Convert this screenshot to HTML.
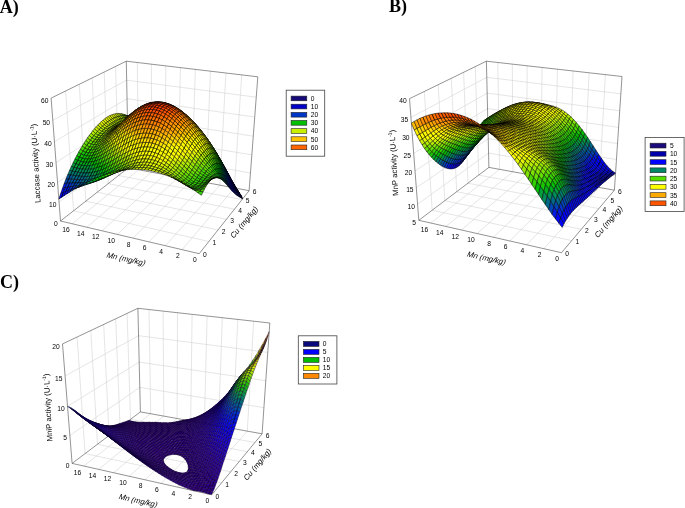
<!DOCTYPE html>
<html><head><meta charset="utf-8"><title>Figure</title>
<style>
html,body{margin:0;padding:0;background:#fff}
svg{display:block}
.g{stroke:#cfcfcf;stroke-width:.55;fill:none}
.e{stroke:#3a3a3a;stroke-width:.55;fill:none}
.s path{stroke:#000;stroke-width:.5;stroke-linejoin:round}
.sc path{stroke:#10002c;stroke-width:.4;stroke-linejoin:round}
text{font-family:"Liberation Sans",sans-serif;font-size:6.7px;fill:#000}
.t{font-size:7.8px}
.h{font-family:"Liberation Serif",serif;font-weight:bold;font-size:18px}
</style></head><body>
<svg width="685" height="508" viewBox="0 0 685 508">
<rect width="685" height="508" fill="#fff"/>
<g><path class="g" d="M182.1 249.7L234.4 187.9M165.4 245.7L220 185.1M149 241.9L205.9 182.5M133 238.1L191.9 179.8M117.3 234.4L178.3 177.2M101.9 230.8L164.8 174.7M86.9 227.2L151.6 172.2M72.1 223.8L138.6 169.7M208.9 241.5L73.5 210.8M218 230L85.8 201.2M226.5 219.3L97.3 192.2M234.5 209.2L108.3 183.6M242 199.6L118.6 175.5M73.5 210.8L65.7 90.9M85.8 201.2L79.3 84.2M97.3 192.2L92.2 77.9M108.3 183.6L104.2 72M118.6 175.5L115.6 66.4M59.1 202.1L128.1 151.2M57.6 182.6L127.7 134.1M56 162.5L127.4 116.6M54.4 141.7L127 98.7M52.8 120.3L126.6 80.2M234.4 187.9L241.7 74.9M220 185.1L225.9 73.1M205.9 182.5L210.5 71.2M191.9 179.8L195.3 69.4M178.3 177.2L180.4 67.6M164.8 174.7L165.8 65.9M151.6 172.2L151.4 64.2M138.6 169.7L137.3 62.5M250.5 173L128.1 151.2M251.8 154.9L127.7 134.1M253.3 136.2L127.4 116.6M254.7 117L127 98.7M256.3 97.2L126.6 80.2"/>
<path class="e" d="M60.5 221L199.2 253.7M199.2 253.7L249.1 190.7M60.5 221L128.4 167.8M128.4 167.8L249.1 190.7M60.5 221L51.1 98.1M128.4 167.8L126.3 61.2M249.1 190.7L257.8 76.8M51.1 98.1L126.3 61.2M126.3 61.2L257.8 76.8"/></g>
<g class="s"><path fill="#64df00" d="M128.4 116.1l-2.6-.9 1.6 .8 2.5 .4zM130.9 116.9l-2.5-.8 1.5 .3 2.5 .4zM133.5 117.5l-2.6-.6 1.5-.1 2.6 .4zM136.1 118l-2.6-.5 1.5-.3 2.5 .3zM138.6 118.4l-2.5-.4 1.4-.5 2.6 .4zM141.2 118.9l-2.6-.5 1.5-.5 2.6 .4zM143.8 119.3l-2.6-.4 1.5-.6 2.6 .6zM146.4 119.8l-2.6-.5 1.5-.4 2.6 .5zM149 120.3l-2.6-.5 1.5-.4 2.6 .7zM151.6 120.9l-2.6-.6 1.5-.2 2.6 .8zM154.3 121.6l-2.7-.7 1.5 0 2.6 .9z"/>
<path fill="#4bd800" d="M156.9 122.5l-2.6-.9 1.4 .2 2.6 1zM159.5 123.5l-2.6-1 1.4 .3 2.6 1.2zM162.2 124.6l-2.7-1.1 1.4 .5 2.7 1.2z"/>
<path fill="#32d000" d="M164.8 125.8l-2.6-1.2 1.4 .6 2.6 1.4zM167.5 127.2l-2.7-1.4 1.4 .8 2.6 1.6z"/>
<path fill="#19c700" d="M170.2 128.7l-2.7-1.5 1.3 1 2.7 1.6zM172.8 130.4l-2.6-1.7 1.3 1.1 2.6 1.8z"/>
<path fill="#00be00" d="M175.5 132.3l-2.7-1.9 1.3 1.2 2.7 1.9z"/>
<path fill="#00ae1d" d="M178.2 134.2l-2.7-1.9 1.3 1.2 2.6 2.1z"/>
<path fill="#009e3b" d="M180.8 136.3l-2.6-2.1 1.2 1.4 2.7 2.1z"/>
<path fill="#008e58" d="M183.5 138.5l-2.7-2.2 1.3 1.4 2.6 2.2zM186.2 140.8l-2.7-2.3 1.2 1.4 2.7 2.4z"/>
<path fill="#007c71" d="M188.8 143.3l-2.6-2.5 1.2 1.5 2.6 2.4z"/>
<path fill="#00579f" d="M191.5 145.8l-2.7-2.5 1.2 1.4 2.7 2.6z"/>
<path fill="#0045b6" d="M194.1 148.4l-2.6-2.6 1.2 1.5 2.6 2.6z"/>
<path fill="#0032cd" d="M196.8 151l-2.7-2.6 1.2 1.5 2.7 2.6z"/>
<path fill="#001ce3" d="M199.5 153.8l-2.7-2.8 1.2 1.5 2.6 2.8z"/>
<path fill="#0006f9" d="M202.1 156.5l-2.6-2.7 1.1 1.5 2.6 2.7z"/>
<path fill="#0000ff" d="M204.8 159.3l-2.7-2.8 1.1 1.5 2.7 2.9zM207.4 162.2l-2.6-2.9 1.1 1.6 2.6 2.8z"/>
<path fill="#0000e6" d="M210.1 165l-2.7-2.8 1.1 1.5 2.6 2.9z"/>
<path fill="#0000d9" d="M212.7 167.8l-2.6-2.8 1 1.6 2.7 2.9z"/>
<path fill="#0000cd" d="M215.4 170.7l-2.7-2.9 1.1 1.7 2.6 2.9z"/>
<path fill="#0000ae" d="M218 173.5l-2.6-2.8 1 1.7 2.6 2.9z"/>
<path fill="#07039c" d="M220.7 176.4l-2.7-2.9 1 1.8 2.6 2.9z"/>
<path fill="#0a0494" d="M223.3 179.2l-2.6-2.8 .9 1.8 2.7 2.9z"/>
<path fill="#0e068d" d="M226 182l-2.7-2.8 1 1.9 2.6 2.9z"/>
<path fill="#110785" d="M228.6 184.8l-2.6-2.8 .9 2 2.6 2.8z"/>
<path fill="#15097e" d="M231.3 187.5l-2.7-2.7 .9 2 .1 .2 2 1.3z"/>
<path fill="#180a76" d="M232.7 189l-1.4-1.5 .3 .8z"/>
<path fill="#7ee300" d="M126.8 115.9l-2.5-1.4 1.5 .7 2.6 .9zM129.4 117l-2.6-1.1 1.6 .2 2.5 .8zM132 117.8l-2.6-.8 1.5-.1 2.6 .6z"/>
<path fill="#64df00" d="M134.6 118.5l-2.6-.7 1.5-.3 2.6 .5zM137.2 119l-2.6-.5 1.5-.5 2.5 .4zM139.8 119.4l-2.6-.4 1.4-.6 2.6 .5zM142.4 119.8l-2.6-.4 1.4-.5 2.6 .4zM145 120.1l-2.6-.3 1.4-.5 2.6 .5zM147.6 120.5l-2.6-.4 1.4-.3 2.6 .5zM150.2 121l-2.6-.5 1.4-.2 2.6 .6zM152.9 121.5l-2.7-.5 1.4-.1 2.7 .7zM155.5 122.2l-2.6-.7 1.4 .1 2.6 .9zM158.2 123l-2.7-.8 1.4 .3 2.6 1zM160.8 123.9l-2.6-.9 1.3 .5 2.7 1.1z"/>
<path fill="#4bd800" d="M163.5 125l-2.7-1.1 1.4 .7 2.6 1.2zM166.2 126.2l-2.7-1.2 1.3 .8 2.7 1.4z"/>
<path fill="#32d000" d="M168.8 127.6l-2.6-1.4 1.3 1 2.7 1.5zM171.5 129.1l-2.7-1.5 1.4 1.1 2.6 1.7z"/>
<path fill="#19c700" d="M174.2 130.8l-2.7-1.7 1.3 1.3 2.7 1.9z"/>
<path fill="#00be00" d="M176.9 132.7l-2.7-1.9 1.3 1.5 2.7 1.9zM179.6 134.6l-2.7-1.9 1.3 1.5 2.6 2.1z"/>
<path fill="#00ae1d" d="M182.2 136.8l-2.6-2.2 1.2 1.7 2.7 2.2z"/>
<path fill="#009e3b" d="M184.9 139l-2.7-2.2 1.3 1.7 2.7 2.3z"/>
<path fill="#008e58" d="M187.6 141.3l-2.7-2.3 1.3 1.8 2.6 2.5z"/>
<path fill="#007c71" d="M190.3 143.8l-2.7-2.5 1.2 2 2.7 2.5z"/>
<path fill="#006a88" d="M193 146.3l-2.7-2.5 1.2 2 2.6 2.6z"/>
<path fill="#00579f" d="M195.6 149l-2.6-2.7 1.1 2.1 2.7 2.6z"/>
<path fill="#0045b6" d="M198.3 151.6l-2.7-2.6 1.2 2 2.7 2.8z"/>
<path fill="#001ce3" d="M201 154.4l-2.7-2.8 1.2 2.2 2.6 2.7z"/>
<path fill="#0006f9" d="M203.7 157.1l-2.7-2.7 1.1 2.1 2.7 2.8z"/>
<path fill="#0000ff" d="M206.3 159.9l-2.6-2.8 1.1 2.2 2.6 2.9zM209 162.7l-2.7-2.8 1.1 2.3 2.7 2.8z"/>
<path fill="#0000f2" d="M211.7 165.6l-2.7-2.9 1.1 2.3 2.6 2.8z"/>
<path fill="#0000d9" d="M214.4 168.4l-2.7-2.8 1 2.2 2.7 2.9z"/>
<path fill="#0000cd" d="M217 171.2l-2.6-2.8 1 2.3 2.6 2.8z"/>
<path fill="#0000ae" d="M219.7 174l-2.7-2.8 1 2.3 2.7 2.9z"/>
<path fill="#0301a3" d="M222.4 176.8l-2.7-2.8 1 2.4 2.6 2.8z"/>
<path fill="#07039c" d="M225 179.6l-2.6-2.8 .9 2.4 2.7 2.8z"/>
<path fill="#0e068d" d="M227.7 182.4l-2.7-2.8 1 2.4 2.6 2.8z"/>
<path fill="#110785" d="M230.4 185.2l-2.7-2.8 .9 2.4 2.7 2.7z"/>
<path fill="#15097e" d="M233 188l-2.6-2.8 .9 2.3 1.4 1.5 1 .6z"/>
<path fill="#180a76" d="M235.7 190.8l-2.7-2.8 .7 1.6 2.1 1.4zM236.1 191.2l-.4-.4 .1 .2z"/>
<path fill="#98e700" d="M125.3 115.8l-2.6-1.8 1.6 .5 2.5 1.4z"/>
<path fill="#7ee300" d="M127.9 117.2l-2.6-1.4 1.5 .1 2.6 1.1zM130.5 118.2l-2.6-1 1.5-.2 2.6 .8zM133.1 118.9l-2.6-.7 1.5-.4 2.6 .7zM135.7 119.5l-2.6-.6 1.5-.4 2.6 .5zM138.3 119.9l-2.6-.4 1.5-.5 2.6 .4zM140.9 120.2l-2.6-.3 1.5-.5 2.6 .4zM143.5 120.5l-2.6-.3 1.5-.4 2.6 .3zM146.1 120.8l-2.6-.3 1.5-.4 2.6 .4zM148.8 121.1l-2.7-.3 1.5-.3 2.6 .5zM151.4 121.5l-2.6-.4 1.4-.1 2.7 .5zM154.1 121.9l-2.7-.4 1.5 0 2.6 .7zM156.7 122.5l-2.6-.6 1.4 .3 2.7 .8z"/>
<path fill="#64df00" d="M159.4 123.3l-2.7-.8 1.5 .5 2.6 .9zM162.1 124.1l-2.7-.8 1.4 .6 2.7 1.1zM164.8 125.2l-2.7-1.1 1.4 .9 2.7 1.2z"/>
<path fill="#4bd800" d="M167.5 126.4l-2.7-1.2 1.4 1 2.6 1.4zM170.2 127.7l-2.7-1.3 1.3 1.2 2.7 1.5z"/>
<path fill="#32d000" d="M172.9 129.2l-2.7-1.5 1.3 1.4 2.7 1.7zM175.6 130.9l-2.7-1.7 1.3 1.6 2.7 1.9z"/>
<path fill="#19c700" d="M178.3 132.7l-2.7-1.8 1.3 1.8 2.7 1.9z"/>
<path fill="#00be00" d="M181 134.7l-2.7-2 1.3 1.9 2.6 2.2z"/>
<path fill="#00ae1d" d="M183.7 136.8l-2.7-2.1 1.2 2.1 2.7 2.2zM186.4 139l-2.7-2.2 1.2 2.2 2.7 2.3z"/>
<path fill="#009e3b" d="M189.1 141.4l-2.7-2.4 1.2 2.3 2.7 2.5z"/>
<path fill="#008e58" d="M191.8 143.8l-2.7-2.4 1.2 2.4 2.7 2.5z"/>
<path fill="#007c71" d="M194.5 146.4l-2.7-2.6 1.2 2.5 2.6 2.7z"/>
<path fill="#00579f" d="M197.2 149l-2.7-2.6 1.1 2.6 2.7 2.6z"/>
<path fill="#0045b6" d="M199.9 151.7l-2.7-2.7 1.1 2.6 2.7 2.8z"/>
<path fill="#0032cd" d="M202.6 154.4l-2.7-2.7 1.1 2.7 2.7 2.7z"/>
<path fill="#001ce3" d="M205.3 157.2l-2.7-2.8 1.1 2.7 2.6 2.8z"/>
<path fill="#0006f9" d="M208 159.9l-2.7-2.7 1 2.7 2.7 2.8z"/>
<path fill="#0000ff" d="M210.7 162.7l-2.7-2.8 1 2.8 2.7 2.9z"/>
<path fill="#0000f2" d="M213.4 165.6l-2.7-2.9 1 2.9 2.7 2.8z"/>
<path fill="#0000e6" d="M216 168.4l-2.6-2.8 1 2.8 2.6 2.8z"/>
<path fill="#0000d9" d="M218.7 171.2l-2.7-2.8 1 2.8 2.7 2.8z"/>
<path fill="#0000cd" d="M221.4 174.1l-2.7-2.9 1 2.8 2.7 2.8z"/>
<path fill="#0000ae" d="M224.1 176.9l-2.7-2.8 1 2.7 2.6 2.8z"/>
<path fill="#07039c" d="M226.8 179.8l-2.7-2.9 .9 2.7 2.7 2.8z"/>
<path fill="#0a0494" d="M229.5 182.7l-2.7-2.9 .9 2.6 2.7 2.8z"/>
<path fill="#0e068d" d="M232.2 185.6l-2.7-2.9 .9 2.5 2.6 2.8z"/>
<path fill="#110785" d="M234.8 188.6l-2.6-3 .8 2.4 2.7 2.8z"/>
<path fill="#15097e" d="M237.5 191.6l-2.7-3 .9 2.2 .4 .4 1.7 1.3z"/>
<path fill="#180a76" d="M238.9 193.3l-1.4-1.7 .3 .9z"/>
<path fill="#98e700" d="M123.7 115.8l-2.6-2.1 1.6 .3 2.6 1.8zM126.4 117.4l-2.7-1.6 1.6 0 2.6 1.4z"/>
<path fill="#7ee300" d="M129 118.6l-2.6-1.2 1.5-.2 2.6 1zM131.6 119.4l-2.6-.8 1.5-.4 2.6 .7zM134.2 120l-2.6-.6 1.5-.5 2.6 .6zM136.8 120.4l-2.6-.4 1.5-.5 2.6 .4zM139.4 120.7l-2.6-.3 1.5-.5 2.6 .3zM142 120.9l-2.6-.2 1.5-.5 2.6 .3zM144.7 121l-2.7-.1 1.5-.4 2.6 .3zM147.3 121.2l-2.6-.2 1.4-.2 2.7 .3zM150 121.4l-2.7-.2 1.5-.1 2.6 .4zM152.6 121.7l-2.6-.3 1.4 .1 2.7 .4zM155.3 122.1l-2.7-.4 1.5 .2 2.6 .6zM158 122.6l-2.7-.5 1.4 .4 2.7 .8zM160.7 123.2l-2.7-.6 1.4 .7 2.7 .8zM163.4 124l-2.7-.8 1.4 .9 2.7 1.1zM166.1 125l-2.7-1 1.4 1.2 2.7 1.2z"/>
<path fill="#64df00" d="M168.8 126.2l-2.7-1.2 1.4 1.4 2.7 1.3zM171.5 127.5l-2.7-1.3 1.4 1.5 2.7 1.5z"/>
<path fill="#4bd800" d="M174.3 128.9l-2.8-1.4 1.4 1.7 2.7 1.7zM177 130.6l-2.7-1.7 1.3 2 2.7 1.8z"/>
<path fill="#32d000" d="M179.7 132.4l-2.7-1.8 1.3 2.1 2.7 2z"/>
<path fill="#19c700" d="M182.4 134.3l-2.7-1.9 1.3 2.3 2.7 2.1z"/>
<path fill="#00be00" d="M185.2 136.4l-2.8-2.1 1.3 2.5 2.7 2.2z"/>
<path fill="#00ae1d" d="M187.9 138.7l-2.7-2.3 1.2 2.6 2.7 2.4z"/>
<path fill="#009e3b" d="M190.6 141l-2.7-2.3 1.2 2.7 2.7 2.4z"/>
<path fill="#008e58" d="M193.3 143.4l-2.7-2.4 1.2 2.8 2.7 2.6z"/>
<path fill="#007c71" d="M196.1 146l-2.8-2.6 1.2 3 2.7 2.6z"/>
<path fill="#006a88" d="M198.8 148.6l-2.7-2.6 1.1 3 2.7 2.7z"/>
<path fill="#00579f" d="M201.5 151.2l-2.7-2.6 1.1 3.1 2.7 2.7z"/>
<path fill="#0045b6" d="M204.2 154l-2.7-2.8 1.1 3.2 2.7 2.8z"/>
<path fill="#0032cd" d="M206.9 156.7l-2.7-2.7 1.1 3.2 2.7 2.7z"/>
<path fill="#001ce3" d="M209.6 159.5l-2.7-2.8 1.1 3.2 2.7 2.8z"/>
<path fill="#0006f9" d="M212.4 162.4l-2.8-2.9 1.1 3.2 2.7 2.9z"/>
<path fill="#0000ff" d="M215.1 165.3l-2.7-2.9 1 3.2 2.6 2.8z"/>
<path fill="#0000f2" d="M217.8 168.1l-2.7-2.8 .9 3.1 2.7 2.8z"/>
<path fill="#0000e6" d="M220.5 171.1l-2.7-3 .9 3.1 2.7 2.9z"/>
<path fill="#0000d9" d="M223.2 174l-2.7-2.9 .9 3 2.7 2.8z"/>
<path fill="#0000ae" d="M225.9 177l-2.7-3 .9 2.9 2.7 2.9z"/>
<path fill="#0301a3" d="M228.6 180.1l-2.7-3.1 .9 2.8 2.7 2.9z"/>
<path fill="#07039c" d="M231.3 183.2l-2.7-3.1 .9 2.6 2.7 2.9z"/>
<path fill="#0a0494" d="M234 186.4l-2.7-3.2 .9 2.4 2.6 3z"/>
<path fill="#110785" d="M236.6 189.7l-2.6-3.3 .8 2.2 2.7 3z"/>
<path fill="#15097e" d="M239.3 193.1l-2.7-3.4 .9 1.9 1.4 1.7 .9 .8z"/>
<path fill="#180a76" d="M240.8 195.2l-1.5-2.1 .5 1z"/>
<path fill="#b3ec00" d="M122.2 115.9l-2.7-2.4 1.6 .2 2.6 2.1z"/>
<path fill="#98e700" d="M124.8 117.7l-2.6-1.8 1.5-.1 2.7 1.6zM127.4 119l-2.6-1.3 1.6-.3 2.6 1.2z"/>
<path fill="#7ee300" d="M130 119.9l-2.6-.9 1.6-.4 2.6 .8zM132.6 120.5l-2.6-.6 1.6-.5 2.6 .6zM135.3 120.9l-2.7-.4 1.6-.5 2.6 .4zM137.9 121.1l-2.6-.2 1.5-.5 2.6 .3zM140.5 121.2l-2.6-.1 1.5-.4 2.6 .2zM143.2 121.2l-2.7 0 1.5-.3 2.7 .1z"/>
<path fill="#98e700" d="M145.8 121.2l-2.6 0 1.5-.2 2.6 .2zM148.5 121.2l-2.7 0 1.5 0 2.7 .2zM151.2 121.3l-2.7-.1 1.5 .2 2.6 .3zM153.9 121.5l-2.7-.2 1.4 .4 2.7 .4zM156.6 121.8l-2.7-.3 1.4 .6 2.7 .5zM159.3 122.2l-2.7-.4 1.4 .8 2.7 .6zM162 122.8l-2.7-.6 1.4 1 2.7 .8zM164.7 123.6l-2.7-.8 1.4 1.2 2.7 1z"/>
<path fill="#7ee300" d="M167.4 124.5l-2.7-.9 1.4 1.4 2.7 1.2zM170.2 125.6l-2.8-1.1 1.4 1.7 2.7 1.3zM172.9 126.8l-2.7-1.2 1.3 1.9 2.8 1.4z"/>
<path fill="#64df00" d="M175.7 128.3l-2.8-1.5 1.4 2.1 2.7 1.7zM178.4 129.9l-2.7-1.6 1.3 2.3 2.7 1.8z"/>
<path fill="#4bd800" d="M181.2 131.7l-2.8-1.8 1.3 2.5 2.7 1.9z"/>
<path fill="#32d000" d="M183.9 133.6l-2.7-1.9 1.2 2.6 2.8 2.1z"/>
<path fill="#19c700" d="M186.7 135.7l-2.8-2.1 1.3 2.8 2.7 2.3zM189.4 137.9l-2.7-2.2 1.2 3 2.7 2.3z"/>
<path fill="#00be00" d="M192.2 140.2l-2.8-2.3 1.2 3.1 2.7 2.4z"/>
<path fill="#00ae1d" d="M194.9 142.6l-2.7-2.4 1.1 3.2 2.8 2.6z"/>
<path fill="#009e3b" d="M197.7 145.2l-2.8-2.6 1.2 3.4 2.7 2.6z"/>
<path fill="#007c71" d="M200.4 147.8l-2.7-2.6 1.1 3.4 2.7 2.6z"/>
<path fill="#006a88" d="M203.1 150.5l-2.7-2.7 1.1 3.4 2.7 2.8z"/>
<path fill="#00579f" d="M205.9 153.2l-2.8-2.7 1.1 3.5 2.7 2.7z"/>
<path fill="#0045b6" d="M208.6 156.1l-2.7-2.9 1 3.5 2.7 2.8z"/>
<path fill="#0032cd" d="M211.3 158.9l-2.7-2.8 1 3.4 2.8 2.9z"/>
<path fill="#001ce3" d="M214.1 161.9l-2.8-3 1.1 3.5 2.7 2.9z"/>
<path fill="#0000ff" d="M216.8 164.9l-2.7-3 1 3.4 2.7 2.8zM219.5 167.9l-2.7-3 1 3.2 2.7 3z"/>
<path fill="#0000f2" d="M222.2 171l-2.7-3.1 1 3.2 2.7 2.9z"/>
<path fill="#0000e6" d="M225 174.1l-2.8-3.1 1 3 2.7 3z"/>
<path fill="#0000cd" d="M227.7 177.4l-2.7-3.3 .9 2.9 2.7 3.1z"/>
<path fill="#0000ae" d="M230.4 180.7l-2.7-3.3 .9 2.7 2.7 3.1z"/>
<path fill="#0301a3" d="M233 184.2l-2.6-3.5 .9 2.5 2.7 3.2z"/>
<path fill="#0a0494" d="M235.7 187.8l-2.7-3.6 1 2.2 2.6 3.3z"/>
<path fill="#110785" d="M238.4 191.5l-2.7-3.7 .9 1.9 2.7 3.4z"/>
<path fill="#15097e" d="M241 195.5l-2.6-4 .9 1.6 1.5 2.1 .7 .9z"/>
<path fill="#180a76" d="M241.9 197l-.9-1.5 .5 .6z"/>
<path fill="#cdf000" d="M120.6 116.1l-2.7-2.7 1.6 .1 2.7 2.4z"/>
<path fill="#b3ec00" d="M123.2 118l-2.6-1.9 1.6-.2 2.6 1.8z"/>
<path fill="#98e700" d="M125.9 119.5l-2.7-1.5 1.6-.3 2.6 1.3zM128.5 120.4l-2.6-.9 1.5-.5 2.6 .9z"/>
<path fill="#7ee300" d="M131.1 121l-2.6-.6 1.5-.5 2.6 .6zM133.7 121.4l-2.6-.4 1.5-.5 2.7 .4zM136.4 121.5l-2.7-.1 1.6-.5 2.6 .2z"/>
<path fill="#98e700" d="M139 121.5l-2.6 0 1.5-.4 2.6 .1zM141.7 121.3l-2.7 .2 1.5-.3 2.7 0zM144.3 121.2l-2.6 .1 1.5-.1 2.6 0zM147 121l-2.7 .2 1.5 0 2.7 0z"/>
<path fill="#b3ec00" d="M149.7 120.9l-2.7 .1 1.5 .2 2.7 .1zM152.4 120.9l-2.7 0 1.5 .4 2.7 .2zM155.1 120.9l-2.7 0 1.5 .6 2.7 .3zM157.8 121.1l-2.7-.2 1.5 .9 2.7 .4zM160.6 121.5l-2.8-.4 1.5 1.1 2.7 .6zM163.3 122l-2.7-.5 1.4 1.3 2.7 .8zM166.1 122.7l-2.8-.7 1.4 1.6 2.7 .9zM168.8 123.5l-2.7-.8 1.3 1.8 2.8 1.1z"/>
<path fill="#98e700" d="M171.6 124.6l-2.8-1.1 1.4 2.1 2.7 1.2zM174.3 125.8l-2.7-1.2 1.3 2.2 2.8 1.5z"/>
<path fill="#7ee300" d="M177.1 127.2l-2.8-1.4 1.4 2.5 2.7 1.6zM179.9 128.8l-2.8-1.6 1.3 2.7 2.8 1.8z"/>
<path fill="#64df00" d="M182.7 130.6l-2.8-1.8 1.3 2.9 2.7 1.9z"/>
<path fill="#4bd800" d="M185.4 132.5l-2.7-1.9 1.2 3 2.8 2.1zM188.2 134.6l-2.8-2.1 1.3 3.2 2.7 2.2z"/>
<path fill="#32d000" d="M191 136.8l-2.8-2.2 1.2 3.3 2.8 2.3z"/>
<path fill="#19c700" d="M193.7 139.1l-2.7-2.3 1.2 3.4 2.7 2.4z"/>
<path fill="#00be00" d="M196.5 141.6l-2.8-2.5 1.2 3.5 2.8 2.6z"/>
<path fill="#00ae1d" d="M199.3 144.1l-2.8-2.5 1.2 3.6 2.7 2.6z"/>
<path fill="#009e3b" d="M202 146.8l-2.7-2.7 1.1 3.7 2.7 2.7z"/>
<path fill="#008e58" d="M204.8 149.6l-2.8-2.8 1.1 3.7 2.8 2.7z"/>
<path fill="#006a88" d="M207.6 152.4l-2.8-2.8 1.1 3.6 2.7 2.9z"/>
<path fill="#00579f" d="M210.3 155.3l-2.7-2.9 1 3.7 2.7 2.8z"/>
<path fill="#0045b6" d="M213.1 158.4l-2.8-3.1 1 3.6 2.8 3z"/>
<path fill="#0032cd" d="M215.8 161.4l-2.7-3 1 3.5 2.7 3z"/>
<path fill="#001ce3" d="M218.6 164.6l-2.8-3.2 1 3.5 2.7 3z"/>
<path fill="#0000ff" d="M221.3 167.9l-2.7-3.3 .9 3.3 2.7 3.1zM224 171.2l-2.7-3.3 .9 3.1 2.8 3.1z"/>
<path fill="#0000e6" d="M226.7 174.7l-2.7-3.5 1 2.9 2.7 3.3z"/>
<path fill="#0000d9" d="M229.4 178.3l-2.7-3.6 1 2.7 2.7 3.3z"/>
<path fill="#0000ae" d="M232.1 182l-2.7-3.7 1 2.4 2.6 3.5z"/>
<path fill="#0301a3" d="M234.8 185.9l-2.7-3.9 .9 2.2 2.7 3.6z"/>
<path fill="#0a0494" d="M237.5 190l-2.7-4.1 .9 1.9 2.7 3.7z"/>
<path fill="#110785" d="M240.1 194.4l-2.6-4.4 .9 1.5 2.6 4z"/>
<path fill="#15097e" d="M242.5 198.7l-2.4-4.3 .9 1.1 .9 1.5z"/>
<path fill="#cdf000" d="M119 116.4l-2.7-2.8 1.6-.2 2.7 2.7z"/>
<path fill="#b3ec00" d="M121.6 118.5l-2.6-2.1 1.6-.3 2.6 1.9z"/>
<path fill="#98e700" d="M124.3 120l-2.7-1.5 1.6-.5 2.7 1.5zM126.9 121l-2.6-1 1.6-.5 2.6 .9zM129.6 121.5l-2.7-.5 1.6-.6 2.6 .6zM132.2 121.8l-2.6-.3 1.5-.5 2.6 .4zM134.8 121.8l-2.6 0 1.5-.4 2.7 .1zM137.5 121.7l-2.7 .1 1.6-.3 2.6 0zM140.2 121.4l-2.7 .3 1.5-.2 2.7-.2z"/>
<path fill="#b3ec00" d="M142.8 121.1l-2.6 .3 1.5-.1 2.6-.1zM145.5 120.7l-2.7 .4 1.5 .1 2.7-.2zM148.2 120.4l-2.7 .3 1.5 .3 2.7-.1z"/>
<path fill="#cdf000" d="M150.9 120.1l-2.7 .3 1.5 .5 2.7 0zM153.6 120l-2.7 .1 1.5 .8 2.7 0zM156.4 120l-2.8 0 1.5 .9 2.7 .2zM159.1 120.1l-2.7-.1 1.4 1.1 2.8 .4zM161.9 120.3l-2.8-.2 1.5 1.4 2.7 .5zM164.7 120.8l-2.8-.5 1.4 1.7 2.8 .7zM167.4 121.4l-2.7-.6 1.4 1.9 2.7 .8zM170.2 122.2l-2.8-.8 1.4 2.1 2.8 1.1zM173 123.2l-2.8-1 1.4 2.4 2.7 1.2z"/>
<path fill="#b3ec00" d="M175.8 124.5l-2.8-1.3 1.3 2.6 2.8 1.4zM178.6 125.9l-2.8-1.4 1.3 2.7 2.8 1.6z"/>
<path fill="#98e700" d="M181.4 127.4l-2.8-1.5 1.3 2.9 2.8 1.8zM184.2 129.2l-2.8-1.8 1.3 3.2 2.7 1.9z"/>
<path fill="#7ee300" d="M187 131.1l-2.8-1.9 1.2 3.3 2.8 2.1z"/>
<path fill="#64df00" d="M189.8 133.2l-2.8-2.1 1.2 3.5 2.8 2.2z"/>
<path fill="#4bd800" d="M192.6 135.5l-2.8-2.3 1.2 3.6 2.7 2.3z"/>
<path fill="#32d000" d="M195.4 137.9l-2.8-2.4 1.1 3.6 2.8 2.5z"/>
<path fill="#19c700" d="M198.2 140.4l-2.8-2.5 1.1 3.7 2.8 2.5z"/>
<path fill="#00be00" d="M200.9 143l-2.7-2.6 1.1 3.7 2.7 2.7z"/>
<path fill="#00ae1d" d="M203.7 145.8l-2.8-2.8 1.1 3.8 2.8 2.8z"/>
<path fill="#009e3b" d="M206.5 148.7l-2.8-2.9 1.1 3.8 2.8 2.8z"/>
<path fill="#008e58" d="M209.3 151.7l-2.8-3 1.1 3.7 2.7 2.9z"/>
<path fill="#006a88" d="M212.1 154.8l-2.8-3.1 1 3.6 2.8 3.1z"/>
<path fill="#00579f" d="M214.8 158l-2.7-3.2 1 3.6 2.7 3z"/>
<path fill="#0045b6" d="M217.6 161.3l-2.8-3.3 1 3.4 2.8 3.2z"/>
<path fill="#001ce3" d="M220.3 164.7l-2.7-3.4 1 3.3 2.7 3.3z"/>
<path fill="#0006f9" d="M223.1 168.3l-2.8-3.6 1 3.2 2.7 3.3z"/>
<path fill="#0000ff" d="M225.8 172l-2.7-3.7 .9 2.9 2.7 3.5z"/>
<path fill="#0000f2" d="M228.5 175.8l-2.7-3.8 .9 2.7 2.7 3.6z"/>
<path fill="#0000d9" d="M231.2 179.9l-2.7-4.1 .9 2.5 2.7 3.7z"/>
<path fill="#0000ae" d="M233.9 184.1l-2.7-4.2 .9 2.1 2.7 3.9z"/>
<path fill="#0301a3" d="M236.5 188.6l-2.6-4.5 .9 1.8 2.7 4.1z"/>
<path fill="#0a0494" d="M239.2 193.3l-2.7-4.7 1 1.4 2.6 4.4z"/>
<path fill="#15097e" d="M241.8 198.4l-2.6-5.1 .9 1.1 2.4 4.3 .1 .2z"/>
<path fill="#cdf000" d="M117.4 116.8l-2.7-2.9 1.6-.3 2.7 2.8z"/>
<path fill="#b3ec00" d="M120.1 119l-2.7-2.2 1.6-.4 2.6 2.1zM122.7 120.5l-2.6-1.5 1.5-.5 2.7 1.5z"/>
<path fill="#98e700" d="M125.4 121.5l-2.7-1 1.6-.5 2.6 1zM128 122.1l-2.6-.6 1.5-.5 2.7 .5zM130.6 122.2l-2.6-.1 1.6-.6 2.6 .3zM133.3 122.2l-2.7 0 1.6-.4 2.6 0zM135.9 121.9l-2.6 .3 1.5-.4 2.7-.1z"/>
<path fill="#b3ec00" d="M138.6 121.4l-2.7 .5 1.6-.2 2.7-.3zM141.3 120.9l-2.7 .5 1.6 0 2.6-.3z"/>
<path fill="#cdf000" d="M144 120.4l-2.7 .5 1.5 .2 2.7-.4zM146.7 119.8l-2.7 .6 1.5 .3 2.7-.3zM149.4 119.4l-2.7 .4 1.5 .6 2.7-.3z"/>
<path fill="#e3f700" d="M152.2 119l-2.8 .4 1.5 .7 2.7-.1zM154.9 118.7l-2.7 .3 1.4 1 2.8 0zM157.7 118.6l-2.8 .1 1.5 1.3 2.7 .1zM160.4 118.6l-2.7 0 1.4 1.5 2.8 .2z"/>
<path fill="#f9fd00" d="M163.2 118.8l-2.8-.2 1.5 1.7 2.8 .5zM166 119.2l-2.8-.4 1.5 2 2.7 .6z"/>
<path fill="#e3f700" d="M168.8 119.8l-2.8-.6 1.4 2.2 2.8 .8zM171.6 120.6l-2.8-.8 1.4 2.4 2.8 1zM174.4 121.6l-2.8-1 1.4 2.6 2.8 1.3zM177.3 122.8l-2.9-1.2 1.4 2.9 2.8 1.4z"/>
<path fill="#cdf000" d="M180.1 124.3l-2.8-1.5 1.3 3.1 2.8 1.5zM182.9 125.9l-2.8-1.6 1.3 3.1 2.8 1.8z"/>
<path fill="#b3ec00" d="M185.7 127.7l-2.8-1.8 1.3 3.3 2.8 1.9z"/>
<path fill="#98e700" d="M188.6 129.7l-2.9-2 1.3 3.4 2.8 2.1z"/>
<path fill="#7ee300" d="M191.4 131.8l-2.8-2.1 1.2 3.5 2.8 2.3zM194.2 134.2l-2.8-2.4 1.2 3.7 2.8 2.4z"/>
<path fill="#64df00" d="M197 136.7l-2.8-2.5 1.2 3.7 2.8 2.5z"/>
<path fill="#4bd800" d="M199.8 139.3l-2.8-2.6 1.2 3.7 2.7 2.6z"/>
<path fill="#19c700" d="M202.6 142.1l-2.8-2.8 1.1 3.7 2.8 2.8z"/>
<path fill="#00be00" d="M205.4 145l-2.8-2.9 1.1 3.7 2.8 2.9z"/>
<path fill="#00ae1d" d="M208.2 148.1l-2.8-3.1 1.1 3.7 2.8 3z"/>
<path fill="#009e3b" d="M211 151.3l-2.8-3.2 1.1 3.6 2.8 3.1z"/>
<path fill="#007c71" d="M213.8 154.6l-2.8-3.3 1.1 3.5 2.7 3.2z"/>
<path fill="#006a88" d="M216.6 158l-2.8-3.4 1 3.4 2.8 3.3z"/>
<path fill="#00579f" d="M219.3 161.7l-2.7-3.7 1 3.3 2.7 3.4z"/>
<path fill="#0032cd" d="M222.1 165.4l-2.8-3.7 1 3 2.8 3.6z"/>
<path fill="#0006f9" d="M224.8 169.4l-2.7-4 1 2.9 2.7 3.7z"/>
<path fill="#0000ff" d="M227.5 173.5l-2.7-4.1 1 2.6 2.7 3.8z"/>
<path fill="#0000f2" d="M230.2 177.8l-2.7-4.3 1 2.3 2.7 4.1z"/>
<path fill="#0000d9" d="M232.9 182.4l-2.7-4.6 1 2.1 2.7 4.2z"/>
<path fill="#0000ae" d="M235.6 187.2l-2.7-4.8 1 1.7 2.6 4.5z"/>
<path fill="#07039c" d="M238.2 192.3l-2.6-5.1 .9 1.4 2.7 4.7z"/>
<path fill="#0e068d" d="M240.8 197.8l-2.6-5.5 1 1 2.6 5.1z"/>
<path fill="#e3f700" d="M115.8 117.4l-2.7-3.1 1.6-.4 2.7 2.9z"/>
<path fill="#b3ec00" d="M118.4 119.6l-2.6-2.2 1.6-.6 2.7 2.2zM121.1 121.1l-2.7-1.5 1.7-.6 2.6 1.5z"/>
<path fill="#98e700" d="M123.8 122.1l-2.7-1 1.6-.6 2.7 1zM126.4 122.6l-2.6-.5 1.6-.6 2.6 .6zM129.1 122.7l-2.7-.1 1.6-.5 2.6 .1zM131.7 122.5l-2.6 .2 1.5-.5 2.7 0z"/>
<path fill="#b3ec00" d="M134.4 122l-2.7 .5 1.6-.3 2.6-.3zM137.1 121.4l-2.7 .6 1.5-.1 2.7-.5z"/>
<path fill="#cdf000" d="M139.8 120.7l-2.7 .7 1.5 0 2.7-.5zM142.5 119.9l-2.7 .8 1.5 .2 2.7-.5z"/>
<path fill="#e3f700" d="M145.2 119.2l-2.7 .7 1.5 .5 2.7-.6zM147.9 118.5l-2.7 .7 1.5 .6 2.7-.4z"/>
<path fill="#f9fd00" d="M150.7 117.9l-2.8 .6 1.5 .9 2.8-.4zM153.4 117.4l-2.7 .5 1.5 1.1 2.7-.3zM156.2 117l-2.8 .4 1.5 1.3 2.8-.1z"/>
<path fill="#ffff00" d="M159 116.8l-2.8 .2 1.5 1.6 2.7 0zM161.8 116.8l-2.8 0 1.4 1.8 2.8 .2zM164.6 117l-2.8-.2 1.4 2 2.8 .4zM167.4 117.4l-2.8-.4 1.4 2.2 2.8 .6zM170.3 118l-2.9-.6 1.4 2.4 2.8 .8zM173.1 118.8l-2.8-.8 1.3 2.6 2.8 1zM175.9 119.9l-2.8-1.1 1.3 2.8 2.9 1.2z"/>
<path fill="#f9fd00" d="M178.8 121.1l-2.9-1.2 1.4 2.9 2.8 1.5zM181.6 122.6l-2.8-1.5 1.3 3.2 2.8 1.6z"/>
<path fill="#e3f700" d="M184.5 124.3l-2.9-1.7 1.3 3.3 2.8 1.8z"/>
<path fill="#cdf000" d="M187.3 126.2l-2.8-1.9 1.2 3.4 2.9 2zM190.2 128.3l-2.9-2.1 1.3 3.5 2.8 2.1z"/>
<path fill="#b3ec00" d="M193 130.6l-2.8-2.3 1.2 3.5 2.8 2.4z"/>
<path fill="#98e700" d="M195.8 133l-2.8-2.4 1.2 3.6 2.8 2.5z"/>
<path fill="#7ee300" d="M198.7 135.6l-2.9-2.6 1.2 3.7 2.8 2.6z"/>
<path fill="#64df00" d="M201.5 138.4l-2.8-2.8 1.1 3.7 2.8 2.8z"/>
<path fill="#4bd800" d="M204.3 141.4l-2.8-3 1.1 3.7 2.8 2.9z"/>
<path fill="#19c700" d="M207.1 144.5l-2.8-3.1 1.1 3.6 2.8 3.1z"/>
<path fill="#00be00" d="M210 147.8l-2.9-3.3 1.1 3.6 2.8 3.2z"/>
<path fill="#00ae1d" d="M212.8 151.3l-2.8-3.5 1 3.5 2.8 3.3z"/>
<path fill="#008e58" d="M215.5 154.9l-2.7-3.6 1 3.3 2.8 3.4z"/>
<path fill="#007c71" d="M218.3 158.7l-2.8-3.8 1.1 3.1 2.7 3.7z"/>
<path fill="#00579f" d="M221.1 162.7l-2.8-4 1 3 2.8 3.7z"/>
<path fill="#0032cd" d="M223.8 166.8l-2.7-4.1 1 2.7 2.7 4z"/>
<path fill="#001ce3" d="M226.6 171.2l-2.8-4.4 1 2.6 2.7 4.1z"/>
<path fill="#0000ff" d="M229.3 175.8l-2.7-4.6 .9 2.3 2.7 4.3z"/>
<path fill="#0000f2" d="M231.9 180.7l-2.6-4.9 .9 2 2.7 4.6z"/>
<path fill="#0000d9" d="M234.6 185.9l-2.7-5.2 1 1.7 2.7 4.8z"/>
<path fill="#0301a3" d="M237.2 191.4l-2.6-5.5 1 1.3 2.6 5.1z"/>
<path fill="#0a0494" d="M239.8 197.2l-2.6-5.8 1 .9 2.6 5.5z"/>
<path fill="#e3f700" d="M114.1 118l-2.7-3.1 1.7-.6 2.7 3.1z"/>
<path fill="#cdf000" d="M116.8 120.3l-2.7-2.3 1.7-.6 2.6 2.2z"/>
<path fill="#b3ec00" d="M119.5 121.8l-2.7-1.5 1.6-.7 2.7 1.5zM122.2 122.7l-2.7-.9 1.6-.7 2.7 1z"/>
<path fill="#98e700" d="M124.8 123.1l-2.6-.4 1.6-.6 2.6 .5zM127.5 123.1l-2.7 0 1.6-.5 2.7 .1z"/>
<path fill="#b3ec00" d="M130.1 122.7l-2.6 .4 1.6-.4 2.6-.2zM132.8 122.1l-2.7 .6 1.6-.2 2.7-.5z"/>
<path fill="#cdf000" d="M135.5 121.3l-2.7 .8 1.6-.1 2.7-.6zM138.2 120.4l-2.7 .9 1.6 .1 2.7-.7z"/>
<path fill="#e3f700" d="M140.9 119.5l-2.7 .9 1.6 .3 2.7-.8z"/>
<path fill="#f9fd00" d="M143.6 118.5l-2.7 1 1.6 .4 2.7-.7zM146.4 117.6l-2.8 .9 1.6 .7 2.7-.7z"/>
<path fill="#ffff00" d="M149.1 116.7l-2.7 .9 1.5 .9 2.8-.6zM151.9 116l-2.8 .7 1.6 1.2 2.7-.5zM154.7 115.4l-2.8 .6 1.5 1.4 2.8-.4zM157.5 115l-2.8 .4 1.5 1.6 2.8-.2zM160.3 114.8l-2.8 .2 1.5 1.8 2.8 0z"/>
<path fill="#ffef00" d="M163.2 114.8l-2.9 0 1.5 2 2.8 .2zM166 115l-2.8-.2 1.4 2.2 2.8 .4zM168.8 115.4l-2.8-.4 1.4 2.4 2.9 .6zM171.7 116l-2.9-.6 1.5 2.6 2.8 .8z"/>
<path fill="#ffff00" d="M174.6 116.9l-2.9-.9 1.4 2.8 2.8 1.1zM177.4 118.1l-2.8-1.2 1.3 3 2.9 1.2zM180.3 119.4l-2.9-1.3 1.4 3 2.8 1.5zM183.2 121l-2.9-1.6 1.3 3.2 2.9 1.7zM186 122.8l-2.8-1.8 1.3 3.3 2.8 1.9z"/>
<path fill="#f9fd00" d="M188.9 124.8l-2.9-2 1.3 3.4 2.9 2.1z"/>
<path fill="#e3f700" d="M191.8 127.1l-2.9-2.3 1.3 3.5 2.8 2.3z"/>
<path fill="#cdf000" d="M194.6 129.5l-2.8-2.4 1.2 3.5 2.8 2.4z"/>
<path fill="#b3ec00" d="M197.5 132.2l-2.9-2.7 1.2 3.5 2.9 2.6z"/>
<path fill="#98e700" d="M200.3 135l-2.8-2.8 1.2 3.4 2.8 2.8z"/>
<path fill="#7ee300" d="M203.2 138l-2.9-3 1.2 3.4 2.8 3z"/>
<path fill="#64df00" d="M206 141.2l-2.8-3.2 1.1 3.4 2.8 3.1z"/>
<path fill="#32d000" d="M208.9 144.6l-2.9-3.4 1.1 3.3 2.9 3.3z"/>
<path fill="#19c700" d="M211.7 148.2l-2.8-3.6 1.1 3.2 2.8 3.5z"/>
<path fill="#00ae1d" d="M214.5 151.9l-2.8-3.7 1.1 3.1 2.7 3.6z"/>
<path fill="#009e3b" d="M217.3 155.9l-2.8-4 1 3 2.8 3.8z"/>
<path fill="#007c71" d="M220.1 160l-2.8-4.1 1 2.8 2.8 4z"/>
<path fill="#00579f" d="M222.8 164.4l-2.7-4.4 1 2.7 2.7 4.1z"/>
<path fill="#0032cd" d="M225.6 169l-2.8-4.6 1 2.4 2.8 4.4z"/>
<path fill="#0006f9" d="M228.3 173.9l-2.7-4.9 1 2.2 2.7 4.6z"/>
<path fill="#0000ff" d="M231 179.1l-2.7-5.2 1 1.9 2.6 4.9z"/>
<path fill="#0000e6" d="M233.6 184.6l-2.6-5.5 .9 1.6 2.7 5.2z"/>
<path fill="#0000ae" d="M236.2 190.4l-2.6-5.8 1 1.3 2.6 5.5z"/>
<path fill="#07039c" d="M238.8 196.6l-2.6-6.2 1 1 2.6 5.8z"/>
<path fill="#e3f700" d="M112.5 118.8l-2.7-3.2 1.6-.7 2.7 3.1z"/>
<path fill="#cdf000" d="M115.2 121.1l-2.7-2.3 1.6-.8 2.7 2.3z"/>
<path fill="#b3ec00" d="M117.9 122.6l-2.7-1.5 1.6-.8 2.7 1.5zM120.6 123.4l-2.7-.8 1.6-.8 2.7 .9zM123.2 123.7l-2.6-.3 1.6-.7 2.6 .4zM125.9 123.5l-2.7 .2 1.6-.6 2.7 0zM128.6 123l-2.7 .5 1.6-.4 2.6-.4z"/>
<path fill="#cdf000" d="M131.2 122.2l-2.6 .8 1.5-.3 2.7-.6zM133.9 121.3l-2.7 .9 1.6-.1 2.7-.8z"/>
<path fill="#e3f700" d="M136.6 120.2l-2.7 1.1 1.6 0 2.7-.9z"/>
<path fill="#f9fd00" d="M139.3 119l-2.7 1.2 1.6 .2 2.7-.9zM142.1 117.8l-2.8 1.2 1.6 .5 2.7-1z"/>
<path fill="#ffff00" d="M144.8 116.7l-2.7 1.1 1.5 .7 2.8-.9zM147.6 115.6l-2.8 1.1 1.6 .9 2.7-.9zM150.4 114.6l-2.8 1 1.5 1.1 2.8-.7z"/>
<path fill="#ffef00" d="M153.2 113.8l-2.8 .8 1.5 1.4 2.8-.6zM156 113.2l-2.8 .6 1.5 1.6 2.8-.4z"/>
<path fill="#ffde00" d="M158.9 112.8l-2.9 .4 1.5 1.8 2.8-.2zM161.7 112.6l-2.8 .2 1.4 2 2.9 0zM164.6 112.6l-2.9 0 1.5 2.2 2.8 .2zM167.4 112.9l-2.8-.3 1.4 2.4 2.8 .4zM170.3 113.4l-2.9-.5 1.4 2.5 2.9 .6zM173.2 114.1l-2.9-.7 1.4 2.6 2.9 .9zM176.1 115.1l-2.9-1 1.4 2.8 2.8 1.2zM179 116.4l-2.9-1.3 1.3 3 2.9 1.3z"/>
<path fill="#ffef00" d="M181.8 117.9l-2.8-1.5 1.3 3 2.9 1.6zM184.7 119.6l-2.9-1.7 1.4 3.1 2.8 1.8z"/>
<path fill="#ffff00" d="M187.6 121.6l-2.9-2 1.3 3.2 2.9 2zM190.5 123.8l-2.9-2.2 1.3 3.2 2.9 2.3z"/>
<path fill="#f9fd00" d="M193.4 126.3l-2.9-2.5 1.3 3.3 2.8 2.4z"/>
<path fill="#e3f700" d="M196.3 128.9l-2.9-2.6 1.2 3.2 2.9 2.7z"/>
<path fill="#cdf000" d="M199.2 131.8l-2.9-2.9 1.2 3.3 2.8 2.8z"/>
<path fill="#b3ec00" d="M202 134.9l-2.8-3.1 1.1 3.2 2.9 3z"/>
<path fill="#98e700" d="M204.9 138.1l-2.9-3.2 1.2 3.1 2.8 3.2z"/>
<path fill="#64df00" d="M207.7 141.6l-2.8-3.5 1.1 3.1 2.9 3.4z"/>
<path fill="#4bd800" d="M210.6 145.3l-2.9-3.7 1.2 3 2.8 3.6z"/>
<path fill="#19c700" d="M213.4 149.2l-2.8-3.9 1.1 2.9 2.8 3.7z"/>
<path fill="#00be00" d="M216.2 153.3l-2.8-4.1 1.1 2.7 2.8 4z"/>
<path fill="#009e3b" d="M219 157.6l-2.8-4.3 1.1 2.6 2.8 4.1z"/>
<path fill="#007c71" d="M221.8 162.2l-2.8-4.6 1.1 2.4 2.7 4.4z"/>
<path fill="#00579f" d="M224.5 167l-2.7-4.8 1 2.2 2.8 4.6z"/>
<path fill="#0032cd" d="M227.3 172.1l-2.8-5.1 1.1 2 2.7 4.9z"/>
<path fill="#0006f9" d="M229.9 177.5l-2.6-5.4 1 1.8 2.7 5.2z"/>
<path fill="#0000f2" d="M232.6 183.3l-2.7-5.8 1.1 1.6 2.6 5.5z"/>
<path fill="#0000d9" d="M235.2 189.4l-2.6-6.1 1 1.3 2.6 5.8z"/>
<path fill="#0301a3" d="M237.8 196l-2.6-6.6 1 1 2.6 6.2z"/>
<path fill="#e3f700" d="M110.8 119.7l-2.7-3.2 1.7-.9 2.7 3.2z"/>
<path fill="#cdf000" d="M113.6 122l-2.8-2.3 1.7-.9 2.7 2.3z"/>
<path fill="#b3ec00" d="M116.2 123.4l-2.6-1.4 1.6-.9 2.7 1.5zM118.9 124.2l-2.7-.8 1.7-.8 2.7 .8zM121.6 124.3l-2.7-.1 1.7-.8 2.6 .3zM124.3 124l-2.7 .3 1.6-.6 2.7-.2zM126.9 123.3l-2.6 .7 1.6-.5 2.7-.5z"/>
<path fill="#cdf000" d="M129.6 122.4l-2.7 .9 1.7-.3 2.6-.8z"/>
<path fill="#e3f700" d="M132.3 121.2l-2.7 1.2 1.6-.2 2.7-.9zM135 119.9l-2.7 1.3 1.6 .1 2.7-1.1z"/>
<path fill="#f9fd00" d="M137.8 118.5l-2.8 1.4 1.6 .3 2.7-1.2z"/>
<path fill="#ffff00" d="M140.5 117.1l-2.7 1.4 1.5 .5 2.8-1.2zM143.3 115.8l-2.8 1.3 1.6 .7 2.7-1.1z"/>
<path fill="#ffef00" d="M146.1 114.5l-2.8 1.3 1.5 .9 2.8-1.1zM148.9 113.3l-2.8 1.2 1.5 1.1 2.8-1z"/>
<path fill="#ffde00" d="M151.7 112.3l-2.8 1 1.5 1.3 2.8-.8z"/>
<path fill="#ffce00" d="M154.5 111.5l-2.8 .8 1.5 1.5 2.8-.6zM157.4 110.9l-2.9 .6 1.5 1.7 2.9-.4z"/>
<path fill="#ffbe00" d="M160.2 110.5l-2.8 .4 1.5 1.9 2.8-.2zM163.1 110.4l-2.9 .1 1.5 2.1 2.9 0zM166 110.5l-2.9-.1 1.5 2.2 2.8 .3zM168.9 110.9l-2.9-.4 1.4 2.4 2.9 .5zM171.8 111.5l-2.9-.6 1.4 2.5 2.9 .7zM174.7 112.4l-2.9-.9 1.4 2.6 2.9 1zM177.6 113.6l-2.9-1.2 1.4 2.7 2.9 1.3z"/>
<path fill="#ffce00" d="M180.5 115l-2.9-1.4 1.4 2.8 2.8 1.5zM183.4 116.7l-2.9-1.7 1.3 2.9 2.9 1.7z"/>
<path fill="#ffde00" d="M186.3 118.7l-2.9-2 1.3 2.9 2.9 2z"/>
<path fill="#ffef00" d="M189.2 120.9l-2.9-2.2 1.3 2.9 2.9 2.2z"/>
<path fill="#ffff00" d="M192.2 123.3l-3-2.4 1.3 2.9 2.9 2.5zM195.1 126l-2.9-2.7 1.2 3 2.9 2.6z"/>
<path fill="#f9fd00" d="M198 128.9l-2.9-2.9 1.2 2.9 2.9 2.9z"/>
<path fill="#e3f700" d="M200.8 132l-2.8-3.1 1.2 2.9 2.8 3.1z"/>
<path fill="#cdf000" d="M203.7 135.3l-2.9-3.3 1.2 2.9 2.9 3.2z"/>
<path fill="#98e700" d="M206.6 138.9l-2.9-3.6 1.2 2.8 2.8 3.5z"/>
<path fill="#7ee300" d="M209.4 142.7l-2.8-3.8 1.1 2.7 2.9 3.7z"/>
<path fill="#4bd800" d="M212.3 146.7l-2.9-4 1.2 2.6 2.8 3.9z"/>
<path fill="#32d000" d="M215.1 150.9l-2.8-4.2 1.1 2.5 2.8 4.1z"/>
<path fill="#00be00" d="M217.9 155.4l-2.8-4.5 1.1 2.4 2.8 4.3z"/>
<path fill="#009e3b" d="M220.7 160.1l-2.8-4.7 1.1 2.2 2.8 4.6z"/>
<path fill="#007c71" d="M223.5 165.1l-2.8-5 1.1 2.1 2.7 4.8z"/>
<path fill="#00579f" d="M226.2 170.4l-2.7-5.3 1 1.9 2.8 5.1z"/>
<path fill="#001ce3" d="M228.9 176.1l-2.7-5.7 1.1 1.7 2.6 5.4z"/>
<path fill="#0000ff" d="M231.6 182.1l-2.7-6 1 1.4 2.7 5.8z"/>
<path fill="#0000e6" d="M234.2 188.4l-2.6-6.3 1 1.2 2.6 6.1z"/>
<path fill="#0000ae" d="M236.8 195.3l-2.6-6.9 1 1 2.6 6.6z"/>
<path fill="#e3f700" d="M109.2 120.8l-2.8-3.2 1.7-1.1 2.7 3.2z"/>
<path fill="#cdf000" d="M111.9 123l-2.7-2.2 1.6-1.1 2.8 2.3z"/>
<path fill="#b3ec00" d="M114.6 124.4l-2.7-1.4 1.7-1 2.6 1.4zM117.3 125l-2.7-.6 1.6-1 2.7 .8zM120 125l-2.7 0 1.6-.8 2.7 .1zM122.6 124.6l-2.6 .4 1.6-.7 2.7-.3z"/>
<path fill="#cdf000" d="M125.3 123.7l-2.7 .9 1.7-.6 2.6-.7zM128 122.6l-2.7 1.1 1.6-.4 2.7-.9z"/>
<path fill="#e3f700" d="M130.7 121.2l-2.7 1.4 1.6-.2 2.7-1.2z"/>
<path fill="#f9fd00" d="M133.4 119.7l-2.7 1.5 1.6 0 2.7-1.3z"/>
<path fill="#ffff00" d="M136.2 118.1l-2.8 1.6 1.6 .2 2.8-1.4zM138.9 116.5l-2.7 1.6 1.6 .4 2.7-1.4z"/>
<path fill="#ffef00" d="M141.7 114.9l-2.8 1.6 1.6 .6 2.8-1.3z"/>
<path fill="#ffde00" d="M144.5 113.4l-2.8 1.5 1.6 .9 2.8-1.3zM147.3 112.1l-2.8 1.3 1.6 1.1 2.8-1.2z"/>
<path fill="#ffce00" d="M150.1 110.9l-2.8 1.2 1.6 1.2 2.8-1z"/>
<path fill="#ffbe00" d="M153 109.9l-2.9 1 1.6 1.4 2.8-.8zM155.8 109.1l-2.8 .8 1.5 1.6 2.9-.6z"/>
<path fill="#ffac00" d="M158.7 108.6l-2.9 .5 1.6 1.8 2.8-.4zM161.6 108.3l-2.9 .3 1.5 1.9 2.9-.1z"/>
<path fill="#ff9e00" d="M164.5 108.3l-2.9 0 1.5 2.1 2.9 .1zM167.4 108.6l-2.9-.3 1.5 2.2 2.9 .4zM170.3 109.1l-2.9-.5 1.5 2.3 2.9 .6z"/>
<path fill="#ffac00" d="M173.3 109.9l-3-.8 1.5 2.4 2.9 .9zM176.2 111.1l-2.9-1.2 1.4 2.5 2.9 1.2zM179.1 112.5l-2.9-1.4 1.4 2.5 2.9 1.4z"/>
<path fill="#ffbe00" d="M182.1 114.1l-3-1.6 1.4 2.5 2.9 1.7zM185 116.1l-2.9-2 1.3 2.6 2.9 2z"/>
<path fill="#ffce00" d="M187.9 118.2l-2.9-2.1 1.3 2.6 2.9 2.2z"/>
<path fill="#ffde00" d="M190.9 120.7l-3-2.5 1.3 2.7 3 2.4z"/>
<path fill="#ffef00" d="M193.8 123.4l-2.9-2.7 1.3 2.6 2.9 2.7z"/>
<path fill="#ffff00" d="M196.7 126.3l-2.9-2.9 1.3 2.6 2.9 2.9zM199.6 129.5l-2.9-3.2 1.3 2.6 2.8 3.1z"/>
<path fill="#f9fd00" d="M202.5 132.9l-2.9-3.4 1.2 2.5 2.9 3.3z"/>
<path fill="#cdf000" d="M205.4 136.5l-2.9-3.6 1.2 2.4 2.9 3.6z"/>
<path fill="#b3ec00" d="M208.3 140.4l-2.9-3.9 1.2 2.4 2.8 3.8z"/>
<path fill="#7ee300" d="M211.1 144.5l-2.8-4.1 1.1 2.3 2.9 4z"/>
<path fill="#4bd800" d="M214 148.8l-2.9-4.3 1.2 2.2 2.8 4.2z"/>
<path fill="#19c700" d="M216.8 153.4l-2.8-4.6 1.1 2.1 2.8 4.5z"/>
<path fill="#00ae1d" d="M219.6 158.3l-2.8-4.9 1.1 2 2.8 4.7z"/>
<path fill="#008e58" d="M222.4 163.4l-2.8-5.1 1.1 1.8 2.8 5z"/>
<path fill="#006a88" d="M225.1 168.9l-2.7-5.5 1.1 1.7 2.7 5.3z"/>
<path fill="#0045b6" d="M227.9 174.7l-2.8-5.8 1.1 1.5 2.7 5.7z"/>
<path fill="#0006f9" d="M230.6 180.9l-2.7-6.2 1 1.4 2.7 6z"/>
<path fill="#0000f2" d="M233.2 187.4l-2.6-6.5 1 1.2 2.6 6.3z"/>
<path fill="#0000cd" d="M235.8 194.5l-2.6-7.1 1 1 2.6 6.9z"/>
<path fill="#e3f700" d="M107.5 122l-2.8-3.2 1.7-1.2 2.8 3.2z"/>
<path fill="#cdf000" d="M110.2 124.1l-2.7-2.1 1.7-1.2 2.7 2.2z"/>
<path fill="#b3ec00" d="M112.9 125.4l-2.7-1.3 1.7-1.1 2.7 1.4zM115.6 125.9l-2.7-.5 1.7-1 2.7 .6zM118.3 125.8l-2.7 .1 1.7-.9 2.7 0zM121 125.2l-2.7 .6 1.7-.8 2.6-.4z"/>
<path fill="#cdf000" d="M123.7 124.2l-2.7 1 1.6-.6 2.7-.9z"/>
<path fill="#e3f700" d="M126.4 122.8l-2.7 1.4 1.6-.5 2.7-1.1z"/>
<path fill="#f9fd00" d="M129.1 121.2l-2.7 1.6 1.6-.2 2.7-1.4z"/>
<path fill="#ffff00" d="M131.8 119.5l-2.7 1.7 1.6 0 2.7-1.5zM134.5 117.7l-2.7 1.8 1.6 .2 2.8-1.6z"/>
<path fill="#ffef00" d="M137.3 115.9l-2.8 1.8 1.7 .4 2.7-1.6z"/>
<path fill="#ffde00" d="M140.1 114.2l-2.8 1.7 1.6 .6 2.8-1.6z"/>
<path fill="#ffce00" d="M142.9 112.5l-2.8 1.7 1.6 .7 2.8-1.5zM145.7 111l-2.8 1.5 1.6 .9 2.8-1.3z"/>
<path fill="#ffbe00" d="M148.6 109.6l-2.9 1.4 1.6 1.1 2.8-1.2z"/>
<path fill="#ffac00" d="M151.4 108.5l-2.8 1.1 1.5 1.3 2.9-1z"/>
<path fill="#ff9e00" d="M154.3 107.5l-2.9 1 1.6 1.4 2.8-.8zM157.2 106.9l-2.9 .6 1.5 1.6 2.9-.5z"/>
<path fill="#ff8f00" d="M160.1 106.5l-2.9 .4 1.5 1.7 2.9-.3zM163 106.4l-2.9 .1 1.5 1.8 2.9 0zM165.9 106.5l-2.9-.1 1.5 1.9 2.9 .3zM168.9 107l-3-.5 1.5 2.1 2.9 .5zM171.8 107.8l-2.9-.8 1.4 2.1 3 .8zM174.8 108.9l-3-1.1 1.5 2.1 2.9 1.2z"/>
<path fill="#ff9e00" d="M177.7 110.2l-2.9-1.3 1.4 2.2 2.9 1.4zM180.7 111.9l-3-1.7 1.4 2.3 3 1.6z"/>
<path fill="#ffac00" d="M183.6 113.8l-2.9-1.9 1.4 2.2 2.9 2zM186.6 116l-3-2.2 1.4 2.3 2.9 2.1z"/>
<path fill="#ffbe00" d="M189.5 118.5l-2.9-2.5 1.3 2.2 3 2.5z"/>
<path fill="#ffce00" d="M192.5 121.2l-3-2.7 1.4 2.2 2.9 2.7z"/>
<path fill="#ffde00" d="M195.4 124.2l-2.9-3 1.3 2.2 2.9 2.9z"/>
<path fill="#ffff00" d="M198.4 127.4l-3-3.2 1.3 2.1 2.9 3.2zM201.3 130.8l-2.9-3.4 1.2 2.1 2.9 3.4z"/>
<path fill="#f9fd00" d="M204.2 134.5l-2.9-3.7 1.2 2.1 2.9 3.6z"/>
<path fill="#cdf000" d="M207.1 138.5l-2.9-4 1.2 2 2.9 3.9z"/>
<path fill="#b3ec00" d="M210 142.6l-2.9-4.1 1.2 1.9 2.8 4.1z"/>
<path fill="#7ee300" d="M212.8 147l-2.8-4.4 1.1 1.9 2.9 4.3z"/>
<path fill="#4bd800" d="M215.7 151.7l-2.9-4.7 1.2 1.8 2.8 4.6z"/>
<path fill="#19c700" d="M218.5 156.7l-2.8-5 1.1 1.7 2.8 4.9z"/>
<path fill="#00ae1d" d="M221.3 161.9l-2.8-5.2 1.1 1.6 2.8 5.1z"/>
<path fill="#007c71" d="M224.1 167.5l-2.8-5.6 1.1 1.5 2.7 5.5z"/>
<path fill="#00579f" d="M226.8 173.4l-2.7-5.9 1 1.4 2.8 5.8z"/>
<path fill="#001ce3" d="M229.5 179.7l-2.7-6.3 1.1 1.3 2.7 6.2z"/>
<path fill="#0000ff" d="M232.2 186.4l-2.7-6.7 1.1 1.2 2.6 6.5z"/>
<path fill="#0000d9" d="M234.8 193.6l-2.6-7.2 1 1 2.6 7.1z"/>
<path fill="#e3f700" d="M105.8 123.3l-2.7-3.2 1.6-1.3 2.8 3.2z"/>
<path fill="#cdf000" d="M108.6 125.4l-2.8-2.1 1.7-1.3 2.7 2.1z"/>
<path fill="#b3ec00" d="M111.3 126.5l-2.7-1.1 1.6-1.3 2.7 1.3zM114 126.9l-2.7-.4 1.6-1.1 2.7 .5zM116.7 126.7l-2.7 .2 1.6-1 2.7-.1z"/>
<path fill="#cdf000" d="M119.3 125.9l-2.6 .8 1.6-.9 2.7-.6zM122 124.7l-2.7 1.2 1.7-.7 2.7-1z"/>
<path fill="#e3f700" d="M124.7 123.2l-2.7 1.5 1.7-.5 2.7-1.4z"/>
<path fill="#f9fd00" d="M127.4 121.4l-2.7 1.8 1.7-.4 2.7-1.6z"/>
<path fill="#ffff00" d="M130.2 119.5l-2.8 1.9 1.7-.2 2.7-1.7zM132.9 117.5l-2.7 2 1.6 0 2.7-1.8z"/>
<path fill="#ffef00" d="M135.7 115.5l-2.8 2 1.6 .2 2.8-1.8z"/>
<path fill="#ffde00" d="M138.5 113.6l-2.8 1.9 1.6 .4 2.8-1.7z"/>
<path fill="#ffce00" d="M141.3 111.7l-2.8 1.9 1.6 .6 2.8-1.7z"/>
<path fill="#ffbe00" d="M144.1 110l-2.8 1.7 1.6 .8 2.8-1.5z"/>
<path fill="#ffac00" d="M147 108.5l-2.9 1.5 1.6 1 2.9-1.4z"/>
<path fill="#ff9e00" d="M149.8 107.2l-2.8 1.3 1.6 1.1 2.8-1.1z"/>
<path fill="#ff8f00" d="M152.7 106.2l-2.9 1 1.6 1.3 2.9-1zM155.6 105.4l-2.9 .8 1.6 1.3 2.9-.6z"/>
<path fill="#ff8100" d="M158.6 104.9l-3 .5 1.6 1.5 2.9-.4zM161.5 104.7l-2.9 .2 1.5 1.6 2.9-.1zM164.4 104.8l-2.9-.1 1.5 1.7 2.9 .1zM167.4 105.2l-3-.4 1.5 1.7 3 .5zM170.4 106l-3-.8 1.5 1.8 2.9 .8zM173.3 107l-2.9-1 1.4 1.8 3 1.1zM176.3 108.4l-3-1.4 1.5 1.9 2.9 1.3z"/>
<path fill="#ff8f00" d="M179.3 110l-3-1.6 1.4 1.8 3 1.7zM182.3 111.9l-3-1.9 1.4 1.9 2.9 1.9z"/>
<path fill="#ff9e00" d="M185.2 114.2l-2.9-2.3 1.3 1.9 3 2.2z"/>
<path fill="#ffac00" d="M188.2 116.7l-3-2.5 1.4 1.8 2.9 2.5z"/>
<path fill="#ffbe00" d="M191.2 119.4l-3-2.7 1.3 1.8 3 2.7z"/>
<path fill="#ffce00" d="M194.1 122.4l-2.9-3 1.3 1.8 2.9 3z"/>
<path fill="#ffde00" d="M197.1 125.7l-3-3.3 1.3 1.8 3 3.2z"/>
<path fill="#ffef00" d="M200 129.2l-2.9-3.5 1.3 1.7 2.9 3.4z"/>
<path fill="#ffff00" d="M202.9 132.9l-2.9-3.7 1.3 1.6 2.9 3.7z"/>
<path fill="#f9fd00" d="M205.9 136.9l-3-4 1.3 1.6 2.9 4z"/>
<path fill="#cdf000" d="M208.8 141.1l-2.9-4.2 1.2 1.6 2.9 4.1z"/>
<path fill="#98e700" d="M211.6 145.6l-2.8-4.5 1.2 1.5 2.8 4.4z"/>
<path fill="#64df00" d="M214.5 150.4l-2.9-4.8 1.2 1.4 2.9 4.7z"/>
<path fill="#32d000" d="M217.3 155.4l-2.8-5 1.2 1.3 2.8 5z"/>
<path fill="#00be00" d="M220.2 160.7l-2.9-5.3 1.2 1.3 2.8 5.2z"/>
<path fill="#009e3b" d="M222.9 166.3l-2.7-5.6 1.1 1.2 2.8 5.6z"/>
<path fill="#006a88" d="M225.7 172.3l-2.8-6 1.2 1.2 2.7 5.9z"/>
<path fill="#0045b6" d="M228.4 178.6l-2.7-6.3 1.1 1.1 2.7 6.3z"/>
<path fill="#0006f9" d="M231.1 185.4l-2.7-6.8 1.1 1.1 2.7 6.7z"/>
<path fill="#0000f2" d="M233.7 192.6l-2.6-7.2 1.1 1 2.6 7.2z"/>
<path fill="#e3f700" d="M104.1 124.7l-2.7-3.2 1.7-1.4 2.7 3.2z"/>
<path fill="#cdf000" d="M106.9 126.7l-2.8-2 1.7-1.4 2.8 2.1z"/>
<path fill="#b3ec00" d="M109.6 127.8l-2.7-1.1 1.7-1.3 2.7 1.1zM112.3 128l-2.7-.2 1.7-1.3 2.7 .4zM115 127.6l-2.7 .4 1.7-1.1 2.7-.2z"/>
<path fill="#cdf000" d="M117.7 126.7l-2.7 .9 1.7-.9 2.6-.8zM120.4 125.3l-2.7 1.4 1.6-.8 2.7-1.2z"/>
<path fill="#e3f700" d="M123.1 123.6l-2.7 1.7 1.6-.6 2.7-1.5z"/>
<path fill="#f9fd00" d="M125.8 121.7l-2.7 1.9 1.6-.4 2.7-1.8z"/>
<path fill="#ffff00" d="M128.5 119.6l-2.7 2.1 1.6-.3 2.8-1.9z"/>
<path fill="#ffef00" d="M131.3 117.5l-2.8 2.1 1.7-.1 2.7-2z"/>
<path fill="#ffde00" d="M134 115.3l-2.7 2.2 1.6 0 2.8-2z"/>
<path fill="#ffce00" d="M136.8 113.2l-2.8 2.1 1.7 .2 2.8-1.9z"/>
<path fill="#ffbe00" d="M139.7 111.2l-2.9 2 1.7 .4 2.8-1.9z"/>
<path fill="#ffac00" d="M142.5 109.4l-2.8 1.8 1.6 .5 2.8-1.7z"/>
<path fill="#ff9e00" d="M145.4 107.7l-2.9 1.7 1.6 .6 2.9-1.5z"/>
<path fill="#ff8f00" d="M148.2 106.3l-2.8 1.4 1.6 .8 2.8-1.3z"/>
<path fill="#ff8100" d="M151.1 105.1l-2.9 1.2 1.6 .9 2.9-1zM154.1 104.2l-3 .9 1.6 1.1 2.9-.8z"/>
<path fill="#ff7200" d="M157 103.7l-2.9 .5 1.5 1.2 3-.5zM160 103.4l-3 .3 1.6 1.2 2.9-.2z"/>
<path fill="#ff6100" d="M162.9 103.5l-2.9-.1 1.5 1.3 2.9 .1zM165.9 103.8l-3-.3 1.5 1.3 3 .4zM168.9 104.5l-3-.7 1.5 1.4 3 .8z"/>
<path fill="#ff7200" d="M171.9 105.6l-3-1.1 1.5 1.5 2.9 1zM174.9 106.9l-3-1.3 1.4 1.4 3 1.4zM177.8 108.6l-2.9-1.7 1.4 1.5 3 1.6z"/>
<path fill="#ff8100" d="M180.8 110.5l-3-1.9 1.5 1.4 3 1.9z"/>
<path fill="#ff8f00" d="M183.8 112.8l-3-2.3 1.5 1.4 2.9 2.3z"/>
<path fill="#ff9e00" d="M186.8 115.3l-3-2.5 1.4 1.4 3 2.5z"/>
<path fill="#ffac00" d="M189.8 118.1l-3-2.8 1.4 1.4 3 2.7z"/>
<path fill="#ffbe00" d="M192.8 121.1l-3-3 1.4 1.3 2.9 3z"/>
<path fill="#ffce00" d="M195.7 124.4l-2.9-3.3 1.3 1.3 3 3.3z"/>
<path fill="#ffde00" d="M198.7 128l-3-3.6 1.4 1.3 2.9 3.5z"/>
<path fill="#ffff00" d="M201.7 131.8l-3-3.8 1.3 1.2 2.9 3.7zM204.6 135.8l-2.9-4 1.2 1.1 3 4z"/>
<path fill="#e3f700" d="M207.5 140l-2.9-4.2 1.3 1.1 2.9 4.2z"/>
<path fill="#b3ec00" d="M210.4 144.6l-2.9-4.6 1.3 1.1 2.8 4.5z"/>
<path fill="#7ee300" d="M213.3 149.3l-2.9-4.7 1.2 1 2.9 4.8z"/>
<path fill="#4bd800" d="M216.2 154.3l-2.9-5 1.2 1.1 2.8 5z"/>
<path fill="#19c700" d="M219 159.6l-2.8-5.3 1.1 1.1 2.9 5.3z"/>
<path fill="#00ae1d" d="M221.8 165.3l-2.8-5.7 1.2 1.1 2.7 5.6z"/>
<path fill="#007c71" d="M224.6 171.2l-2.8-5.9 1.1 1 2.8 6z"/>
<path fill="#00579f" d="M227.3 177.6l-2.7-6.4 1.1 1.1 2.7 6.3z"/>
<path fill="#001ce3" d="M230 184.3l-2.7-6.7 1.1 1 2.7 6.8z"/>
<path fill="#0000ff" d="M232.7 191.6l-2.7-7.3 1.1 1.1 2.6 7.2z"/>
<path fill="#e3f700" d="M102.4 126.2l-2.8-3.1 1.8-1.6 2.7 3.2z"/>
<path fill="#cdf000" d="M105.2 128.2l-2.8-2 1.7-1.5 2.8 2z"/>
<path fill="#b3ec00" d="M107.9 129.1l-2.7-.9 1.7-1.5 2.7 1.1zM110.6 129.3l-2.7-.2 1.7-1.3 2.7 .2zM113.3 128.7l-2.7 .6 1.7-1.3 2.7-.4z"/>
<path fill="#cdf000" d="M116 127.7l-2.7 1 1.7-1.1 2.7-.9z"/>
<path fill="#e3f700" d="M118.7 126.1l-2.7 1.6 1.7-1 2.7-1.4z"/>
<path fill="#f9fd00" d="M121.4 124.3l-2.7 1.8 1.7-.8 2.7-1.7z"/>
<path fill="#ffff00" d="M124.1 122.2l-2.7 2.1 1.7-.7 2.7-1.9zM126.8 120l-2.7 2.2 1.7-.5 2.7-2.1z"/>
<path fill="#ffef00" d="M129.6 117.6l-2.8 2.4 1.7-.4 2.8-2.1z"/>
<path fill="#ffde00" d="M132.4 115.3l-2.8 2.3 1.7-.1 2.7-2.2z"/>
<path fill="#ffbe00" d="M135.2 113.1l-2.8 2.2 1.6 0 2.8-2.1z"/>
<path fill="#ffac00" d="M138 110.9l-2.8 2.2 1.6 .1 2.9-2z"/>
<path fill="#ff9e00" d="M140.9 108.9l-2.9 2 1.7 .3 2.8-1.8z"/>
<path fill="#ff8f00" d="M143.7 107.2l-2.8 1.7 1.6 .5 2.9-1.7z"/>
<path fill="#ff8100" d="M146.6 105.7l-2.9 1.5 1.7 .5 2.8-1.4z"/>
<path fill="#ff7200" d="M149.5 104.4l-2.9 1.3 1.6 .6 2.9-1.2zM152.5 103.4l-3 1 1.6 .7 3-.9z"/>
<path fill="#ff6100" d="M155.4 102.8l-2.9 .6 1.6 .8 2.9-.5zM158.4 102.5l-3 .3 1.6 .9 3-.3z"/>
<path fill="#ff5100" d="M161.4 102.5l-3 0 1.6 .9 2.9 .1zM164.4 102.9l-3-.4 1.5 1 3 .3zM167.4 103.6l-3-.7 1.5 .9 3 .7z"/>
<path fill="#ff6100" d="M170.4 104.6l-3-1 1.5 .9 3 1.1zM173.4 105.9l-3-1.3 1.5 1 3 1.3zM176.4 107.6l-3-1.7 1.5 1 2.9 1.7z"/>
<path fill="#ff7200" d="M179.4 109.6l-3-2 1.4 1 3 1.9z"/>
<path fill="#ff8100" d="M182.4 111.9l-3-2.3 1.4 .9 3 2.3z"/>
<path fill="#ff8f00" d="M185.4 114.4l-3-2.5 1.4 .9 3 2.5z"/>
<path fill="#ff9e00" d="M188.4 117.2l-3-2.8 1.4 .9 3 2.8z"/>
<path fill="#ffac00" d="M191.4 120.3l-3-3.1 1.4 .9 3 3z"/>
<path fill="#ffbe00" d="M194.4 123.7l-3-3.4 1.4 .8 2.9 3.3z"/>
<path fill="#ffce00" d="M197.4 127.2l-3-3.5 1.3 .7 3 3.6z"/>
<path fill="#ffef00" d="M200.3 131l-2.9-3.8 1.3 .8 3 3.8z"/>
<path fill="#ffff00" d="M203.3 135.1l-3-4.1 1.4 .8 2.9 4z"/>
<path fill="#f9fd00" d="M206.2 139.3l-2.9-4.2 1.3 .7 2.9 4.2z"/>
<path fill="#cdf000" d="M209.2 143.9l-3-4.6 1.3 .7 2.9 4.6z"/>
<path fill="#98e700" d="M212.1 148.6l-2.9-4.7 1.2 .7 2.9 4.7z"/>
<path fill="#64df00" d="M214.9 153.6l-2.8-5 1.2 .7 2.9 5z"/>
<path fill="#32d000" d="M217.8 158.9l-2.9-5.3 1.3 .7 2.8 5.3z"/>
<path fill="#00be00" d="M220.6 164.5l-2.8-5.6 1.2 .7 2.8 5.7z"/>
<path fill="#008e58" d="M223.4 170.4l-2.8-5.9 1.2 .8 2.8 5.9z"/>
<path fill="#006a88" d="M226.2 176.6l-2.8-6.2 1.2 .8 2.7 6.4z"/>
<path fill="#0032cd" d="M228.9 183.3l-2.7-6.7 1.1 1 2.7 6.7z"/>
<path fill="#0000ff" d="M231.6 190.4l-2.7-7.1 1.1 1 2.7 7.3z"/>
<path fill="#cdf000" d="M100.7 127.9l-2.8-3 1.7-1.8 2.8 3.1z"/>
<path fill="#b3ec00" d="M103.5 129.7l-2.8-1.8 1.7-1.7 2.8 2zM106.2 130.6l-2.7-.9 1.7-1.5 2.7 .9zM108.9 130.6l-2.7 0 1.7-1.5 2.7 .2zM111.6 130l-2.7 .6 1.7-1.3 2.7-.6z"/>
<path fill="#cdf000" d="M114.3 128.8l-2.7 1.2 1.7-1.3 2.7-1z"/>
<path fill="#e3f700" d="M117 127.1l-2.7 1.7 1.7-1.1 2.7-1.6z"/>
<path fill="#f9fd00" d="M119.7 125.1l-2.7 2 1.7-1 2.7-1.8z"/>
<path fill="#ffff00" d="M122.4 122.9l-2.7 2.2 1.7-.8 2.7-2.1zM125.2 120.5l-2.8 2.4 1.7-.7 2.7-2.2z"/>
<path fill="#ffef00" d="M127.9 118.1l-2.7 2.4 1.6-.5 2.8-2.4z"/>
<path fill="#ffce00" d="M130.7 115.6l-2.8 2.5 1.7-.5 2.8-2.3z"/>
<path fill="#ffbe00" d="M133.5 113.2l-2.8 2.4 1.7-.3 2.8-2.2z"/>
<path fill="#ffac00" d="M136.4 111l-2.9 2.2 1.7-.1 2.8-2.2z"/>
<path fill="#ff9e00" d="M139.2 108.9l-2.8 2.1 1.6-.1 2.9-2z"/>
<path fill="#ff8100" d="M142.1 107l-2.9 1.9 1.7 0 2.8-1.7z"/>
<path fill="#ff7200" d="M145 105.4l-2.9 1.6 1.6 .2 2.9-1.5zM147.9 104.1l-2.9 1.3 1.6 .3 2.9-1.3z"/>
<path fill="#ff6100" d="M150.9 103l-3 1.1 1.6 .3 3-1z"/>
<path fill="#ff5100" d="M153.8 102.4l-2.9 .6 1.6 .4 2.9-.6zM156.8 102l-3 .4 1.6 .4 3-.3zM159.8 102l-3 0 1.6 .5 3 0zM162.8 102.3l-3-.3 1.6 .5 3 .4zM165.8 103l-3-.7 1.6 .6 3 .7zM168.8 104l-3-1 1.6 .6 3 1zM171.9 105.4l-3.1-1.4 1.6 .6 3 1.3z"/>
<path fill="#ff6100" d="M174.9 107.1l-3-1.7 1.5 .5 3 1.7zM177.9 109.1l-3-2 1.5 .5 3 2z"/>
<path fill="#ff7200" d="M180.9 111.4l-3-2.3 1.5 .5 3 2.3z"/>
<path fill="#ff8100" d="M184 114l-3.1-2.6 1.5 .5 3 2.5z"/>
<path fill="#ff8f00" d="M187 116.9l-3-2.9 1.4 .4 3 2.8z"/>
<path fill="#ff9e00" d="M190 120l-3-3.1 1.4 .3 3 3.1z"/>
<path fill="#ffac00" d="M193 123.3l-3-3.3 1.4 .3 3 3.4z"/>
<path fill="#ffce00" d="M196 126.9l-3-3.6 1.4 .4 3 3.5z"/>
<path fill="#ffde00" d="M199 130.7l-3-3.8 1.4 .3 2.9 3.8z"/>
<path fill="#ffff00" d="M202 134.8l-3-4.1 1.3 .3 3 4.1zM204.9 139.1l-2.9-4.3 1.3 .3 2.9 4.2z"/>
<path fill="#e3f700" d="M207.9 143.5l-3-4.4 1.3 .2 3 4.6z"/>
<path fill="#b3ec00" d="M210.8 148.2l-2.9-4.7 1.3 .4 2.9 4.7z"/>
<path fill="#7ee300" d="M213.7 153.2l-2.9-5 1.3 .4 2.8 5z"/>
<path fill="#4bd800" d="M216.6 158.4l-2.9-5.2 1.2 .4 2.9 5.3z"/>
<path fill="#19c700" d="M219.5 163.9l-2.9-5.5 1.2 .5 2.8 5.6z"/>
<path fill="#009e3b" d="M222.3 169.7l-2.8-5.8 1.1 .6 2.8 5.9z"/>
<path fill="#007c71" d="M225.1 175.8l-2.8-6.1 1.1 .7 2.8 6.2z"/>
<path fill="#0045b6" d="M227.8 182.3l-2.7-6.5 1.1 .8 2.7 6.7z"/>
<path fill="#0006f9" d="M230.6 189.2l-2.8-6.9 1.1 1 2.7 7.1z"/>
<path fill="#cdf000" d="M99 129.7l-2.8-3 1.7-1.8 2.8 3z"/>
<path fill="#b3ec00" d="M101.8 131.4l-2.8-1.7 1.7-1.8 2.8 1.8zM104.5 132.2l-2.7-.8 1.7-1.7 2.7 .9zM107.2 132.2l-2.7 0 1.7-1.6 2.7 0zM109.9 131.4l-2.7 .8 1.7-1.6 2.7-.6z"/>
<path fill="#cdf000" d="M112.6 130.1l-2.7 1.3 1.7-1.4 2.7-1.2z"/>
<path fill="#e3f700" d="M115.3 128.3l-2.7 1.8 1.7-1.3 2.7-1.7z"/>
<path fill="#f9fd00" d="M118 126.2l-2.7 2.1 1.7-1.2 2.7-2z"/>
<path fill="#ffff00" d="M120.7 123.8l-2.7 2.4 1.7-1.1 2.7-2.2zM123.5 121.3l-2.8 2.5 1.7-.9 2.8-2.4z"/>
<path fill="#ffde00" d="M126.2 118.8l-2.7 2.5 1.7-.8 2.7-2.4z"/>
<path fill="#ffce00" d="M129 116.2l-2.8 2.6 1.7-.7 2.8-2.5z"/>
<path fill="#ffbe00" d="M131.8 113.7l-2.8 2.5 1.7-.6 2.8-2.4z"/>
<path fill="#ff9e00" d="M134.7 111.4l-2.9 2.3 1.7-.5 2.9-2.2z"/>
<path fill="#ff8f00" d="M137.6 109.2l-2.9 2.2 1.7-.4 2.8-2.1z"/>
<path fill="#ff8100" d="M140.4 107.2l-2.8 2 1.6-.3 2.9-1.9z"/>
<path fill="#ff7200" d="M143.4 105.6l-3 1.6 1.7-.2 2.9-1.6z"/>
<path fill="#ff6100" d="M146.3 104.2l-2.9 1.4 1.6-.2 2.9-1.3z"/>
<path fill="#ff5100" d="M149.2 103.1l-2.9 1.1 1.6-.1 3-1.1zM152.2 102.4l-3 .7 1.7-.1 2.9-.6z"/>
<path fill="#ff4000" d="M155.2 102l-3 .4 1.6 0 3-.4zM158.2 101.9l-3 .1 1.6 0 3 0zM161.2 102.3l-3-.4 1.6 .1 3 .3zM164.3 103l-3.1-.7 1.6 0 3 .7zM167.3 104l-3-1 1.5 0 3 1z"/>
<path fill="#ff5100" d="M170.3 105.4l-3-1.4 1.5 0 3.1 1.4zM173.4 107.1l-3.1-1.7 1.6 0 3 1.7z"/>
<path fill="#ff6100" d="M176.4 109.1l-3-2 1.5 0 3 2zM179.5 111.4l-3.1-2.3 1.5 0 3 2.3z"/>
<path fill="#ff7200" d="M182.5 114.1l-3-2.7 1.4 0 3.1 2.6z"/>
<path fill="#ff8100" d="M185.5 116.9l-3-2.8 1.5-.1 3 2.9z"/>
<path fill="#ff8f00" d="M188.6 120.1l-3.1-3.2 1.5 0 3 3.1z"/>
<path fill="#ffac00" d="M191.6 123.5l-3-3.4 1.4-.1 3 3.3z"/>
<path fill="#ffbe00" d="M194.6 127.1l-3-3.6 1.4-.2 3 3.6z"/>
<path fill="#ffce00" d="M197.6 130.9l-3-3.8 1.4-.2 3 3.8z"/>
<path fill="#ffef00" d="M200.6 134.9l-3-4 1.4-.2 3 4.1z"/>
<path fill="#ffff00" d="M203.6 139.2l-3-4.3 1.4-.1 2.9 4.3z"/>
<path fill="#f9fd00" d="M206.5 143.6l-2.9-4.4 1.3-.1 3 4.4z"/>
<path fill="#cdf000" d="M209.5 148.2l-3-4.6 1.4-.1 2.9 4.7z"/>
<path fill="#98e700" d="M212.4 153.1l-2.9-4.9 1.3 0 2.9 5z"/>
<path fill="#64df00" d="M215.3 158.2l-2.9-5.1 1.3 .1 2.9 5.2z"/>
<path fill="#32d000" d="M218.2 163.5l-2.9-5.3 1.3 .2 2.9 5.5z"/>
<path fill="#00ae1d" d="M221.1 169.1l-2.9-5.6 1.3 .4 2.8 5.8z"/>
<path fill="#008e58" d="M223.9 175.1l-2.8-6 1.2 .6 2.8 6.1z"/>
<path fill="#00579f" d="M226.7 181.3l-2.8-6.2 1.2 .7 2.7 6.5z"/>
<path fill="#001ce3" d="M229.5 187.9l-2.8-6.6 1.1 1 2.8 6.9z"/>
<path fill="#cdf000" d="M97.3 131.6l-2.8-2.9 1.7-2 2.8 3z"/>
<path fill="#b3ec00" d="M100 133.3l-2.7-1.7 1.7-1.9 2.8 1.7z"/>
<path fill="#98e700" d="M102.8 134l-2.8-.7 1.8-1.9 2.7 .8zM105.5 133.8l-2.7 .2 1.7-1.8 2.7 0z"/>
<path fill="#b3ec00" d="M108.2 133l-2.7 .8 1.7-1.6 2.7-.8z"/>
<path fill="#cdf000" d="M110.9 131.5l-2.7 1.5 1.7-1.6 2.7-1.3z"/>
<path fill="#e3f700" d="M113.6 129.7l-2.7 1.8 1.7-1.4 2.7-1.8z"/>
<path fill="#f9fd00" d="M116.3 127.5l-2.7 2.2 1.7-1.4 2.7-2.1z"/>
<path fill="#ffff00" d="M119 125l-2.7 2.5 1.7-1.3 2.7-2.4zM121.8 122.5l-2.8 2.5 1.7-1.2 2.8-2.5z"/>
<path fill="#ffde00" d="M124.5 119.8l-2.7 2.7 1.7-1.2 2.7-2.5z"/>
<path fill="#ffce00" d="M127.3 117.2l-2.8 2.6 1.7-1 2.8-2.6z"/>
<path fill="#ffac00" d="M130.2 114.6l-2.9 2.6 1.7-1 2.8-2.5z"/>
<path fill="#ff9e00" d="M133 112.2l-2.8 2.4 1.6-.9 2.9-2.3z"/>
<path fill="#ff8f00" d="M135.9 109.9l-2.9 2.3 1.7-.8 2.9-2.2z"/>
<path fill="#ff8100" d="M138.8 107.9l-2.9 2 1.7-.7 2.8-2z"/>
<path fill="#ff7200" d="M141.7 106.2l-2.9 1.7 1.6-.7 3-1.6z"/>
<path fill="#ff6100" d="M144.6 104.7l-2.9 1.5 1.7-.6 2.9-1.4z"/>
<path fill="#ff5100" d="M147.6 103.6l-3 1.1 1.7-.5 2.9-1.1z"/>
<path fill="#ff4000" d="M150.6 102.9l-3 .7 1.6-.5 3-.7zM153.6 102.5l-3 .4 1.6-.5 3-.4zM156.6 102.4l-3 .1 1.6-.5 3-.1zM159.6 102.7l-3-.3 1.6-.5 3 .4zM162.7 103.4l-3.1-.7 1.6-.4 3.1 .7zM165.7 104.4l-3-1 1.6-.4 3 1zM168.8 105.8l-3.1-1.4 1.6-.4 3 1.4z"/>
<path fill="#ff5100" d="M171.8 107.6l-3-1.8 1.5-.4 3.1 1.7zM174.9 109.6l-3.1-2 1.6-.5 3 2z"/>
<path fill="#ff6100" d="M178 112l-3.1-2.4 1.5-.5 3.1 2.3z"/>
<path fill="#ff7200" d="M181 114.6l-3-2.6 1.5-.6 3 2.7z"/>
<path fill="#ff8100" d="M184.1 117.5l-3.1-2.9 1.5-.5 3 2.8z"/>
<path fill="#ff8f00" d="M187.1 120.7l-3-3.2 1.4-.6 3.1 3.2z"/>
<path fill="#ff9e00" d="M190.1 124l-3-3.3 1.5-.6 3 3.4z"/>
<path fill="#ffbe00" d="M193.2 127.6l-3.1-3.6 1.5-.5 3 3.6z"/>
<path fill="#ffce00" d="M196.2 131.5l-3-3.9 1.4-.5 3 3.8z"/>
<path fill="#ffef00" d="M199.2 135.5l-3-4 1.4-.6 3 4z"/>
<path fill="#ffff00" d="M202.2 139.7l-3-4.2 1.4-.6 3 4.3z"/>
<path fill="#f9fd00" d="M205.2 144l-3-4.3 1.4-.5 2.9 4.4z"/>
<path fill="#cdf000" d="M208.2 148.6l-3-4.6 1.3-.4 3 4.6z"/>
<path fill="#98e700" d="M211.1 153.3l-2.9-4.7 1.3-.4 2.9 4.9z"/>
<path fill="#64df00" d="M214.1 158.3l-3-5 1.3-.2 2.9 5.1z"/>
<path fill="#32d000" d="M217 163.4l-2.9-5.1 1.2-.1 2.9 5.3z"/>
<path fill="#00be00" d="M219.9 168.8l-2.9-5.4 1.2 .1 2.9 5.6z"/>
<path fill="#009e3b" d="M222.8 174.5l-2.9-5.7 1.2 .3 2.8 6z"/>
<path fill="#006a88" d="M225.6 180.4l-2.8-5.9 1.1 .6 2.8 6.2z"/>
<path fill="#0045b6" d="M228.4 186.6l-2.8-6.2 1.1 .9 2.8 6.6z"/>
<path fill="#b3ec00" d="M95.5 133.6l-2.8-2.8 1.8-2.1 2.8 2.9z"/>
<path fill="#98e700" d="M98.3 135.2l-2.8-1.6 1.8-2 2.7 1.7zM101 135.8l-2.7-.6 1.7-1.9 2.8 .7zM103.8 135.6l-2.8 .2 1.8-1.8 2.7-.2z"/>
<path fill="#b3ec00" d="M106.5 134.7l-2.7 .9 1.7-1.8 2.7-.8zM109.2 133.2l-2.7 1.5 1.7-1.7 2.7-1.5z"/>
<path fill="#cdf000" d="M111.9 131.3l-2.7 1.9 1.7-1.7 2.7-1.8z"/>
<path fill="#f9fd00" d="M114.6 129.1l-2.7 2.2 1.7-1.6 2.7-2.2z"/>
<path fill="#ffff00" d="M117.3 126.6l-2.7 2.5 1.7-1.6 2.7-2.5zM120.1 123.9l-2.8 2.7 1.7-1.6 2.8-2.5z"/>
<path fill="#ffde00" d="M122.8 121.2l-2.7 2.7 1.7-1.4 2.7-2.7z"/>
<path fill="#ffce00" d="M125.6 118.5l-2.8 2.7 1.7-1.4 2.8-2.6z"/>
<path fill="#ffac00" d="M128.5 115.9l-2.9 2.6 1.7-1.3 2.9-2.6z"/>
<path fill="#ff9e00" d="M131.3 113.4l-2.8 2.5 1.7-1.3 2.8-2.4z"/>
<path fill="#ff8f00" d="M134.2 111.1l-2.9 2.3 1.7-1.2 2.9-2.3z"/>
<path fill="#ff8100" d="M137.1 109.1l-2.9 2 1.7-1.2 2.9-2z"/>
<path fill="#ff7200" d="M140 107.3l-2.9 1.8 1.7-1.2 2.9-1.7z"/>
<path fill="#ff6100" d="M143 105.8l-3 1.5 1.7-1.1 2.9-1.5z"/>
<path fill="#ff5100" d="M146 104.7l-3 1.1 1.6-1.1 3-1.1z"/>
<path fill="#ff4000" d="M149 103.9l-3 .8 1.6-1.1 3-.7zM152 103.4l-3 .5 1.6-1 3-.4zM155 103.4l-3 0 1.6-.9 3-.1zM158 103.7l-3-.3 1.6-1 3 .3zM161.1 104.4l-3.1-.7 1.6-1 3.1 .7zM164.1 105.4l-3-1 1.6-1 3 1zM167.2 106.8l-3.1-1.4 1.6-1 3.1 1.4zM170.3 108.5l-3.1-1.7 1.6-1 3 1.8z"/>
<path fill="#ff5100" d="M173.4 110.6l-3.1-2.1 1.5-.9 3.1 2z"/>
<path fill="#ff6100" d="M176.4 112.9l-3-2.3 1.5-1 3.1 2.4z"/>
<path fill="#ff7200" d="M179.5 115.6l-3.1-2.7 1.6-.9 3 2.6z"/>
<path fill="#ff8100" d="M182.6 118.5l-3.1-2.9 1.5-1 3.1 2.9z"/>
<path fill="#ff8f00" d="M185.6 121.7l-3-3.2 1.5-1 3 3.2z"/>
<path fill="#ff9e00" d="M188.7 125l-3.1-3.3 1.5-1 3 3.3z"/>
<path fill="#ffac00" d="M191.7 128.6l-3-3.6 1.4-1 3.1 3.6z"/>
<path fill="#ffce00" d="M194.8 132.4l-3.1-3.8 1.5-1 3 3.9z"/>
<path fill="#ffde00" d="M197.8 136.4l-3-4 1.4-.9 3 4z"/>
<path fill="#ffff00" d="M200.8 140.5l-3-4.1 1.4-.9 3 4.2z"/>
<path fill="#f9fd00" d="M203.8 144.8l-3-4.3 1.4-.8 3 4.3z"/>
<path fill="#e3f700" d="M206.8 149.3l-3-4.5 1.4-.8 3 4.6z"/>
<path fill="#b3ec00" d="M209.8 153.9l-3-4.6 1.4-.7 2.9 4.7z"/>
<path fill="#7ee300" d="M212.8 158.7l-3-4.8 1.3-.6 3 5z"/>
<path fill="#4bd800" d="M215.7 163.6l-2.9-4.9 1.3-.4 2.9 5.1z"/>
<path fill="#19c700" d="M218.6 168.7l-2.9-5.1 1.3-.2 2.9 5.4z"/>
<path fill="#00ae1d" d="M221.6 174l-3-5.3 1.3 .1 2.9 5.7z"/>
<path fill="#007c71" d="M224.4 179.5l-2.8-5.5 1.2 .5 2.8 5.9z"/>
<path fill="#00579f" d="M227.3 185.3l-2.9-5.8 1.2 .9 2.8 6.2z"/>
<path fill="#b3ec00" d="M93.8 135.7l-2.8-2.6 1.7-2.3 2.8 2.8z"/>
<path fill="#98e700" d="M96.6 137.3l-2.8-1.6 1.7-2.1 2.8 1.6zM99.3 137.8l-2.7-.5 1.7-2.1 2.7 .6zM102 137.6l-2.7 .2 1.7-2 2.8-.2zM104.7 136.6l-2.7 1 1.8-2 2.7-.9z"/>
<path fill="#b3ec00" d="M107.4 135.1l-2.7 1.5 1.8-1.9 2.7-1.5z"/>
<path fill="#cdf000" d="M110.2 133.2l-2.8 1.9 1.8-1.9 2.7-1.9z"/>
<path fill="#e3f700" d="M112.9 130.9l-2.7 2.3 1.7-1.9 2.7-2.2z"/>
<path fill="#ffff00" d="M115.6 128.4l-2.7 2.5 1.7-1.8 2.7-2.5zM118.4 125.7l-2.8 2.7 1.7-1.8 2.8-2.7z"/>
<path fill="#ffef00" d="M121.1 123l-2.7 2.7 1.7-1.8 2.7-2.7z"/>
<path fill="#ffce00" d="M123.9 120.3l-2.8 2.7 1.7-1.8 2.8-2.7z"/>
<path fill="#ffbe00" d="M126.8 117.7l-2.9 2.6 1.7-1.8 2.9-2.6z"/>
<path fill="#ff9e00" d="M129.6 115.2l-2.8 2.5 1.7-1.8 2.8-2.5z"/>
<path fill="#ff8f00" d="M132.5 112.8l-2.9 2.4 1.7-1.8 2.9-2.3z"/>
<path fill="#ff8100" d="M135.4 110.7l-2.9 2.1 1.7-1.7 2.9-2z"/>
<path fill="#ff7200" d="M138.4 108.9l-3 1.8 1.7-1.6 2.9-1.8z"/>
<path fill="#ff6100" d="M141.3 107.4l-2.9 1.5 1.6-1.6 3-1.5z"/>
<path fill="#ff5100" d="M144.3 106.3l-3 1.1 1.7-1.6 3-1.1z"/>
<path fill="#ff4000" d="M147.3 105.4l-3 .9 1.7-1.6 3-.8zM150.3 105l-3 .4 1.7-1.5 3-.5zM153.4 104.9l-3.1 .1 1.7-1.6 3 0zM156.4 105.2l-3-.3 1.6-1.5 3 .3zM159.5 105.8l-3.1-.6 1.6-1.5 3.1 .7zM162.5 106.8l-3-1 1.6-1.4 3 1zM165.6 108.2l-3.1-1.4 1.6-1.4 3.1 1.4z"/>
<path fill="#ff5100" d="M168.7 109.9l-3.1-1.7 1.6-1.4 3.1 1.7zM171.8 112l-3.1-2.1 1.6-1.4 3.1 2.1z"/>
<path fill="#ff6100" d="M174.9 114.4l-3.1-2.4 1.6-1.4 3 2.3z"/>
<path fill="#ff7200" d="M178 117l-3.1-2.6 1.5-1.5 3.1 2.7z"/>
<path fill="#ff8100" d="M181 119.9l-3-2.9 1.5-1.4 3.1 2.9z"/>
<path fill="#ff8f00" d="M184.1 123.1l-3.1-3.2 1.6-1.4 3 3.2z"/>
<path fill="#ff9e00" d="M187.2 126.5l-3.1-3.4 1.5-1.4 3.1 3.3z"/>
<path fill="#ffac00" d="M190.2 130l-3-3.5 1.5-1.5 3 3.6z"/>
<path fill="#ffce00" d="M193.3 133.8l-3.1-3.8 1.5-1.4 3.1 3.8z"/>
<path fill="#ffde00" d="M196.3 137.7l-3-3.9 1.5-1.4 3 4z"/>
<path fill="#ffff00" d="M199.4 141.8l-3.1-4.1 1.5-1.3 3 4.1z"/>
<path fill="#f9fd00" d="M202.4 146l-3-4.2 1.4-1.3 3 4.3z"/>
<path fill="#e3f700" d="M205.4 150.3l-3-4.3 1.4-1.2 3 4.5z"/>
<path fill="#b3ec00" d="M208.4 154.8l-3-4.5 1.4-1 3 4.6z"/>
<path fill="#7ee300" d="M211.4 159.3l-3-4.5 1.4-.9 3 4.8z"/>
<path fill="#4bd800" d="M214.4 164l-3-4.7 1.4-.6 2.9 4.9z"/>
<path fill="#19c700" d="M217.4 168.8l-3-4.8 1.3-.4 2.9 5.1z"/>
<path fill="#00ae1d" d="M220.3 173.7l-2.9-4.9 1.2-.1 3 5.3z"/>
<path fill="#008e58" d="M223.3 178.8l-3-5.1 1.3 .3 2.8 5.5z"/>
<path fill="#006a88" d="M226.2 184l-2.9-5.2 1.1 .7 2.9 5.8z"/>
<path fill="#98e700" d="M92 138l-2.8-2.6 1.8-2.3 2.8 2.6z"/>
<path fill="#7ee300" d="M94.8 139.5l-2.8-1.5 1.8-2.3 2.8 1.6zM97.6 140l-2.8-.5 1.8-2.2 2.7 .5zM100.3 139.7l-2.7 .3 1.7-2.2 2.7-.2z"/>
<path fill="#98e700" d="M103 138.8l-2.7 .9 1.7-2.1 2.7-1z"/>
<path fill="#b3ec00" d="M105.7 137.3l-2.7 1.5 1.7-2.2 2.7-1.5z"/>
<path fill="#cdf000" d="M108.4 135.3l-2.7 2 1.7-2.2 2.8-1.9z"/>
<path fill="#e3f700" d="M111.1 133.1l-2.7 2.2 1.8-2.1 2.7-2.3z"/>
<path fill="#f9fd00" d="M113.9 130.6l-2.8 2.5 1.8-2.2 2.7-2.5z"/>
<path fill="#ffff00" d="M116.6 127.9l-2.7 2.7 1.7-2.2 2.8-2.7z"/>
<path fill="#ffef00" d="M119.4 125.2l-2.8 2.7 1.8-2.2 2.7-2.7z"/>
<path fill="#ffce00" d="M122.2 122.5l-2.8 2.7 1.7-2.2 2.8-2.7z"/>
<path fill="#ffbe00" d="M125.1 119.9l-2.9 2.6 1.7-2.2 2.9-2.6z"/>
<path fill="#ffac00" d="M127.9 117.4l-2.8 2.5 1.7-2.2 2.8-2.5z"/>
<path fill="#ff8f00" d="M130.8 115l-2.9 2.4 1.7-2.2 2.9-2.4z"/>
<path fill="#ff8100" d="M133.7 112.9l-2.9 2.1 1.7-2.2 2.9-2.1z"/>
<path fill="#ff7200" d="M136.7 111.1l-3 1.8 1.7-2.2 3-1.8z"/>
<path fill="#ff6100" d="M139.6 109.6l-2.9 1.5 1.7-2.2 2.9-1.5z"/>
<path fill="#ff5100" d="M142.6 108.4l-3 1.2 1.7-2.2 3-1.1zM145.6 107.5l-3 .9 1.7-2.1 3-.9z"/>
<path fill="#ff4000" d="M148.7 107l-3.1 .5 1.7-2.1 3-.4zM151.7 106.9l-3 .1 1.6-2 3.1-.1zM154.8 107.1l-3.1-.2 1.7-2 3 .3zM157.8 107.8l-3-.7 1.6-1.9 3.1 .6zM160.9 108.8l-3.1-1 1.7-2 3 1zM164 110.1l-3.1-1.3 1.6-2 3.1 1.4z"/>
<path fill="#ff5100" d="M167.1 111.8l-3.1-1.7 1.6-1.9 3.1 1.7zM170.2 113.9l-3.1-2.1 1.6-1.9 3.1 2.1z"/>
<path fill="#ff6100" d="M173.3 116.2l-3.1-2.3 1.6-1.9 3.1 2.4z"/>
<path fill="#ff7200" d="M176.4 118.8l-3.1-2.6 1.6-1.8 3.1 2.6z"/>
<path fill="#ff8100" d="M179.5 121.7l-3.1-2.9 1.6-1.8 3 2.9z"/>
<path fill="#ff8f00" d="M182.6 124.9l-3.1-3.2 1.5-1.8 3.1 3.2z"/>
<path fill="#ff9e00" d="M185.7 128.2l-3.1-3.3 1.5-1.8 3.1 3.4z"/>
<path fill="#ffbe00" d="M188.7 131.8l-3-3.6 1.5-1.7 3 3.5z"/>
<path fill="#ffce00" d="M191.8 135.5l-3.1-3.7 1.5-1.8 3.1 3.8z"/>
<path fill="#ffde00" d="M194.9 139.4l-3.1-3.9 1.5-1.7 3 3.9z"/>
<path fill="#ffff00" d="M197.9 143.4l-3-4 1.4-1.7 3.1 4.1z"/>
<path fill="#f9fd00" d="M201 147.5l-3.1-4.1 1.5-1.6 3 4.2z"/>
<path fill="#e3f700" d="M204 151.7l-3-4.2 1.4-1.5 3 4.3z"/>
<path fill="#b3ec00" d="M207 155.9l-3-4.2 1.4-1.4 3 4.5z"/>
<path fill="#7ee300" d="M210.1 160.3l-3.1-4.4 1.4-1.1 3 4.5z"/>
<path fill="#64df00" d="M213.1 164.7l-3-4.4 1.3-1 3 4.7z"/>
<path fill="#32d000" d="M216.1 169.1l-3-4.4 1.3-.7 3 4.8z"/>
<path fill="#00be00" d="M219.1 173.6l-3-4.5 1.3-.3 2.9 4.9z"/>
<path fill="#009e3b" d="M222.1 178.1l-3-4.5 1.2 .1 3 5.1z"/>
<path fill="#007c71" d="M225 182.7l-2.9-4.6 1.2 .7 2.9 5.2z"/>
<path fill="#98e700" d="M90.3 140.4l-2.9-2.5 1.8-2.5 2.8 2.6z"/>
<path fill="#7ee300" d="M93.1 141.8l-2.8-1.4 1.7-2.4 2.8 1.5zM95.8 142.3l-2.7-.5 1.7-2.3 2.8 .5zM98.5 142l-2.7 .3 1.8-2.3 2.7-.3zM101.3 141.1l-2.8 .9 1.8-2.3 2.7-.9z"/>
<path fill="#98e700" d="M104 139.6l-2.7 1.5 1.7-2.3 2.7-1.5z"/>
<path fill="#b3ec00" d="M106.7 137.7l-2.7 1.9 1.7-2.3 2.7-2z"/>
<path fill="#cdf000" d="M109.4 135.5l-2.7 2.2 1.7-2.4 2.7-2.2z"/>
<path fill="#f9fd00" d="M112.2 133.1l-2.8 2.4 1.7-2.4 2.8-2.5z"/>
<path fill="#ffff00" d="M114.9 130.5l-2.7 2.6 1.7-2.5 2.7-2.7zM117.7 127.8l-2.8 2.7 1.7-2.6 2.8-2.7z"/>
<path fill="#ffde00" d="M120.5 125.2l-2.8 2.6 1.7-2.6 2.8-2.7z"/>
<path fill="#ffce00" d="M123.4 122.6l-2.9 2.6 1.7-2.7 2.9-2.6z"/>
<path fill="#ffac00" d="M126.2 120.1l-2.8 2.5 1.7-2.7 2.8-2.5z"/>
<path fill="#ff9e00" d="M129.1 117.8l-2.9 2.3 1.7-2.7 2.9-2.4z"/>
<path fill="#ff8f00" d="M132 115.7l-2.9 2.1 1.7-2.8 2.9-2.1z"/>
<path fill="#ff8100" d="M135 113.8l-3 1.9 1.7-2.8 3-1.8z"/>
<path fill="#ff7200" d="M137.9 112.3l-2.9 1.5 1.7-2.7 2.9-1.5z"/>
<path fill="#ff6100" d="M140.9 111l-3 1.3 1.7-2.7 3-1.2z"/>
<path fill="#ff5100" d="M144 110.1l-3.1 .9 1.7-2.6 3-.9zM147 109.6l-3 .5 1.6-2.6 3.1-.5z"/>
<path fill="#ff4000" d="M150 109.4l-3 .2 1.7-2.6 3-.1zM153.1 109.6l-3.1-.2 1.7-2.5 3.1 .2zM156.2 110.2l-3.1-.6 1.7-2.5 3 .7zM159.3 111.2l-3.1-1 1.6-2.4 3.1 1z"/>
<path fill="#ff5100" d="M162.4 112.5l-3.1-1.3 1.6-2.4 3.1 1.3zM165.5 114.1l-3.1-1.6 1.6-2.4 3.1 1.7z"/>
<path fill="#ff6100" d="M168.6 116.1l-3.1-2 1.6-2.3 3.1 2.1z"/>
<path fill="#ff7200" d="M171.7 118.4l-3.1-2.3 1.6-2.2 3.1 2.3zM174.8 121l-3.1-2.6 1.6-2.2 3.1 2.6z"/>
<path fill="#ff8100" d="M177.9 123.9l-3.1-2.9 1.6-2.2 3.1 2.9z"/>
<path fill="#ff8f00" d="M181 127l-3.1-3.1 1.6-2.2 3.1 3.2z"/>
<path fill="#ffac00" d="M184.1 130.4l-3.1-3.4 1.6-2.1 3.1 3.3z"/>
<path fill="#ffbe00" d="M187.2 133.9l-3.1-3.5 1.6-2.2 3 3.6z"/>
<path fill="#ffce00" d="M190.3 137.5l-3.1-3.6 1.5-2.1 3.1 3.7z"/>
<path fill="#ffef00" d="M193.4 141.4l-3.1-3.9 1.5-2 3.1 3.9z"/>
<path fill="#ffff00" d="M196.5 145.3l-3.1-3.9 1.5-2 3 4z"/>
<path fill="#f9fd00" d="M199.5 149.3l-3-4 1.4-1.9 3.1 4.1z"/>
<path fill="#e3f700" d="M202.6 153.3l-3.1-4 1.5-1.8 3 4.2z"/>
<path fill="#b3ec00" d="M205.6 157.4l-3-4.1 1.4-1.6 3 4.2z"/>
<path fill="#7ee300" d="M208.7 161.5l-3.1-4.1 1.4-1.5 3.1 4.4z"/>
<path fill="#64df00" d="M211.7 165.6l-3-4.1 1.4-1.2 3 4.4z"/>
<path fill="#32d000" d="M214.8 169.6l-3.1-4 1.4-.9 3 4.4z"/>
<path fill="#00be00" d="M217.8 173.6l-3-4 1.3-.5 3 4.5z"/>
<path fill="#00ae1d" d="M220.8 177.6l-3-4 1.3 0 3 4.5z"/>
<path fill="#008e58" d="M223.9 181.5l-3.1-3.9 1.3 .5 2.9 4.6z"/>
<path fill="#7ee300" d="M88.5 142.9l-2.8-2.4 1.7-2.6 2.9 2.5z"/>
<path fill="#64df00" d="M91.3 144.2l-2.8-1.3 1.8-2.5 2.8 1.4zM94.1 144.7l-2.8-.5 1.8-2.4 2.7 .5zM96.8 144.5l-2.7 .2 1.7-2.4 2.7-.3z"/>
<path fill="#7ee300" d="M99.5 143.6l-2.7 .9 1.7-2.5 2.8-.9z"/>
<path fill="#98e700" d="M102.2 142.2l-2.7 1.4 1.8-2.5 2.7-1.5z"/>
<path fill="#b3ec00" d="M105 140.4l-2.8 1.8 1.8-2.6 2.7-1.9z"/>
<path fill="#cdf000" d="M107.7 138.3l-2.7 2.1 1.7-2.7 2.7-2.2z"/>
<path fill="#e3f700" d="M110.4 136l-2.7 2.3 1.7-2.8 2.8-2.4z"/>
<path fill="#f9fd00" d="M113.2 133.5l-2.8 2.5 1.8-2.9 2.7-2.6z"/>
<path fill="#ffff00" d="M116 130.9l-2.8 2.6 1.7-3 2.8-2.7z"/>
<path fill="#ffef00" d="M118.8 128.3l-2.8 2.6 1.7-3.1 2.8-2.6z"/>
<path fill="#ffce00" d="M121.6 125.7l-2.8 2.6 1.7-3.1 2.9-2.6z"/>
<path fill="#ffbe00" d="M124.5 123.3l-2.9 2.4 1.8-3.1 2.8-2.5z"/>
<path fill="#ffac00" d="M127.4 121l-2.9 2.3 1.7-3.2 2.9-2.3z"/>
<path fill="#ff9e00" d="M130.3 118.9l-2.9 2.1 1.7-3.2 2.9-2.1z"/>
<path fill="#ff8f00" d="M133.3 117.1l-3 1.8 1.7-3.2 3-1.9z"/>
<path fill="#ff8100" d="M136.2 115.5l-2.9 1.6 1.7-3.3 2.9-1.5z"/>
<path fill="#ff7200" d="M139.2 114.2l-3 1.3 1.7-3.2 3-1.3z"/>
<path fill="#ff6100" d="M142.3 113.3l-3.1 .9 1.7-3.2 3.1-.9zM145.3 112.7l-3 .6 1.7-3.2 3-.5z"/>
<path fill="#ff5100" d="M148.4 112.5l-3.1 .2 1.7-3.1 3-.2zM151.4 112.6l-3-.1 1.6-3.1 3.1 .2zM154.5 113.1l-3.1-.5 1.7-3 3.1 .6zM157.6 114l-3.1-.9 1.7-2.9 3.1 1zM160.7 115.3l-3.1-1.3 1.7-2.8 3.1 1.3z"/>
<path fill="#ff6100" d="M163.9 116.9l-3.2-1.6 1.7-2.8 3.1 1.6zM167 118.8l-3.1-1.9 1.6-2.8 3.1 2z"/>
<path fill="#ff7200" d="M170.1 121l-3.1-2.2 1.6-2.7 3.1 2.3z"/>
<path fill="#ff8100" d="M173.2 123.6l-3.1-2.6 1.6-2.6 3.1 2.6z"/>
<path fill="#ff8f00" d="M176.3 126.4l-3.1-2.8 1.6-2.6 3.1 2.9z"/>
<path fill="#ff9e00" d="M179.5 129.5l-3.2-3.1 1.6-2.5 3.1 3.1z"/>
<path fill="#ffac00" d="M182.6 132.8l-3.1-3.3 1.5-2.5 3.1 3.4z"/>
<path fill="#ffbe00" d="M185.7 136.2l-3.1-3.4 1.5-2.4 3.1 3.5z"/>
<path fill="#ffde00" d="M188.8 139.9l-3.1-3.7 1.5-2.3 3.1 3.6z"/>
<path fill="#ffef00" d="M191.9 143.6l-3.1-3.7 1.5-2.4 3.1 3.9z"/>
<path fill="#ffff00" d="M195 147.4l-3.1-3.8 1.5-2.2 3.1 3.9z"/>
<path fill="#f9fd00" d="M198 151.3l-3-3.9 1.5-2.1 3 4z"/>
<path fill="#cdf000" d="M201.1 155.2l-3.1-3.9 1.5-2 3.1 4z"/>
<path fill="#b3ec00" d="M204.2 159.1l-3.1-3.9 1.5-1.9 3 4.1z"/>
<path fill="#7ee300" d="M207.3 163l-3.1-3.9 1.4-1.7 3.1 4.1z"/>
<path fill="#64df00" d="M210.4 166.7l-3.1-3.7 1.4-1.5 3 4.1z"/>
<path fill="#32d000" d="M213.4 170.4l-3-3.7 1.3-1.1 3.1 4z"/>
<path fill="#19c700" d="M216.5 173.9l-3.1-3.5 1.4-.8 3 4z"/>
<path fill="#00be00" d="M219.6 177.2l-3.1-3.3 1.3-.3 3 4z"/>
<path fill="#009e3b" d="M222.7 180.4l-3.1-3.2 1.2 .4 3.1 3.9z"/>
<path fill="#64df00" d="M86.7 145.5l-2.8-2.2 1.8-2.8 2.8 2.4zM89.5 146.8l-2.8-1.3 1.8-2.6 2.8 1.3z"/>
<path fill="#4bd800" d="M92.3 147.3l-2.8-.5 1.8-2.6 2.8 .5z"/>
<path fill="#64df00" d="M95 147.1l-2.7 .2 1.8-2.6 2.7-.2zM97.8 146.3l-2.8 .8 1.8-2.6 2.7-.9z"/>
<path fill="#7ee300" d="M100.5 145l-2.7 1.3 1.7-2.7 2.7-1.4z"/>
<path fill="#98e700" d="M103.2 143.4l-2.7 1.6 1.7-2.8 2.8-1.8z"/>
<path fill="#b3ec00" d="M106 141.4l-2.8 2 1.8-3 2.7-2.1z"/>
<path fill="#cdf000" d="M108.7 139.2l-2.7 2.2 1.7-3.1 2.7-2.3z"/>
<path fill="#e3f700" d="M111.5 136.8l-2.8 2.4 1.7-3.2 2.8-2.5z"/>
<path fill="#ffff00" d="M114.3 134.3l-2.8 2.5 1.7-3.3 2.8-2.6zM117.1 131.8l-2.8 2.5 1.7-3.4 2.8-2.6z"/>
<path fill="#ffde00" d="M119.9 129.4l-2.8 2.4 1.7-3.5 2.8-2.6z"/>
<path fill="#ffce00" d="M122.8 127l-2.9 2.4 1.7-3.7 2.9-2.4z"/>
<path fill="#ffbe00" d="M125.7 124.7l-2.9 2.3 1.7-3.7 2.9-2.3z"/>
<path fill="#ffac00" d="M128.6 122.7l-2.9 2 1.7-3.7 2.9-2.1z"/>
<path fill="#ff9e00" d="M131.6 120.8l-3 1.9 1.7-3.8 3-1.8z"/>
<path fill="#ff8f00" d="M134.5 119.2l-2.9 1.6 1.7-3.7 2.9-1.6z"/>
<path fill="#ff8100" d="M137.5 117.9l-3 1.3 1.7-3.7 3-1.3z"/>
<path fill="#ff7200" d="M140.6 116.9l-3.1 1 1.7-3.7 3.1-.9zM143.6 116.3l-3 .6 1.7-3.6 3-.6z"/>
<path fill="#ff6100" d="M146.7 116l-3.1 .3 1.7-3.6 3.1-.2zM149.8 116l-3.1 0 1.7-3.5 3 .1zM152.9 116.5l-3.1-.5 1.6-3.4 3.1 .5zM156 117.3l-3.1-.8 1.6-3.4 3.1 .9zM159.1 118.4l-3.1-1.1 1.6-3.3 3.1 1.3z"/>
<path fill="#ff7200" d="M162.2 119.9l-3.1-1.5 1.6-3.1 3.2 1.6zM165.3 121.8l-3.1-1.9 1.7-3 3.1 1.9z"/>
<path fill="#ff8100" d="M168.5 124l-3.2-2.2 1.7-3 3.1 2.2z"/>
<path fill="#ff8f00" d="M171.6 126.4l-3.1-2.4 1.6-3 3.1 2.6z"/>
<path fill="#ff9e00" d="M174.7 129.2l-3.1-2.8 1.6-2.8 3.1 2.8z"/>
<path fill="#ffac00" d="M177.9 132.2l-3.2-3 1.6-2.8 3.2 3.1z"/>
<path fill="#ffbe00" d="M181 135.4l-3.1-3.2 1.6-2.7 3.1 3.3z"/>
<path fill="#ffce00" d="M184.1 138.8l-3.1-3.4 1.6-2.6 3.1 3.4z"/>
<path fill="#ffde00" d="M187.2 142.4l-3.1-3.6 1.6-2.6 3.1 3.7z"/>
<path fill="#ffff00" d="M190.3 146.1l-3.1-3.7 1.6-2.5 3.1 3.7zM193.4 149.8l-3.1-3.7 1.6-2.5 3.1 3.8z"/>
<path fill="#f9fd00" d="M196.5 153.6l-3.1-3.8 1.6-2.4 3 3.9z"/>
<path fill="#cdf000" d="M199.6 157.4l-3.1-3.8 1.5-2.3 3.1 3.9z"/>
<path fill="#b3ec00" d="M202.7 161.1l-3.1-3.7 1.5-2.2 3.1 3.9z"/>
<path fill="#7ee300" d="M205.8 164.7l-3.1-3.6 1.5-2 3.1 3.9z"/>
<path fill="#64df00" d="M208.9 168.1l-3.1-3.4 1.5-1.7 3.1 3.7z"/>
<path fill="#4bd800" d="M212.1 171.4l-3.2-3.3 1.5-1.4 3 3.7z"/>
<path fill="#19c700" d="M215.2 174.4l-3.1-3 1.3-1 3.1 3.5z"/>
<path fill="#00be00" d="M218.3 177.1l-3.1-2.7 1.3-.5 3.1 3.3z"/>
<path fill="#00ae1d" d="M221.5 179.4l-3.2-2.3 1.3 .1 3.1 3.2z"/>
<path fill="#64df00" d="M84.9 148.2l-2.8-2 1.8-2.9 2.8 2.2z"/>
<path fill="#4bd800" d="M87.7 149.5l-2.8-1.3 1.8-2.7 2.8 1.3zM90.5 150l-2.8-.5 1.8-2.7 2.8 .5zM93.3 149.8l-2.8 .2 1.8-2.7 2.7-.2zM96 149.2l-2.7 .6 1.7-2.7 2.8-.8z"/>
<path fill="#64df00" d="M98.7 148.1l-2.7 1.1 1.8-2.9 2.7-1.3z"/>
<path fill="#7ee300" d="M101.5 146.6l-2.8 1.5 1.8-3.1 2.7-1.6z"/>
<path fill="#98e700" d="M104.2 144.7l-2.7 1.9 1.7-3.2 2.8-2z"/>
<path fill="#b3ec00" d="M107 142.7l-2.8 2 1.8-3.3 2.7-2.2z"/>
<path fill="#cdf000" d="M109.8 140.5l-2.8 2.2 1.7-3.5 2.8-2.4z"/>
<path fill="#f9fd00" d="M112.6 138.2l-2.8 2.3 1.7-3.7 2.8-2.5z"/>
<path fill="#ffff00" d="M115.4 135.8l-2.8 2.4 1.7-3.9 2.8-2.5zM118.2 133.4l-2.8 2.4 1.7-4 2.8-2.4z"/>
<path fill="#ffde00" d="M121.1 131.1l-2.9 2.3 1.7-4 2.9-2.4z"/>
<path fill="#ffce00" d="M124 128.9l-2.9 2.2 1.7-4.1 2.9-2.3z"/>
<path fill="#ffbe00" d="M126.9 126.9l-2.9 2 1.7-4.2 2.9-2z"/>
<path fill="#ffac00" d="M129.9 125.1l-3 1.8 1.7-4.2 3-1.9z"/>
<path fill="#ff9e00" d="M132.8 123.4l-2.9 1.7 1.7-4.3 2.9-1.6z"/>
<path fill="#ff8f00" d="M135.9 122.1l-3.1 1.3 1.7-4.2 3-1.3z"/>
<path fill="#ff8100" d="M138.9 121l-3 1.1 1.6-4.2 3.1-1zM141.9 120.3l-3 .7 1.7-4.1 3-.6z"/>
<path fill="#ff7200" d="M145 119.9l-3.1 .4 1.7-4 3.1-.3zM148.1 119.9l-3.1 0 1.7-3.9 3.1 0zM151.2 120.2l-3.1-.3 1.7-3.9 3.1 .5zM154.3 120.9l-3.1-.7 1.7-3.7 3.1 .8zM157.4 121.9l-3.1-1 1.7-3.6 3.1 1.1zM160.5 123.3l-3.1-1.4 1.7-3.5 3.1 1.5z"/>
<path fill="#ff8100" d="M163.7 125.1l-3.2-1.8 1.7-3.4 3.1 1.9z"/>
<path fill="#ff8f00" d="M166.8 127.1l-3.1-2 1.6-3.3 3.2 2.2zM170 129.5l-3.2-2.4 1.7-3.1 3.1 2.4z"/>
<path fill="#ff9e00" d="M173.1 132.2l-3.1-2.7 1.6-3.1 3.1 2.8z"/>
<path fill="#ffac00" d="M176.3 135.1l-3.2-2.9 1.6-3 3.2 3z"/>
<path fill="#ffbe00" d="M179.4 138.3l-3.1-3.2 1.6-2.9 3.1 3.2z"/>
<path fill="#ffde00" d="M182.5 141.7l-3.1-3.4 1.6-2.9 3.1 3.4z"/>
<path fill="#ffef00" d="M185.7 145.1l-3.2-3.4 1.6-2.9 3.1 3.6z"/>
<path fill="#ffff00" d="M188.8 148.7l-3.1-3.6 1.5-2.7 3.1 3.7z"/>
<path fill="#f9fd00" d="M191.9 152.4l-3.1-3.7 1.5-2.6 3.1 3.7z"/>
<path fill="#e3f700" d="M195 156.1l-3.1-3.7 1.5-2.6 3.1 3.8z"/>
<path fill="#cdf000" d="M198.1 159.7l-3.1-3.6 1.5-2.5 3.1 3.8z"/>
<path fill="#98e700" d="M201.3 163.2l-3.2-3.5 1.5-2.3 3.1 3.7z"/>
<path fill="#7ee300" d="M204.4 166.6l-3.1-3.4 1.4-2.1 3.1 3.6z"/>
<path fill="#64df00" d="M207.5 169.7l-3.1-3.1 1.4-1.9 3.1 3.4z"/>
<path fill="#4bd800" d="M210.7 172.5l-3.2-2.8 1.4-1.6 3.2 3.3z"/>
<path fill="#32d000" d="M213.8 175l-3.1-2.5 1.4-1.1 3.1 3z"/>
<path fill="#19c700" d="M217 177.1l-3.2-2.1 1.4-.6 3.1 2.7z"/>
<path fill="#00be00" d="M220.3 178.6l-3.3-1.5 1.3 0 3.2 2.3z"/>
<path fill="#4bd800" d="M83.1 151.1l-2.8-1.9 1.8-3 2.8 2z"/>
<path fill="#32d000" d="M85.9 152.3l-2.8-1.2 1.8-2.9 2.8 1.3zM88.7 152.8l-2.8-.5 1.8-2.8 2.8 .5zM91.5 152.8l-2.8 0 1.8-2.8 2.8-.2z"/>
<path fill="#4bd800" d="M94.2 152.2l-2.7 .6 1.8-3 2.7-.6zM97 151.3l-2.8 .9 1.8-3 2.7-1.1z"/>
<path fill="#64df00" d="M99.7 150l-2.7 1.3 1.7-3.2 2.8-1.5z"/>
<path fill="#7ee300" d="M102.5 148.4l-2.8 1.6 1.8-3.4 2.7-1.9z"/>
<path fill="#98e700" d="M105.3 146.5l-2.8 1.9 1.7-3.7 2.8-2z"/>
<path fill="#b3ec00" d="M108.1 144.5l-2.8 2 1.7-3.8 2.8-2.2z"/>
<path fill="#cdf000" d="M110.9 142.3l-2.8 2.2 1.7-4 2.8-2.3z"/>
<path fill="#f9fd00" d="M113.7 140.1l-2.8 2.2 1.7-4.1 2.8-2.4z"/>
<path fill="#ffff00" d="M116.5 137.9l-2.8 2.2 1.7-4.3 2.8-2.4zM119.4 135.7l-2.9 2.2 1.7-4.5 2.9-2.3z"/>
<path fill="#ffef00" d="M122.3 133.5l-2.9 2.2 1.7-4.6 2.9-2.2z"/>
<path fill="#ffce00" d="M125.2 131.5l-2.9 2 1.7-4.6 2.9-2z"/>
<path fill="#ffbe00" d="M128.2 129.7l-3 1.8 1.7-4.6 3-1.8z"/>
<path fill="#ffac00" d="M131.1 128.1l-2.9 1.6 1.7-4.6 2.9-1.7z"/>
<path fill="#ff9e00" d="M134.1 126.7l-3 1.4 1.7-4.7 3.1-1.3zM137.2 125.6l-3.1 1.1 1.8-4.6 3-1.1z"/>
<path fill="#ff8f00" d="M140.2 124.7l-3 .9 1.7-4.6 3-.7zM143.3 124.2l-3.1 .5 1.7-4.4 3.1-.4z"/>
<path fill="#ff8100" d="M146.4 124.1l-3.1 .1 1.7-4.3 3.1 0zM149.5 124.3l-3.1-.2 1.7-4.2 3.1 .3zM152.6 124.8l-3.1-.5 1.7-4.1 3.1 .7zM155.7 125.7l-3.1-.9 1.7-3.9 3.1 1zM158.9 127l-3.2-1.3 1.7-3.8 3.1 1.4z"/>
<path fill="#ff8f00" d="M162 128.6l-3.1-1.6 1.6-3.7 3.2 1.8zM165.2 130.5l-3.2-1.9 1.7-3.5 3.1 2z"/>
<path fill="#ff9e00" d="M168.3 132.8l-3.1-2.3 1.6-3.4 3.2 2.4z"/>
<path fill="#ffac00" d="M171.5 135.4l-3.2-2.6 1.7-3.3 3.1 2.7z"/>
<path fill="#ffbe00" d="M174.6 138.2l-3.1-2.8 1.6-3.2 3.2 2.9z"/>
<path fill="#ffce00" d="M177.8 141.3l-3.2-3.1 1.7-3.1 3.1 3.2z"/>
<path fill="#ffde00" d="M180.9 144.6l-3.1-3.3 1.6-3 3.1 3.4z"/>
<path fill="#ffff00" d="M184.1 148l-3.2-3.4 1.6-2.9 3.2 3.4zM187.2 151.6l-3.1-3.6 1.6-2.9 3.1 3.6z"/>
<path fill="#f9fd00" d="M190.4 155.1l-3.2-3.5 1.6-2.9 3.1 3.7z"/>
<path fill="#e3f700" d="M193.5 158.7l-3.1-3.6 1.5-2.7 3.1 3.7z"/>
<path fill="#b3ec00" d="M196.6 162.2l-3.1-3.5 1.5-2.6 3.1 3.6z"/>
<path fill="#98e700" d="M199.8 165.5l-3.2-3.3 1.5-2.5 3.2 3.5z"/>
<path fill="#7ee300" d="M202.9 168.6l-3.1-3.1 1.5-2.3 3.1 3.4z"/>
<path fill="#64df00" d="M206.1 171.4l-3.2-2.8 1.5-2 3.1 3.1z"/>
<path fill="#4bd800" d="M209.3 173.9l-3.2-2.5 1.4-1.7 3.2 2.8z"/>
<path fill="#32d000" d="M212.5 175.9l-3.2-2 1.4-1.4 3.1 2.5z"/>
<path fill="#19c700" d="M215.7 177.3l-3.2-1.4 1.3-.9 3.2 2.1zM219 178l-3.3-.7 1.3-.2 3.3 1.5z"/>
<path fill="#32d000" d="M81.3 154.1l-2.8-1.8 1.8-3.1 2.8 1.9z"/>
<path fill="#19c700" d="M84.2 155.2l-2.9-1.1 1.8-3 2.8 1.2zM86.9 155.8l-2.7-.6 1.7-2.9 2.8 .5zM89.7 155.8l-2.8 0 1.8-3 2.8 0z"/>
<path fill="#32d000" d="M92.5 155.4l-2.8 .4 1.8-3 2.7-.6zM95.2 154.7l-2.7 .7 1.7-3.2 2.8-.9z"/>
<path fill="#4bd800" d="M98 153.6l-2.8 1.1 1.8-3.4 2.7-1.3z"/>
<path fill="#64df00" d="M100.8 152.2l-2.8 1.4 1.7-3.6 2.8-1.6z"/>
<path fill="#7ee300" d="M103.5 150.6l-2.7 1.6 1.7-3.8 2.8-1.9z"/>
<path fill="#98e700" d="M106.3 148.7l-2.8 1.9 1.8-4.1 2.8-2z"/>
<path fill="#b3ec00" d="M109.1 146.8l-2.8 1.9 1.8-4.2 2.8-2.2z"/>
<path fill="#cdf000" d="M112 144.7l-2.9 2.1 1.8-4.5 2.8-2.2z"/>
<path fill="#f9fd00" d="M114.8 142.6l-2.8 2.1 1.7-4.6 2.8-2.2z"/>
<path fill="#ffff00" d="M117.7 140.5l-2.9 2.1 1.7-4.7 2.9-2.2zM120.6 138.5l-2.9 2 1.7-4.8 2.9-2.2z"/>
<path fill="#ffef00" d="M123.5 136.5l-2.9 2 1.7-5 2.9-2z"/>
<path fill="#ffde00" d="M126.5 134.7l-3 1.8 1.7-5 3-1.8z"/>
<path fill="#ffce00" d="M129.4 133.1l-2.9 1.6 1.7-5 2.9-1.6z"/>
<path fill="#ffbe00" d="M132.4 131.6l-3 1.5 1.7-5 3-1.4z"/>
<path fill="#ffac00" d="M135.5 130.4l-3.1 1.2 1.7-4.9 3.1-1.1zM138.5 129.5l-3 .9 1.7-4.8 3-.9z"/>
<path fill="#ff9e00" d="M141.6 128.9l-3.1 .6 1.7-4.8 3.1-.5zM144.7 128.6l-3.1 .3 1.7-4.7 3.1-.1z"/>
<path fill="#ff8f00" d="M147.8 128.6l-3.1 0 1.7-4.5 3.1 .2zM150.9 129l-3.1-.4 1.7-4.3 3.1 .5zM154 129.7l-3.1-.7 1.7-4.2 3.1 .9z"/>
<path fill="#ff9e00" d="M157.2 130.8l-3.2-1.1 1.7-4 3.2 1.3zM160.4 132.3l-3.2-1.5 1.7-3.8 3.1 1.6zM163.5 134.1l-3.1-1.8 1.6-3.7 3.2 1.9z"/>
<path fill="#ffac00" d="M166.7 136.3l-3.2-2.2 1.7-3.6 3.1 2.3z"/>
<path fill="#ffbe00" d="M169.8 138.7l-3.1-2.4 1.6-3.5 3.2 2.6z"/>
<path fill="#ffce00" d="M173 141.5l-3.2-2.8 1.7-3.3 3.1 2.8z"/>
<path fill="#ffde00" d="M176.2 144.5l-3.2-3 1.6-3.3 3.2 3.1z"/>
<path fill="#ffef00" d="M179.3 147.6l-3.1-3.1 1.6-3.2 3.1 3.3z"/>
<path fill="#ffff00" d="M182.5 151l-3.2-3.4 1.6-3 3.2 3.4zM185.6 154.4l-3.1-3.4 1.6-3 3.1 3.6z"/>
<path fill="#e3f700" d="M188.8 157.9l-3.2-3.5 1.6-2.8 3.2 3.5z"/>
<path fill="#cdf000" d="M192 161.4l-3.2-3.5 1.6-2.8 3.1 3.6z"/>
<path fill="#b3ec00" d="M195.1 164.7l-3.1-3.3 1.5-2.7 3.1 3.5z"/>
<path fill="#7ee300" d="M198.3 167.9l-3.2-3.2 1.5-2.5 3.2 3.3z"/>
<path fill="#64df00" d="M201.4 170.8l-3.1-2.9 1.5-2.4 3.1 3.1z"/>
<path fill="#4bd800" d="M204.6 173.3l-3.2-2.5 1.5-2.2 3.2 2.8zM207.8 175.4l-3.2-2.1 1.5-1.9 3.2 2.5z"/>
<path fill="#32d000" d="M211.1 176.9l-3.3-1.5 1.5-1.5 3.2 2zM214.4 177.7l-3.3-.8 1.4-1 3.2 1.4zM217.7 177.6l-3.3 .1 1.3-.4 3.3 .7z"/>
<path fill="#19c700" d="M79.5 157.2l-2.8-1.5 1.8-3.4 2.8 1.8zM82.4 158.2l-2.9-1 1.8-3.1 2.9 1.1z"/>
<path fill="#00be00" d="M85.1 158.8l-2.7-.6 1.8-3 2.7 .6z"/>
<path fill="#19c700" d="M87.9 159l-2.8-.2 1.8-3 2.8 0zM90.7 158.8l-2.8 .2 1.8-3.2 2.8-.4zM93.5 158.2l-2.8 .6 1.8-3.4 2.7-.7z"/>
<path fill="#32d000" d="M96.3 157.3l-2.8 .9 1.7-3.5 2.8-1.1z"/>
<path fill="#4bd800" d="M99 156.2l-2.7 1.1 1.7-3.7 2.8-1.4z"/>
<path fill="#64df00" d="M101.8 154.8l-2.8 1.4 1.8-4 2.7-1.6z"/>
<path fill="#7ee300" d="M104.6 153.2l-2.8 1.6 1.7-4.2 2.8-1.9z"/>
<path fill="#98e700" d="M107.4 151.4l-2.8 1.8 1.7-4.5 2.8-1.9z"/>
<path fill="#b3ec00" d="M110.3 149.6l-2.9 1.8 1.7-4.6 2.9-2.1z"/>
<path fill="#cdf000" d="M113.1 147.6l-2.8 2 1.7-4.9 2.8-2.1z"/>
<path fill="#e3f700" d="M116 145.6l-2.9 2 1.7-5 2.9-2.1z"/>
<path fill="#f9fd00" d="M118.9 143.7l-2.9 1.9 1.7-5.1 2.9-2z"/>
<path fill="#ffff00" d="M121.8 141.8l-2.9 1.9 1.7-5.2 2.9-2zM124.8 140l-3 1.8 1.7-5.3 3-1.8z"/>
<path fill="#ffef00" d="M127.7 138.3l-2.9 1.7 1.7-5.3 2.9-1.6z"/>
<path fill="#ffde00" d="M130.7 136.8l-3 1.5 1.7-5.2 3-1.5z"/>
<path fill="#ffce00" d="M133.8 135.5l-3.1 1.3 1.7-5.2 3.1-1.2z"/>
<path fill="#ffbe00" d="M136.8 134.5l-3 1 1.7-5.1 3-.9zM139.9 133.7l-3.1 .8 1.7-5 3.1-.6z"/>
<path fill="#ffac00" d="M143 133.3l-3.1 .4 1.7-4.8 3.1-.3zM146.1 133.2l-3.1 .1 1.7-4.7 3.1 0zM149.2 133.4l-3.1-.2 1.7-4.6 3.1 .4zM152.3 133.9l-3.1-.5 1.7-4.4 3.1 .7zM155.5 134.9l-3.2-1 1.7-4.2 3.2 1.1zM158.7 136.2l-3.2-1.3 1.7-4.1 3.2 1.5z"/>
<path fill="#ffbe00" d="M161.8 137.8l-3.1-1.6 1.7-3.9 3.1 1.8zM165 139.8l-3.2-2 1.7-3.7 3.2 2.2z"/>
<path fill="#ffce00" d="M168.2 142.2l-3.2-2.4 1.7-3.5 3.1 2.4z"/>
<path fill="#ffde00" d="M171.4 144.8l-3.2-2.6 1.6-3.5 3.2 2.8z"/>
<path fill="#ffef00" d="M174.5 147.6l-3.1-2.8 1.6-3.3 3.2 3z"/>
<path fill="#ffff00" d="M177.7 150.7l-3.2-3.1 1.7-3.1 3.1 3.1zM180.9 154l-3.2-3.3 1.6-3.1 3.2 3.4z"/>
<path fill="#f9fd00" d="M184.1 157.4l-3.2-3.4 1.6-3 3.1 3.4z"/>
<path fill="#e3f700" d="M187.2 160.8l-3.1-3.4 1.5-3 3.2 3.5z"/>
<path fill="#b3ec00" d="M190.4 164.1l-3.2-3.3 1.6-2.9 3.2 3.5z"/>
<path fill="#98e700" d="M193.6 167.4l-3.2-3.3 1.6-2.7 3.1 3.3z"/>
<path fill="#7ee300" d="M196.7 170.4l-3.1-3 1.5-2.7 3.2 3.2z"/>
<path fill="#64df00" d="M199.9 173.1l-3.2-2.7 1.6-2.5 3.1 2.9z"/>
<path fill="#4bd800" d="M203.1 175.4l-3.2-2.3 1.5-2.3 3.2 2.5z"/>
<path fill="#32d000" d="M206.4 177.1l-3.3-1.7 1.5-2.1 3.2 2.1zM209.7 178.1l-3.3-1 1.4-1.7 3.3 1.5zM213 178.3l-3.3-.2 1.4-1.2 3.3 .8zM216.4 177.5l-3.4 .8 1.4-.6 3.3-.1z"/>
<path fill="#00be00" d="M77.7 160.4l-2.8-1.3 1.8-3.4 2.8 1.5zM80.5 161.4l-2.8-1 1.8-3.2 2.9 1zM83.3 162l-2.8-.6 1.9-3.2 2.7 .6zM86.1 162.3l-2.8-.3 1.8-3.2 2.8 .2zM88.9 162.2l-2.8 .1 1.8-3.3 2.8-.2zM91.7 161.9l-2.8 .3 1.8-3.4 2.8-.6z"/>
<path fill="#19c700" d="M94.5 161.2l-2.8 .7 1.8-3.7 2.8-.9zM97.3 160.3l-2.8 .9 1.8-3.9 2.7-1.1z"/>
<path fill="#32d000" d="M100.1 159.1l-2.8 1.2 1.7-4.1 2.8-1.4z"/>
<path fill="#4bd800" d="M102.9 157.8l-2.8 1.3 1.7-4.3 2.8-1.6z"/>
<path fill="#64df00" d="M105.7 156.2l-2.8 1.6 1.7-4.6 2.8-1.8z"/>
<path fill="#7ee300" d="M108.6 154.5l-2.9 1.7 1.7-4.8 2.9-1.8z"/>
<path fill="#98e700" d="M111.4 152.8l-2.8 1.7 1.7-4.9 2.8-2z"/>
<path fill="#b3ec00" d="M114.3 150.9l-2.9 1.9 1.7-5.2 2.9-2z"/>
<path fill="#cdf000" d="M117.2 149l-2.9 1.9 1.7-5.3 2.9-1.9z"/>
<path fill="#f9fd00" d="M120.1 147.2l-2.9 1.8 1.7-5.3 2.9-1.9z"/>
<path fill="#ffff00" d="M123.1 145.4l-3 1.8 1.7-5.4 3-1.8zM126 143.7l-2.9 1.7 1.7-5.4 2.9-1.7zM129 142.2l-3 1.5 1.7-5.4 3-1.5z"/>
<path fill="#ffef00" d="M132 140.8l-3 1.4 1.7-5.4 3.1-1.3z"/>
<path fill="#ffde00" d="M135.1 139.7l-3.1 1.1 1.8-5.3 3-1z"/>
<path fill="#ffce00" d="M138.2 138.8l-3.1 .9 1.7-5.2 3.1-.8zM141.3 138.2l-3.1 .6 1.7-5.1 3.1-.4z"/>
<path fill="#ffbe00" d="M144.4 137.9l-3.1 .3 1.7-4.9 3.1-.1zM147.5 137.9l-3.1 0 1.7-4.7 3.1 .2zM150.6 138.3l-3.1-.4 1.7-4.5 3.1 .5zM153.8 139l-3.2-.7 1.7-4.4 3.2 1zM157 140.1l-3.2-1.1 1.7-4.1 3.2 1.3z"/>
<path fill="#ffce00" d="M160.1 141.6l-3.1-1.5 1.7-3.9 3.1 1.6zM163.3 143.4l-3.2-1.8 1.7-3.8 3.2 2z"/>
<path fill="#ffde00" d="M166.5 145.6l-3.2-2.2 1.7-3.6 3.2 2.4z"/>
<path fill="#ffef00" d="M169.7 148.1l-3.2-2.5 1.7-3.4 3.2 2.6z"/>
<path fill="#ffff00" d="M172.9 150.8l-3.2-2.7 1.7-3.3 3.1 2.8zM176.1 153.8l-3.2-3 1.6-3.2 3.2 3.1z"/>
<path fill="#f9fd00" d="M179.3 157l-3.2-3.2 1.6-3.1 3.2 3.3z"/>
<path fill="#e3f700" d="M182.5 160.2l-3.2-3.2 1.6-3 3.2 3.4z"/>
<path fill="#cdf000" d="M185.6 163.6l-3.1-3.4 1.6-2.8 3.1 3.4z"/>
<path fill="#b3ec00" d="M188.8 166.8l-3.2-3.2 1.6-2.8 3.2 3.3z"/>
<path fill="#98e700" d="M192 170l-3.2-3.2 1.6-2.7 3.2 3.3z"/>
<path fill="#7ee300" d="M195.2 172.8l-3.2-2.8 1.6-2.6 3.1 3z"/>
<path fill="#64df00" d="M198.4 175.4l-3.2-2.6 1.5-2.4 3.2 2.7z"/>
<path fill="#4bd800" d="M201.6 177.4l-3.2-2 1.5-2.3 3.2 2.3z"/>
<path fill="#32d000" d="M204.9 178.8l-3.3-1.4 1.5-2 3.3 1.7zM208.2 179.5l-3.3-.7 1.5-1.7 3.3 1zM211.6 179.1l-3.4 .4 1.5-1.4 3.3 .2z"/>
<path fill="#4bd800" d="M215 177.6l-3.4 1.5 1.4-.8 3.4-.8z"/>
<path fill="#00ae1d" d="M75.9 163.8l-2.8-1 1.8-3.7 2.8 1.3zM78.7 164.7l-2.8-.9 1.8-3.4 2.8 1zM81.5 165.3l-2.8-.6 1.8-3.3 2.8 .6zM84.3 165.7l-2.8-.4 1.8-3.3 2.8 .3zM87.1 165.8l-2.8-.1 1.8-3.4 2.8-.1zM89.9 165.6l-2.8 .2 1.8-3.6 2.8-.3z"/>
<path fill="#00be00" d="M92.7 165.1l-2.8 .5 1.8-3.7 2.8-.7zM95.5 164.5l-2.8 .6 1.8-3.9 2.8-.9z"/>
<path fill="#19c700" d="M98.4 163.5l-2.9 1 1.8-4.2 2.8-1.2z"/>
<path fill="#32d000" d="M101.2 162.4l-2.8 1.1 1.7-4.4 2.8-1.3z"/>
<path fill="#4bd800" d="M104 161l-2.8 1.4 1.7-4.6 2.8-1.6z"/>
<path fill="#64df00" d="M106.8 159.5l-2.8 1.5 1.7-4.8 2.9-1.7z"/>
<path fill="#7ee300" d="M109.7 157.9l-2.9 1.6 1.8-5 2.8-1.7z"/>
<path fill="#98e700" d="M112.6 156.2l-2.9 1.7 1.7-5.1 2.9-1.9z"/>
<path fill="#b3ec00" d="M115.5 154.4l-2.9 1.8 1.7-5.3 2.9-1.9z"/>
<path fill="#cdf000" d="M118.4 152.6l-2.9 1.8 1.7-5.4 2.9-1.8z"/>
<path fill="#e3f700" d="M121.3 150.9l-2.9 1.7 1.7-5.4 3-1.8z"/>
<path fill="#f9fd00" d="M124.3 149.2l-3 1.7 1.8-5.5 2.9-1.7z"/>
<path fill="#ffff00" d="M127.3 147.6l-3 1.6 1.7-5.5 3-1.5zM130.3 146.1l-3 1.5 1.7-5.4 3-1.4zM133.4 144.9l-3.1 1.2 1.7-5.3 3.1-1.1z"/>
<path fill="#ffef00" d="M136.4 143.8l-3 1.1 1.7-5.2 3.1-.9z"/>
<path fill="#ffde00" d="M139.5 143.1l-3.1 .7 1.8-5 3.1-.6zM142.6 142.6l-3.1 .5 1.8-4.9 3.1-.3zM145.8 142.5l-3.2 .1 1.8-4.7 3.1 0z"/>
<path fill="#ffce00" d="M148.9 142.6l-3.1-.1 1.7-4.6 3.1 .4zM152.1 143.2l-3.2-.6 1.7-4.3 3.2 .7zM155.3 144.1l-3.2-.9 1.7-4.2 3.2 1.1z"/>
<path fill="#ffde00" d="M158.5 145.4l-3.2-1.3 1.7-4 3.1 1.5zM161.6 147l-3.1-1.6 1.6-3.8 3.2 1.8z"/>
<path fill="#ffef00" d="M164.8 149l-3.2-2 1.7-3.6 3.2 2.2zM168 151.4l-3.2-2.4 1.7-3.4 3.2 2.5z"/>
<path fill="#ffff00" d="M171.2 154l-3.2-2.6 1.7-3.3 3.2 2.7zM174.4 156.8l-3.2-2.8 1.7-3.2 3.2 3z"/>
<path fill="#f9fd00" d="M177.6 159.9l-3.2-3.1 1.7-3 3.2 3.2z"/>
<path fill="#e3f700" d="M180.8 163.1l-3.2-3.2 1.7-2.9 3.2 3.2z"/>
<path fill="#b3ec00" d="M184 166.3l-3.2-3.2 1.7-2.9 3.1 3.4z"/>
<path fill="#98e700" d="M187.2 169.4l-3.2-3.1 1.6-2.7 3.2 3.2z"/>
<path fill="#7ee300" d="M190.4 172.5l-3.2-3.1 1.6-2.6 3.2 3.2z"/>
<path fill="#64df00" d="M193.7 175.2l-3.3-2.7 1.6-2.5 3.2 2.8z"/>
<path fill="#4bd800" d="M196.9 177.6l-3.2-2.4 1.5-2.4 3.2 2.6z"/>
<path fill="#32d000" d="M200.1 179.5l-3.2-1.9 1.5-2.2 3.2 2zM203.4 180.6l-3.3-1.1 1.5-2.1 3.3 1.4zM206.8 180.9l-3.4-.3 1.5-1.8 3.3 .7zM210.2 180.2l-3.4 .7 1.4-1.4 3.4-.4z"/>
<path fill="#4bd800" d="M213.6 178.1l-3.4 2.1 1.4-1.1 3.4-1.5z"/>
<path fill="#009e3b" d="M74.1 167.4l-2.8-.8 1.8-3.8 2.8 1zM76.9 168.1l-2.8-.7 1.8-3.6 2.8 .9zM79.7 168.7l-2.8-.6 1.8-3.4 2.8 .6zM82.5 169.1l-2.8-.4 1.8-3.4 2.8 .4zM85.3 169.3l-2.8-.2 1.8-3.4 2.8 .1zM88.2 169.3l-2.9 0 1.8-3.5 2.8-.2zM91 169.1l-2.8 .2 1.7-3.7 2.8-.5z"/>
<path fill="#00ae1d" d="M93.8 168.6l-2.8 .5 1.7-4 2.8-.6z"/>
<path fill="#00be00" d="M96.6 167.8l-2.8 .8 1.7-4.1 2.9-1zM99.4 166.9l-2.8 .9 1.8-4.3 2.8-1.1z"/>
<path fill="#19c700" d="M102.3 165.8l-2.9 1.1 1.8-4.5 2.8-1.4z"/>
<path fill="#32d000" d="M105.1 164.4l-2.8 1.4 1.7-4.8 2.8-1.5z"/>
<path fill="#4bd800" d="M108 163l-2.9 1.4 1.7-4.9 2.9-1.6z"/>
<path fill="#64df00" d="M110.9 161.4l-2.9 1.6 1.7-5.1 2.9-1.7z"/>
<path fill="#7ee300" d="M113.8 159.7l-2.9 1.7 1.7-5.2 2.9-1.8z"/>
<path fill="#98e700" d="M116.7 158l-2.9 1.7 1.7-5.3 2.9-1.8z"/>
<path fill="#b3ec00" d="M119.6 156.2l-2.9 1.8 1.7-5.4 2.9-1.7z"/>
<path fill="#cdf000" d="M122.6 154.5l-3 1.7 1.7-5.3 3-1.7z"/>
<path fill="#e3f700" d="M125.6 152.9l-3 1.6 1.7-5.3 3-1.6z"/>
<path fill="#f9fd00" d="M128.6 151.4l-3 1.5 1.7-5.3 3-1.5z"/>
<path fill="#ffff00" d="M131.6 150l-3 1.4 1.7-5.3 3.1-1.2zM134.7 148.9l-3.1 1.1 1.8-5.1 3-1.1zM137.8 148l-3.1 .9 1.7-5.1 3.1-.7z"/>
<path fill="#ffef00" d="M140.9 147.3l-3.1 .7 1.7-4.9 3.1-.5zM144 147l-3.1 .3 1.7-4.7 3.2-.1zM147.2 147l-3.2 0 1.8-4.5 3.1 .1zM150.4 147.3l-3.2-.3 1.7-4.4 3.2 .6zM153.5 148l-3.1-.7 1.7-4.1 3.2 .9zM156.7 149.1l-3.2-1.1 1.8-3.9 3.2 1.3zM159.9 150.6l-3.2-1.5 1.8-3.7 3.1 1.6z"/>
<path fill="#ffff00" d="M163.2 152.4l-3.3-1.8 1.7-3.6 3.2 2zM166.4 154.6l-3.2-2.2 1.6-3.4 3.2 2.4zM169.6 157l-3.2-2.4 1.6-3.2 3.2 2.6z"/>
<path fill="#f9fd00" d="M172.8 159.8l-3.2-2.8 1.6-3 3.2 2.8z"/>
<path fill="#e3f700" d="M176 162.7l-3.2-2.9 1.6-3 3.2 3.1z"/>
<path fill="#cdf000" d="M179.2 165.7l-3.2-3 1.6-2.8 3.2 3.2z"/>
<path fill="#b3ec00" d="M182.4 168.8l-3.2-3.1 1.6-2.6 3.2 3.2z"/>
<path fill="#98e700" d="M185.7 171.9l-3.3-3.1 1.6-2.5 3.2 3.1z"/>
<path fill="#7ee300" d="M188.9 174.8l-3.2-2.9 1.5-2.5 3.2 3.1z"/>
<path fill="#64df00" d="M192.1 177.5l-3.2-2.7 1.5-2.3 3.3 2.7z"/>
<path fill="#4bd800" d="M195.4 179.8l-3.3-2.3 1.6-2.3 3.2 2.4z"/>
<path fill="#32d000" d="M198.6 181.5l-3.2-1.7 1.5-2.2 3.2 1.9zM201.9 182.4l-3.3-.9 1.5-2 3.3 1.1zM205.3 182.5l-3.4-.1 1.5-1.8 3.4 .3zM208.7 181.4l-3.4 1.1 1.5-1.6 3.4-.7z"/>
<path fill="#4bd800" d="M212.2 178.9l-3.5 2.5 1.5-1.2 3.4-2.1z"/>
<path fill="#008e58" d="M72.3 171.1l-2.8-.6 1.8-3.9 2.8 .8zM75.1 171.7l-2.8-.6 1.8-3.7 2.8 .7zM77.9 172.2l-2.8-.5 1.8-3.6 2.8 .6zM80.7 172.6l-2.8-.4 1.8-3.5 2.8 .4zM83.5 172.9l-2.8-.3 1.8-3.5 2.8 .2zM86.4 173l-2.9-.1 1.8-3.6 2.9 0zM89.2 172.9l-2.8 .1 1.8-3.7 2.8-.2z"/>
<path fill="#009e3b" d="M92 172.5l-2.8 .4 1.8-3.8 2.8-.5zM94.8 172l-2.8 .5 1.8-3.9 2.8-.8z"/>
<path fill="#00ae1d" d="M97.7 171.2l-2.9 .8 1.8-4.2 2.8-.9z"/>
<path fill="#00be00" d="M100.5 170.3l-2.8 .9 1.7-4.3 2.9-1.1zM103.4 169.1l-2.9 1.2 1.8-4.5 2.8-1.4z"/>
<path fill="#19c700" d="M106.2 167.8l-2.8 1.3 1.7-4.7 2.9-1.4z"/>
<path fill="#32d000" d="M109.1 166.3l-2.9 1.5 1.8-4.8 2.9-1.6z"/>
<path fill="#4bd800" d="M112 164.7l-2.9 1.6 1.8-4.9 2.9-1.7z"/>
<path fill="#64df00" d="M115 163l-3 1.7 1.8-5 2.9-1.7z"/>
<path fill="#7ee300" d="M117.9 161.3l-2.9 1.7 1.7-5 2.9-1.8z"/>
<path fill="#98e700" d="M120.9 159.6l-3 1.7 1.7-5.1 3-1.7z"/>
<path fill="#b3ec00" d="M123.9 158l-3 1.6 1.7-5.1 3-1.6z"/>
<path fill="#cdf000" d="M126.9 156.4l-3 1.6 1.7-5.1 3-1.5z"/>
<path fill="#e3f700" d="M129.9 155l-3 1.4 1.7-5 3-1.4z"/>
<path fill="#f9fd00" d="M133 153.7l-3.1 1.3 1.7-5 3.1-1.1z"/>
<path fill="#ffff00" d="M136.1 152.7l-3.1 1 1.7-4.8 3.1-.9zM139.2 151.9l-3.1 .8 1.7-4.7 3.1-.7zM142.3 151.4l-3.1 .5 1.7-4.6 3.1-.3zM145.5 151.2l-3.2 .2 1.7-4.4 3.2 0zM148.6 151.4l-3.1-.2 1.7-4.2 3.2 .3zM151.8 151.9l-3.2-.5 1.8-4.1 3.1 .7zM155 152.8l-3.2-.9 1.7-3.9 3.2 1.1zM158.2 154.1l-3.2-1.3 1.7-3.7 3.2 1.5zM161.5 155.7l-3.3-1.6 1.7-3.5 3.3 1.8zM164.7 157.7l-3.2-2 1.7-3.3 3.2 2.2z"/>
<path fill="#f9fd00" d="M167.9 159.9l-3.2-2.2 1.7-3.1 3.2 2.4z"/>
<path fill="#e3f700" d="M171.1 162.5l-3.2-2.6 1.7-2.9 3.2 2.8z"/>
<path fill="#cdf000" d="M174.4 165.3l-3.3-2.8 1.7-2.7 3.2 2.9z"/>
<path fill="#b3ec00" d="M177.6 168.2l-3.2-2.9 1.6-2.6 3.2 3z"/>
<path fill="#98e700" d="M180.8 171.2l-3.2-3 1.6-2.5 3.2 3.1z"/>
<path fill="#7ee300" d="M184.1 174.2l-3.3-3 1.6-2.4 3.3 3.1z"/>
<path fill="#64df00" d="M187.3 177l-3.2-2.8 1.6-2.3 3.2 2.9z"/>
<path fill="#4bd800" d="M190.5 179.6l-3.2-2.6 1.6-2.2 3.2 2.7zM193.8 181.7l-3.3-2.1 1.6-2.1 3.3 2.3z"/>
<path fill="#32d000" d="M197.1 183.3l-3.3-1.6 1.6-1.9 3.2 1.7zM200.4 184.2l-3.3-.9 1.5-1.8 3.3 .9zM203.8 184.1l-3.4 .1 1.5-1.8 3.4 .1zM207.2 182.8l-3.4 1.3 1.5-1.6 3.4-1.1z"/>
<path fill="#4bd800" d="M210.8 180.1l-3.6 2.7 1.5-1.4 3.5-2.5z"/>
<path fill="#007c71" d="M70.5 175l-2.8-.3 1.8-4.2 2.8 .6zM73.3 175.4l-2.8-.4 1.8-3.9 2.8 .6zM76.1 175.7l-2.8-.3 1.8-3.7 2.8 .5zM78.9 176.1l-2.8-.4 1.8-3.5 2.8 .4zM81.7 176.4l-2.8-.3 1.8-3.5 2.8 .3zM84.5 176.5l-2.8-.1 1.8-3.5 2.9 .1zM87.4 176.5l-2.9 0 1.9-3.5 2.8-.1z"/>
<path fill="#008e58" d="M90.2 176.2l-2.8 .3 1.8-3.6 2.8-.4zM93 175.8l-2.8 .4 1.8-3.7 2.8-.5z"/>
<path fill="#009e3b" d="M95.9 175.2l-2.9 .6 1.8-3.8 2.9-.8zM98.7 174.3l-2.8 .9 1.8-4 2.8-.9z"/>
<path fill="#00ae1d" d="M101.6 173.3l-2.9 1 1.8-4 2.9-1.2z"/>
<path fill="#00be00" d="M104.5 172.1l-2.9 1.2 1.8-4.2 2.8-1.3z"/>
<path fill="#19c700" d="M107.4 170.7l-2.9 1.4 1.7-4.3 2.9-1.5z"/>
<path fill="#32d000" d="M110.3 169.2l-2.9 1.5 1.7-4.4 2.9-1.6z"/>
<path fill="#4bd800" d="M113.2 167.6l-2.9 1.6 1.7-4.5 3-1.7z"/>
<path fill="#64df00" d="M116.1 166l-2.9 1.6 1.8-4.6 2.9-1.7z"/>
<path fill="#7ee300" d="M119.1 164.3l-3 1.7 1.8-4.7 3-1.7z"/>
<path fill="#98e700" d="M122.1 162.7l-3 1.6 1.8-4.7 3-1.6z"/>
<path fill="#b3ec00" d="M125.1 161.1l-3 1.6 1.8-4.7 3-1.6zM128.2 159.6l-3.1 1.5 1.8-4.7 3-1.4z"/>
<path fill="#cdf000" d="M131.2 158.3l-3 1.3 1.7-4.6 3.1-1.3z"/>
<path fill="#e3f700" d="M134.3 157.1l-3.1 1.2 1.8-4.6 3.1-1z"/>
<path fill="#f9fd00" d="M137.4 156.2l-3.1 .9 1.8-4.4 3.1-.8zM140.6 155.6l-3.2 .6 1.8-4.3 3.1-.5z"/>
<path fill="#ffff00" d="M143.7 155.2l-3.1 .4 1.7-4.2 3.2-.2zM146.9 155.2l-3.2 0 1.8-4 3.1 .2zM150.1 155.6l-3.2-.4 1.7-3.8 3.2 .5zM153.3 156.3l-3.2-.7 1.7-3.7 3.2 .9zM156.5 157.4l-3.2-1.1 1.7-3.5 3.2 1.3zM159.7 158.8l-3.2-1.4 1.7-3.3 3.3 1.6z"/>
<path fill="#f9fd00" d="M163 160.6l-3.3-1.8 1.8-3.1 3.2 2zM166.2 162.7l-3.2-2.1 1.7-2.9 3.2 2.2z"/>
<path fill="#e3f700" d="M169.5 165.1l-3.3-2.4 1.7-2.8 3.2 2.6z"/>
<path fill="#cdf000" d="M172.7 167.7l-3.2-2.6 1.6-2.6 3.3 2.8z"/>
<path fill="#b3ec00" d="M176 170.4l-3.3-2.7 1.7-2.4 3.2 2.9z"/>
<path fill="#98e700" d="M179.2 173.3l-3.2-2.9 1.6-2.2 3.2 3z"/>
<path fill="#7ee300" d="M182.5 176.1l-3.3-2.8 1.6-2.1 3.3 3z"/>
<path fill="#64df00" d="M185.7 178.8l-3.2-2.7 1.6-1.9 3.2 2.8z"/>
<path fill="#4bd800" d="M189 181.3l-3.3-2.5 1.6-1.8 3.2 2.6z"/>
<path fill="#32d000" d="M192.3 183.4l-3.3-2.1 1.5-1.7 3.3 2.1zM195.6 185l-3.3-1.6 1.5-1.7 3.3 1.6zM198.9 185.8l-3.3-.8 1.5-1.7 3.3 .9zM202.3 185.7l-3.4 .1 1.5-1.6 3.4-.1zM205.8 184.4l-3.5 1.3 1.5-1.6 3.4-1.3z"/>
<path fill="#4bd800" d="M209.3 181.7l-3.5 2.7 1.4-1.6 3.6-2.7z"/>
<path fill="#00579f" d="M68.7 179l-2.8 .1 1.8-4.4 2.8 .3zM71.4 179.2l-2.7-.2 1.8-4 2.8 .4z"/>
<path fill="#006a88" d="M74.2 179.3l-2.8-.1 1.9-3.8 2.8 .3zM77 179.6l-2.8-.3 1.9-3.6 2.8 .4zM79.9 179.7l-2.9-.1 1.9-3.5 2.8 .3zM82.7 179.8l-2.8-.1 1.8-3.3 2.8 .1zM85.5 179.8l-2.8 0 1.8-3.3 2.9 0z"/>
<path fill="#007c71" d="M88.4 179.6l-2.9 .2 1.9-3.3 2.8-.3zM91.2 179.2l-2.8 .4 1.8-3.4 2.8-.4z"/>
<path fill="#008e58" d="M94.1 178.6l-2.9 .6 1.8-3.4 2.9-.6zM96.9 177.9l-2.8 .7 1.8-3.4 2.8-.9z"/>
<path fill="#009e3b" d="M99.8 176.9l-2.9 1 1.8-3.6 2.9-1z"/>
<path fill="#00ae1d" d="M102.7 175.8l-2.9 1.1 1.8-3.6 2.9-1.2zM105.6 174.5l-2.9 1.3 1.8-3.7 2.9-1.4z"/>
<path fill="#00be00" d="M108.5 173.1l-2.9 1.4 1.8-3.8 2.9-1.5z"/>
<path fill="#19c700" d="M111.4 171.6l-2.9 1.5 1.8-3.9 2.9-1.6z"/>
<path fill="#32d000" d="M114.4 170l-3 1.6 1.8-4 2.9-1.6z"/>
<path fill="#4bd800" d="M117.3 168.4l-2.9 1.6 1.7-4 3-1.7z"/>
<path fill="#64df00" d="M120.3 166.7l-3 1.7 1.8-4.1 3-1.6z"/>
<path fill="#7ee300" d="M123.3 165.2l-3 1.5 1.8-4 3-1.6z"/>
<path fill="#98e700" d="M126.4 163.7l-3.1 1.5 1.8-4.1 3.1-1.5z"/>
<path fill="#b3ec00" d="M129.4 162.3l-3 1.4 1.8-4.1 3-1.3z"/>
<path fill="#cdf000" d="M132.5 161.1l-3.1 1.2 1.8-4 3.1-1.2z"/>
<path fill="#e3f700" d="M135.6 160.2l-3.1 .9 1.8-4 3.1-.9zM138.8 159.4l-3.2 .8 1.8-4 3.2-.6z"/>
<path fill="#f9fd00" d="M142 159l-3.2 .4 1.8-3.8 3.1-.4zM145.1 158.9l-3.1 .1 1.7-3.8 3.2 0zM148.3 159.1l-3.2-.2 1.8-3.7 3.2 .4zM151.5 159.6l-3.2-.5 1.8-3.5 3.2 .7zM154.8 160.5l-3.3-.9 1.8-3.3 3.2 1.1zM158 161.7l-3.2-1.2 1.7-3.1 3.2 1.4zM161.3 163.3l-3.3-1.6 1.7-2.9 3.3 1.8z"/>
<path fill="#e3f700" d="M164.5 165.2l-3.2-1.9 1.7-2.7 3.2 2.1z"/>
<path fill="#cdf000" d="M167.8 167.4l-3.3-2.2 1.7-2.5 3.3 2.4zM171 169.8l-3.2-2.4 1.7-2.3 3.2 2.6z"/>
<path fill="#b3ec00" d="M174.3 172.3l-3.3-2.5 1.7-2.1 3.3 2.7z"/>
<path fill="#98e700" d="M177.6 175l-3.3-2.7 1.7-1.9 3.2 2.9z"/>
<path fill="#7ee300" d="M180.8 177.7l-3.2-2.7 1.6-1.7 3.3 2.8z"/>
<path fill="#64df00" d="M184.1 180.3l-3.3-2.6 1.7-1.6 3.2 2.7z"/>
<path fill="#4bd800" d="M187.4 182.7l-3.3-2.4 1.6-1.5 3.3 2.5z"/>
<path fill="#32d000" d="M190.7 184.7l-3.3-2 1.6-1.4 3.3 2.1zM194 186.3l-3.3-1.6 1.6-1.3 3.3 1.6zM197.4 187.1l-3.4-.8 1.6-1.3 3.3 .8zM200.8 187.1l-3.4 0 1.5-1.3 3.4-.1zM204.2 186.1l-3.4 1 1.5-1.4 3.5-1.3z"/>
<path fill="#4bd800" d="M207.8 183.6l-3.6 2.5 1.6-1.7 3.5-2.7z"/>
<path fill="#0045b6" d="M66.9 183.3l-2.8 .4 1.8-4.6 2.8-.1zM69.6 183.1l-2.7 .2 1.8-4.3 2.7 .2z"/>
<path fill="#00579f" d="M72.4 183l-2.8 .1 1.8-3.9 2.8 .1zM75.2 183l-2.8 0 1.8-3.7 2.8 .3zM78 182.9l-2.8 .1 1.8-3.4 2.9 .1zM80.8 182.9l-2.8 0 1.9-3.2 2.8 .1z"/>
<path fill="#006a88" d="M83.7 182.7l-2.9 .2 1.9-3.1 2.8 0zM86.5 182.4l-2.8 .3 1.8-2.9 2.9-.2zM89.3 181.9l-2.8 .5 1.9-2.8 2.8-.4z"/>
<path fill="#007c71" d="M92.2 181.3l-2.9 .6 1.9-2.7 2.9-.6zM95.1 180.6l-2.9 .7 1.9-2.7 2.8-.7z"/>
<path fill="#008e58" d="M97.9 179.6l-2.8 1 1.8-2.7 2.9-1z"/>
<path fill="#009e3b" d="M100.8 178.6l-2.9 1 1.9-2.7 2.9-1.1z"/>
<path fill="#00ae1d" d="M103.7 177.3l-2.9 1.3 1.9-2.8 2.9-1.3zM106.6 176l-2.9 1.3 1.9-2.8 2.9-1.4z"/>
<path fill="#00be00" d="M109.6 174.6l-3 1.4 1.9-2.9 2.9-1.5z"/>
<path fill="#19c700" d="M112.5 173.1l-2.9 1.5 1.8-3 3-1.6z"/>
<path fill="#32d000" d="M115.5 171.5l-3 1.6 1.9-3.1 2.9-1.6z"/>
<path fill="#4bd800" d="M118.5 170l-3 1.5 1.8-3.1 3-1.7z"/>
<path fill="#64df00" d="M121.5 168.5l-3 1.5 1.8-3.3 3-1.5z"/>
<path fill="#7ee300" d="M124.6 167.1l-3.1 1.4 1.8-3.3 3.1-1.5z"/>
<path fill="#98e700" d="M127.6 165.8l-3 1.3 1.8-3.4 3-1.4z"/>
<path fill="#b3ec00" d="M130.7 164.6l-3.1 1.2 1.8-3.5 3.1-1.2z"/>
<path fill="#cdf000" d="M133.9 163.6l-3.2 1 1.8-3.5 3.1-.9zM137 162.9l-3.1 .7 1.7-3.4 3.2-.8z"/>
<path fill="#e3f700" d="M140.2 162.4l-3.2 .5 1.8-3.5 3.2-.4zM143.4 162.2l-3.2 .2 1.8-3.4 3.1-.1zM146.6 162.2l-3.2 0 1.7-3.3 3.2 .2zM149.8 162.6l-3.2-.4 1.7-3.1 3.2 .5zM153 163.4l-3.2-.8 1.7-3 3.3 .9zM156.3 164.4l-3.3-1 1.8-2.9 3.2 1.2zM159.5 165.8l-3.2-1.4 1.7-2.7 3.3 1.6zM162.8 167.4l-3.3-1.6 1.8-2.5 3.2 1.9z"/>
<path fill="#cdf000" d="M166.1 169.4l-3.3-2 1.7-2.2 3.3 2.2z"/>
<path fill="#b3ec00" d="M169.4 171.5l-3.3-2.1 1.7-2 3.2 2.4zM172.7 173.9l-3.3-2.4 1.6-1.7 3.3 2.5z"/>
<path fill="#98e700" d="M175.9 176.4l-3.2-2.5 1.6-1.6 3.3 2.7z"/>
<path fill="#7ee300" d="M179.2 178.9l-3.3-2.5 1.7-1.4 3.2 2.7z"/>
<path fill="#64df00" d="M182.5 181.3l-3.3-2.4 1.6-1.2 3.3 2.6z"/>
<path fill="#4bd800" d="M185.8 183.6l-3.3-2.3 1.6-1 3.3 2.4zM189.1 185.6l-3.3-2 1.6-.9 3.3 2z"/>
<path fill="#32d000" d="M192.5 187.2l-3.4-1.6 1.6-.9 3.3 1.6zM195.8 188.2l-3.3-1 1.5-.9 3.4 .8zM199.3 188.5l-3.5-.3 1.6-1.1 3.4 0zM202.7 187.8l-3.4 .7 1.5-1.4 3.4-1z"/>
<path fill="#4bd800" d="M206.2 186l-3.5 1.8 1.5-1.7 3.6-2.5z"/>
<path fill="#001ce3" d="M65 187.8l-2.6 .8 1.7-4.9 2.8-.4z"/>
<path fill="#0032cd" d="M67.8 187.1l-2.8 .7 1.9-4.5 2.7-.2zM70.5 186.7l-2.7 .4 1.8-4 2.8-.1z"/>
<path fill="#0045b6" d="M73.3 186.3l-2.8 .4 1.9-3.7 2.8 0zM76.1 185.9l-2.8 .4 1.9-3.3 2.8-.1z"/>
<path fill="#00579f" d="M78.9 185.5l-2.8 .4 1.9-3 2.8 0zM81.7 185l-2.8 .5 1.9-2.6 2.9-.2zM84.6 184.5l-2.9 .5 2-2.3 2.8-.3z"/>
<path fill="#006a88" d="M87.4 183.9l-2.8 .6 1.9-2.1 2.8-.5zM90.3 183.1l-2.9 .8 1.9-2 2.9-.6z"/>
<path fill="#007c71" d="M93.1 182.3l-2.8 .8 1.9-1.8 2.9-.7z"/>
<path fill="#008e58" d="M96 181.3l-2.9 1 2-1.7 2.8-1zM98.9 180.2l-2.9 1.1 1.9-1.7 2.9-1z"/>
<path fill="#009e3b" d="M101.8 179l-2.9 1.2 1.9-1.6 2.9-1.3z"/>
<path fill="#00ae1d" d="M104.7 177.7l-2.9 1.3 1.9-1.7 2.9-1.3z"/>
<path fill="#00be00" d="M107.7 176.4l-3 1.3 1.9-1.7 3-1.4z"/>
<path fill="#19c700" d="M110.7 175l-3 1.4 1.9-1.8 2.9-1.5z"/>
<path fill="#32d000" d="M113.6 173.6l-2.9 1.4 1.8-1.9 3-1.6z"/>
<path fill="#4bd800" d="M116.6 172.2l-3 1.4 1.9-2.1 3-1.5z"/>
<path fill="#64df00" d="M119.7 170.9l-3.1 1.3 1.9-2.2 3-1.5z"/>
<path fill="#7ee300" d="M122.7 169.6l-3 1.3 1.8-2.4 3.1-1.4zM125.8 168.4l-3.1 1.2 1.9-2.5 3-1.3z"/>
<path fill="#98e700" d="M128.9 167.3l-3.1 1.1 1.8-2.6 3.1-1.2z"/>
<path fill="#b3ec00" d="M132.1 166.5l-3.2 .8 1.8-2.7 3.2-1zM135.2 165.8l-3.1 .7 1.8-2.9 3.1-.7z"/>
<path fill="#cdf000" d="M138.4 165.3l-3.2 .5 1.8-2.9 3.2-.5zM141.6 165.1l-3.2 .2 1.8-2.9 3.2-.2z"/>
<path fill="#e3f700" d="M144.8 165.1l-3.2 0 1.8-2.9 3.2 0zM148 165.4l-3.2-.3 1.8-2.9 3.2 .4zM151.3 166l-3.3-.6 1.8-2.8 3.2 .8zM154.5 166.8l-3.2-.8 1.7-2.6 3.3 1zM157.8 168l-3.3-1.2 1.8-2.4 3.2 1.4z"/>
<path fill="#cdf000" d="M161.1 169.4l-3.3-1.4 1.7-2.2 3.3 1.6zM164.4 171.1l-3.3-1.7 1.7-2 3.3 2z"/>
<path fill="#b3ec00" d="M167.7 172.9l-3.3-1.8 1.7-1.7 3.3 2.1zM171 175l-3.3-2.1 1.7-1.4 3.3 2.4z"/>
<path fill="#98e700" d="M174.3 177.2l-3.3-2.2 1.7-1.1 3.2 2.5z"/>
<path fill="#7ee300" d="M177.6 179.5l-3.3-2.3 1.6-.8 3.3 2.5z"/>
<path fill="#64df00" d="M180.9 181.7l-3.3-2.2 1.6-.6 3.3 2.4zM184.2 183.9l-3.3-2.2 1.6-.4 3.3 2.3z"/>
<path fill="#4bd800" d="M187.6 185.9l-3.4-2 1.6-.3 3.3 2zM190.9 187.6l-3.3-1.7 1.5-.3 3.4 1.6z"/>
<path fill="#32d000" d="M194.3 188.8l-3.4-1.2 1.6-.4 3.3 1zM197.7 189.6l-3.4-.8 1.5-.6 3.5 .3zM201.2 189.6l-3.5 0 1.6-1.1 3.4-.7z"/>
<path fill="#4bd800" d="M204.7 188.7l-3.5 .9 1.5-1.8 3.5-1.8z"/>
<path fill="#0006f9" d="M63.2 192.5l-2.6 1.2 1.8-5.1 2.6-.8z"/>
<path fill="#001ce3" d="M65.9 191.3l-2.7 1.2 1.8-4.7 2.8-.7zM68.7 190.3l-2.8 1 1.9-4.2 2.7-.4z"/>
<path fill="#0032cd" d="M71.4 189.4l-2.7 .9 1.8-3.6 2.8-.4zM74.2 188.5l-2.8 .9 1.9-3.1 2.8-.4z"/>
<path fill="#0045b6" d="M77 187.6l-2.8 .9 1.9-2.6 2.8-.4z"/>
<path fill="#00579f" d="M79.8 186.7l-2.8 .9 1.9-2.1 2.8-.5zM82.6 185.7l-2.8 1 1.9-1.7 2.9-.5z"/>
<path fill="#006a88" d="M85.4 184.7l-2.8 1 2-1.2 2.8-.6z"/>
<path fill="#007c71" d="M88.3 183.7l-2.9 1 2-.8 2.9-.8zM91.1 182.7l-2.8 1 2-.6 2.8-.8z"/>
<path fill="#008e58" d="M94 181.5l-2.9 1.2 2-.4 2.9-1z"/>
<path fill="#009e3b" d="M96.9 180.4l-2.9 1.1 2-.2 2.9-1.1z"/>
<path fill="#00ae1d" d="M99.8 179.2l-2.9 1.2 2-.2 2.9-1.2zM102.8 178l-3 1.2 2-.2 2.9-1.3z"/>
<path fill="#00be00" d="M105.7 176.7l-2.9 1.3 1.9-.3 3-1.3z"/>
<path fill="#19c700" d="M108.7 175.5l-3 1.2 2-.3 3-1.4z"/>
<path fill="#32d000" d="M111.7 174.3l-3 1.2 2-.5 2.9-1.4z"/>
<path fill="#4bd800" d="M114.7 173.1l-3 1.2 1.9-.7 3-1.4z"/>
<path fill="#64df00" d="M117.8 172l-3.1 1.1 1.9-.9 3.1-1.3zM120.9 170.9l-3.1 1.1 1.9-1.1 3-1.3z"/>
<path fill="#7ee300" d="M124 170l-3.1 .9 1.8-1.3 3.1-1.2z"/>
<path fill="#98e700" d="M127.1 169.2l-3.1 .8 1.8-1.6 3.1-1.1zM130.2 168.5l-3.1 .7 1.8-1.9 3.2-.8z"/>
<path fill="#b3ec00" d="M133.4 168l-3.2 .5 1.9-2 3.1-.7zM136.6 167.6l-3.2 .4 1.8-2.2 3.2-.5z"/>
<path fill="#cdf000" d="M139.8 167.5l-3.2 .1 1.8-2.3 3.2-.2zM143 167.5l-3.2 0 1.8-2.4 3.2 0zM146.2 167.8l-3.2-.3 1.8-2.4 3.2 .3zM149.5 168.3l-3.3-.5 1.8-2.4 3.3 .6zM152.8 169l-3.3-.7 1.8-2.3 3.2 .8zM156.1 169.9l-3.3-.9 1.7-2.2 3.3 1.2zM159.4 171l-3.3-1.1 1.7-1.9 3.3 1.4zM162.7 172.4l-3.3-1.4 1.7-1.6 3.3 1.7z"/>
<path fill="#b3ec00" d="M166 173.9l-3.3-1.5 1.7-1.3 3.3 1.8zM169.3 175.6l-3.3-1.7 1.7-1 3.3 2.1z"/>
<path fill="#98e700" d="M172.6 177.5l-3.3-1.9 1.7-.6 3.3 2.2zM176 179.4l-3.4-1.9 1.7-.3 3.3 2.3z"/>
<path fill="#7ee300" d="M179.3 181.4l-3.3-2 1.6 .1 3.3 2.2z"/>
<path fill="#64df00" d="M182.7 183.4l-3.4-2 1.6 .3 3.3 2.2zM186 185.4l-3.3-2 1.5 .5 3.4 2z"/>
<path fill="#4bd800" d="M189.4 187.3l-3.4-1.9 1.6 .5 3.3 1.7zM192.8 188.9l-3.4-1.6 1.5 .3 3.4 1.2zM196.2 190.3l-3.4-1.4 1.5-.1 3.4 .8zM199.6 191.3l-3.4-1 1.5-.7 3.5 0zM203.1 191.8l-3.5-.5 1.6-1.7 3.5-.9z"/>
<path fill="#0000ff" d="M61.5 197.4l-2.7 1.7 1.8-5.4 2.6-1.2zM64.1 195.7l-2.6 1.7 1.7-4.9 2.7-1.2z"/>
<path fill="#0006f9" d="M66.8 194l-2.7 1.7 1.8-4.4 2.8-1z"/>
<path fill="#001ce3" d="M69.5 192.3l-2.7 1.7 1.9-3.7 2.7-.9z"/>
<path fill="#0032cd" d="M72.2 190.6l-2.7 1.7 1.9-2.9 2.8-.9z"/>
<path fill="#0045b6" d="M74.9 189l-2.7 1.6 2-2.1 2.8-.9z"/>
<path fill="#00579f" d="M77.7 187.4l-2.8 1.6 2.1-1.4 2.8-.9zM80.5 185.9l-2.8 1.5 2.1-.7 2.8-1z"/>
<path fill="#006a88" d="M83.3 184.3l-2.8 1.6 2.1-.2 2.8-1z"/>
<path fill="#007c71" d="M86.1 182.9l-2.8 1.4 2.1 .4 2.9-1z"/>
<path fill="#008e58" d="M89 181.4l-2.9 1.5 2.2 .8 2.8-1z"/>
<path fill="#009e3b" d="M91.9 180.1l-2.9 1.3 2.1 1.3 2.9-1.2z"/>
<path fill="#00ae1d" d="M94.8 178.7l-2.9 1.4 2.1 1.4 2.9-1.1z"/>
<path fill="#00be00" d="M97.7 177.5l-2.9 1.2 2.1 1.7 2.9-1.2zM100.7 176.3l-3 1.2 2.1 1.7 3-1.2z"/>
<path fill="#19c700" d="M103.7 175.2l-3 1.1 2.1 1.7 2.9-1.3z"/>
<path fill="#32d000" d="M106.7 174.2l-3 1 2 1.5 3-1.2z"/>
<path fill="#4bd800" d="M109.7 173.2l-3 1 2 1.3 3-1.2zM112.7 172.3l-3 .9 2 1.1 3-1.2z"/>
<path fill="#64df00" d="M115.8 171.6l-3.1 .7 2 .8 3.1-1.1z"/>
<path fill="#7ee300" d="M118.9 170.9l-3.1 .7 2 .4 3.1-1.1zM122 170.4l-3.1 .5 2 0 3.1-.9z"/>
<path fill="#98e700" d="M125.2 169.9l-3.2 .5 2-.4 3.1-.8zM128.3 169.6l-3.1 .3 1.9-.7 3.1-.7z"/>
<path fill="#b3ec00" d="M131.5 169.4l-3.2 .2 1.9-1.1 3.2-.5zM134.7 169.3l-3.2 .1 1.9-1.4 3.2-.4z"/>
<path fill="#cdf000" d="M137.9 169.3l-3.2 0 1.9-1.7 3.2-.1zM141.2 169.5l-3.3-.2 1.9-1.8 3.2 0zM144.4 169.8l-3.2-.3 1.8-2 3.2 .3zM147.7 170.2l-3.3-.4 1.8-2 3.3 .5zM151 170.8l-3.3-.6 1.8-1.9 3.3 .7zM154.3 171.5l-3.3-.7 1.8-1.8 3.3 .9zM157.6 172.3l-3.3-.8 1.8-1.6 3.3 1.1zM160.9 173.3l-3.3-1 1.8-1.3 3.3 1.4zM164.3 174.5l-3.4-1.2 1.8-.9 3.3 1.5z"/>
<path fill="#b3ec00" d="M167.6 175.7l-3.3-1.2 1.7-.6 3.3 1.7zM171 177.2l-3.4-1.5 1.7-.1 3.3 1.9z"/>
<path fill="#98e700" d="M174.3 178.7l-3.3-1.5 1.6 .3 3.4 1.9zM177.7 180.4l-3.4-1.7 1.7 .7 3.3 2z"/>
<path fill="#7ee300" d="M181.1 182.2l-3.4-1.8 1.6 1 3.4 2zM184.5 184.1l-3.4-1.9 1.6 1.2 3.3 2z"/>
<path fill="#64df00" d="M187.8 186.1l-3.3-2 1.5 1.3 3.4 1.9zM191.2 188.3l-3.4-2.2 1.6 1.2 3.4 1.6z"/>
<path fill="#4bd800" d="M194.6 190.5l-3.4-2.2 1.6 .6 3.4 1.4zM198 192.9l-3.4-2.4 1.6-.2 3.4 1z"/>
<path fill="#32d000" d="M201.4 195.3l-3.4-2.4 1.6-1.6 3.5 .5z"/></g>
<g><path class="g" d="M543.9 248.7L599.1 187.4M526.7 244.8L584.1 184.7M509.8 240.9L569.4 182M493.3 237.2L554.9 179.4M477.2 233.6L540.7 176.8M461.4 230L526.8 174.2M445.9 226.5L513 171.7M430.7 223L499.6 169.3M571.7 240.6L432.2 210.3M581.2 229.3L444.8 200.7M590.2 218.7L456.7 191.7M598.8 208.6L468 183.2M606.8 199.1L478.7 175.1M432.2 210.3L424.3 91.5M444.8 200.7L438.2 84.7M456.7 191.7L451.3 78.3M468 183.2L463.6 72.3M478.7 175.1L475.3 66.6M417.6 204.2L488.6 153.1M416.3 187.7L488.3 138.6M415 170.8L487.9 123.8M413.7 153.4L487.5 108.6M412.3 135.7L487.2 93.1M410.9 117.4L486.8 77.3M599.1 187.4L605.4 74.6M584.1 184.7L589.1 72.8M569.4 182L573.1 71M554.9 179.4L557.5 69.2M540.7 176.8L542.1 67.5M526.8 174.2L527.1 65.8M513 171.7L512.3 64.1M499.6 169.3L497.8 62.5M615.4 175L488.6 153.1M616.4 159.5L488.3 138.6M617.5 143.6L487.9 123.8M618.6 127.4L487.5 108.6M619.7 110.8L487.2 93.1M620.8 93.8L486.8 77.3"/>
<path class="e" d="M418.8 220.3L561.5 252.7M561.5 252.7L614.4 190.2M418.8 220.3L488.9 167.4M488.9 167.4L614.4 190.2M418.8 220.3L409.5 98.7M488.9 167.4L486.4 61.2M614.4 190.2L622 76.5M409.5 98.7L486.4 61.2M486.4 61.2L622 76.5"/></g>
<g class="s"><path fill="#00be00" d="M488.8 118.8l-2.6 1.4 1.6 1.3 2.6-1z"/>
<path fill="#19c700" d="M491.4 117.5l-2.6 1.3 1.6 1.7 2.6-.9zM494 116.3l-2.6 1.2 1.6 2.1 2.6-.9z"/>
<path fill="#32d000" d="M496.6 115.2l-2.6 1.1 1.6 2.4 2.6-.8z"/>
<path fill="#4bd800" d="M499.3 114.1l-2.7 1.1 1.6 2.7 2.7-.8zM501.9 113l-2.6 1.1 1.6 3 2.6-.8z"/>
<path fill="#64df00" d="M504.6 112l-2.7 1 1.6 3.3 2.7-.9zM507.3 111l-2.7 1 1.6 3.4 2.7-.9z"/>
<path fill="#7ee300" d="M510 110l-2.7 1 1.6 3.5 2.6-.9z"/>
<path fill="#98e700" d="M512.7 109l-2.7 1 1.5 3.6 2.7-.9zM515.5 108.1l-2.8 .9 1.5 3.7 2.8-1z"/>
<path fill="#b3ec00" d="M518.2 107.2l-2.7 .9 1.5 3.6 2.7-.9z"/>
<path fill="#cdf000" d="M521 106.3l-2.8 .9 1.5 3.6 2.7-1zM523.7 105.6l-2.7 .7 1.4 3.5 2.8-.9z"/>
<path fill="#e3f700" d="M526.5 104.9l-2.8 .7 1.5 3.3 2.8-.9zM529.3 104.3l-2.8 .6 1.5 3.1 2.8-.8z"/>
<path fill="#f9fd00" d="M532.1 103.9l-2.8 .4 1.5 2.9 2.8-.7zM535 103.6l-2.9 .3 1.5 2.6 2.8-.6zM537.8 103.5l-2.8 .1 1.4 2.3 2.8-.4z"/>
<path fill="#ffff00" d="M540.7 103.6l-2.9-.1 1.4 2 2.8-.3zM543.5 104l-2.8-.4 1.3 1.6 2.9-.1zM546.4 104.5l-2.9-.5 1.4 1.1 2.8 .2zM549.2 105.3l-2.8-.8 1.3 .8 2.9 .4zM552.1 106.4l-2.9-1.1 1.4 .4 2.9 .6z"/>
<path fill="#f9fd00" d="M555 107.8l-2.9-1.4 1.4-.1 2.8 .9zM557.9 109.5l-2.9-1.7 1.3-.6 2.9 1.3z"/>
<path fill="#e3f700" d="M560.7 111.4l-2.8-1.9 1.3-1 2.9 1.5zM563.6 113.7l-2.9-2.3 1.4-1.4 2.9 1.9z"/>
<path fill="#cdf000" d="M566.4 116.3l-2.8-2.6 1.4-1.8 2.8 2.2z"/>
<path fill="#b3ec00" d="M569.3 119.1l-2.9-2.8 1.4-2.2 2.9 2.5z"/>
<path fill="#98e700" d="M572.1 122.3l-2.8-3.2 1.4-2.5 2.8 2.8z"/>
<path fill="#7ee300" d="M575 125.6l-2.9-3.3 1.4-2.9 2.8 3.1z"/>
<path fill="#4bd800" d="M577.8 129.3l-2.8-3.7 1.3-3.1 2.9 3.4z"/>
<path fill="#32d000" d="M580.6 133.1l-2.8-3.8 1.4-3.4 2.8 3.6z"/>
<path fill="#00be00" d="M583.4 137.1l-2.8-4 1.4-3.6 2.8 3.9z"/>
<path fill="#00ae1d" d="M586.2 141.2l-2.8-4.1 1.4-3.7 2.8 4z"/>
<path fill="#008e58" d="M589 145.4l-2.8-4.2 1.4-3.8 2.7 4.2z"/>
<path fill="#006a88" d="M591.8 149.6l-2.8-4.2 1.3-3.8 2.8 4.2z"/>
<path fill="#00579f" d="M594.5 153.7l-2.7-4.1 1.3-3.8 2.8 4.3z"/>
<path fill="#0032cd" d="M597.3 157.7l-2.8-4 1.4-3.6 2.7 4.2z"/>
<path fill="#0006f9" d="M600.1 161.5l-2.8-3.8 1.3-3.4 2.8 4z"/>
<path fill="#0000ff" d="M602.9 165l-2.8-3.5 1.3-3.2 2.8 3.9z"/>
<path fill="#0000f2" d="M605.7 168.2l-2.8-3.2 1.3-2.8 2.8 3.5z"/>
<path fill="#0000e6" d="M608.6 170.8l-2.9-2.6 1.3-2.5 2.8 3z"/>
<path fill="#0000d9" d="M611.5 172.8l-2.9-2 1.2-2.1 2.8 2.5zM614.4 174l-2.9-1.2 1.1-1.6 2.9 1.9z"/>
<path fill="#19c700" d="M487.2 118.6l-2.6 1.6 1.6 0 2.6-1.4z"/>
<path fill="#32d000" d="M489.8 117l-2.6 1.6 1.6 .2 2.6-1.3zM492.4 115.5l-2.6 1.5 1.6 .5 2.6-1.2z"/>
<path fill="#4bd800" d="M495.1 114.1l-2.7 1.4 1.6 .8 2.6-1.1z"/>
<path fill="#64df00" d="M497.7 112.8l-2.6 1.3 1.5 1.1 2.7-1.1z"/>
<path fill="#7ee300" d="M500.4 111.5l-2.7 1.3 1.6 1.3 2.6-1.1zM503.1 110.3l-2.7 1.2 1.5 1.5 2.7-1z"/>
<path fill="#98e700" d="M505.8 109.1l-2.7 1.2 1.5 1.7 2.7-1z"/>
<path fill="#b3ec00" d="M508.5 108l-2.7 1.1 1.5 1.9 2.7-1z"/>
<path fill="#cdf000" d="M511.2 107l-2.7 1 1.5 2 2.7-1zM513.9 106l-2.7 1 1.5 2 2.8-.9z"/>
<path fill="#e3f700" d="M516.7 105.1l-2.8 .9 1.6 2.1 2.7-.9zM519.5 104.3l-2.8 .8 1.5 2.1 2.8-.9z"/>
<path fill="#f9fd00" d="M522.3 103.6l-2.8 .7 1.5 2 2.7-.7zM525.1 103.1l-2.8 .5 1.4 2 2.8-.7z"/>
<path fill="#ffff00" d="M527.9 102.7l-2.8 .4 1.4 1.8 2.8-.6zM530.7 102.5l-2.8 .2 1.4 1.6 2.8-.4zM533.5 102.4l-2.8 .1 1.4 1.4 2.9-.3zM536.4 102.6l-2.9-.2 1.5 1.2 2.8-.1zM539.2 102.9l-2.8-.3 1.4 .9 2.9 .1zM542.1 103.6l-2.9-.7 1.5 .7 2.8 .4zM545 104.4l-2.9-.8 1.4 .4 2.9 .5zM547.9 105.6l-2.9-1.2 1.4 .1 2.8 .8zM550.7 107l-2.8-1.4 1.3-.3 2.9 1.1zM553.6 108.7l-2.9-1.7 1.4-.6 2.9 1.4z"/>
<path fill="#f9fd00" d="M556.5 110.7l-2.9-2 1.4-.9 2.9 1.7z"/>
<path fill="#e3f700" d="M559.4 113l-2.9-2.3 1.4-1.2 2.8 1.9zM562.2 115.5l-2.8-2.5 1.3-1.6 2.9 2.3z"/>
<path fill="#cdf000" d="M565.1 118.4l-2.9-2.9 1.4-1.8 2.8 2.6z"/>
<path fill="#98e700" d="M567.9 121.5l-2.8-3.1 1.3-2.1 2.9 2.8z"/>
<path fill="#7ee300" d="M570.8 124.8l-2.9-3.3 1.4-2.4 2.8 3.2z"/>
<path fill="#64df00" d="M573.6 128.4l-2.8-3.6 1.3-2.5 2.9 3.3z"/>
<path fill="#4bd800" d="M576.4 132.2l-2.8-3.8 1.4-2.8 2.8 3.7z"/>
<path fill="#19c700" d="M579.3 136.1l-2.9-3.9 1.4-2.9 2.8 3.8z"/>
<path fill="#00ae1d" d="M582.1 140.2l-2.8-4.1 1.3-3 2.8 4z"/>
<path fill="#009e3b" d="M584.9 144.3l-2.8-4.1 1.3-3.1 2.8 4.1z"/>
<path fill="#007c71" d="M587.7 148.5l-2.8-4.2 1.3-3.1 2.8 4.2z"/>
<path fill="#00579f" d="M590.5 152.6l-2.8-4.1 1.3-3.1 2.8 4.2z"/>
<path fill="#0045b6" d="M593.2 156.6l-2.7-4 1.3-3 2.7 4.1z"/>
<path fill="#001ce3" d="M596 160.5l-2.8-3.9 1.3-2.9 2.8 4z"/>
<path fill="#0000ff" d="M598.9 164.1l-2.9-3.6 1.3-2.8 2.8 3.8zM601.7 167.3l-2.8-3.2 1.2-2.6 2.8 3.5z"/>
<path fill="#0000f2" d="M604.5 170.2l-2.8-2.9 1.2-2.3 2.8 3.2z"/>
<path fill="#0000e6" d="M607.4 172.4l-2.9-2.2 1.2-2 2.9 2.6z"/>
<path fill="#0000d9" d="M610.3 174.1l-2.9-1.7 1.2-1.6 2.9 2zM613.3 174.9l-3-.8 1.2-1.3 2.9 1.2z"/>
<path fill="#19c700" d="M485.6 119.5l-2.5 1.8 1.5-1.1 2.6-1.6z"/>
<path fill="#32d000" d="M488.2 117.7l-2.6 1.8 1.6-.9 2.6-1.6z"/>
<path fill="#4bd800" d="M490.9 116l-2.7 1.7 1.6-.7 2.6-1.5z"/>
<path fill="#64df00" d="M493.5 114.4l-2.6 1.6 1.5-.5 2.7-1.4z"/>
<path fill="#7ee300" d="M496.1 112.9l-2.6 1.5 1.6-.3 2.6-1.3z"/>
<path fill="#98e700" d="M498.8 111.4l-2.7 1.5 1.6-.1 2.7-1.3zM501.5 110l-2.7 1.4 1.6 .1 2.7-1.2z"/>
<path fill="#b3ec00" d="M504.2 108.7l-2.7 1.3 1.6 .3 2.7-1.2z"/>
<path fill="#cdf000" d="M506.9 107.4l-2.7 1.3 1.6 .4 2.7-1.1z"/>
<path fill="#e3f700" d="M509.7 106.3l-2.8 1.1 1.6 .6 2.7-1zM512.4 105.2l-2.7 1.1 1.5 .7 2.7-1z"/>
<path fill="#f9fd00" d="M515.2 104.3l-2.8 .9 1.5 .8 2.8-.9zM518 103.5l-2.8 .8 1.5 .8 2.8-.8z"/>
<path fill="#ffff00" d="M520.8 102.9l-2.8 .6 1.5 .8 2.8-.7zM523.6 102.4l-2.8 .5 1.5 .7 2.8-.5zM526.4 102.1l-2.8 .3 1.5 .7 2.8-.4zM529.2 102l-2.8 .1 1.5 .6 2.8-.2zM532.1 102.1l-2.9-.1 1.5 .5 2.8-.1zM535 102.4l-2.9-.3 1.4 .3 2.9 .2zM537.8 103l-2.8-.6 1.4 .2 2.8 .3zM540.7 103.8l-2.9-.8 1.4-.1 2.9 .7zM543.6 104.9l-2.9-1.1 1.4-.2 2.9 .8zM546.4 106.2l-2.8-1.3 1.4-.5 2.9 1.2zM549.3 107.9l-2.9-1.7 1.5-.6 2.8 1.4zM552.2 109.8l-2.9-1.9 1.4-.9 2.9 1.7z"/>
<path fill="#f9fd00" d="M555.1 112l-2.9-2.2 1.4-1.1 2.9 2z"/>
<path fill="#e3f700" d="M558 114.5l-2.9-2.5 1.4-1.3 2.9 2.3z"/>
<path fill="#cdf000" d="M560.8 117.3l-2.8-2.8 1.4-1.5 2.8 2.5z"/>
<path fill="#b3ec00" d="M563.7 120.3l-2.9-3 1.4-1.8 2.9 2.9z"/>
<path fill="#98e700" d="M566.6 123.6l-2.9-3.3 1.4-1.9 2.8 3.1z"/>
<path fill="#7ee300" d="M569.4 127.1l-2.8-3.5 1.3-2.1 2.9 3.3z"/>
<path fill="#4bd800" d="M572.3 130.8l-2.9-3.7 1.4-2.3 2.8 3.6z"/>
<path fill="#32d000" d="M575.1 134.7l-2.8-3.9 1.3-2.4 2.8 3.8z"/>
<path fill="#00be00" d="M577.9 138.7l-2.8-4 1.3-2.5 2.9 3.9z"/>
<path fill="#00ae1d" d="M580.7 142.8l-2.8-4.1 1.4-2.6 2.8 4.1z"/>
<path fill="#008e58" d="M583.5 146.9l-2.8-4.1 1.4-2.6 2.8 4.1z"/>
<path fill="#006a88" d="M586.4 151l-2.9-4.1 1.4-2.6 2.8 4.2z"/>
<path fill="#00579f" d="M589.2 155.1l-2.8-4.1 1.3-2.5 2.8 4.1z"/>
<path fill="#0032cd" d="M592 159l-2.8-3.9 1.3-2.5 2.7 4z"/>
<path fill="#0006f9" d="M594.8 162.7l-2.8-3.7 1.2-2.4 2.8 3.9z"/>
<path fill="#0000ff" d="M597.6 166.1l-2.8-3.4 1.2-2.2 2.9 3.6zM600.5 169.2l-2.9-3.1 1.3-2 2.8 3.2z"/>
<path fill="#0000e6" d="M603.3 171.8l-2.8-2.6 1.2-1.9 2.8 2.9zM606.2 173.8l-2.9-2 1.2-1.6 2.9 2.2z"/>
<path fill="#0000d9" d="M609.2 175.2l-3-1.4 1.2-1.4 2.9 1.7zM612.2 175.7l-3-.5 1.1-1.1 3 .8z"/>
<path fill="#19c700" d="M484.1 121.3l-2.6 2 1.6-2 2.5-1.8z"/>
<path fill="#32d000" d="M486.7 119.4l-2.6 1.9 1.5-1.8 2.6-1.8z"/>
<path fill="#4bd800" d="M489.3 117.5l-2.6 1.9 1.5-1.7 2.7-1.7z"/>
<path fill="#64df00" d="M491.9 115.7l-2.6 1.8 1.6-1.5 2.6-1.6z"/>
<path fill="#7ee300" d="M494.6 114l-2.7 1.7 1.6-1.3 2.6-1.5z"/>
<path fill="#98e700" d="M497.3 112.4l-2.7 1.6 1.5-1.1 2.7-1.5z"/>
<path fill="#b3ec00" d="M499.9 110.8l-2.6 1.6 1.5-1 2.7-1.4z"/>
<path fill="#cdf000" d="M502.7 109.3l-2.8 1.5 1.6-.8 2.7-1.3zM505.4 107.9l-2.7 1.4 1.5-.6 2.7-1.3z"/>
<path fill="#e3f700" d="M508.1 106.7l-2.7 1.2 1.5-.5 2.8-1.1z"/>
<path fill="#f9fd00" d="M510.9 105.5l-2.8 1.2 1.6-.4 2.7-1.1zM513.7 104.5l-2.8 1 1.5-.3 2.8-.9z"/>
<path fill="#ffff00" d="M516.5 103.7l-2.8 .8 1.5-.2 2.8-.8zM519.3 103l-2.8 .7 1.5-.2 2.8-.6zM522.1 102.6l-2.8 .4 1.5-.1 2.8-.5zM524.9 102.3l-2.8 .3 1.5-.2 2.8-.3z"/>
<path fill="#ffef00" d="M527.8 102.2l-2.9 .1 1.5-.2 2.8-.1zM530.6 102.4l-2.8-.2 1.4-.2 2.9 .1zM533.5 102.8l-2.9-.4 1.5-.3 2.9 .3zM536.4 103.5l-2.9-.7 1.5-.4 2.8 .6zM539.2 104.5l-2.8-1 1.4-.5 2.9 .8z"/>
<path fill="#ffff00" d="M542.1 105.7l-2.9-1.2 1.5-.7 2.9 1.1zM545 107.2l-2.9-1.5 1.5-.8 2.8 1.3zM547.9 109l-2.9-1.8 1.4-1 2.9 1.7zM550.8 111.1l-2.9-2.1 1.4-1.1 2.9 1.9z"/>
<path fill="#f9fd00" d="M553.7 113.5l-2.9-2.4 1.4-1.3 2.9 2.2z"/>
<path fill="#e3f700" d="M556.6 116.1l-2.9-2.6 1.4-1.5 2.9 2.5z"/>
<path fill="#cdf000" d="M559.5 119l-2.9-2.9 1.4-1.6 2.8 2.8z"/>
<path fill="#b3ec00" d="M562.3 122.2l-2.8-3.2 1.3-1.7 2.9 3z"/>
<path fill="#98e700" d="M565.2 125.5l-2.9-3.3 1.4-1.9 2.9 3.3z"/>
<path fill="#64df00" d="M568.1 129.1l-2.9-3.6 1.4-1.9 2.8 3.5z"/>
<path fill="#4bd800" d="M570.9 132.9l-2.8-3.8 1.3-2 2.9 3.7z"/>
<path fill="#19c700" d="M573.8 136.8l-2.9-3.9 1.4-2.1 2.8 3.9z"/>
<path fill="#00be00" d="M576.6 140.8l-2.8-4 1.3-2.1 2.8 4z"/>
<path fill="#009e3b" d="M579.4 144.9l-2.8-4.1 1.3-2.1 2.8 4.1z"/>
<path fill="#007c71" d="M582.2 149l-2.8-4.1 1.3-2.1 2.8 4.1z"/>
<path fill="#006a88" d="M585.1 153.1l-2.9-4.1 1.3-2.1 2.9 4.1z"/>
<path fill="#0045b6" d="M587.9 157l-2.8-3.9 1.3-2.1 2.8 4.1z"/>
<path fill="#001ce3" d="M590.7 160.9l-2.8-3.9 1.3-1.9 2.8 3.9z"/>
<path fill="#0006f9" d="M593.5 164.5l-2.8-3.6 1.3-1.9 2.8 3.7z"/>
<path fill="#0000ff" d="M596.4 167.8l-2.9-3.3 1.3-1.8 2.8 3.4z"/>
<path fill="#0000f2" d="M599.2 170.7l-2.8-2.9 1.2-1.7 2.9 3.1z"/>
<path fill="#0000e6" d="M602.1 173.1l-2.9-2.4 1.3-1.5 2.8 2.6z"/>
<path fill="#0000d9" d="M605.1 175l-3-1.9 1.2-1.3 2.9 2zM608 176.2l-2.9-1.2 1.1-1.2 3 1.4zM611.1 176.6l-3.1-.4 1.2-1 3 .5z"/>
<path fill="#00be00" d="M482.5 123.8l-2.5 2.1 1.5-2.6 2.6-2z"/>
<path fill="#19c700" d="M485.1 121.8l-2.6 2 1.6-2.5 2.6-1.9z"/>
<path fill="#32d000" d="M487.7 119.8l-2.6 2 1.6-2.4 2.6-1.9z"/>
<path fill="#64df00" d="M490.4 117.9l-2.7 1.9 1.6-2.3 2.6-1.8z"/>
<path fill="#7ee300" d="M493 116l-2.6 1.9 1.5-2.2 2.7-1.7z"/>
<path fill="#98e700" d="M495.7 114.2l-2.7 1.8 1.6-2 2.7-1.6z"/>
<path fill="#b3ec00" d="M498.4 112.4l-2.7 1.8 1.6-1.8 2.6-1.6zM501.1 110.8l-2.7 1.6 1.5-1.6 2.8-1.5z"/>
<path fill="#cdf000" d="M503.8 109.3l-2.7 1.5 1.6-1.5 2.7-1.4z"/>
<path fill="#e3f700" d="M506.6 107.9l-2.8 1.4 1.6-1.4 2.7-1.2z"/>
<path fill="#f9fd00" d="M509.3 106.7l-2.7 1.2 1.5-1.2 2.8-1.2z"/>
<path fill="#ffff00" d="M512.1 105.6l-2.8 1.1 1.6-1.2 2.8-1zM514.9 104.7l-2.8 .9 1.6-1.1 2.8-.8zM517.7 104l-2.8 .7 1.6-1 2.8-.7zM520.6 103.4l-2.9 .6 1.6-1 2.8-.4zM523.4 103.2l-2.8 .2 1.5-.8 2.8-.3z"/>
<path fill="#ffef00" d="M526.3 103.1l-2.9 .1 1.5-.9 2.9-.1zM529.1 103.3l-2.8-.2 1.5-.9 2.8 .2zM532 103.8l-2.9-.5 1.5-.9 2.9 .4zM534.9 104.5l-2.9-.7 1.5-1 2.9 .7zM537.8 105.5l-2.9-1 1.5-1 2.8 1z"/>
<path fill="#ffff00" d="M540.7 106.9l-2.9-1.4 1.4-1 2.9 1.2zM543.6 108.4l-2.9-1.5 1.4-1.2 2.9 1.5zM546.5 110.3l-2.9-1.9 1.4-1.2 2.9 1.8zM549.4 112.5l-2.9-2.2 1.4-1.3 2.9 2.1z"/>
<path fill="#f9fd00" d="M552.3 115l-2.9-2.5 1.4-1.4 2.9 2.4z"/>
<path fill="#e3f700" d="M555.2 117.7l-2.9-2.7 1.4-1.5 2.9 2.6z"/>
<path fill="#cdf000" d="M558.1 120.6l-2.9-2.9 1.4-1.6 2.9 2.9z"/>
<path fill="#b3ec00" d="M560.9 123.9l-2.8-3.3 1.4-1.6 2.8 3.2z"/>
<path fill="#7ee300" d="M563.8 127.3l-2.9-3.4 1.4-1.7 2.9 3.3z"/>
<path fill="#64df00" d="M566.7 130.9l-2.9-3.6 1.4-1.8 2.9 3.6z"/>
<path fill="#32d000" d="M569.6 134.7l-2.9-3.8 1.4-1.8 2.8 3.8z"/>
<path fill="#19c700" d="M572.4 138.6l-2.8-3.9 1.3-1.8 2.9 3.9z"/>
<path fill="#00ae1d" d="M575.3 142.6l-2.9-4 1.4-1.8 2.8 4z"/>
<path fill="#009e3b" d="M578.1 146.7l-2.8-4.1 1.3-1.8 2.8 4.1z"/>
<path fill="#007c71" d="M580.9 150.7l-2.8-4 1.3-1.8 2.8 4.1z"/>
<path fill="#00579f" d="M583.8 154.7l-2.9-4 1.3-1.7 2.9 4.1z"/>
<path fill="#0045b6" d="M586.6 158.6l-2.8-3.9 1.3-1.6 2.8 3.9z"/>
<path fill="#001ce3" d="M589.4 162.4l-2.8-3.8 1.3-1.6 2.8 3.9z"/>
<path fill="#0006f9" d="M592.3 165.9l-2.9-3.5 1.3-1.5 2.8 3.6z"/>
<path fill="#0000ff" d="M595.2 169.1l-2.9-3.2 1.2-1.4 2.9 3.3z"/>
<path fill="#0000f2" d="M598 171.9l-2.8-2.8 1.2-1.3 2.8 2.9z"/>
<path fill="#0000e6" d="M601 174.2l-3-2.3 1.2-1.2 2.9 2.4zM603.9 176l-2.9-1.8 1.1-1.1 3 1.9z"/>
<path fill="#0000d9" d="M606.9 177.1l-3-1.1 1.2-1 2.9 1.2zM609.9 177.5l-3-.4 1.1-.9 3.1 .4z"/>
<path fill="#00ae1d" d="M481 126.9l-2.6 2.1 1.6-3.1 2.5-2.1z"/>
<path fill="#19c700" d="M483.6 124.8l-2.6 2.1 1.5-3.1 2.6-2z"/>
<path fill="#32d000" d="M486.2 122.6l-2.6 2.2 1.5-3 2.6-2z"/>
<path fill="#4bd800" d="M488.8 120.6l-2.6 2 1.5-2.8 2.7-1.9z"/>
<path fill="#64df00" d="M491.5 118.5l-2.7 2.1 1.6-2.7 2.6-1.9z"/>
<path fill="#7ee300" d="M494.1 116.6l-2.6 1.9 1.5-2.5 2.7-1.8z"/>
<path fill="#98e700" d="M496.8 114.7l-2.7 1.9 1.6-2.4 2.7-1.8z"/>
<path fill="#b3ec00" d="M499.5 112.9l-2.7 1.8 1.6-2.3 2.7-1.6z"/>
<path fill="#cdf000" d="M502.3 111.3l-2.8 1.6 1.6-2.1 2.7-1.5z"/>
<path fill="#e3f700" d="M505 109.8l-2.7 1.5 1.5-2 2.8-1.4z"/>
<path fill="#f9fd00" d="M507.8 108.4l-2.8 1.4 1.6-1.9 2.7-1.2zM510.6 107.2l-2.8 1.2 1.5-1.7 2.8-1.1z"/>
<path fill="#ffff00" d="M513.4 106.2l-2.8 1 1.5-1.6 2.8-.9zM516.2 105.4l-2.8 .8 1.5-1.5 2.8-.7zM519 104.8l-2.8 .6 1.5-1.4 2.9-.6zM521.9 104.5l-2.9 .3 1.6-1.4 2.8-.2z"/>
<path fill="#ffef00" d="M524.8 104.4l-2.9 .1 1.5-1.3 2.9-.1zM527.6 104.6l-2.8-.2 1.5-1.3 2.8 .2zM530.5 105.1l-2.9-.5 1.5-1.3 2.9 .5zM533.4 105.8l-2.9-.7 1.5-1.3 2.9 .7zM536.3 106.9l-2.9-1.1 1.5-1.3 2.9 1z"/>
<path fill="#ffff00" d="M539.2 108.2l-2.9-1.3 1.5-1.4 2.9 1.4zM542.1 109.8l-2.9-1.6 1.5-1.3 2.9 1.5zM545 111.8l-2.9-2 1.5-1.4 2.9 1.9z"/>
<path fill="#f9fd00" d="M548 114l-3-2.2 1.5-1.5 2.9 2.2zM550.9 116.4l-2.9-2.4 1.4-1.5 2.9 2.5z"/>
<path fill="#e3f700" d="M553.8 119.2l-2.9-2.8 1.4-1.4 2.9 2.7z"/>
<path fill="#b3ec00" d="M556.7 122.2l-2.9-3 1.4-1.5 2.9 2.9z"/>
<path fill="#98e700" d="M559.6 125.4l-2.9-3.2 1.4-1.6 2.8 3.3z"/>
<path fill="#7ee300" d="M562.4 128.9l-2.8-3.5 1.3-1.5 2.9 3.4z"/>
<path fill="#64df00" d="M565.3 132.5l-2.9-3.6 1.4-1.6 2.9 3.6z"/>
<path fill="#32d000" d="M568.2 136.3l-2.9-3.8 1.4-1.6 2.9 3.8z"/>
<path fill="#19c700" d="M571.1 140.2l-2.9-3.9 1.4-1.6 2.8 3.9z"/>
<path fill="#00ae1d" d="M573.9 144.1l-2.8-3.9 1.3-1.6 2.9 4z"/>
<path fill="#008e58" d="M576.8 148.2l-2.9-4.1 1.4-1.5 2.8 4.1z"/>
<path fill="#007c71" d="M579.6 152.2l-2.8-4 1.3-1.5 2.8 4z"/>
<path fill="#00579f" d="M582.5 156.1l-2.9-3.9 1.3-1.5 2.9 4z"/>
<path fill="#0045b6" d="M585.3 159.9l-2.8-3.8 1.3-1.4 2.8 3.9z"/>
<path fill="#001ce3" d="M588.2 163.6l-2.9-3.7 1.3-1.3 2.8 3.8z"/>
<path fill="#0006f9" d="M591.1 167l-2.9-3.4 1.2-1.2 2.9 3.5z"/>
<path fill="#0000ff" d="M593.9 170.1l-2.8-3.1 1.2-1.1 2.9 3.2z"/>
<path fill="#0000f2" d="M596.8 172.9l-2.9-2.8 1.3-1 2.8 2.8z"/>
<path fill="#0000e6" d="M599.8 175.2l-3-2.3 1.2-1 3 2.3zM602.7 176.9l-2.9-1.7 1.2-1 2.9 1.8z"/>
<path fill="#0000d9" d="M605.7 178l-3-1.1 1.2-.9 3 1.1zM608.8 178.4l-3.1-.4 1.2-.9 3 .4z"/>
<path fill="#009e3b" d="M479.4 130.3l-2.5 2.2 1.5-3.5 2.6-2.1z"/>
<path fill="#00ae1d" d="M482 128.1l-2.6 2.2 1.6-3.4 2.6-2.1z"/>
<path fill="#19c700" d="M484.6 125.9l-2.6 2.2 1.6-3.3 2.6-2.2z"/>
<path fill="#32d000" d="M487.3 123.7l-2.7 2.2 1.6-3.3 2.6-2z"/>
<path fill="#4bd800" d="M489.9 121.5l-2.6 2.2 1.5-3.1 2.7-2.1z"/>
<path fill="#64df00" d="M492.6 119.4l-2.7 2.1 1.6-3 2.6-1.9z"/>
<path fill="#7ee300" d="M495.3 117.4l-2.7 2 1.5-2.8 2.7-1.9z"/>
<path fill="#98e700" d="M498 115.5l-2.7 1.9 1.5-2.7 2.7-1.8z"/>
<path fill="#b3ec00" d="M500.7 113.7l-2.7 1.8 1.5-2.6 2.8-1.6z"/>
<path fill="#cdf000" d="M503.5 112l-2.8 1.7 1.6-2.4 2.7-1.5z"/>
<path fill="#e3f700" d="M506.2 110.5l-2.7 1.5 1.5-2.2 2.8-1.4z"/>
<path fill="#f9fd00" d="M509 109.2l-2.8 1.3 1.6-2.1 2.8-1.2z"/>
<path fill="#ffff00" d="M511.8 108.1l-2.8 1.1 1.6-2 2.8-1zM514.7 107.2l-2.9 .9 1.6-1.9 2.8-.8zM517.5 106.6l-2.8 .6 1.5-1.8 2.8-.6zM520.4 106.2l-2.9 .4 1.5-1.8 2.9-.3zM523.2 106.1l-2.8 .1 1.5-1.7 2.9-.1z"/>
<path fill="#ffef00" d="M526.1 106.2l-2.9-.1 1.6-1.7 2.8 .2zM529 106.6l-2.9-.4 1.5-1.6 2.9 .5zM531.9 107.4l-2.9-.8 1.5-1.5 2.9 .7z"/>
<path fill="#ffff00" d="M534.8 108.4l-2.9-1 1.5-1.6 2.9 1.1zM537.8 109.7l-3-1.3 1.5-1.5 2.9 1.3zM540.7 111.3l-2.9-1.6 1.4-1.5 2.9 1.6zM543.6 113.2l-2.9-1.9 1.4-1.5 2.9 2z"/>
<path fill="#f9fd00" d="M546.5 115.4l-2.9-2.2 1.4-1.4 3 2.2z"/>
<path fill="#e3f700" d="M549.4 117.9l-2.9-2.5 1.5-1.4 2.9 2.4z"/>
<path fill="#cdf000" d="M552.3 120.6l-2.9-2.7 1.5-1.5 2.9 2.8z"/>
<path fill="#b3ec00" d="M555.3 123.6l-3-3 1.5-1.4 2.9 3z"/>
<path fill="#98e700" d="M558.2 126.9l-2.9-3.3 1.4-1.4 2.9 3.2z"/>
<path fill="#7ee300" d="M561.1 130.3l-2.9-3.4 1.4-1.5 2.8 3.5z"/>
<path fill="#4bd800" d="M564 133.9l-2.9-3.6 1.3-1.4 2.9 3.6z"/>
<path fill="#32d000" d="M566.8 137.6l-2.8-3.7 1.3-1.4 2.9 3.8z"/>
<path fill="#19c700" d="M569.7 141.5l-2.9-3.9 1.4-1.3 2.9 3.9z"/>
<path fill="#00ae1d" d="M572.6 145.4l-2.9-3.9 1.4-1.3 2.8 3.9z"/>
<path fill="#008e58" d="M575.5 149.4l-2.9-4 1.3-1.3 2.9 4.1z"/>
<path fill="#007c71" d="M578.3 153.3l-2.8-3.9 1.3-1.2 2.8 4z"/>
<path fill="#00579f" d="M581.2 157.2l-2.9-3.9 1.3-1.1 2.9 3.9z"/>
<path fill="#0045b6" d="M584.1 161l-2.9-3.8 1.3-1.1 2.8 3.8z"/>
<path fill="#001ce3" d="M586.9 164.6l-2.8-3.6 1.2-1.1 2.9 3.7z"/>
<path fill="#0006f9" d="M589.8 168l-2.9-3.4 1.3-1 2.9 3.4z"/>
<path fill="#0000ff" d="M592.7 171l-2.9-3 1.3-1 2.8 3.1z"/>
<path fill="#0000f2" d="M595.6 173.7l-2.9-2.7 1.2-.9 2.9 2.8zM598.6 176l-3-2.3 1.2-.8 3 2.3z"/>
<path fill="#0000e6" d="M601.6 177.7l-3-1.7 1.2-.8 2.9 1.7z"/>
<path fill="#0000d9" d="M604.6 178.8l-3-1.1 1.1-.8 3 1.1zM607.6 179.3l-3-.5 1.1-.8 3.1 .4z"/>
<path fill="#008e58" d="M477.9 133.9l-2.6 2.3 1.6-3.7 2.5-2.2z"/>
<path fill="#009e3b" d="M480.5 131.6l-2.6 2.3 1.5-3.6 2.6-2.2z"/>
<path fill="#00be00" d="M483.1 129.3l-2.6 2.3 1.5-3.5 2.6-2.2z"/>
<path fill="#19c700" d="M485.7 126.9l-2.6 2.4 1.5-3.4 2.7-2.2z"/>
<path fill="#32d000" d="M488.4 124.7l-2.7 2.2 1.6-3.2 2.6-2.2z"/>
<path fill="#4bd800" d="M491 122.4l-2.6 2.3 1.5-3.2 2.7-2.1z"/>
<path fill="#64df00" d="M493.7 120.3l-2.7 2.1 1.6-3 2.7-2z"/>
<path fill="#98e700" d="M496.4 118.2l-2.7 2.1 1.6-2.9 2.7-1.9z"/>
<path fill="#b3ec00" d="M499.2 116.3l-2.8 1.9 1.6-2.7 2.7-1.8z"/>
<path fill="#cdf000" d="M501.9 114.5l-2.7 1.8 1.5-2.6 2.8-1.7z"/>
<path fill="#e3f700" d="M504.7 112.9l-2.8 1.6 1.6-2.5 2.7-1.5zM507.5 111.5l-2.8 1.4 1.5-2.4 2.8-1.3z"/>
<path fill="#f9fd00" d="M510.3 110.3l-2.8 1.2 1.5-2.3 2.8-1.1z"/>
<path fill="#ffff00" d="M513.1 109.3l-2.8 1 1.5-2.2 2.9-.9zM516 108.6l-2.9 .7 1.6-2.1 2.8-.6zM518.8 108.1l-2.8 .5 1.5-2 2.9-.4zM521.7 107.9l-2.9 .2 1.6-1.9 2.8-.1zM524.6 108l-2.9-.1 1.5-1.8 2.9 .1zM527.5 108.4l-2.9-.4 1.5-1.8 2.9 .4zM530.4 109l-2.9-.6 1.5-1.8 2.9 .8zM533.3 110l-2.9-1 1.5-1.6 2.9 1zM536.3 111.3l-3-1.3 1.5-1.6 3 1.3zM539.2 112.8l-2.9-1.5 1.5-1.6 2.9 1.6zM542.1 114.7l-2.9-1.9 1.5-1.5 2.9 1.9z"/>
<path fill="#f9fd00" d="M545.1 116.9l-3-2.2 1.5-1.5 2.9 2.2z"/>
<path fill="#e3f700" d="M548 119.3l-2.9-2.4 1.4-1.5 2.9 2.5z"/>
<path fill="#cdf000" d="M550.9 122l-2.9-2.7 1.4-1.4 2.9 2.7z"/>
<path fill="#b3ec00" d="M553.8 125l-2.9-3 1.4-1.4 3 3z"/>
<path fill="#98e700" d="M556.8 128.1l-3-3.1 1.5-1.4 2.9 3.3z"/>
<path fill="#7ee300" d="M559.7 131.5l-2.9-3.4 1.4-1.2 2.9 3.4z"/>
<path fill="#4bd800" d="M562.6 135.1l-2.9-3.6 1.4-1.2 2.9 3.6z"/>
<path fill="#32d000" d="M565.5 138.8l-2.9-3.7 1.4-1.2 2.8 3.7z"/>
<path fill="#00be00" d="M568.4 142.6l-2.9-3.8 1.3-1.2 2.9 3.9z"/>
<path fill="#00ae1d" d="M571.3 146.5l-2.9-3.9 1.3-1.1 2.9 3.9z"/>
<path fill="#008e58" d="M574.2 150.4l-2.9-3.9 1.3-1.1 2.9 4z"/>
<path fill="#007c71" d="M577 154.3l-2.8-3.9 1.3-1 2.8 3.9z"/>
<path fill="#00579f" d="M579.9 158.1l-2.9-3.8 1.3-1 2.9 3.9z"/>
<path fill="#0045b6" d="M582.8 161.8l-2.9-3.7 1.3-.9 2.9 3.8z"/>
<path fill="#001ce3" d="M585.7 165.4l-2.9-3.6 1.3-.8 2.8 3.6z"/>
<path fill="#0006f9" d="M588.6 168.7l-2.9-3.3 1.2-.8 2.9 3.4z"/>
<path fill="#0000ff" d="M591.5 171.8l-2.9-3.1 1.2-.7 2.9 3zM594.4 174.5l-2.9-2.7 1.2-.8 2.9 2.7z"/>
<path fill="#0000f2" d="M597.4 176.7l-3-2.2 1.2-.8 3 2.3z"/>
<path fill="#0000e6" d="M600.4 178.5l-3-1.8 1.2-.7 3 1.7zM603.4 179.7l-3-1.2 1.2-.8 3 1.1zM606.5 180.2l-3.1-.5 1.2-.9 3 .5z"/>
<path fill="#007c71" d="M476.3 137.6l-2.5 2.3 1.5-3.7 2.6-2.3z"/>
<path fill="#008e58" d="M478.9 135.2l-2.6 2.4 1.6-3.7 2.6-2.3z"/>
<path fill="#009e3b" d="M481.5 132.7l-2.6 2.5 1.6-3.6 2.6-2.3z"/>
<path fill="#00be00" d="M484.1 130.3l-2.6 2.4 1.6-3.4 2.6-2.4z"/>
<path fill="#19c700" d="M486.8 127.9l-2.7 2.4 1.6-3.4 2.7-2.2z"/>
<path fill="#32d000" d="M489.5 125.6l-2.7 2.3 1.6-3.2 2.6-2.3z"/>
<path fill="#64df00" d="M492.1 123.3l-2.6 2.3 1.5-3.2 2.7-2.1z"/>
<path fill="#7ee300" d="M494.9 121.1l-2.8 2.2 1.6-3 2.7-2.1z"/>
<path fill="#98e700" d="M497.6 119.1l-2.7 2 1.5-2.9 2.8-1.9z"/>
<path fill="#b3ec00" d="M500.3 117.2l-2.7 1.9 1.6-2.8 2.7-1.8z"/>
<path fill="#cdf000" d="M503.1 115.5l-2.8 1.7 1.6-2.7 2.8-1.6z"/>
<path fill="#e3f700" d="M505.9 113.9l-2.8 1.6 1.6-2.6 2.8-1.4z"/>
<path fill="#f9fd00" d="M508.7 112.6l-2.8 1.3 1.6-2.4 2.8-1.2zM511.6 111.5l-2.9 1.1 1.6-2.3 2.8-1z"/>
<path fill="#ffff00" d="M514.4 110.7l-2.8 .8 1.5-2.2 2.9-.7zM517.3 110.1l-2.9 .6 1.6-2.1 2.8-.5zM520.2 109.8l-2.9 .3 1.5-2 2.9-.2zM523.1 109.8l-2.9 0 1.5-1.9 2.9 .1zM526 110.1l-2.9-.3 1.5-1.8 2.9 .4zM528.9 110.7l-2.9-.6 1.5-1.7 2.9 .6zM531.8 111.6l-2.9-.9 1.5-1.7 2.9 1zM534.8 112.8l-3-1.2 1.5-1.6 3 1.3zM537.7 114.3l-2.9-1.5 1.5-1.5 2.9 1.5zM540.6 116.2l-2.9-1.9 1.5-1.5 2.9 1.9z"/>
<path fill="#f9fd00" d="M543.6 118.3l-3-2.1 1.5-1.5 3 2.2z"/>
<path fill="#e3f700" d="M546.5 120.6l-2.9-2.3 1.5-1.4 2.9 2.4z"/>
<path fill="#cdf000" d="M549.5 123.3l-3-2.7 1.5-1.3 2.9 2.7z"/>
<path fill="#b3ec00" d="M552.4 126.2l-2.9-2.9 1.4-1.3 2.9 3z"/>
<path fill="#98e700" d="M555.3 129.3l-2.9-3.1 1.4-1.2 3 3.1z"/>
<path fill="#7ee300" d="M558.3 132.6l-3-3.3 1.5-1.2 2.9 3.4z"/>
<path fill="#4bd800" d="M561.2 136.1l-2.9-3.5 1.4-1.1 2.9 3.6z"/>
<path fill="#32d000" d="M564.1 139.8l-2.9-3.7 1.4-1 2.9 3.7z"/>
<path fill="#19c700" d="M567 143.5l-2.9-3.7 1.4-1 2.9 3.8z"/>
<path fill="#00ae1d" d="M569.9 147.3l-2.9-3.8 1.4-.9 2.9 3.9z"/>
<path fill="#009e3b" d="M572.8 151.2l-2.9-3.9 1.4-.8 2.9 3.9z"/>
<path fill="#007c71" d="M575.7 155.1l-2.9-3.9 1.4-.8 2.8 3.9z"/>
<path fill="#00579f" d="M578.6 158.9l-2.9-3.8 1.3-.8 2.9 3.8z"/>
<path fill="#0045b6" d="M581.5 162.5l-2.9-3.6 1.3-.8 2.9 3.7z"/>
<path fill="#0032cd" d="M584.4 166.1l-2.9-3.6 1.3-.7 2.9 3.6z"/>
<path fill="#0006f9" d="M587.3 169.4l-2.9-3.3 1.3-.7 2.9 3.3z"/>
<path fill="#0000ff" d="M590.3 172.4l-3-3 1.3-.7 2.9 3.1zM593.2 175.2l-2.9-2.8 1.2-.6 2.9 2.7z"/>
<path fill="#0000f2" d="M596.2 177.5l-3-2.3 1.2-.7 3 2.2z"/>
<path fill="#0000e6" d="M599.2 179.3l-3-1.8 1.2-.8 3 1.8zM602.2 180.5l-3-1.2 1.2-.8 3 1.2zM605.3 181.2l-3.1-.7 1.2-.8 3.1 .5z"/>
<path fill="#006a88" d="M474.8 141.2l-2.6 2.5 1.6-3.8 2.5-2.3z"/>
<path fill="#007c71" d="M477.3 138.7l-2.5 2.5 1.5-3.6 2.6-2.4z"/>
<path fill="#008e58" d="M479.9 136.1l-2.6 2.6 1.6-3.5 2.6-2.5z"/>
<path fill="#00ae1d" d="M482.6 133.6l-2.7 2.5 1.6-3.4 2.6-2.4z"/>
<path fill="#00be00" d="M485.2 131.1l-2.6 2.5 1.5-3.3 2.7-2.4z"/>
<path fill="#19c700" d="M487.9 128.6l-2.7 2.5 1.6-3.2 2.7-2.3z"/>
<path fill="#4bd800" d="M490.6 126.2l-2.7 2.4 1.6-3 2.6-2.3z"/>
<path fill="#64df00" d="M493.3 124l-2.7 2.2 1.5-2.9 2.8-2.2z"/>
<path fill="#7ee300" d="M496 121.8l-2.7 2.2 1.6-2.9 2.7-2z"/>
<path fill="#98e700" d="M498.8 119.8l-2.8 2 1.6-2.7 2.7-1.9z"/>
<path fill="#b3ec00" d="M501.5 118l-2.7 1.8 1.5-2.6 2.8-1.7z"/>
<path fill="#cdf000" d="M504.3 116.3l-2.8 1.7 1.6-2.5 2.8-1.6z"/>
<path fill="#e3f700" d="M507.2 114.9l-2.9 1.4 1.6-2.4 2.8-1.3z"/>
<path fill="#f9fd00" d="M510 113.8l-2.8 1.1 1.5-2.3 2.9-1.1zM512.9 112.8l-2.9 1 1.6-2.3 2.8-.8z"/>
<path fill="#ffff00" d="M515.7 112.2l-2.8 .6 1.5-2.1 2.9-.6zM518.6 111.8l-2.9 .4 1.6-2.1 2.9-.3zM521.5 111.7l-2.9 .1 1.6-2 2.9 0zM524.4 111.9l-2.9-.2 1.6-1.9 2.9 .3zM527.4 112.4l-3-.5 1.6-1.8 2.9 .6zM530.3 113.2l-2.9-.8 1.5-1.7 2.9 .9zM533.3 114.4l-3-1.2 1.5-1.6 3 1.2zM536.2 115.8l-2.9-1.4 1.5-1.6 2.9 1.5z"/>
<path fill="#f9fd00" d="M539.2 117.5l-3-1.7 1.5-1.5 2.9 1.9zM542.1 119.6l-2.9-2.1 1.4-1.3 3 2.1z"/>
<path fill="#e3f700" d="M545.1 121.9l-3-2.3 1.5-1.3 2.9 2.3z"/>
<path fill="#cdf000" d="M548 124.5l-2.9-2.6 1.4-1.3 3 2.7z"/>
<path fill="#b3ec00" d="M551 127.3l-3-2.8 1.5-1.2 2.9 2.9z"/>
<path fill="#98e700" d="M553.9 130.3l-2.9-3 1.4-1.1 2.9 3.1z"/>
<path fill="#7ee300" d="M556.9 133.6l-3-3.3 1.4-1 3 3.3z"/>
<path fill="#4bd800" d="M559.8 137l-2.9-3.4 1.4-1 2.9 3.5z"/>
<path fill="#32d000" d="M562.7 140.6l-2.9-3.6 1.4-.9 2.9 3.7z"/>
<path fill="#19c700" d="M565.7 144.3l-3-3.7 1.4-.8 2.9 3.7z"/>
<path fill="#00ae1d" d="M568.6 148.1l-2.9-3.8 1.3-.8 2.9 3.8z"/>
<path fill="#009e3b" d="M571.5 151.9l-2.9-3.8 1.3-.8 2.9 3.9z"/>
<path fill="#007c71" d="M574.4 155.7l-2.9-3.8 1.3-.7 2.9 3.9z"/>
<path fill="#006a88" d="M577.3 159.5l-2.9-3.8 1.3-.6 2.9 3.8z"/>
<path fill="#0045b6" d="M580.2 163.1l-2.9-3.6 1.3-.6 2.9 3.6z"/>
<path fill="#0032cd" d="M583.2 166.7l-3-3.6 1.3-.6 2.9 3.6z"/>
<path fill="#001ce3" d="M586.1 170l-2.9-3.3 1.2-.6 2.9 3.3z"/>
<path fill="#0000ff" d="M589 173l-2.9-3 1.2-.6 3 3zM592 175.8l-3-2.8 1.3-.6 2.9 2.8z"/>
<path fill="#0000f2" d="M595 178.1l-3-2.3 1.2-.6 3 2.3zM598 180l-3-1.9 1.2-.6 3 1.8z"/>
<path fill="#0000e6" d="M601 181.4l-3-1.4 1.2-.7 3 1.2zM604.1 182.2l-3.1-.8 1.2-.9 3.1 .7z"/>
<path fill="#0045b6" d="M473.2 144.7l-2.6 2.6 1.6-3.6 2.6-2.5z"/>
<path fill="#006a88" d="M475.8 142.1l-2.6 2.6 1.6-3.5 2.5-2.5z"/>
<path fill="#007c71" d="M478.4 139.4l-2.6 2.7 1.5-3.4 2.6-2.6z"/>
<path fill="#009e3b" d="M481 136.7l-2.6 2.7 1.5-3.3 2.7-2.5z"/>
<path fill="#00ae1d" d="M483.6 134.1l-2.6 2.6 1.6-3.1 2.6-2.5z"/>
<path fill="#00be00" d="M486.3 131.5l-2.7 2.6 1.6-3 2.7-2.5z"/>
<path fill="#32d000" d="M489 129.1l-2.7 2.4 1.6-2.9 2.7-2.4z"/>
<path fill="#4bd800" d="M491.7 126.7l-2.7 2.4 1.6-2.9 2.7-2.2z"/>
<path fill="#64df00" d="M494.4 124.4l-2.7 2.3 1.6-2.7 2.7-2.2z"/>
<path fill="#7ee300" d="M497.2 122.3l-2.8 2.1 1.6-2.6 2.8-2z"/>
<path fill="#b3ec00" d="M499.9 120.4l-2.7 1.9 1.6-2.5 2.7-1.8z"/>
<path fill="#cdf000" d="M502.8 118.7l-2.9 1.7 1.6-2.4 2.8-1.7zM505.6 117.2l-2.8 1.5 1.5-2.4 2.9-1.4z"/>
<path fill="#e3f700" d="M508.4 115.9l-2.8 1.3 1.6-2.3 2.8-1.1z"/>
<path fill="#f9fd00" d="M511.3 114.9l-2.9 1 1.6-2.1 2.9-1zM514.2 114.1l-2.9 .8 1.6-2.1 2.8-.6z"/>
<path fill="#ffff00" d="M517.1 113.7l-2.9 .4 1.5-1.9 2.9-.4zM520 113.5l-2.9 .2 1.5-1.9 2.9-.1zM522.9 113.6l-2.9-.1 1.5-1.8 2.9 .2zM525.8 114.1l-2.9-.5 1.5-1.7 3 .5zM528.8 114.8l-3-.7 1.6-1.7 2.9 .8zM531.7 115.8l-2.9-1 1.5-1.6 3 1.2zM534.7 117.2l-3-1.4 1.6-1.4 2.9 1.4z"/>
<path fill="#f9fd00" d="M537.7 118.8l-3-1.6 1.5-1.4 3 1.7zM540.6 120.8l-2.9-2 1.5-1.3 2.9 2.1z"/>
<path fill="#e3f700" d="M543.6 123l-3-2.2 1.5-1.2 3 2.3z"/>
<path fill="#cdf000" d="M546.6 125.5l-3-2.5 1.5-1.1 2.9 2.6z"/>
<path fill="#b3ec00" d="M549.5 128.3l-2.9-2.8 1.4-1 3 2.8z"/>
<path fill="#98e700" d="M552.5 131.2l-3-2.9 1.5-1 2.9 3z"/>
<path fill="#7ee300" d="M555.4 134.4l-2.9-3.2 1.4-.9 3 3.3z"/>
<path fill="#64df00" d="M558.4 137.8l-3-3.4 1.5-.8 2.9 3.4z"/>
<path fill="#32d000" d="M561.3 141.3l-2.9-3.5 1.4-.8 2.9 3.6z"/>
<path fill="#19c700" d="M564.3 145l-3-3.7 1.4-.7 3 3.7z"/>
<path fill="#00ae1d" d="M567.2 148.7l-2.9-3.7 1.4-.7 2.9 3.8z"/>
<path fill="#009e3b" d="M570.2 152.5l-3-3.8 1.4-.6 2.9 3.8z"/>
<path fill="#007c71" d="M573.1 156.2l-2.9-3.7 1.3-.6 2.9 3.8z"/>
<path fill="#006a88" d="M576 160l-2.9-3.8 1.3-.5 2.9 3.8z"/>
<path fill="#00579f" d="M579 163.6l-3-3.6 1.3-.5 2.9 3.6z"/>
<path fill="#0032cd" d="M581.9 167.2l-2.9-3.6 1.2-.5 3 3.6z"/>
<path fill="#001ce3" d="M584.8 170.5l-2.9-3.3 1.3-.5 2.9 3.3z"/>
<path fill="#0006f9" d="M587.8 173.6l-3-3.1 1.3-.5 2.9 3z"/>
<path fill="#0000ff" d="M590.8 176.4l-3-2.8 1.2-.6 3 2.8zM593.7 178.8l-2.9-2.4 1.2-.6 3 2.3z"/>
<path fill="#0000f2" d="M596.8 180.8l-3.1-2 1.3-.7 3 1.9z"/>
<path fill="#0000e6" d="M599.8 182.3l-3-1.5 1.2-.8 3 1.4zM602.9 183.2l-3.1-.9 1.2-.9 3.1 .8z"/>
<path fill="#0032cd" d="M471.6 148l-2.6 2.8 1.6-3.5 2.6-2.6z"/>
<path fill="#00579f" d="M474.2 145.2l-2.6 2.8 1.6-3.3 2.6-2.6z"/>
<path fill="#006a88" d="M476.8 142.4l-2.6 2.8 1.6-3.1 2.6-2.7z"/>
<path fill="#008e58" d="M479.4 139.7l-2.6 2.7 1.6-3 2.6-2.7z"/>
<path fill="#009e3b" d="M482 136.9l-2.6 2.8 1.6-3 2.6-2.6z"/>
<path fill="#00be00" d="M484.7 134.2l-2.7 2.7 1.6-2.8 2.7-2.6z"/>
<path fill="#19c700" d="M487.4 131.7l-2.7 2.5 1.6-2.7 2.7-2.4z"/>
<path fill="#32d000" d="M490.1 129.2l-2.7 2.5 1.6-2.6 2.7-2.4z"/>
<path fill="#64df00" d="M492.8 126.8l-2.7 2.4 1.6-2.5 2.7-2.3z"/>
<path fill="#7ee300" d="M495.6 124.7l-2.8 2.1 1.6-2.4 2.8-2.1z"/>
<path fill="#98e700" d="M498.3 122.7l-2.7 2 1.6-2.4 2.7-1.9z"/>
<path fill="#b3ec00" d="M501.2 120.9l-2.9 1.8 1.6-2.3 2.9-1.7z"/>
<path fill="#cdf000" d="M504 119.3l-2.8 1.6 1.6-2.2 2.8-1.5z"/>
<path fill="#e3f700" d="M506.8 117.9l-2.8 1.4 1.6-2.1 2.8-1.3zM509.7 116.8l-2.9 1.1 1.6-2 2.9-1z"/>
<path fill="#f9fd00" d="M512.6 116l-2.9 .8 1.6-1.9 2.9-.8z"/>
<path fill="#ffff00" d="M515.5 115.5l-2.9 .5 1.6-1.9 2.9-.4zM518.4 115.2l-2.9 .3 1.6-1.8 2.9-.2zM521.3 115.3l-2.9-.1 1.6-1.7 2.9 .1zM524.3 115.6l-3-.3 1.6-1.7 2.9 .5zM527.2 116.3l-2.9-.7 1.5-1.5 3 .7zM530.2 117.2l-3-.9 1.6-1.5 2.9 1zM533.2 118.5l-3-1.3 1.5-1.4 3 1.4z"/>
<path fill="#f9fd00" d="M536.1 120l-2.9-1.5 1.5-1.3 3 1.6zM539.1 121.9l-3-1.9 1.6-1.2 2.9 2z"/>
<path fill="#e3f700" d="M542.1 124.1l-3-2.2 1.5-1.1 3 2.2z"/>
<path fill="#cdf000" d="M545.1 126.5l-3-2.4 1.5-1.1 3 2.5z"/>
<path fill="#b3ec00" d="M548.1 129.1l-3-2.6 1.5-1 2.9 2.8z"/>
<path fill="#98e700" d="M551 132l-2.9-2.9 1.4-.8 3 2.9z"/>
<path fill="#7ee300" d="M554 135.2l-3-3.2 1.5-.8 2.9 3.2z"/>
<path fill="#64df00" d="M557 138.5l-3-3.3 1.4-.8 3 3.4z"/>
<path fill="#32d000" d="M560 141.9l-3-3.4 1.4-.7 2.9 3.5z"/>
<path fill="#19c700" d="M562.9 145.5l-2.9-3.6 1.3-.6 3 3.7z"/>
<path fill="#00be00" d="M565.9 149.2l-3-3.7 1.4-.5 2.9 3.7z"/>
<path fill="#009e3b" d="M568.8 152.9l-2.9-3.7 1.3-.5 3 3.8z"/>
<path fill="#008e58" d="M571.8 156.7l-3-3.8 1.4-.4 2.9 3.7z"/>
<path fill="#006a88" d="M574.7 160.4l-2.9-3.7 1.3-.5 2.9 3.8z"/>
<path fill="#00579f" d="M577.7 164.1l-3-3.7 1.3-.4 3 3.6z"/>
<path fill="#0045b6" d="M580.6 167.6l-2.9-3.5 1.3-.5 2.9 3.6z"/>
<path fill="#001ce3" d="M583.6 171l-3-3.4 1.3-.4 2.9 3.3z"/>
<path fill="#0006f9" d="M586.5 174.1l-2.9-3.1 1.2-.5 3 3.1z"/>
<path fill="#0000ff" d="M589.5 177l-3-2.9 1.3-.5 3 2.8zM592.5 179.5l-3-2.5 1.3-.6 2.9 2.4z"/>
<path fill="#0000f2" d="M595.5 181.6l-3-2.1 1.2-.7 3.1 2zM598.6 183.2l-3.1-1.6 1.3-.8 3 1.5z"/>
<path fill="#0000e6" d="M601.7 184.3l-3.1-1.1 1.2-.9 3.1 .9z"/>
<path fill="#001ce3" d="M470 151.1l-2.6 2.9 1.6-3.2 2.6-2.8z"/>
<path fill="#0045b6" d="M472.6 148.1l-2.6 3 1.6-3.1 2.6-2.8z"/>
<path fill="#00579f" d="M475.1 145.2l-2.5 2.9 1.6-2.9 2.6-2.8z"/>
<path fill="#007c71" d="M477.8 142.3l-2.7 2.9 1.7-2.8 2.6-2.7z"/>
<path fill="#008e58" d="M480.4 139.4l-2.6 2.9 1.6-2.6 2.6-2.8z"/>
<path fill="#00ae1d" d="M483.1 136.7l-2.7 2.7 1.6-2.5 2.7-2.7z"/>
<path fill="#00be00" d="M485.7 134l-2.6 2.7 1.6-2.5 2.7-2.5z"/>
<path fill="#32d000" d="M488.4 131.4l-2.7 2.6 1.7-2.3 2.7-2.5z"/>
<path fill="#4bd800" d="M491.2 129l-2.8 2.4 1.7-2.2 2.7-2.4z"/>
<path fill="#64df00" d="M493.9 126.8l-2.7 2.2 1.6-2.2 2.8-2.1z"/>
<path fill="#7ee300" d="M496.7 124.7l-2.8 2.1 1.7-2.1 2.7-2z"/>
<path fill="#b3ec00" d="M499.5 122.8l-2.8 1.9 1.6-2 2.9-1.8zM502.4 121.2l-2.9 1.6 1.7-1.9 2.8-1.6z"/>
<path fill="#cdf000" d="M505.2 119.8l-2.8 1.4 1.6-1.9 2.8-1.4z"/>
<path fill="#e3f700" d="M508.1 118.6l-2.9 1.2 1.6-1.9 2.9-1.1z"/>
<path fill="#f9fd00" d="M511 117.7l-2.9 .9 1.6-1.8 2.9-.8zM513.9 117.1l-2.9 .6 1.6-1.7 2.9-.5z"/>
<path fill="#ffff00" d="M516.8 116.8l-2.9 .3 1.6-1.6 2.9-.3zM519.8 116.8l-3 0 1.6-1.6 2.9 .1zM522.7 117l-2.9-.2 1.5-1.5 3 .3zM525.7 117.6l-3-.6 1.6-1.4 2.9 .7zM528.7 118.5l-3-.9 1.5-1.3 3 .9zM531.6 119.7l-2.9-1.2 1.5-1.3 3 1.3z"/>
<path fill="#f9fd00" d="M534.6 121.1l-3-1.4 1.6-1.2 2.9 1.5zM537.6 122.9l-3-1.8 1.5-1.1 3 1.9z"/>
<path fill="#e3f700" d="M540.6 125l-3-2.1 1.5-1 3 2.2z"/>
<path fill="#cdf000" d="M543.6 127.3l-3-2.3 1.5-.9 3 2.4z"/>
<path fill="#b3ec00" d="M546.6 129.9l-3-2.6 1.5-.8 3 2.6z"/>
<path fill="#98e700" d="M549.6 132.7l-3-2.8 1.5-.8 2.9 2.9z"/>
<path fill="#7ee300" d="M552.6 135.8l-3-3.1 1.4-.7 3 3.2z"/>
<path fill="#64df00" d="M555.6 139l-3-3.2 1.4-.6 3 3.3z"/>
<path fill="#4bd800" d="M558.5 142.4l-2.9-3.4 1.4-.5 3 3.4z"/>
<path fill="#19c700" d="M561.5 146l-3-3.6 1.5-.5 2.9 3.6z"/>
<path fill="#00be00" d="M564.5 149.6l-3-3.6 1.4-.5 3 3.7z"/>
<path fill="#00ae1d" d="M567.5 153.3l-3-3.7 1.4-.4 2.9 3.7z"/>
<path fill="#008e58" d="M570.4 157.1l-2.9-3.8 1.3-.4 3 3.8z"/>
<path fill="#007c71" d="M573.4 160.8l-3-3.7 1.4-.4 2.9 3.7z"/>
<path fill="#00579f" d="M576.4 164.5l-3-3.7 1.3-.4 3 3.7z"/>
<path fill="#0045b6" d="M579.3 168l-2.9-3.5 1.3-.4 2.9 3.5z"/>
<path fill="#0032cd" d="M582.3 171.4l-3-3.4 1.3-.4 3 3.4z"/>
<path fill="#0006f9" d="M585.3 174.6l-3-3.2 1.3-.4 2.9 3.1z"/>
<path fill="#0000ff" d="M588.3 177.6l-3-3 1.2-.5 3 2.9zM591.3 180.2l-3-2.6 1.2-.6 3 2.5z"/>
<path fill="#0000f2" d="M594.3 182.4l-3-2.2 1.2-.7 3 2.1zM597.4 184.2l-3.1-1.8 1.2-.8 3.1 1.6z"/>
<path fill="#0000e6" d="M600.4 185.4l-3-1.2 1.2-1 3.1 1.1z"/>
<path fill="#0006f9" d="M468.4 153.8l-2.6 3.2 1.6-3 2.6-2.9z"/>
<path fill="#0032cd" d="M470.9 150.7l-2.5 3.1 1.6-2.7 2.6-3z"/>
<path fill="#00579f" d="M473.5 147.6l-2.6 3.1 1.7-2.6 2.5-2.9z"/>
<path fill="#006a88" d="M476.1 144.6l-2.6 3 1.6-2.4 2.7-2.9z"/>
<path fill="#008e58" d="M478.7 141.6l-2.6 3 1.7-2.3 2.6-2.9z"/>
<path fill="#009e3b" d="M481.4 138.8l-2.7 2.8 1.7-2.2 2.7-2.7z"/>
<path fill="#00be00" d="M484.1 136l-2.7 2.8 1.7-2.1 2.6-2.7z"/>
<path fill="#19c700" d="M486.8 133.4l-2.7 2.6 1.6-2 2.7-2.6z"/>
<path fill="#4bd800" d="M489.5 130.9l-2.7 2.5 1.6-2 2.8-2.4z"/>
<path fill="#64df00" d="M492.3 128.6l-2.8 2.3 1.7-1.9 2.7-2.2z"/>
<path fill="#7ee300" d="M495.1 126.5l-2.8 2.1 1.6-1.8 2.8-2.1z"/>
<path fill="#98e700" d="M497.9 124.6l-2.8 1.9 1.6-1.8 2.8-1.9z"/>
<path fill="#b3ec00" d="M500.7 122.9l-2.8 1.7 1.6-1.8 2.9-1.6z"/>
<path fill="#cdf000" d="M503.6 121.4l-2.9 1.5 1.7-1.7 2.8-1.4z"/>
<path fill="#e3f700" d="M506.5 120.2l-2.9 1.2 1.6-1.6 2.9-1.2zM509.4 119.3l-2.9 .9 1.6-1.6 2.9-.9z"/>
<path fill="#f9fd00" d="M512.3 118.6l-2.9 .7 1.6-1.6 2.9-.6zM515.2 118.2l-2.9 .4 1.6-1.5 2.9-.3z"/>
<path fill="#ffff00" d="M518.2 118.1l-3 .1 1.6-1.4 3 0zM521.1 118.3l-2.9-.2 1.6-1.3 2.9 .2zM524.1 118.8l-3-.5 1.6-1.3 3 .6zM527.1 119.6l-3-.8 1.6-1.2 3 .9z"/>
<path fill="#f9fd00" d="M530.1 120.7l-3-1.1 1.6-1.1 2.9 1.2zM533.1 122.1l-3-1.4 1.5-1 3 1.4zM536.1 123.8l-3-1.7 1.5-1 3 1.8z"/>
<path fill="#e3f700" d="M539.1 125.8l-3-2 1.5-.9 3 2.1z"/>
<path fill="#cdf000" d="M542.1 128.1l-3-2.3 1.5-.8 3 2.3z"/>
<path fill="#b3ec00" d="M545.1 130.6l-3-2.5 1.5-.8 3 2.6z"/>
<path fill="#98e700" d="M548.1 133.3l-3-2.7 1.5-.7 3 2.8z"/>
<path fill="#7ee300" d="M551.1 136.3l-3-3 1.5-.6 3 3.1z"/>
<path fill="#64df00" d="M554.1 139.5l-3-3.2 1.5-.5 3 3.2z"/>
<path fill="#4bd800" d="M557.1 142.9l-3-3.4 1.5-.5 2.9 3.4z"/>
<path fill="#32d000" d="M560.1 146.3l-3-3.4 1.4-.5 3 3.6z"/>
<path fill="#00be00" d="M563.1 150l-3-3.7 1.4-.3 3 3.6z"/>
<path fill="#00ae1d" d="M566.1 153.6l-3-3.6 1.4-.4 3 3.7z"/>
<path fill="#009e3b" d="M569.1 157.4l-3-3.8 1.4-.3 2.9 3.8z"/>
<path fill="#007c71" d="M572.1 161.1l-3-3.7 1.3-.3 3 3.7z"/>
<path fill="#006a88" d="M575 164.8l-2.9-3.7 1.3-.3 3 3.7z"/>
<path fill="#0045b6" d="M578 168.4l-3-3.6 1.4-.3 2.9 3.5z"/>
<path fill="#0032cd" d="M581 171.9l-3-3.5 1.3-.4 3 3.4z"/>
<path fill="#001ce3" d="M584 175.1l-3-3.2 1.3-.5 3 3.2z"/>
<path fill="#0006f9" d="M587 178.2l-3-3.1 1.3-.5 3 3z"/>
<path fill="#0000ff" d="M590 180.9l-3-2.7 1.3-.6 3 2.6zM593 183.2l-3-2.3 1.3-.7 3 2.2z"/>
<path fill="#0000f2" d="M596.1 185.1l-3.1-1.9 1.3-.8 3.1 1.8zM599.2 186.5l-3.1-1.4 1.3-.9 3 1.2z"/>
<path fill="#0006f9" d="M466.7 156.3l-2.5 3.3 1.6-2.6 2.6-3.2z"/>
<path fill="#001ce3" d="M469.3 153l-2.6 3.3 1.7-2.5 2.5-3.1z"/>
<path fill="#0045b6" d="M471.8 149.7l-2.5 3.3 1.6-2.3 2.6-3.1z"/>
<path fill="#006a88" d="M474.4 146.6l-2.6 3.1 1.7-2.1 2.6-3z"/>
<path fill="#007c71" d="M477.1 143.5l-2.7 3.1 1.7-2 2.6-3z"/>
<path fill="#009e3b" d="M479.7 140.5l-2.6 3 1.6-1.9 2.7-2.8z"/>
<path fill="#00be00" d="M482.4 137.7l-2.7 2.8 1.7-1.7 2.7-2.8z"/>
<path fill="#19c700" d="M485.1 135l-2.7 2.7 1.7-1.7 2.7-2.6z"/>
<path fill="#32d000" d="M487.9 132.5l-2.8 2.5 1.7-1.6 2.7-2.5z"/>
<path fill="#64df00" d="M490.7 130.2l-2.8 2.3 1.6-1.6 2.8-2.3z"/>
<path fill="#7ee300" d="M493.4 128l-2.7 2.2 1.6-1.6 2.8-2.1z"/>
<path fill="#98e700" d="M496.3 126.1l-2.9 1.9 1.7-1.5 2.8-1.9z"/>
<path fill="#b3ec00" d="M499.1 124.3l-2.8 1.8 1.6-1.5 2.8-1.7z"/>
<path fill="#cdf000" d="M502 122.8l-2.9 1.5 1.6-1.4 2.9-1.5z"/>
<path fill="#e3f700" d="M504.9 121.6l-2.9 1.2 1.6-1.4 2.9-1.2zM507.8 120.6l-2.9 1 1.6-1.4 2.9-.9z"/>
<path fill="#f9fd00" d="M510.7 119.9l-2.9 .7 1.6-1.3 2.9-.7zM513.6 119.5l-2.9 .4 1.6-1.3 2.9-.4z"/>
<path fill="#ffff00" d="M516.6 119.3l-3 .2 1.6-1.3 3-.1zM519.6 119.5l-3-.2 1.6-1.2 2.9 .2zM522.5 119.9l-2.9-.4 1.5-1.2 3 .5zM525.5 120.6l-3-.7 1.6-1.1 3 .8z"/>
<path fill="#f9fd00" d="M528.5 121.7l-3-1.1 1.6-1 3 1.1zM531.5 123l-3-1.3 1.6-1 3 1.4zM534.6 124.6l-3.1-1.6 1.6-.9 3 1.7z"/>
<path fill="#e3f700" d="M537.6 126.6l-3-2 1.5-.8 3 2z"/>
<path fill="#cdf000" d="M540.6 128.7l-3-2.1 1.5-.8 3 2.3zM543.6 131.2l-3-2.5 1.5-.6 3 2.5z"/>
<path fill="#b3ec00" d="M546.7 133.9l-3.1-2.7 1.5-.6 3 2.7z"/>
<path fill="#98e700" d="M549.7 136.8l-3-2.9 1.4-.6 3 3z"/>
<path fill="#7ee300" d="M552.7 139.9l-3-3.1 1.4-.5 3 3.2z"/>
<path fill="#4bd800" d="M555.7 143.2l-3-3.3 1.4-.4 3 3.4z"/>
<path fill="#32d000" d="M558.7 146.7l-3-3.5 1.4-.3 3 3.4z"/>
<path fill="#19c700" d="M561.7 150.2l-3-3.5 1.4-.4 3 3.7z"/>
<path fill="#00ae1d" d="M564.7 153.9l-3-3.7 1.4-.2 3 3.6z"/>
<path fill="#009e3b" d="M567.7 157.6l-3-3.7 1.4-.3 3 3.8z"/>
<path fill="#008e58" d="M570.7 161.4l-3-3.8 1.4-.2 3 3.7z"/>
<path fill="#006a88" d="M573.7 165.1l-3-3.7 1.4-.3 2.9 3.7z"/>
<path fill="#00579f" d="M576.7 168.7l-3-3.6 1.3-.3 3 3.6z"/>
<path fill="#0032cd" d="M579.7 172.2l-3-3.5 1.3-.3 3 3.5z"/>
<path fill="#001ce3" d="M582.7 175.6l-3-3.4 1.3-.3 3 3.2z"/>
<path fill="#0006f9" d="M585.7 178.7l-3-3.1 1.3-.5 3 3.1z"/>
<path fill="#0000ff" d="M588.7 181.5l-3-2.8 1.3-.5 3 2.7zM591.8 184l-3.1-2.5 1.3-.6 3 2.3z"/>
<path fill="#0000f2" d="M594.8 186.1l-3-2.1 1.2-.8 3.1 1.9zM598 187.7l-3.2-1.6 1.3-1 3.1 1.4z"/>
<path fill="#0000ff" d="M465 158.4l-2.5 3.6 1.7-2.4 2.5-3.3z"/>
<path fill="#001ce3" d="M467.6 154.9l-2.6 3.5 1.7-2.1 2.6-3.3z"/>
<path fill="#0045b6" d="M470.2 151.5l-2.6 3.4 1.7-1.9 2.5-3.3z"/>
<path fill="#00579f" d="M472.8 148.2l-2.6 3.3 1.6-1.8 2.6-3.1z"/>
<path fill="#007c71" d="M475.4 145l-2.6 3.2 1.6-1.6 2.7-3.1z"/>
<path fill="#009e3b" d="M478.1 142l-2.7 3 1.7-1.5 2.6-3z"/>
<path fill="#00ae1d" d="M480.7 139.1l-2.6 2.9 1.6-1.5 2.7-2.8z"/>
<path fill="#19c700" d="M483.5 136.3l-2.8 2.8 1.7-1.4 2.7-2.7z"/>
<path fill="#32d000" d="M486.2 133.8l-2.7 2.5 1.6-1.3 2.8-2.5z"/>
<path fill="#4bd800" d="M489 131.4l-2.8 2.4 1.7-1.3 2.8-2.3z"/>
<path fill="#7ee300" d="M491.8 129.2l-2.8 2.2 1.7-1.2 2.7-2.2z"/>
<path fill="#98e700" d="M494.6 127.3l-2.8 1.9 1.6-1.2 2.9-1.9z"/>
<path fill="#b3ec00" d="M497.4 125.5l-2.8 1.8 1.7-1.2 2.8-1.8z"/>
<path fill="#cdf000" d="M500.3 124l-2.9 1.5 1.7-1.2 2.9-1.5z"/>
<path fill="#e3f700" d="M503.2 122.8l-2.9 1.2 1.7-1.2 2.9-1.2zM506.1 121.8l-2.9 1 1.7-1.2 2.9-1z"/>
<path fill="#f9fd00" d="M509 121l-2.9 .8 1.7-1.2 2.9-.7zM512 120.5l-3 .5 1.7-1.1 2.9-.4z"/>
<path fill="#ffff00" d="M515 120.4l-3 .1 1.6-1 3-.2zM517.9 120.5l-2.9-.1 1.6-1.1 3 .2zM520.9 120.9l-3-.4 1.7-1 2.9 .4zM523.9 121.5l-3-.6 1.6-1 3 .7zM527 122.5l-3.1-1 1.6-.9 3 1.1z"/>
<path fill="#f9fd00" d="M530 123.8l-3-1.3 1.5-.8 3 1.3zM533 125.4l-3-1.6 1.5-.8 3.1 1.6z"/>
<path fill="#e3f700" d="M536 127.2l-3-1.8 1.6-.8 3 2zM539.1 129.3l-3.1-2.1 1.6-.6 3 2.1z"/>
<path fill="#cdf000" d="M542.1 131.7l-3-2.4 1.5-.6 3 2.5z"/>
<path fill="#b3ec00" d="M545.2 134.3l-3.1-2.6 1.5-.5 3.1 2.7z"/>
<path fill="#98e700" d="M548.2 137.2l-3-2.9 1.5-.4 3 2.9z"/>
<path fill="#7ee300" d="M551.2 140.2l-3-3 1.5-.4 3 3.1z"/>
<path fill="#64df00" d="M554.3 143.5l-3.1-3.3 1.5-.3 3 3.3z"/>
<path fill="#32d000" d="M557.3 146.9l-3-3.4 1.4-.3 3 3.5z"/>
<path fill="#19c700" d="M560.3 150.5l-3-3.6 1.4-.2 3 3.5z"/>
<path fill="#00be00" d="M563.3 154.1l-3-3.6 1.4-.3 3 3.7z"/>
<path fill="#009e3b" d="M566.3 157.8l-3-3.7 1.4-.2 3 3.7z"/>
<path fill="#008e58" d="M569.3 161.6l-3-3.8 1.4-.2 3 3.8z"/>
<path fill="#007c71" d="M572.4 165.3l-3.1-3.7 1.4-.2 3 3.7z"/>
<path fill="#00579f" d="M575.4 169l-3-3.7 1.3-.2 3 3.6z"/>
<path fill="#0045b6" d="M578.4 172.6l-3-3.6 1.3-.3 3 3.5z"/>
<path fill="#0032cd" d="M581.4 176l-3-3.4 1.3-.4 3 3.4z"/>
<path fill="#0006f9" d="M584.4 179.2l-3-3.2 1.3-.4 3 3.1z"/>
<path fill="#0000ff" d="M587.5 182.2l-3.1-3 1.3-.5 3 2.8zM590.5 184.9l-3-2.7 1.2-.7 3.1 2.5zM593.6 187.1l-3.1-2.2 1.3-.9 3 2.1z"/>
<path fill="#0000f2" d="M596.7 188.9l-3.1-1.8 1.2-1 3.2 1.6z"/>
<path fill="#0000ff" d="M463.3 160.1l-2.5 3.9 1.7-2 2.5-3.6z"/>
<path fill="#001ce3" d="M465.9 156.4l-2.6 3.7 1.7-1.7 2.6-3.5z"/>
<path fill="#0045b6" d="M468.4 152.9l-2.5 3.5 1.7-1.5 2.6-3.4z"/>
<path fill="#00579f" d="M471 149.4l-2.6 3.5 1.8-1.4 2.6-3.3z"/>
<path fill="#007c71" d="M473.7 146.2l-2.7 3.2 1.8-1.2 2.6-3.2z"/>
<path fill="#009e3b" d="M476.3 143l-2.6 3.2 1.7-1.2 2.7-3z"/>
<path fill="#00ae1d" d="M479 140.1l-2.7 2.9 1.8-1 2.6-2.9z"/>
<path fill="#19c700" d="M481.8 137.3l-2.8 2.8 1.7-1 2.8-2.8z"/>
<path fill="#32d000" d="M484.5 134.7l-2.7 2.6 1.7-1 2.7-2.5z"/>
<path fill="#4bd800" d="M487.3 132.4l-2.8 2.3 1.7-.9 2.8-2.4z"/>
<path fill="#7ee300" d="M490.1 130.2l-2.8 2.2 1.7-1 2.8-2.2z"/>
<path fill="#98e700" d="M492.9 128.2l-2.8 2 1.7-1 2.8-1.9z"/>
<path fill="#b3ec00" d="M495.8 126.5l-2.9 1.7 1.7-.9 2.8-1.8z"/>
<path fill="#cdf000" d="M498.6 125l-2.8 1.5 1.6-1 2.9-1.5z"/>
<path fill="#e3f700" d="M501.5 123.7l-2.9 1.3 1.7-1 2.9-1.2zM504.5 122.7l-3 1 1.7-.9 2.9-1z"/>
<path fill="#f9fd00" d="M507.4 121.9l-2.9 .8 1.6-.9 2.9-.8zM510.4 121.4l-3 .5 1.6-.9 3-.5z"/>
<path fill="#ffff00" d="M513.3 121.2l-2.9 .2 1.6-.9 3-.1zM516.3 121.3l-3-.1 1.7-.8 2.9 .1zM519.3 121.7l-3-.4 1.6-.8 3 .4zM522.3 122.3l-3-.6 1.6-.8 3 .6zM525.4 123.3l-3.1-1 1.6-.8 3.1 1z"/>
<path fill="#f9fd00" d="M528.4 124.5l-3-1.2 1.6-.8 3 1.3zM531.5 126l-3.1-1.5 1.6-.7 3 1.6zM534.5 127.8l-3-1.8 1.5-.6 3 1.8z"/>
<path fill="#e3f700" d="M537.6 129.8l-3.1-2 1.5-.6 3.1 2.1z"/>
<path fill="#cdf000" d="M540.6 132.2l-3-2.4 1.5-.5 3 2.4z"/>
<path fill="#b3ec00" d="M543.7 134.7l-3.1-2.5 1.5-.5 3.1 2.6z"/>
<path fill="#98e700" d="M546.7 137.5l-3-2.8 1.5-.4 3 2.9z"/>
<path fill="#7ee300" d="M549.8 140.5l-3.1-3 1.5-.3 3 3z"/>
<path fill="#64df00" d="M552.8 143.7l-3-3.2 1.4-.3 3.1 3.3z"/>
<path fill="#4bd800" d="M555.8 147.1l-3-3.4 1.5-.2 3 3.4z"/>
<path fill="#32d000" d="M558.9 150.6l-3.1-3.5 1.5-.2 3 3.6z"/>
<path fill="#00be00" d="M561.9 154.3l-3-3.7 1.4-.1 3 3.6z"/>
<path fill="#00ae1d" d="M565 158l-3.1-3.7 1.4-.2 3 3.7z"/>
<path fill="#009e3b" d="M568 161.7l-3-3.7 1.3-.2 3 3.8z"/>
<path fill="#007c71" d="M571 165.5l-3-3.8 1.3-.1 3.1 3.7z"/>
<path fill="#006a88" d="M574 169.2l-3-3.7 1.4-.2 3 3.7z"/>
<path fill="#0045b6" d="M577.1 172.9l-3.1-3.7 1.4-.2 3 3.6z"/>
<path fill="#0032cd" d="M580.1 176.4l-3-3.5 1.3-.3 3 3.4z"/>
<path fill="#001ce3" d="M583.1 179.7l-3-3.3 1.3-.4 3 3.2z"/>
<path fill="#0006f9" d="M586.2 182.8l-3.1-3.1 1.3-.5 3.1 3z"/>
<path fill="#0000ff" d="M589.2 185.6l-3-2.8 1.3-.6 3 2.7zM592.3 188.1l-3.1-2.5 1.3-.7 3.1 2.2z"/>
<path fill="#0000f2" d="M595.4 190.1l-3.1-2 1.3-1 3.1 1.8z"/>
<path fill="#0000ff" d="M461.6 161.6l-2.5 4.1 1.7-1.7 2.5-3.9z"/>
<path fill="#0006f9" d="M464.1 157.6l-2.5 4 1.7-1.5 2.6-3.7z"/>
<path fill="#0032cd" d="M466.7 153.9l-2.6 3.7 1.8-1.2 2.5-3.5z"/>
<path fill="#00579f" d="M469.3 150.3l-2.6 3.6 1.7-1 2.6-3.5z"/>
<path fill="#007c71" d="M471.9 147l-2.6 3.3 1.7-.9 2.7-3.2z"/>
<path fill="#009e3b" d="M474.6 143.8l-2.7 3.2 1.8-.8 2.6-3.2z"/>
<path fill="#00ae1d" d="M477.3 140.8l-2.7 3 1.7-.8 2.7-2.9z"/>
<path fill="#19c700" d="M480 138l-2.7 2.8 1.7-.7 2.8-2.8z"/>
<path fill="#32d000" d="M482.8 135.4l-2.8 2.6 1.8-.7 2.7-2.6z"/>
<path fill="#64df00" d="M485.6 133l-2.8 2.4 1.7-.7 2.8-2.3z"/>
<path fill="#7ee300" d="M488.4 130.8l-2.8 2.2 1.7-.6 2.8-2.2z"/>
<path fill="#98e700" d="M491.2 128.9l-2.8 1.9 1.7-.6 2.8-2z"/>
<path fill="#b3ec00" d="M494.1 127.1l-2.9 1.8 1.7-.7 2.9-1.7z"/>
<path fill="#cdf000" d="M497 125.7l-2.9 1.4 1.7-.6 2.8-1.5z"/>
<path fill="#e3f700" d="M499.9 124.4l-2.9 1.3 1.6-.7 2.9-1.3zM502.8 123.4l-2.9 1 1.6-.7 3-1z"/>
<path fill="#f9fd00" d="M505.7 122.7l-2.9 .7 1.7-.7 2.9-.8zM508.7 122.2l-3 .5 1.7-.8 3-.5z"/>
<path fill="#ffff00" d="M511.7 122l-3 .2 1.7-.8 2.9-.2zM514.7 122l-3 0 1.6-.8 3 .1zM517.7 122.4l-3-.4 1.6-.7 3 .4zM520.7 123l-3-.6 1.6-.7 3 .6zM523.8 123.9l-3.1-.9 1.6-.7 3.1 1zM526.8 125.1l-3-1.2 1.6-.6 3 1.2z"/>
<path fill="#f9fd00" d="M529.9 126.6l-3.1-1.5 1.6-.6 3.1 1.5zM532.9 128.3l-3-1.7 1.6-.6 3 1.8z"/>
<path fill="#e3f700" d="M536 130.3l-3.1-2 1.6-.5 3.1 2z"/>
<path fill="#cdf000" d="M539.1 132.6l-3.1-2.3 1.6-.5 3 2.4zM542.1 135.1l-3-2.5 1.5-.4 3.1 2.5z"/>
<path fill="#b3ec00" d="M545.2 137.8l-3.1-2.7 1.6-.4 3 2.8z"/>
<path fill="#98e700" d="M548.3 140.8l-3.1-3 1.5-.3 3.1 3z"/>
<path fill="#7ee300" d="M551.3 143.9l-3-3.1 1.5-.3 3 3.2z"/>
<path fill="#4bd800" d="M554.4 147.3l-3.1-3.4 1.5-.2 3 3.4z"/>
<path fill="#32d000" d="M557.5 150.8l-3.1-3.5 1.4-.2 3.1 3.5z"/>
<path fill="#19c700" d="M560.5 154.4l-3-3.6 1.4-.2 3 3.7z"/>
<path fill="#00ae1d" d="M563.6 158.1l-3.1-3.7 1.4-.1 3.1 3.7z"/>
<path fill="#009e3b" d="M566.6 161.8l-3-3.7 1.4-.1 3 3.7z"/>
<path fill="#008e58" d="M569.6 165.6l-3-3.8 1.4-.1 3 3.8z"/>
<path fill="#006a88" d="M572.7 169.4l-3.1-3.8 1.4-.1 3 3.7z"/>
<path fill="#00579f" d="M575.7 173.1l-3-3.7 1.3-.2 3.1 3.7z"/>
<path fill="#0045b6" d="M578.8 176.7l-3.1-3.6 1.4-.2 3 3.5z"/>
<path fill="#001ce3" d="M581.8 180.2l-3-3.5 1.3-.3 3 3.3z"/>
<path fill="#0006f9" d="M584.9 183.4l-3.1-3.2 1.3-.5 3.1 3.1z"/>
<path fill="#0000ff" d="M587.9 186.4l-3-3 1.3-.6 3 2.8zM591 189.1l-3.1-2.7 1.3-.8 3.1 2.5z"/>
<path fill="#0000f2" d="M594.1 191.3l-3.1-2.2 1.3-1 3.1 2z"/>
<path fill="#0000ff" d="M459.8 162.6l-2.5 4.4 1.8-1.3 2.5-4.1z"/>
<path fill="#001ce3" d="M462.4 158.5l-2.6 4.1 1.8-1 2.5-4z"/>
<path fill="#0045b6" d="M464.9 154.6l-2.5 3.9 1.7-.9 2.6-3.7z"/>
<path fill="#006a88" d="M467.5 150.9l-2.6 3.7 1.8-.7 2.6-3.6z"/>
<path fill="#007c71" d="M470.2 147.5l-2.7 3.4 1.8-.6 2.6-3.3z"/>
<path fill="#009e3b" d="M472.8 144.2l-2.6 3.3 1.7-.5 2.7-3.2z"/>
<path fill="#00be00" d="M475.5 141.2l-2.7 3 1.8-.4 2.7-3z"/>
<path fill="#19c700" d="M478.3 138.4l-2.8 2.8 1.8-.4 2.7-2.8z"/>
<path fill="#4bd800" d="M481 135.8l-2.7 2.6 1.7-.4 2.8-2.6z"/>
<path fill="#64df00" d="M483.8 133.4l-2.8 2.4 1.8-.4 2.8-2.4z"/>
<path fill="#7ee300" d="M486.6 131.2l-2.8 2.2 1.8-.4 2.8-2.2z"/>
<path fill="#98e700" d="M489.5 129.3l-2.9 1.9 1.8-.4 2.8-1.9z"/>
<path fill="#b3ec00" d="M492.3 127.6l-2.8 1.7 1.7-.4 2.9-1.8z"/>
<path fill="#cdf000" d="M495.2 126.1l-2.9 1.5 1.8-.5 2.9-1.4z"/>
<path fill="#e3f700" d="M498.2 124.9l-3 1.2 1.8-.4 2.9-1.3z"/>
<path fill="#f9fd00" d="M501.1 124l-2.9 .9 1.7-.5 2.9-1zM504.1 123.2l-3 .8 1.7-.6 2.9-.7z"/>
<path fill="#ffff00" d="M507 122.8l-2.9 .4 1.6-.5 3-.5zM510 122.6l-3 .2 1.7-.6 3-.2zM513 122.7l-3-.1 1.7-.6 3 0zM516.1 123l-3.1-.3 1.7-.7 3 .4zM519.1 123.6l-3-.6 1.6-.6 3 .6zM522.2 124.5l-3.1-.9 1.6-.6 3.1 .9zM525.2 125.7l-3-1.2 1.6-.6 3 1.2z"/>
<path fill="#f9fd00" d="M528.3 127.1l-3.1-1.4 1.6-.6 3.1 1.5zM531.4 128.8l-3.1-1.7 1.6-.5 3 1.7z"/>
<path fill="#e3f700" d="M534.4 130.7l-3-1.9 1.5-.5 3.1 2zM537.5 133l-3.1-2.3 1.6-.4 3.1 2.3z"/>
<path fill="#cdf000" d="M540.6 135.4l-3.1-2.4 1.6-.4 3 2.5z"/>
<path fill="#b3ec00" d="M543.7 138.1l-3.1-2.7 1.5-.3 3.1 2.7z"/>
<path fill="#98e700" d="M546.8 141l-3.1-2.9 1.5-.3 3.1 3z"/>
<path fill="#7ee300" d="M549.9 144.1l-3.1-3.1 1.5-.2 3 3.1z"/>
<path fill="#64df00" d="M552.9 147.4l-3-3.3 1.4-.2 3.1 3.4z"/>
<path fill="#4bd800" d="M556 150.8l-3.1-3.4 1.5-.1 3.1 3.5z"/>
<path fill="#19c700" d="M559.1 154.4l-3.1-3.6 1.5 0 3 3.6z"/>
<path fill="#00be00" d="M562.1 158.1l-3-3.7 1.4 0 3.1 3.7z"/>
<path fill="#00ae1d" d="M565.2 161.9l-3.1-3.8 1.5 0 3 3.7z"/>
<path fill="#008e58" d="M568.3 165.7l-3.1-3.8 1.4-.1 3 3.8z"/>
<path fill="#007c71" d="M571.3 169.5l-3-3.8 1.3-.1 3.1 3.8z"/>
<path fill="#00579f" d="M574.4 173.3l-3.1-3.8 1.4-.1 3 3.7z"/>
<path fill="#0045b6" d="M577.4 177l-3-3.7 1.3-.2 3.1 3.6z"/>
<path fill="#0032cd" d="M580.5 180.5l-3.1-3.5 1.4-.3 3 3.5z"/>
<path fill="#0006f9" d="M583.5 184l-3-3.5 1.3-.3 3.1 3.2z"/>
<path fill="#0000ff" d="M586.6 187.1l-3.1-3.1 1.4-.6 3 3zM589.7 190l-3.1-2.9 1.3-.7 3.1 2.7z"/>
<path fill="#0000f2" d="M592.8 192.6l-3.1-2.6 1.3-.9 3.1 2.2z"/>
<path fill="#0000ff" d="M458 163.4l-2.4 4.5 1.7-.9 2.5-4.4z"/>
<path fill="#001ce3" d="M460.6 159.1l-2.6 4.3 1.8-.8 2.6-4.1z"/>
<path fill="#0045b6" d="M463.1 155l-2.5 4.1 1.8-.6 2.5-3.9z"/>
<path fill="#006a88" d="M465.7 151.2l-2.6 3.8 1.8-.4 2.6-3.7z"/>
<path fill="#008e58" d="M468.4 147.7l-2.7 3.5 1.8-.3 2.7-3.4z"/>
<path fill="#009e3b" d="M471 144.4l-2.6 3.3 1.8-.2 2.6-3.3z"/>
<path fill="#00be00" d="M473.7 141.3l-2.7 3.1 1.8-.2 2.7-3z"/>
<path fill="#32d000" d="M476.5 138.5l-2.8 2.8 1.8-.1 2.8-2.8z"/>
<path fill="#4bd800" d="M479.3 135.9l-2.8 2.6 1.8-.1 2.7-2.6z"/>
<path fill="#64df00" d="M482 133.5l-2.7 2.4 1.7-.1 2.8-2.4z"/>
<path fill="#98e700" d="M484.9 131.4l-2.9 2.1 1.8-.1 2.8-2.2z"/>
<path fill="#b3ec00" d="M487.7 129.5l-2.8 1.9 1.7-.2 2.9-1.9z"/>
<path fill="#cdf000" d="M490.6 127.9l-2.9 1.6 1.8-.2 2.8-1.7zM493.5 126.4l-2.9 1.5 1.7-.3 2.9-1.5z"/>
<path fill="#e3f700" d="M496.4 125.3l-2.9 1.1 1.7-.3 3-1.2z"/>
<path fill="#f9fd00" d="M499.4 124.3l-3 1 1.8-.4 2.9-.9zM502.4 123.7l-3 .6 1.7-.3 3-.8z"/>
<path fill="#ffff00" d="M505.3 123.2l-2.9 .5 1.7-.5 2.9-.4zM508.4 123.1l-3.1 .1 1.7-.4 3-.2zM511.4 123.2l-3-.1 1.6-.5 3 .1zM514.4 123.5l-3-.3 1.6-.5 3.1 .3zM517.5 124.1l-3.1-.6 1.7-.5 3 .6zM520.5 125l-3-.9 1.6-.5 3.1 .9zM523.6 126.2l-3.1-1.2 1.7-.5 3 1.2zM526.7 127.6l-3.1-1.4 1.6-.5 3.1 1.4z"/>
<path fill="#f9fd00" d="M529.8 129.2l-3.1-1.6 1.6-.5 3.1 1.7zM532.9 131.1l-3.1-1.9 1.6-.4 3 1.9z"/>
<path fill="#e3f700" d="M536 133.3l-3.1-2.2 1.5-.4 3.1 2.3z"/>
<path fill="#cdf000" d="M539.1 135.7l-3.1-2.4 1.5-.3 3.1 2.4z"/>
<path fill="#b3ec00" d="M542.2 138.3l-3.1-2.6 1.5-.3 3.1 2.7z"/>
<path fill="#98e700" d="M545.3 141.2l-3.1-2.9 1.5-.2 3.1 2.9z"/>
<path fill="#7ee300" d="M548.4 144.2l-3.1-3 1.5-.2 3.1 3.1z"/>
<path fill="#64df00" d="M551.4 147.5l-3-3.3 1.5-.1 3 3.3z"/>
<path fill="#4bd800" d="M554.5 150.9l-3.1-3.4 1.5-.1 3.1 3.4z"/>
<path fill="#32d000" d="M557.6 154.4l-3.1-3.5 1.5-.1 3.1 3.6z"/>
<path fill="#19c700" d="M560.7 158.1l-3.1-3.7 1.5 0 3 3.7z"/>
<path fill="#00ae1d" d="M563.8 161.8l-3.1-3.7 1.4 0 3.1 3.8z"/>
<path fill="#009e3b" d="M566.9 165.7l-3.1-3.9 1.4 .1 3.1 3.8z"/>
<path fill="#007c71" d="M569.9 169.5l-3-3.8 1.4 0 3 3.8z"/>
<path fill="#006a88" d="M573 173.3l-3.1-3.8 1.4 0 3.1 3.8z"/>
<path fill="#00579f" d="M576.1 177.1l-3.1-3.8 1.4 0 3 3.7z"/>
<path fill="#0032cd" d="M579.1 180.8l-3-3.7 1.3-.1 3.1 3.5z"/>
<path fill="#001ce3" d="M582.2 184.4l-3.1-3.6 1.4-.3 3 3.5z"/>
<path fill="#0006f9" d="M585.3 187.8l-3.1-3.4 1.3-.4 3.1 3.1z"/>
<path fill="#0000ff" d="M588.4 190.9l-3.1-3.1 1.3-.7 3.1 2.9zM591.5 193.8l-3.1-2.9 1.3-.9 3.1 2.6zM456.2 163.8l-2.4 4.8 1.8-.7 2.4-4.5z"/>
<path fill="#001ce3" d="M458.7 159.3l-2.5 4.5 1.8-.4 2.6-4.3z"/>
<path fill="#0045b6" d="M461.3 155.2l-2.6 4.1 1.9-.2 2.5-4.1z"/>
<path fill="#006a88" d="M463.9 151.3l-2.6 3.9 1.8-.2 2.6-3.8z"/>
<path fill="#008e58" d="M466.5 147.7l-2.6 3.6 1.8-.1 2.7-3.5z"/>
<path fill="#00ae1d" d="M469.2 144.3l-2.7 3.4 1.9 0 2.6-3.3z"/>
<path fill="#19c700" d="M471.9 141.2l-2.7 3.1 1.8 .1 2.7-3.1z"/>
<path fill="#32d000" d="M474.7 138.4l-2.8 2.8 1.8 .1 2.8-2.8z"/>
<path fill="#64df00" d="M477.5 135.8l-2.8 2.6 1.8 .1 2.8-2.6z"/>
<path fill="#7ee300" d="M480.3 133.5l-2.8 2.3 1.8 .1 2.7-2.4z"/>
<path fill="#98e700" d="M483.1 131.4l-2.8 2.1 1.7 0 2.9-2.1z"/>
<path fill="#b3ec00" d="M486 129.5l-2.9 1.9 1.8 0 2.8-1.9z"/>
<path fill="#cdf000" d="M488.8 127.9l-2.8 1.6 1.7 0 2.9-1.6z"/>
<path fill="#e3f700" d="M491.8 126.6l-3 1.3 1.8 0 2.9-1.5z"/>
<path fill="#f9fd00" d="M494.7 125.5l-2.9 1.1 1.7-.2 2.9-1.1zM497.7 124.6l-3 .9 1.7-.2 3-1z"/>
<path fill="#ffff00" d="M500.6 124l-2.9 .6 1.7-.3 3-.6zM503.6 123.6l-3 .4 1.8-.3 2.9-.5zM506.7 123.5l-3.1 .1 1.7-.4 3.1-.1zM509.7 123.6l-3-.1 1.7-.4 3 .1zM512.7 124l-3-.4 1.7-.4 3 .3zM515.8 124.6l-3.1-.6 1.7-.5 3.1 .6zM518.9 125.5l-3.1-.9 1.7-.5 3 .9zM522 126.6l-3.1-1.1 1.6-.5 3.1 1.2zM525.1 128l-3.1-1.4 1.6-.4 3.1 1.4zM528.2 129.7l-3.1-1.7 1.6-.4 3.1 1.6z"/>
<path fill="#f9fd00" d="M531.3 131.5l-3.1-1.8 1.6-.5 3.1 1.9z"/>
<path fill="#e3f700" d="M534.4 133.7l-3.1-2.2 1.6-.4 3.1 2.2zM537.5 136l-3.1-2.3 1.6-.4 3.1 2.4z"/>
<path fill="#cdf000" d="M540.6 138.6l-3.1-2.6 1.6-.3 3.1 2.6z"/>
<path fill="#b3ec00" d="M543.7 141.4l-3.1-2.8 1.6-.3 3.1 2.9z"/>
<path fill="#98e700" d="M546.8 144.4l-3.1-3 1.6-.2 3.1 3z"/>
<path fill="#7ee300" d="M550 147.5l-3.2-3.1 1.6-.2 3 3.3z"/>
<path fill="#64df00" d="M553.1 150.9l-3.1-3.4 1.4 0 3.1 3.4z"/>
<path fill="#32d000" d="M556.2 154.4l-3.1-3.5 1.4 0 3.1 3.5z"/>
<path fill="#19c700" d="M559.3 158l-3.1-3.6 1.4 0 3.1 3.7z"/>
<path fill="#00be00" d="M562.4 161.8l-3.1-3.8 1.4 .1 3.1 3.7z"/>
<path fill="#009e3b" d="M565.5 165.6l-3.1-3.8 1.4 0 3.1 3.9z"/>
<path fill="#008e58" d="M568.5 169.4l-3-3.8 1.4 .1 3 3.8z"/>
<path fill="#007c71" d="M571.6 173.3l-3.1-3.9 1.4 .1 3.1 3.8z"/>
<path fill="#00579f" d="M574.7 177.2l-3.1-3.9 1.4 0 3.1 3.8z"/>
<path fill="#0045b6" d="M577.8 181l-3.1-3.8 1.4-.1 3 3.7z"/>
<path fill="#001ce3" d="M580.9 184.8l-3.1-3.8 1.3-.2 3.1 3.6z"/>
<path fill="#0006f9" d="M584 188.4l-3.1-3.6 1.3-.4 3.1 3.4z"/>
<path fill="#0000ff" d="M587.1 191.8l-3.1-3.4 1.3-.6 3.1 3.1zM590.2 195l-3.1-3.2 1.3-.9 3.1 2.9zM454.4 163.9l-2.5 5 1.9-.3 2.4-4.8z"/>
<path fill="#0032cd" d="M456.9 159.3l-2.5 4.6 1.8-.1 2.5-4.5z"/>
<path fill="#00579f" d="M459.4 155l-2.5 4.3 1.8 0 2.6-4.1z"/>
<path fill="#007c71" d="M462.1 151.1l-2.7 3.9 1.9 .2 2.6-3.9z"/>
<path fill="#009e3b" d="M464.7 147.4l-2.6 3.7 1.8 .2 2.6-3.6z"/>
<path fill="#00be00" d="M467.4 144l-2.7 3.4 1.8 .3 2.7-3.4z"/>
<path fill="#19c700" d="M470.1 140.9l-2.7 3.1 1.8 .3 2.7-3.1z"/>
<path fill="#4bd800" d="M472.8 138.1l-2.7 2.8 1.8 .3 2.8-2.8z"/>
<path fill="#64df00" d="M475.6 135.5l-2.8 2.6 1.9 .3 2.8-2.6z"/>
<path fill="#7ee300" d="M478.4 133.2l-2.8 2.3 1.9 .3 2.8-2.3z"/>
<path fill="#b3ec00" d="M481.3 131.2l-2.9 2 1.9 .3 2.8-2.1z"/>
<path fill="#cdf000" d="M484.2 129.4l-2.9 1.8 1.8 .2 2.9-1.9z"/>
<path fill="#e3f700" d="M487.1 127.9l-2.9 1.5 1.8 .1 2.8-1.6zM490 126.6l-2.9 1.3 1.7 0 3-1.3z"/>
<path fill="#f9fd00" d="M492.9 125.5l-2.9 1.1 1.8 0 2.9-1.1z"/>
<path fill="#ffff00" d="M495.9 124.7l-3 .8 1.8 0 3-.9zM498.9 124.2l-3 .5 1.8-.1 2.9-.6zM501.9 123.9l-3 .3 1.7-.2 3-.4zM504.9 123.8l-3 .1 1.7-.3 3.1-.1zM508 124l-3.1-.2 1.8-.3 3 .1zM511.1 124.4l-3.1-.4 1.7-.4 3 .4zM514.1 125l-3-.6 1.6-.4 3.1 .6zM517.2 125.9l-3.1-.9 1.7-.4 3.1 .9zM520.3 127.1l-3.1-1.2 1.7-.4 3.1 1.1zM523.4 128.5l-3.1-1.4 1.7-.5 3.1 1.4zM526.5 130.1l-3.1-1.6 1.7-.5 3.1 1.7z"/>
<path fill="#f9fd00" d="M529.7 131.9l-3.2-1.8 1.7-.4 3.1 1.8zM532.8 134l-3.1-2.1 1.6-.4 3.1 2.2z"/>
<path fill="#e3f700" d="M535.9 136.3l-3.1-2.3 1.6-.3 3.1 2.3z"/>
<path fill="#cdf000" d="M539 138.8l-3.1-2.5 1.6-.3 3.1 2.6z"/>
<path fill="#b3ec00" d="M542.2 141.6l-3.2-2.8 1.6-.2 3.1 2.8z"/>
<path fill="#98e700" d="M545.3 144.5l-3.1-2.9 1.5-.2 3.1 3z"/>
<path fill="#7ee300" d="M548.4 147.6l-3.1-3.1 1.5-.1 3.2 3.1z"/>
<path fill="#64df00" d="M551.6 150.9l-3.2-3.3 1.6-.1 3.1 3.4z"/>
<path fill="#4bd800" d="M554.7 154.3l-3.1-3.4 1.5 0 3.1 3.5z"/>
<path fill="#32d000" d="M557.8 157.9l-3.1-3.6 1.5 .1 3.1 3.6z"/>
<path fill="#00be00" d="M560.9 161.6l-3.1-3.7 1.5 .1 3.1 3.8z"/>
<path fill="#00ae1d" d="M564 165.4l-3.1-3.8 1.5 .2 3.1 3.8z"/>
<path fill="#009e3b" d="M567.1 169.3l-3.1-3.9 1.5 .2 3 3.8z"/>
<path fill="#007c71" d="M570.3 173.2l-3.2-3.9 1.4 .1 3.1 3.9z"/>
<path fill="#006a88" d="M573.4 177.2l-3.1-4 1.3 .1 3.1 3.9z"/>
<path fill="#0045b6" d="M576.4 181.1l-3-3.9 1.3 0 3.1 3.8z"/>
<path fill="#0032cd" d="M579.5 185.1l-3.1-4 1.4-.1 3.1 3.8z"/>
<path fill="#0006f9" d="M582.6 188.9l-3.1-3.8 1.4-.3 3.1 3.6z"/>
<path fill="#0000ff" d="M585.7 192.7l-3.1-3.8 1.4-.5 3.1 3.4zM588.8 196.3l-3.1-3.6 1.4-.9 3.1 3.2z"/>
<path fill="#0006f9" d="M452.5 163.8l-2.5 5.1 1.9 0 2.5-5z"/>
<path fill="#0032cd" d="M455 159.1l-2.5 4.7 1.9 .1 2.5-4.6z"/>
<path fill="#00579f" d="M457.6 154.7l-2.6 4.4 1.9 .2 2.5-4.3z"/>
<path fill="#008e58" d="M460.2 150.7l-2.6 4 1.8 .3 2.7-3.9z"/>
<path fill="#009e3b" d="M462.8 147l-2.6 3.7 1.9 .4 2.6-3.7z"/>
<path fill="#00be00" d="M465.5 143.6l-2.7 3.4 1.9 .4 2.7-3.4z"/>
<path fill="#32d000" d="M468.2 140.5l-2.7 3.1 1.9 .4 2.7-3.1z"/>
<path fill="#4bd800" d="M471 137.7l-2.8 2.8 1.9 .4 2.7-2.8z"/>
<path fill="#7ee300" d="M473.8 135.1l-2.8 2.6 1.8 .4 2.8-2.6z"/>
<path fill="#98e700" d="M476.6 132.9l-2.8 2.2 1.8 .4 2.8-2.3z"/>
<path fill="#b3ec00" d="M479.5 130.9l-2.9 2 1.8 .3 2.9-2z"/>
<path fill="#cdf000" d="M482.3 129.2l-2.8 1.7 1.8 .3 2.9-1.8z"/>
<path fill="#e3f700" d="M485.3 127.7l-3 1.5 1.9 .2 2.9-1.5z"/>
<path fill="#f9fd00" d="M488.2 126.5l-2.9 1.2 1.8 .2 2.9-1.3z"/>
<path fill="#ffff00" d="M491.2 125.5l-3 1 1.8 .1 2.9-1.1zM494.1 124.8l-2.9 .7 1.7 0 3-.8zM497.1 124.3l-3 .5 1.8-.1 3-.5zM500.2 124.1l-3.1 .2 1.8-.1 3-.3zM503.2 124.1l-3 0 1.7-.2 3-.1zM506.3 124.3l-3.1-.2 1.7-.3 3.1 .2zM509.3 124.8l-3-.5 1.7-.3 3.1 .4zM512.4 125.5l-3.1-.7 1.8-.4 3 .6zM515.5 126.4l-3.1-.9 1.7-.5 3.1 .9zM518.6 127.5l-3.1-1.1 1.7-.5 3.1 1.2zM521.8 128.9l-3.2-1.4 1.7-.4 3.1 1.4zM524.9 130.5l-3.1-1.6 1.6-.4 3.1 1.6zM528 132.3l-3.1-1.8 1.6-.4 3.2 1.8z"/>
<path fill="#f9fd00" d="M531.2 134.4l-3.2-2.1 1.7-.4 3.1 2.1z"/>
<path fill="#e3f700" d="M534.3 136.6l-3.1-2.2 1.6-.4 3.1 2.3zM537.5 139.1l-3.2-2.5 1.6-.3 3.1 2.5z"/>
<path fill="#cdf000" d="M540.6 141.7l-3.1-2.6 1.5-.3 3.2 2.8z"/>
<path fill="#b3ec00" d="M543.8 144.6l-3.2-2.9 1.6-.1 3.1 2.9z"/>
<path fill="#98e700" d="M546.9 147.6l-3.1-3 1.5-.1 3.1 3.1z"/>
<path fill="#7ee300" d="M550.1 150.8l-3.2-3.2 1.5 0 3.2 3.3z"/>
<path fill="#64df00" d="M553.2 154.2l-3.1-3.4 1.5 .1 3.1 3.4z"/>
<path fill="#32d000" d="M556.3 157.7l-3.1-3.5 1.5 .1 3.1 3.6z"/>
<path fill="#19c700" d="M559.5 161.4l-3.2-3.7 1.5 .2 3.1 3.7z"/>
<path fill="#00be00" d="M562.6 165.1l-3.1-3.7 1.4 .2 3.1 3.8z"/>
<path fill="#009e3b" d="M565.7 169l-3.1-3.9 1.4 .3 3.1 3.9z"/>
<path fill="#008e58" d="M568.9 173l-3.2-4 1.4 .3 3.2 3.9z"/>
<path fill="#006a88" d="M572 177l-3.1-4 1.4 .2 3.1 4z"/>
<path fill="#00579f" d="M575.1 181.1l-3.1-4.1 1.4 .2 3 3.9z"/>
<path fill="#0032cd" d="M578.2 185.3l-3.1-4.2 1.3 0 3.1 4z"/>
<path fill="#001ce3" d="M581.3 189.4l-3.1-4.1 1.3-.2 3.1 3.8z"/>
<path fill="#0000ff" d="M584.4 193.5l-3.1-4.1 1.3-.5 3.1 3.8zM587.5 197.5l-3.1-4 1.3-.8 3.1 3.6z"/>
<path fill="#0006f9" d="M450.6 163.5l-2.5 5.1 1.9 .3 2.5-5.1z"/>
<path fill="#0045b6" d="M453.1 158.7l-2.5 4.8 1.9 .3 2.5-4.7z"/>
<path fill="#006a88" d="M455.6 154.2l-2.5 4.5 1.9 .4 2.6-4.4z"/>
<path fill="#008e58" d="M458.3 150.2l-2.7 4 2 .5 2.6-4z"/>
<path fill="#00ae1d" d="M460.9 146.4l-2.6 3.8 1.9 .5 2.6-3.7z"/>
<path fill="#19c700" d="M463.6 143l-2.7 3.4 1.9 .6 2.7-3.4z"/>
<path fill="#4bd800" d="M466.3 139.9l-2.7 3.1 1.9 .6 2.7-3.1z"/>
<path fill="#64df00" d="M469.1 137.1l-2.8 2.8 1.9 .6 2.8-2.8z"/>
<path fill="#7ee300" d="M471.9 134.6l-2.8 2.5 1.9 .6 2.8-2.6z"/>
<path fill="#b3ec00" d="M474.7 132.4l-2.8 2.2 1.9 .5 2.8-2.2z"/>
<path fill="#cdf000" d="M477.6 130.5l-2.9 1.9 1.9 .5 2.9-2z"/>
<path fill="#e3f700" d="M480.5 128.8l-2.9 1.7 1.9 .4 2.8-1.7z"/>
<path fill="#f9fd00" d="M483.4 127.5l-2.9 1.3 1.8 .4 3-1.5zM486.4 126.3l-3 1.2 1.9 .2 2.9-1.2z"/>
<path fill="#ffff00" d="M489.4 125.4l-3 .9 1.8 .2 3-1zM492.4 124.8l-3 .6 1.8 .1 2.9-.7zM495.4 124.4l-3 .4 1.7 0 3-.5zM498.4 124.2l-3 .2 1.7-.1 3.1-.2z"/>
<path fill="#ffef00" d="M501.5 124.3l-3.1-.1 1.8-.1 3 0zM504.5 124.6l-3-.3 1.7-.2 3.1 .2zM507.6 125.1l-3.1-.5 1.8-.3 3 .5zM510.7 125.9l-3.1-.8 1.7-.3 3.1 .7zM513.8 126.8l-3.1-.9 1.7-.4 3.1 .9z"/>
<path fill="#ffff00" d="M517 128l-3.2-1.2 1.7-.4 3.1 1.1zM520.1 129.4l-3.1-1.4 1.6-.5 3.2 1.4zM523.2 131l-3.1-1.6 1.7-.5 3.1 1.6zM526.4 132.8l-3.2-1.8 1.7-.5 3.1 1.8z"/>
<path fill="#f9fd00" d="M529.5 134.8l-3.1-2 1.6-.5 3.2 2.1zM532.7 137l-3.2-2.2 1.7-.4 3.1 2.2z"/>
<path fill="#e3f700" d="M535.9 139.4l-3.2-2.4 1.6-.4 3.2 2.5z"/>
<path fill="#cdf000" d="M539 141.9l-3.1-2.5 1.6-.3 3.1 2.6z"/>
<path fill="#b3ec00" d="M542.2 144.7l-3.2-2.8 1.6-.2 3.2 2.9z"/>
<path fill="#98e700" d="M545.4 147.6l-3.2-2.9 1.6-.1 3.1 3z"/>
<path fill="#7ee300" d="M548.5 150.7l-3.1-3.1 1.5 0 3.2 3.2z"/>
<path fill="#64df00" d="M551.7 154l-3.2-3.3 1.6 .1 3.1 3.4z"/>
<path fill="#4bd800" d="M554.9 157.5l-3.2-3.5 1.5 .2 3.1 3.5z"/>
<path fill="#32d000" d="M558 161.1l-3.1-3.6 1.4 .2 3.2 3.7z"/>
<path fill="#00be00" d="M561.2 164.8l-3.2-3.7 1.5 .3 3.1 3.7z"/>
<path fill="#00ae1d" d="M564.3 168.7l-3.1-3.9 1.4 .3 3.1 3.9z"/>
<path fill="#009e3b" d="M567.4 172.7l-3.1-4 1.4 .3 3.2 4z"/>
<path fill="#007c71" d="M570.6 176.8l-3.2-4.1 1.5 .3 3.1 4z"/>
<path fill="#006a88" d="M573.7 181l-3.1-4.2 1.4 .2 3.1 4.1z"/>
<path fill="#0045b6" d="M576.8 185.3l-3.1-4.3 1.4 .1 3.1 4.2z"/>
<path fill="#001ce3" d="M579.9 189.7l-3.1-4.4 1.4 0 3.1 4.1z"/>
<path fill="#0006f9" d="M583 194.2l-3.1-4.5 1.4-.3 3.1 4.1z"/>
<path fill="#0000ff" d="M586.1 198.7l-3.1-4.5 1.4-.7 3.1 4z"/>
<path fill="#001ce3" d="M448.6 162.9l-2.4 5.2 1.9 .5 2.5-5.1z"/>
<path fill="#00579f" d="M451.1 158.1l-2.5 4.8 2 .6 2.5-4.8z"/>
<path fill="#007c71" d="M453.7 153.6l-2.6 4.5 2 .6 2.5-4.5z"/>
<path fill="#009e3b" d="M456.3 149.5l-2.6 4.1 1.9 .6 2.7-4z"/>
<path fill="#00be00" d="M459 145.8l-2.7 3.7 2 .7 2.6-3.8z"/>
<path fill="#32d000" d="M461.7 142.3l-2.7 3.5 1.9 .6 2.7-3.4z"/>
<path fill="#4bd800" d="M464.4 139.3l-2.7 3 1.9 .7 2.7-3.1z"/>
<path fill="#7ee300" d="M467.2 136.5l-2.8 2.8 1.9 .6 2.8-2.8z"/>
<path fill="#98e700" d="M470 134.1l-2.8 2.4 1.9 .6 2.8-2.5z"/>
<path fill="#b3ec00" d="M472.9 131.9l-2.9 2.2 1.9 .5 2.8-2.2z"/>
<path fill="#e3f700" d="M475.7 130l-2.8 1.9 1.8 .5 2.9-1.9zM478.7 128.5l-3 1.5 1.9 .5 2.9-1.7z"/>
<path fill="#f9fd00" d="M481.6 127.2l-2.9 1.3 1.8 .3 2.9-1.3z"/>
<path fill="#ffff00" d="M484.5 126.1l-2.9 1.1 1.8 .3 3-1.2zM487.5 125.3l-3 .8 1.9 .2 3-.9zM490.5 124.8l-3 .5 1.9 .1 3-.6zM493.6 124.5l-3.1 .3 1.9 0 3-.4z"/>
<path fill="#ffef00" d="M496.6 124.4l-3 .1 1.8-.1 3-.2zM499.7 124.6l-3.1-.2 1.8-.2 3.1 .1zM502.8 124.9l-3.1-.3 1.8-.3 3 .3zM505.9 125.5l-3.1-.6 1.7-.3 3.1 .5zM509 126.3l-3.1-.8 1.7-.4 3.1 .8zM512.1 127.3l-3.1-1 1.7-.4 3.1 .9zM515.3 128.5l-3.2-1.2 1.7-.5 3.2 1.2z"/>
<path fill="#ffff00" d="M518.4 129.9l-3.1-1.4 1.7-.5 3.1 1.4zM521.6 131.5l-3.2-1.6 1.7-.5 3.1 1.6zM524.7 133.3l-3.1-1.8 1.6-.5 3.2 1.8zM527.9 135.2l-3.2-1.9 1.7-.5 3.1 2z"/>
<path fill="#f9fd00" d="M531.1 137.4l-3.2-2.2 1.6-.4 3.2 2.2z"/>
<path fill="#e3f700" d="M534.2 139.7l-3.1-2.3 1.6-.4 3.2 2.4zM537.4 142.2l-3.2-2.5 1.7-.3 3.1 2.5z"/>
<path fill="#cdf000" d="M540.6 144.8l-3.2-2.6 1.6-.3 3.2 2.8z"/>
<path fill="#b3ec00" d="M543.8 147.7l-3.2-2.9 1.6-.1 3.2 2.9z"/>
<path fill="#98e700" d="M547 150.7l-3.2-3 1.6-.1 3.1 3.1z"/>
<path fill="#7ee300" d="M550.2 153.8l-3.2-3.1 1.5 0 3.2 3.3z"/>
<path fill="#64df00" d="M553.4 157.2l-3.2-3.4 1.5 .2 3.2 3.5z"/>
<path fill="#32d000" d="M556.5 160.7l-3.1-3.5 1.5 .3 3.1 3.6z"/>
<path fill="#19c700" d="M559.7 164.4l-3.2-3.7 1.5 .4 3.2 3.7z"/>
<path fill="#00be00" d="M562.9 168.2l-3.2-3.8 1.5 .4 3.1 3.9z"/>
<path fill="#009e3b" d="M566 172.3l-3.1-4.1 1.4 .5 3.1 4z"/>
<path fill="#008e58" d="M569.2 176.5l-3.2-4.2 1.4 .4 3.2 4.1z"/>
<path fill="#006a88" d="M572.3 180.8l-3.1-4.3 1.4 .3 3.1 4.2z"/>
<path fill="#00579f" d="M575.4 185.4l-3.1-4.6 1.4 .2 3.1 4.3z"/>
<path fill="#0032cd" d="M578.6 190.1l-3.2-4.7 1.4-.1 3.1 4.4z"/>
<path fill="#0006f9" d="M581.7 194.9l-3.1-4.8 1.3-.4 3.1 4.5z"/>
<path fill="#0000ff" d="M584.8 200l-3.1-5.1 1.3-.7 3.1 4.5z"/>
<path fill="#0032cd" d="M446.6 162.1l-2.4 5.2 2 .8 2.4-5.2z"/>
<path fill="#00579f" d="M449.2 157.3l-2.6 4.8 2 .8 2.5-4.8z"/>
<path fill="#008e58" d="M451.7 152.8l-2.5 4.5 1.9 .8 2.6-4.5z"/>
<path fill="#00ae1d" d="M454.4 148.8l-2.7 4 2 .8 2.6-4.1z"/>
<path fill="#19c700" d="M457 145l-2.6 3.8 1.9 .7 2.7-3.7z"/>
<path fill="#4bd800" d="M459.7 141.6l-2.7 3.4 2 .8 2.7-3.5z"/>
<path fill="#64df00" d="M462.5 138.6l-2.8 3 2 .7 2.7-3z"/>
<path fill="#98e700" d="M465.3 135.9l-2.8 2.7 1.9 .7 2.8-2.8z"/>
<path fill="#b3ec00" d="M468.1 133.5l-2.8 2.4 1.9 .6 2.8-2.4z"/>
<path fill="#cdf000" d="M471 131.4l-2.9 2.1 1.9 .6 2.9-2.2z"/>
<path fill="#e3f700" d="M473.8 129.6l-2.8 1.8 1.9 .5 2.8-1.9z"/>
<path fill="#f9fd00" d="M476.8 128.1l-3 1.5 1.9 .4 3-1.5z"/>
<path fill="#ffff00" d="M479.7 126.9l-2.9 1.2 1.9 .4 2.9-1.3zM482.7 125.9l-3 1 1.9 .3 2.9-1.1zM485.7 125.2l-3 .7 1.8 .2 3-.8z"/>
<path fill="#ffef00" d="M488.7 124.8l-3 .4 1.8 .1 3-.5zM491.8 124.6l-3.1 .2 1.8 0 3.1-.3zM494.8 124.6l-3 0 1.8-.1 3-.1zM497.9 124.8l-3.1-.2 1.8-.2 3.1 .2zM501 125.3l-3.1-.5 1.8-.2 3.1 .3zM504.1 125.9l-3.1-.6 1.8-.4 3.1 .6zM507.2 126.8l-3.1-.9 1.8-.4 3.1 .8zM510.4 127.9l-3.2-1.1 1.8-.5 3.1 1zM513.5 129.1l-3.1-1.2 1.7-.6 3.2 1.2zM516.7 130.5l-3.2-1.4 1.8-.6 3.1 1.4z"/>
<path fill="#ffff00" d="M519.9 132.1l-3.2-1.6 1.7-.6 3.2 1.6zM523 133.8l-3.1-1.7 1.7-.6 3.1 1.8zM526.2 135.7l-3.2-1.9 1.7-.5 3.2 1.9z"/>
<path fill="#f9fd00" d="M529.4 137.8l-3.2-2.1 1.7-.5 3.2 2.2zM532.6 140l-3.2-2.2 1.7-.4 3.1 2.3z"/>
<path fill="#e3f700" d="M535.8 142.4l-3.2-2.4 1.6-.3 3.2 2.5z"/>
<path fill="#cdf000" d="M539 145l-3.2-2.6 1.6-.2 3.2 2.6z"/>
<path fill="#b3ec00" d="M542.2 147.7l-3.2-2.7 1.6-.2 3.2 2.9z"/>
<path fill="#98e700" d="M545.4 150.6l-3.2-2.9 1.6 0 3.2 3z"/>
<path fill="#7ee300" d="M548.6 153.7l-3.2-3.1 1.6 .1 3.2 3.1z"/>
<path fill="#64df00" d="M551.8 156.9l-3.2-3.2 1.6 .1 3.2 3.4z"/>
<path fill="#4bd800" d="M555 160.3l-3.2-3.4 1.6 .3 3.1 3.5z"/>
<path fill="#32d000" d="M558.2 163.9l-3.2-3.6 1.5 .4 3.2 3.7z"/>
<path fill="#00be00" d="M561.4 167.8l-3.2-3.9 1.5 .5 3.2 3.8z"/>
<path fill="#00ae1d" d="M564.6 171.8l-3.2-4 1.5 .4 3.1 4.1z"/>
<path fill="#009e3b" d="M567.8 176l-3.2-4.2 1.4 .5 3.2 4.2z"/>
<path fill="#007c71" d="M570.9 180.5l-3.1-4.5 1.4 .5 3.1 4.3z"/>
<path fill="#00579f" d="M574.1 185.3l-3.2-4.8 1.4 .3 3.1 4.6z"/>
<path fill="#0045b6" d="M577.2 190.3l-3.1-5 1.3 .1 3.2 4.7z"/>
<path fill="#001ce3" d="M580.3 195.6l-3.1-5.3 1.4-.2 3.1 4.8z"/>
<path fill="#0000ff" d="M583.4 201.2l-3.1-5.6 1.4-.7 3.1 5.1z"/>
<path fill="#0045b6" d="M444.6 161.1l-2.5 5.1 2.1 1.1 2.4-5.2z"/>
<path fill="#006a88" d="M447.2 156.4l-2.6 4.7 2 1 2.6-4.8z"/>
<path fill="#009e3b" d="M449.7 152l-2.5 4.4 2 .9 2.5-4.5z"/>
<path fill="#00be00" d="M452.4 148l-2.7 4 2 .8 2.7-4z"/>
<path fill="#32d000" d="M455 144.3l-2.6 3.7 2 .8 2.6-3.8z"/>
<path fill="#4bd800" d="M457.8 140.9l-2.8 3.4 2 .7 2.7-3.4z"/>
<path fill="#7ee300" d="M460.5 137.9l-2.7 3 1.9 .7 2.8-3z"/>
<path fill="#98e700" d="M463.3 135.2l-2.8 2.7 2 .7 2.8-2.7z"/>
<path fill="#cdf000" d="M466.2 132.9l-2.9 2.3 2 .7 2.8-2.4z"/>
<path fill="#e3f700" d="M469 130.9l-2.8 2 1.9 .6 2.9-2.1z"/>
<path fill="#f9fd00" d="M471.9 129.1l-2.9 1.8 2 .5 2.8-1.8z"/>
<path fill="#ffff00" d="M474.9 127.7l-3 1.4 1.9 .5 3-1.5zM477.8 126.6l-2.9 1.1 1.9 .4 2.9-1.2zM480.8 125.7l-3 .9 1.9 .3 3-1z"/>
<path fill="#ffef00" d="M483.8 125.1l-3 .6 1.9 .2 3-.7zM486.9 124.8l-3.1 .3 1.9 .1 3-.4zM489.9 124.6l-3 .2 1.8 0 3.1-.2z"/>
<path fill="#ffde00" d="M493 124.8l-3.1-.2 1.9 0 3 0zM496.1 125.1l-3.1-.3 1.8-.2 3.1 .2zM499.2 125.7l-3.1-.6 1.8-.3 3.1 .5zM502.3 126.4l-3.1-.7 1.8-.4 3.1 .6zM505.5 127.3l-3.2-.9 1.8-.5 3.1 .9z"/>
<path fill="#ffef00" d="M508.6 128.4l-3.1-1.1 1.7-.5 3.2 1.1zM511.8 129.7l-3.2-1.3 1.8-.5 3.1 1.2zM515 131.1l-3.2-1.4 1.7-.6 3.2 1.4z"/>
<path fill="#ffff00" d="M518.2 132.7l-3.2-1.6 1.7-.6 3.2 1.6zM521.4 134.4l-3.2-1.7 1.7-.6 3.1 1.7zM524.6 136.3l-3.2-1.9 1.6-.6 3.2 1.9zM527.8 138.3l-3.2-2 1.6-.6 3.2 2.1z"/>
<path fill="#f9fd00" d="M531 140.4l-3.2-2.1 1.6-.5 3.2 2.2z"/>
<path fill="#e3f700" d="M534.2 142.7l-3.2-2.3 1.6-.4 3.2 2.4zM537.4 145.2l-3.2-2.5 1.6-.3 3.2 2.6z"/>
<path fill="#cdf000" d="M540.6 147.8l-3.2-2.6 1.6-.2 3.2 2.7z"/>
<path fill="#b3ec00" d="M543.9 150.5l-3.3-2.7 1.6-.1 3.2 2.9z"/>
<path fill="#98e700" d="M547.1 153.5l-3.2-3 1.5 .1 3.2 3.1z"/>
<path fill="#7ee300" d="M550.3 156.6l-3.2-3.1 1.5 .2 3.2 3.2z"/>
<path fill="#64df00" d="M553.5 159.9l-3.2-3.3 1.5 .3 3.2 3.4z"/>
<path fill="#4bd800" d="M556.7 163.4l-3.2-3.5 1.5 .4 3.2 3.6z"/>
<path fill="#19c700" d="M559.9 167.2l-3.2-3.8 1.5 .5 3.2 3.9z"/>
<path fill="#00be00" d="M563.1 171.3l-3.2-4.1 1.5 .6 3.2 4z"/>
<path fill="#009e3b" d="M566.3 175.6l-3.2-4.3 1.5 .5 3.2 4.2z"/>
<path fill="#008e58" d="M569.5 180.2l-3.2-4.6 1.5 .4 3.1 4.5z"/>
<path fill="#006a88" d="M572.7 185.2l-3.2-5 1.4 .3 3.2 4.8z"/>
<path fill="#0045b6" d="M575.8 190.5l-3.1-5.3 1.4 .1 3.1 5z"/>
<path fill="#001ce3" d="M578.9 196.2l-3.1-5.7 1.4-.2 3.1 5.3z"/>
<path fill="#0000ff" d="M582 202.4l-3.1-6.2 1.4-.6 3.1 5.6z"/>
<path fill="#00579f" d="M442.6 160l-2.5 4.9 2 1.3 2.5-5.1z"/>
<path fill="#007c71" d="M445.1 155.4l-2.5 4.6 2 1.1 2.6-4.7z"/>
<path fill="#00ae1d" d="M447.7 151.1l-2.6 4.3 2.1 1 2.5-4.4z"/>
<path fill="#19c700" d="M450.4 147.1l-2.7 4 2 .9 2.7-4z"/>
<path fill="#4bd800" d="M453 143.5l-2.6 3.6 2 .9 2.6-3.7z"/>
<path fill="#64df00" d="M455.8 140.2l-2.8 3.3 2 .8 2.8-3.4z"/>
<path fill="#98e700" d="M458.5 137.2l-2.7 3 2 .7 2.7-3z"/>
<path fill="#b3ec00" d="M461.4 134.6l-2.9 2.6 2 .7 2.8-2.7z"/>
<path fill="#e3f700" d="M464.2 132.3l-2.8 2.3 1.9 .6 2.9-2.3z"/>
<path fill="#f9fd00" d="M467.1 130.4l-2.9 1.9 2 .6 2.8-2z"/>
<path fill="#ffff00" d="M470 128.7l-2.9 1.7 1.9 .5 2.9-1.8zM472.9 127.4l-2.9 1.3 1.9 .4 3-1.4zM475.9 126.3l-3 1.1 2 .3 2.9-1.1z"/>
<path fill="#ffef00" d="M478.9 125.5l-3 .8 1.9 .3 3-.9zM482 125l-3.1 .5 1.9 .2 3-.6z"/>
<path fill="#ffde00" d="M485 124.8l-3 .2 1.8 .1 3.1-.3zM488.1 124.8l-3.1 0 1.9 0 3-.2zM491.2 125l-3.1-.2 1.8-.2 3.1 .2zM494.3 125.4l-3.1-.4 1.8-.2 3.1 .3zM497.4 126.1l-3.1-.7 1.8-.3 3.1 .6zM500.5 126.9l-3.1-.8 1.8-.4 3.1 .7zM503.7 127.9l-3.2-1 1.8-.5 3.2 .9zM506.9 129l-3.2-1.1 1.8-.6 3.1 1.1z"/>
<path fill="#ffef00" d="M510 130.3l-3.1-1.3 1.7-.6 3.2 1.3zM513.2 131.7l-3.2-1.4 1.8-.6 3.2 1.4zM516.4 133.3l-3.2-1.6 1.8-.6 3.2 1.6z"/>
<path fill="#ffff00" d="M519.6 135l-3.2-1.7 1.8-.6 3.2 1.7zM522.9 136.8l-3.3-1.8 1.8-.6 3.2 1.9zM526.1 138.8l-3.2-2 1.7-.5 3.2 2z"/>
<path fill="#f9fd00" d="M529.3 140.9l-3.2-2.1 1.7-.5 3.2 2.1zM532.5 143.1l-3.2-2.2 1.7-.5 3.2 2.3z"/>
<path fill="#e3f700" d="M535.8 145.4l-3.3-2.3 1.7-.4 3.2 2.5z"/>
<path fill="#cdf000" d="M539 147.9l-3.2-2.5 1.6-.2 3.2 2.6z"/>
<path fill="#b3ec00" d="M542.3 150.5l-3.3-2.6 1.6-.1 3.3 2.7z"/>
<path fill="#98e700" d="M545.5 153.3l-3.2-2.8 1.6 0 3.2 3zM548.7 156.3l-3.2-3 1.6 .2 3.2 3.1z"/>
<path fill="#64df00" d="M552 159.5l-3.3-3.2 1.6 .3 3.2 3.3z"/>
<path fill="#4bd800" d="M555.2 163l-3.2-3.5 1.5 .4 3.2 3.5z"/>
<path fill="#32d000" d="M558.4 166.7l-3.2-3.7 1.5 .4 3.2 3.8z"/>
<path fill="#19c700" d="M561.7 170.7l-3.3-4 1.5 .5 3.2 4.1z"/>
<path fill="#00ae1d" d="M564.9 175.1l-3.2-4.4 1.4 .6 3.2 4.3z"/>
<path fill="#009e3b" d="M568.1 179.9l-3.2-4.8 1.4 .5 3.2 4.6z"/>
<path fill="#007c71" d="M571.2 185l-3.1-5.1 1.4 .3 3.2 5z"/>
<path fill="#00579f" d="M574.4 190.7l-3.2-5.7 1.5 .2 3.1 5.3z"/>
<path fill="#0032cd" d="M577.5 196.9l-3.1-6.2 1.4-.2 3.1 5.7z"/>
<path fill="#0000ff" d="M580.6 203.7l-3.1-6.8 1.4-.7 3.1 6.2z"/>
<path fill="#006a88" d="M440.5 158.6l-2.5 4.7 2.1 1.6 2.5-4.9z"/>
<path fill="#009e3b" d="M443.1 154.2l-2.6 4.4 2.1 1.4 2.5-4.6z"/>
<path fill="#00be00" d="M445.7 150.1l-2.6 4.1 2 1.2 2.6-4.3z"/>
<path fill="#32d000" d="M448.3 146.2l-2.6 3.9 2 1 2.7-4z"/>
<path fill="#4bd800" d="M451 142.7l-2.7 3.5 2.1 .9 2.6-3.6z"/>
<path fill="#7ee300" d="M453.8 139.5l-2.8 3.2 2 .8 2.8-3.3z"/>
<path fill="#b3ec00" d="M456.5 136.6l-2.7 2.9 2 .7 2.7-3z"/>
<path fill="#cdf000" d="M459.4 134l-2.9 2.6 2 .6 2.9-2.6z"/>
<path fill="#e3f700" d="M462.2 131.8l-2.8 2.2 2 .6 2.8-2.3z"/>
<path fill="#f9fd00" d="M465.1 129.9l-2.9 1.9 2 .5 2.9-1.9z"/>
<path fill="#ffff00" d="M468 128.3l-2.9 1.6 2 .5 2.9-1.7zM471 127l-3 1.3 2 .4 2.9-1.3z"/>
<path fill="#ffef00" d="M474 126.1l-3 .9 1.9 .4 3-1.1zM477 125.4l-3 .7 1.9 .2 3-.8z"/>
<path fill="#ffde00" d="M480.1 125l-3.1 .4 1.9 .1 3.1-.5zM483.1 124.8l-3 .2 1.9 0 3-.2zM486.2 124.9l-3.1-.1 1.9 0 3.1 0zM489.3 125.2l-3.1-.3 1.9-.1 3.1 .2z"/>
<path fill="#ffce00" d="M492.4 125.8l-3.1-.6 1.9-.2 3.1 .4z"/>
<path fill="#ffde00" d="M495.6 126.5l-3.2-.7 1.9-.4 3.1 .7zM498.7 127.4l-3.1-.9 1.8-.4 3.1 .8zM501.9 128.4l-3.2-1 1.8-.5 3.2 1zM505.1 129.6l-3.2-1.2 1.8-.5 3.2 1.1zM508.3 131l-3.2-1.4 1.8-.6 3.1 1.3z"/>
<path fill="#ffef00" d="M511.5 132.4l-3.2-1.4 1.7-.7 3.2 1.4zM514.7 134l-3.2-1.6 1.7-.7 3.2 1.6z"/>
<path fill="#ffff00" d="M517.9 135.7l-3.2-1.7 1.7-.7 3.2 1.7zM521.1 137.5l-3.2-1.8 1.7-.7 3.3 1.8zM524.4 139.4l-3.3-1.9 1.8-.7 3.2 2zM527.6 141.4l-3.2-2 1.7-.6 3.2 2.1z"/>
<path fill="#f9fd00" d="M530.9 143.5l-3.3-2.1 1.7-.5 3.2 2.2z"/>
<path fill="#e3f700" d="M534.1 145.7l-3.2-2.2 1.6-.4 3.3 2.3zM537.4 148.1l-3.3-2.4 1.7-.3 3.2 2.5z"/>
<path fill="#cdf000" d="M540.6 150.6l-3.2-2.5 1.6-.2 3.3 2.6z"/>
<path fill="#b3ec00" d="M543.9 153.2l-3.3-2.6 1.7-.1 3.2 2.8z"/>
<path fill="#98e700" d="M547.2 156.1l-3.3-2.9 1.6 .1 3.2 3z"/>
<path fill="#7ee300" d="M550.4 159.2l-3.2-3.1 1.5 .2 3.3 3.2z"/>
<path fill="#64df00" d="M553.7 162.6l-3.3-3.4 1.6 .3 3.2 3.5z"/>
<path fill="#4bd800" d="M556.9 166.2l-3.2-3.6 1.5 .4 3.2 3.7z"/>
<path fill="#19c700" d="M560.2 170.2l-3.3-4 1.5 .5 3.3 4z"/>
<path fill="#00be00" d="M563.4 174.7l-3.2-4.5 1.5 .5 3.2 4.4z"/>
<path fill="#009e3b" d="M566.6 179.5l-3.2-4.8 1.5 .4 3.2 4.8z"/>
<path fill="#007c71" d="M569.8 184.9l-3.2-5.4 1.5 .4 3.1 5.1z"/>
<path fill="#00579f" d="M572.9 190.9l-3.1-6 1.4 .1 3.2 5.7z"/>
<path fill="#0032cd" d="M576.1 197.6l-3.2-6.7 1.5-.2 3.1 6.2z"/>
<path fill="#0006f9" d="M579.1 204.9l-3-7.3 1.4-.7 3.1 6.8z"/>
<path fill="#007c71" d="M438.4 157.2l-2.5 4.4 2.1 1.7 2.5-4.7z"/>
<path fill="#00ae1d" d="M441 152.9l-2.6 4.3 2.1 1.4 2.6-4.4z"/>
<path fill="#19c700" d="M443.6 149l-2.6 3.9 2.1 1.3 2.6-4.1z"/>
<path fill="#4bd800" d="M446.3 145.3l-2.7 3.7 2.1 1.1 2.6-3.9z"/>
<path fill="#64df00" d="M449 141.9l-2.7 3.4 2 .9 2.7-3.5z"/>
<path fill="#98e700" d="M451.7 138.7l-2.7 3.2 2 .8 2.8-3.2z"/>
<path fill="#b3ec00" d="M454.5 135.9l-2.8 2.8 2.1 .8 2.7-2.9z"/>
<path fill="#e3f700" d="M457.4 133.5l-2.9 2.4 2 .7 2.9-2.6z"/>
<path fill="#f9fd00" d="M460.2 131.3l-2.8 2.2 2 .5 2.8-2.2z"/>
<path fill="#ffff00" d="M463.1 129.5l-2.9 1.8 2 .5 2.9-1.9zM466.1 128l-3 1.5 2 .4 2.9-1.6z"/>
<path fill="#ffef00" d="M469 126.8l-2.9 1.2 1.9 .3 3-1.3zM472.1 125.9l-3.1 .9 2 .2 3-.9z"/>
<path fill="#ffde00" d="M475.1 125.3l-3 .6 1.9 .2 3-.7zM478.1 125l-3 .3 1.9 .1 3.1-.4z"/>
<path fill="#ffce00" d="M481.2 124.9l-3.1 .1 2 0 3-.2zM484.3 125.1l-3.1-.2 1.9-.1 3.1 .1zM487.4 125.5l-3.1-.4 1.9-.2 3.1 .3zM490.6 126.1l-3.2-.6 1.9-.3 3.1 .6zM493.7 126.9l-3.1-.8 1.8-.3 3.2 .7zM496.9 127.9l-3.2-1 1.9-.4 3.1 .9z"/>
<path fill="#ffde00" d="M500.1 129l-3.2-1.1 1.8-.5 3.2 1zM503.3 130.3l-3.2-1.3 1.8-.6 3.2 1.2zM506.5 131.7l-3.2-1.4 1.8-.7 3.2 1.4z"/>
<path fill="#ffef00" d="M509.7 133.2l-3.2-1.5 1.8-.7 3.2 1.4zM512.9 134.8l-3.2-1.6 1.8-.8 3.2 1.6zM516.2 136.4l-3.3-1.6 1.8-.8 3.2 1.7z"/>
<path fill="#ffff00" d="M519.4 138.2l-3.2-1.8 1.7-.7 3.2 1.8zM522.7 140l-3.3-1.8 1.7-.7 3.3 1.9zM525.9 142l-3.2-2 1.7-.6 3.2 2z"/>
<path fill="#f9fd00" d="M529.2 144l-3.3-2 1.7-.6 3.3 2.1zM532.4 146.1l-3.2-2.1 1.7-.5 3.2 2.2z"/>
<path fill="#e3f700" d="M535.7 148.3l-3.3-2.2 1.7-.4 3.3 2.4z"/>
<path fill="#cdf000" d="M539 150.7l-3.3-2.4 1.7-.2 3.2 2.5zM542.3 153.2l-3.3-2.5 1.6-.1 3.3 2.6z"/>
<path fill="#b3ec00" d="M545.6 156l-3.3-2.8 1.6 0 3.3 2.9z"/>
<path fill="#98e700" d="M548.9 159l-3.3-3 1.6 .1 3.2 3.1z"/>
<path fill="#7ee300" d="M552.1 162.2l-3.2-3.2 1.5 .2 3.3 3.4z"/>
<path fill="#64df00" d="M555.4 165.8l-3.3-3.6 1.6 .4 3.2 3.6z"/>
<path fill="#32d000" d="M558.7 169.9l-3.3-4.1 1.5 .4 3.3 4z"/>
<path fill="#19c700" d="M561.9 174.3l-3.2-4.4 1.5 .3 3.2 4.5z"/>
<path fill="#00ae1d" d="M565.1 179.3l-3.2-5 1.5 .4 3.2 4.8z"/>
<path fill="#008e58" d="M568.3 184.9l-3.2-5.6 1.5 .2 3.2 5.4z"/>
<path fill="#006a88" d="M571.5 191.2l-3.2-6.3 1.5 0 3.1 6z"/>
<path fill="#0045b6" d="M574.6 198.3l-3.1-7.1 1.4-.3 3.2 6.7z"/>
<path fill="#0006f9" d="M577.7 206.3l-3.1-8 1.5-.7 3 7.3z"/>
<path fill="#009e3b" d="M436.2 155.5l-2.5 4.1 2.2 2 2.5-4.4z"/>
<path fill="#00be00" d="M438.8 151.5l-2.6 4 2.2 1.7 2.6-4.3z"/>
<path fill="#32d000" d="M441.5 147.8l-2.7 3.7 2.2 1.4 2.6-3.9z"/>
<path fill="#64df00" d="M444.2 144.3l-2.7 3.5 2.1 1.2 2.7-3.7z"/>
<path fill="#7ee300" d="M446.9 141l-2.7 3.3 2.1 1 2.7-3.4z"/>
<path fill="#b3ec00" d="M449.7 138l-2.8 3 2.1 .9 2.7-3.2z"/>
<path fill="#cdf000" d="M452.5 135.3l-2.8 2.7 2 .7 2.8-2.8z"/>
<path fill="#f9fd00" d="M455.3 132.9l-2.8 2.4 2 .6 2.9-2.4z"/>
<path fill="#ffff00" d="M458.2 130.8l-2.9 2.1 2.1 .6 2.8-2.2zM461.1 129.1l-2.9 1.7 2 .5 2.9-1.8z"/>
<path fill="#ffef00" d="M464.1 127.6l-3 1.5 2 .4 3-1.5zM467.1 126.5l-3 1.1 2 .4 2.9-1.2z"/>
<path fill="#ffde00" d="M470.1 125.7l-3 .8 1.9 .3 3.1-.9zM473.1 125.2l-3 .5 2 .2 3-.6z"/>
<path fill="#ffce00" d="M476.2 125l-3.1 .2 2 .1 3-.3zM479.3 125l-3.1 0 1.9 0 3.1-.1zM482.4 125.3l-3.1-.3 1.9-.1 3.1 .2zM485.5 125.8l-3.1-.5 1.9-.2 3.1 .4zM488.7 126.5l-3.2-.7 1.9-.3 3.2 .6zM491.9 127.4l-3.2-.9 1.9-.4 3.1 .8zM495.1 128.4l-3.2-1 1.8-.5 3.2 1zM498.3 129.6l-3.2-1.2 1.8-.5 3.2 1.1z"/>
<path fill="#ffde00" d="M501.5 131l-3.2-1.4 1.8-.6 3.2 1.3zM504.7 132.4l-3.2-1.4 1.8-.7 3.2 1.4zM507.9 133.9l-3.2-1.5 1.8-.7 3.2 1.5z"/>
<path fill="#ffef00" d="M511.2 135.5l-3.3-1.6 1.8-.7 3.2 1.6zM514.4 137.2l-3.2-1.7 1.7-.7 3.3 1.6z"/>
<path fill="#ffff00" d="M517.7 138.9l-3.3-1.7 1.8-.8 3.2 1.8zM520.9 140.7l-3.2-1.8 1.7-.7 3.3 1.8zM524.2 142.6l-3.3-1.9 1.8-.7 3.2 2zM527.5 144.5l-3.3-1.9 1.7-.6 3.3 2z"/>
<path fill="#f9fd00" d="M530.8 146.6l-3.3-2.1 1.7-.5 3.2 2.1zM534.1 148.7l-3.3-2.1 1.6-.5 3.3 2.2z"/>
<path fill="#e3f700" d="M537.3 151l-3.2-2.3 1.6-.4 3.3 2.4z"/>
<path fill="#cdf000" d="M540.7 153.4l-3.4-2.4 1.7-.3 3.3 2.5z"/>
<path fill="#b3ec00" d="M544 156l-3.3-2.6 1.6-.2 3.3 2.8z"/>
<path fill="#98e700" d="M547.3 158.9l-3.3-2.9 1.6 0 3.3 3z"/>
<path fill="#7ee300" d="M550.6 162.1l-3.3-3.2 1.6 .1 3.2 3.2z"/>
<path fill="#64df00" d="M553.9 165.7l-3.3-3.6 1.5 .1 3.3 3.6z"/>
<path fill="#4bd800" d="M557.1 169.7l-3.2-4 1.5 .1 3.3 4.1z"/>
<path fill="#19c700" d="M560.4 174.2l-3.3-4.5 1.6 .2 3.2 4.4z"/>
<path fill="#00be00" d="M563.6 179.3l-3.2-5.1 1.5 .1 3.2 5z"/>
<path fill="#009e3b" d="M566.9 185.1l-3.3-5.8 1.5 0 3.2 5.6z"/>
<path fill="#007c71" d="M570 191.7l-3.1-6.6 1.4-.2 3.2 6.3z"/>
<path fill="#0045b6" d="M573.2 199.1l-3.2-7.4 1.5-.5 3.1 7.1z"/>
<path fill="#0006f9" d="M576.2 207.6l-3-8.5 1.4-.8 3.1 8z"/>
<path fill="#00ae1d" d="M434 153.6l-2.6 3.7 2.3 2.3 2.5-4.1z"/>
<path fill="#19c700" d="M436.7 150l-2.7 3.6 2.2 1.9 2.6-4z"/>
<path fill="#4bd800" d="M439.3 146.5l-2.6 3.5 2.1 1.5 2.7-3.7z"/>
<path fill="#7ee300" d="M442 143.1l-2.7 3.4 2.2 1.3 2.7-3.5z"/>
<path fill="#98e700" d="M444.8 140l-2.8 3.1 2.2 1.2 2.7-3.3z"/>
<path fill="#cdf000" d="M447.6 137.2l-2.8 2.8 2.1 1 2.8-3z"/>
<path fill="#e3f700" d="M450.4 134.6l-2.8 2.6 2.1 .8 2.8-2.7z"/>
<path fill="#f9fd00" d="M453.3 132.3l-2.9 2.3 2.1 .7 2.8-2.4z"/>
<path fill="#ffff00" d="M456.2 130.3l-2.9 2 2 .6 2.9-2.1zM459.1 128.7l-2.9 1.6 2 .5 2.9-1.7z"/>
<path fill="#ffef00" d="M462.1 127.3l-3 1.4 2 .4 3-1.5z"/>
<path fill="#ffde00" d="M465.1 126.3l-3 1 2 .3 3-1.1z"/>
<path fill="#ffce00" d="M468.1 125.5l-3 .8 2 .2 3-.8zM471.2 125.1l-3.1 .4 2 .2 3-.5zM474.2 124.9l-3 .2 1.9 .1 3.1-.2z"/>
<path fill="#ffbe00" d="M477.3 125.1l-3.1-.2 2 .1 3.1 0zM480.5 125.4l-3.2-.3 2-.1 3.1 .3zM483.6 126l-3.1-.6 1.9-.1 3.1 .5zM486.8 126.8l-3.2-.8 1.9-.2 3.2 .7z"/>
<path fill="#ffce00" d="M490 127.8l-3.2-1 1.9-.3 3.2 .9zM493.2 128.9l-3.2-1.1 1.9-.4 3.2 1zM496.4 130.2l-3.2-1.3 1.9-.5 3.2 1.2zM499.6 131.6l-3.2-1.4 1.9-.6 3.2 1.4z"/>
<path fill="#ffde00" d="M502.9 133.1l-3.3-1.5 1.9-.6 3.2 1.4zM506.1 134.6l-3.2-1.5 1.8-.7 3.2 1.5z"/>
<path fill="#ffef00" d="M509.4 136.3l-3.3-1.7 1.8-.7 3.3 1.6zM512.6 138l-3.2-1.7 1.8-.8 3.2 1.7zM515.9 139.7l-3.3-1.7 1.8-.8 3.3 1.7z"/>
<path fill="#ffff00" d="M519.2 141.5l-3.3-1.8 1.8-.8 3.2 1.8zM522.5 143.3l-3.3-1.8 1.7-.8 3.3 1.9zM525.7 145.2l-3.2-1.9 1.7-.7 3.3 1.9z"/>
<path fill="#f9fd00" d="M529.1 147.2l-3.4-2 1.8-.7 3.3 2.1zM532.4 149.2l-3.3-2 1.7-.6 3.3 2.1z"/>
<path fill="#e3f700" d="M535.7 151.4l-3.3-2.2 1.7-.5 3.2 2.3zM539 153.8l-3.3-2.4 1.6-.4 3.4 2.4z"/>
<path fill="#cdf000" d="M542.3 156.3l-3.3-2.5 1.7-.4 3.3 2.6z"/>
<path fill="#b3ec00" d="M545.6 159.1l-3.3-2.8 1.7-.3 3.3 2.9z"/>
<path fill="#98e700" d="M549 162.3l-3.4-3.2 1.7-.2 3.3 3.2z"/>
<path fill="#7ee300" d="M552.3 165.8l-3.3-3.5 1.6-.2 3.3 3.6z"/>
<path fill="#64df00" d="M555.6 169.8l-3.3-4 1.6-.1 3.2 4z"/>
<path fill="#32d000" d="M558.9 174.3l-3.3-4.5 1.5-.1 3.3 4.5z"/>
<path fill="#00be00" d="M562.1 179.5l-3.2-5.2 1.5-.1 3.2 5.1z"/>
<path fill="#009e3b" d="M565.4 185.5l-3.3-6 1.5-.2 3.3 5.8z"/>
<path fill="#007c71" d="M568.5 192.3l-3.1-6.8 1.5-.4 3.1 6.6z"/>
<path fill="#0045b6" d="M571.7 200.1l-3.2-7.8 1.5-.6 3.2 7.4z"/>
<path fill="#0006f9" d="M574.8 209.1l-3.1-9 1.5-1 3 8.5z"/>
<path fill="#19c700" d="M431.8 151.4l-2.6 3.3 2.2 2.6 2.6-3.7z"/>
<path fill="#32d000" d="M434.5 148.1l-2.7 3.3 2.2 2.2 2.7-3.6z"/>
<path fill="#64df00" d="M437.2 144.9l-2.7 3.2 2.2 1.9 2.6-3.5z"/>
<path fill="#98e700" d="M439.9 141.9l-2.7 3 2.1 1.6 2.7-3.4z"/>
<path fill="#b3ec00" d="M442.7 138.9l-2.8 3 2.1 1.2 2.8-3.1z"/>
<path fill="#e3f700" d="M445.5 136.3l-2.8 2.6 2.1 1.1 2.8-2.8z"/>
<path fill="#f9fd00" d="M448.3 133.8l-2.8 2.5 2.1 .9 2.8-2.6z"/>
<path fill="#ffff00" d="M451.2 131.6l-2.9 2.2 2.1 .8 2.9-2.3zM454.1 129.7l-2.9 1.9 2.1 .7 2.9-2z"/>
<path fill="#ffef00" d="M457 128.2l-2.9 1.5 2.1 .6 2.9-1.6z"/>
<path fill="#ffde00" d="M460 126.9l-3 1.3 2.1 .5 3-1.4z"/>
<path fill="#ffce00" d="M463 125.9l-3 1 2.1 .4 3-1zM466.1 125.3l-3.1 .6 2.1 .4 3-.8z"/>
<path fill="#ffbe00" d="M469.2 124.9l-3.1 .4 2 .2 3.1-.4zM472.3 124.9l-3.1 0 2 .2 3-.2zM475.4 125.1l-3.1-.2 1.9 0 3.1 .2zM478.5 125.5l-3.1-.4 1.9 0 3.2 .3zM481.7 126.2l-3.2-.7 2-.1 3.1 .6zM484.9 127.1l-3.2-.9 1.9-.2 3.2 .8zM488.1 128.1l-3.2-1 1.9-.3 3.2 1zM491.3 129.3l-3.2-1.2 1.9-.3 3.2 1.1z"/>
<path fill="#ffce00" d="M494.5 130.7l-3.2-1.4 1.9-.4 3.2 1.3zM497.8 132.1l-3.3-1.4 1.9-.5 3.2 1.4zM501 133.7l-3.2-1.6 1.8-.5 3.3 1.5z"/>
<path fill="#ffde00" d="M504.3 135.3l-3.3-1.6 1.9-.6 3.2 1.5zM507.5 137l-3.2-1.7 1.8-.7 3.3 1.7z"/>
<path fill="#ffef00" d="M510.8 138.7l-3.3-1.7 1.9-.7 3.2 1.7zM514.1 140.5l-3.3-1.8 1.8-.7 3.3 1.7z"/>
<path fill="#ffff00" d="M517.4 142.3l-3.3-1.8 1.8-.8 3.3 1.8zM520.7 144.1l-3.3-1.8 1.8-.8 3.3 1.8zM524 146l-3.3-1.9 1.8-.8 3.2 1.9zM527.3 147.9l-3.3-1.9 1.7-.8 3.4 2z"/>
<path fill="#f9fd00" d="M530.6 150l-3.3-2.1 1.8-.7 3.3 2zM534 152.1l-3.4-2.1 1.8-.8 3.3 2.2z"/>
<path fill="#e3f700" d="M537.3 154.4l-3.3-2.3 1.7-.7 3.3 2.4z"/>
<path fill="#cdf000" d="M540.7 156.9l-3.4-2.5 1.7-.6 3.3 2.5z"/>
<path fill="#b3ec00" d="M544 159.7l-3.3-2.8 1.6-.6 3.3 2.8z"/>
<path fill="#98e700" d="M547.3 162.8l-3.3-3.1 1.6-.6 3.4 3.2z"/>
<path fill="#7ee300" d="M550.7 166.3l-3.4-3.5 1.7-.5 3.3 3.5z"/>
<path fill="#64df00" d="M554 170.3l-3.3-4 1.6-.5 3.3 4z"/>
<path fill="#32d000" d="M557.3 174.9l-3.3-4.6 1.6-.5 3.3 4.5z"/>
<path fill="#19c700" d="M560.6 180.1l-3.3-5.2 1.6-.6 3.2 5.2z"/>
<path fill="#00ae1d" d="M563.8 186.2l-3.2-6.1 1.5-.6 3.3 6z"/>
<path fill="#007c71" d="M567 193.3l-3.2-7.1 1.6-.7 3.1 6.8z"/>
<path fill="#00579f" d="M570.2 201.3l-3.2-8 1.5-1 3.2 7.8z"/>
<path fill="#0006f9" d="M573.3 210.6l-3.1-9.3 1.5-1.2 3.1 9z"/>
<path fill="#32d000" d="M429.5 149l-2.7 2.8 2.4 2.9 2.6-3.3z"/>
<path fill="#64df00" d="M432.2 146l-2.7 3 2.3 2.4 2.7-3.3z"/>
<path fill="#7ee300" d="M434.9 143.1l-2.7 2.9 2.3 2.1 2.7-3.2z"/>
<path fill="#b3ec00" d="M437.7 140.3l-2.8 2.8 2.3 1.8 2.7-3z"/>
<path fill="#cdf000" d="M440.5 137.6l-2.8 2.7 2.2 1.6 2.8-3z"/>
<path fill="#f9fd00" d="M443.3 135.1l-2.8 2.5 2.2 1.3 2.8-2.6z"/>
<path fill="#ffff00" d="M446.2 132.8l-2.9 2.3 2.2 1.2 2.8-2.5zM449 130.8l-2.8 2 2.1 1 2.9-2.2z"/>
<path fill="#ffef00" d="M452 129l-3 1.8 2.2 .8 2.9-1.9z"/>
<path fill="#ffde00" d="M454.9 127.5l-2.9 1.5 2.1 .7 2.9-1.5z"/>
<path fill="#ffce00" d="M457.9 126.4l-3 1.1 2.1 .7 3-1.3zM461 125.5l-3.1 .9 2.1 .5 3-1z"/>
<path fill="#ffbe00" d="M464 124.9l-3 .6 2 .4 3.1-.6zM467.1 124.6l-3.1 .3 2.1 .4 3.1-.4zM470.2 124.6l-3.1 0 2.1 .3 3.1 0z"/>
<path fill="#ffac00" d="M473.4 124.9l-3.2-.3 2.1 .3 3.1 .2zM476.5 125.4l-3.1-.5 2 .2 3.1 .4zM479.7 126.2l-3.2-.8 2 .1 3.2 .7z"/>
<path fill="#ffbe00" d="M482.9 127.2l-3.2-1 2 0 3.2 .9zM486.1 128.3l-3.2-1.1 2-.1 3.2 1zM489.4 129.6l-3.3-1.3 2-.2 3.2 1.2zM492.6 131l-3.2-1.4 1.9-.3 3.2 1.4z"/>
<path fill="#ffce00" d="M495.9 132.6l-3.3-1.6 1.9-.3 3.3 1.4zM499.1 134.2l-3.2-1.6 1.9-.5 3.2 1.6z"/>
<path fill="#ffde00" d="M502.4 135.9l-3.3-1.7 1.9-.5 3.3 1.6zM505.7 137.6l-3.3-1.7 1.9-.6 3.2 1.7z"/>
<path fill="#ffef00" d="M509 139.4l-3.3-1.8 1.8-.6 3.3 1.7zM512.3 141.2l-3.3-1.8 1.8-.7 3.3 1.8z"/>
<path fill="#ffff00" d="M515.6 143.1l-3.3-1.9 1.8-.7 3.3 1.8zM518.9 145l-3.3-1.9 1.8-.8 3.3 1.8zM522.2 146.9l-3.3-1.9 1.8-.9 3.3 1.9zM525.6 148.8l-3.4-1.9 1.8-.9 3.3 1.9z"/>
<path fill="#f9fd00" d="M528.9 150.9l-3.3-2.1 1.7-.9 3.3 2.1zM532.3 153.1l-3.4-2.2 1.7-.9 3.4 2.1z"/>
<path fill="#e3f700" d="M535.6 155.4l-3.3-2.3 1.7-1 3.3 2.3z"/>
<path fill="#cdf000" d="M539 157.9l-3.4-2.5 1.7-1 3.4 2.5zM542.3 160.7l-3.3-2.8 1.7-1 3.3 2.8z"/>
<path fill="#b3ec00" d="M545.7 163.8l-3.4-3.1 1.7-1 3.3 3.1z"/>
<path fill="#98e700" d="M549 167.3l-3.3-3.5 1.6-1 3.4 3.5z"/>
<path fill="#64df00" d="M552.4 171.3l-3.4-4 1.7-1 3.3 4z"/>
<path fill="#4bd800" d="M555.7 176l-3.3-4.7 1.6-1 3.3 4.6z"/>
<path fill="#19c700" d="M559 181.3l-3.3-5.3 1.6-1.1 3.3 5.2z"/>
<path fill="#00ae1d" d="M562.3 187.5l-3.3-6.2 1.6-1.2 3.2 6.1z"/>
<path fill="#008e58" d="M565.5 194.6l-3.2-7.1 1.5-1.3 3.2 7.1z"/>
<path fill="#00579f" d="M568.6 202.8l-3.1-8.2 1.5-1.3 3.2 8z"/>
<path fill="#0006f9" d="M571.7 212.3l-3.1-9.5 1.6-1.5 3.1 9.3z"/>
<path fill="#64df00" d="M427.2 146.1l-2.7 2.4 2.3 3.3 2.7-2.8z"/>
<path fill="#7ee300" d="M429.9 143.5l-2.7 2.6 2.3 2.9 2.7-3z"/>
<path fill="#b3ec00" d="M432.7 140.9l-2.8 2.6 2.3 2.5 2.7-2.9z"/>
<path fill="#cdf000" d="M435.4 138.4l-2.7 2.5 2.2 2.2 2.8-2.8z"/>
<path fill="#e3f700" d="M438.3 135.9l-2.9 2.5 2.3 1.9 2.8-2.7z"/>
<path fill="#ffff00" d="M441.1 133.6l-2.8 2.3 2.2 1.7 2.8-2.5zM444 131.5l-2.9 2.1 2.2 1.5 2.9-2.3z"/>
<path fill="#ffef00" d="M446.9 129.6l-2.9 1.9 2.2 1.3 2.8-2z"/>
<path fill="#ffde00" d="M449.8 128l-2.9 1.6 2.1 1.2 3-1.8z"/>
<path fill="#ffce00" d="M452.8 126.7l-3 1.3 2.2 1 2.9-1.5zM455.8 125.6l-3 1.1 2.1 .8 3-1.1z"/>
<path fill="#ffbe00" d="M458.9 124.8l-3.1 .8 2.1 .8 3.1-.9zM462 124.3l-3.1 .5 2.1 .7 3-.6z"/>
<path fill="#ffac00" d="M465.1 124.1l-3.1 .2 2 .6 3.1-.3zM468.2 124.2l-3.1-.1 2 .5 3.1 0zM471.4 124.6l-3.2-.4 2 .4 3.2 .3zM474.5 125.2l-3.1-.6 2 .3 3.1 .5zM477.7 126l-3.2-.8 2 .2 3.2 .8zM481 127l-3.3-1 2 .2 3.2 1zM484.2 128.3l-3.2-1.3 1.9 .2 3.2 1.1z"/>
<path fill="#ffbe00" d="M487.4 129.6l-3.2-1.3 1.9 0 3.3 1.3zM490.7 131.2l-3.3-1.6 2 0 3.2 1.4zM494 132.8l-3.3-1.6 1.9-.2 3.3 1.6z"/>
<path fill="#ffce00" d="M497.3 134.5l-3.3-1.7 1.9-.2 3.2 1.6zM500.5 136.3l-3.2-1.8 1.8-.3 3.3 1.7z"/>
<path fill="#ffde00" d="M503.8 138.1l-3.3-1.8 1.9-.4 3.3 1.7zM507.2 140l-3.4-1.9 1.9-.5 3.3 1.8z"/>
<path fill="#ffef00" d="M510.5 141.9l-3.3-1.9 1.8-.6 3.3 1.8zM513.8 143.9l-3.3-2 1.8-.7 3.3 1.9z"/>
<path fill="#ffff00" d="M517.1 145.9l-3.3-2 1.8-.8 3.3 1.9zM520.5 147.9l-3.4-2 1.8-.9 3.3 1.9zM523.8 150l-3.3-2.1 1.7-1 3.4 1.9z"/>
<path fill="#f9fd00" d="M527.2 152.1l-3.4-2.1 1.8-1.2 3.3 2.1zM530.5 154.4l-3.3-2.3 1.7-1.2 3.4 2.2z"/>
<path fill="#e3f700" d="M533.9 156.8l-3.4-2.4 1.8-1.3 3.3 2.3z"/>
<path fill="#cdf000" d="M537.3 159.4l-3.4-2.6 1.7-1.4 3.4 2.5zM540.6 162.3l-3.3-2.9 1.7-1.5 3.3 2.8z"/>
<path fill="#b3ec00" d="M544 165.5l-3.4-3.2 1.7-1.6 3.4 3.1z"/>
<path fill="#98e700" d="M547.4 169l-3.4-3.5 1.7-1.7 3.3 3.5z"/>
<path fill="#64df00" d="M550.7 173.1l-3.3-4.1 1.6-1.7 3.4 4z"/>
<path fill="#4bd800" d="M554.1 177.8l-3.4-4.7 1.7-1.8 3.3 4.7z"/>
<path fill="#19c700" d="M557.4 183.2l-3.3-5.4 1.6-1.8 3.3 5.3z"/>
<path fill="#00ae1d" d="M560.7 189.3l-3.3-6.1 1.6-1.9 3.3 6.2z"/>
<path fill="#008e58" d="M563.9 196.5l-3.2-7.2 1.6-1.8 3.2 7.1z"/>
<path fill="#00579f" d="M567.1 204.7l-3.2-8.2 1.6-1.9 3.1 8.2z"/>
<path fill="#0006f9" d="M570.2 214.2l-3.1-9.5 1.5-1.9 3.1 9.5z"/>
<path fill="#98e700" d="M424.8 142.7l-2.8 2.1 2.5 3.7 2.7-2.4z"/>
<path fill="#b3ec00" d="M427.5 140.5l-2.7 2.2 2.4 3.4 2.7-2.6z"/>
<path fill="#cdf000" d="M430.3 138.2l-2.8 2.3 2.4 3 2.8-2.6z"/>
<path fill="#f9fd00" d="M433.1 136l-2.8 2.2 2.4 2.7 2.7-2.5z"/>
<path fill="#ffff00" d="M436 133.8l-2.9 2.2 2.3 2.4 2.9-2.5zM438.8 131.7l-2.8 2.1 2.3 2.1 2.8-2.3z"/>
<path fill="#ffef00" d="M441.7 129.8l-2.9 1.9 2.3 1.9 2.9-2.1z"/>
<path fill="#ffde00" d="M444.7 128.1l-3 1.7 2.3 1.7 2.9-1.9z"/>
<path fill="#ffce00" d="M447.6 126.6l-2.9 1.5 2.2 1.5 2.9-1.6z"/>
<path fill="#ffbe00" d="M450.6 125.4l-3 1.2 2.2 1.4 3-1.3zM453.7 124.5l-3.1 .9 2.2 1.3 3-1.1z"/>
<path fill="#ffac00" d="M456.7 123.8l-3 .7 2.1 1.1 3.1-.8zM459.8 123.4l-3.1 .4 2.2 1 3.1-.5z"/>
<path fill="#ff9e00" d="M463 123.3l-3.2 .1 2.2 .9 3.1-.2zM466.1 123.5l-3.1-.2 2.1 .8 3.1 .1zM469.3 123.9l-3.2-.4 2.1 .7 3.2 .4zM472.5 124.6l-3.2-.7 2.1 .7 3.1 .6zM475.7 125.5l-3.2-.9 2 .6 3.2 .8zM479 126.6l-3.3-1.1 2 .5 3.3 1z"/>
<path fill="#ffac00" d="M482.2 127.9l-3.2-1.3 2 .4 3.2 1.3zM485.5 129.4l-3.3-1.5 2 .4 3.2 1.3zM488.7 131l-3.2-1.6 1.9 .2 3.3 1.6z"/>
<path fill="#ffbe00" d="M492 132.7l-3.3-1.7 2 .2 3.3 1.6zM495.3 134.6l-3.3-1.9 2 .1 3.3 1.7z"/>
<path fill="#ffce00" d="M498.6 136.5l-3.3-1.9 2-.1 3.2 1.8zM502 138.5l-3.4-2 1.9-.2 3.3 1.8z"/>
<path fill="#ffde00" d="M505.3 140.5l-3.3-2 1.8-.4 3.4 1.9zM508.6 142.6l-3.3-2.1 1.9-.5 3.3 1.9z"/>
<path fill="#ffef00" d="M512 144.7l-3.4-2.1 1.9-.7 3.3 2z"/>
<path fill="#ffff00" d="M515.3 146.9l-3.3-2.2 1.8-.8 3.3 2zM518.7 149.1l-3.4-2.2 1.8-1 3.4 2zM522 151.4l-3.3-2.3 1.8-1.2 3.3 2.1z"/>
<path fill="#f9fd00" d="M525.4 153.7l-3.4-2.3 1.8-1.4 3.4 2.1zM528.8 156.2l-3.4-2.5 1.8-1.6 3.3 2.3z"/>
<path fill="#e3f700" d="M532.2 158.8l-3.4-2.6 1.7-1.8 3.4 2.4z"/>
<path fill="#cdf000" d="M535.5 161.5l-3.3-2.7 1.7-2 3.4 2.6z"/>
<path fill="#b3ec00" d="M538.9 164.6l-3.4-3.1 1.8-2.1 3.3 2.9z"/>
<path fill="#98e700" d="M542.3 167.9l-3.4-3.3 1.7-2.3 3.4 3.2z"/>
<path fill="#7ee300" d="M545.7 171.6l-3.4-3.7 1.7-2.4 3.4 3.5z"/>
<path fill="#64df00" d="M549 175.8l-3.3-4.2 1.7-2.6 3.3 4.1z"/>
<path fill="#32d000" d="M552.4 180.5l-3.4-4.7 1.7-2.7 3.4 4.7z"/>
<path fill="#19c700" d="M555.7 185.9l-3.3-5.4 1.7-2.7 3.3 5.4z"/>
<path fill="#00ae1d" d="M559 192l-3.3-6.1 1.7-2.7 3.3 6.1z"/>
<path fill="#007c71" d="M562.3 199l-3.3-7 1.7-2.7 3.2 7.2z"/>
<path fill="#0045b6" d="M565.5 207l-3.2-8 1.6-2.5 3.2 8.2z"/>
<path fill="#0006f9" d="M568.7 216.2l-3.2-9.2 1.6-2.3 3.1 9.5z"/>
<path fill="#cdf000" d="M422.3 138.8l-2.8 1.7 2.5 4.3 2.8-2.1z"/>
<path fill="#e3f700" d="M425.1 136.8l-2.8 2 2.5 3.9 2.7-2.2z"/>
<path fill="#f9fd00" d="M427.9 134.9l-2.8 1.9 2.4 3.7 2.8-2.3z"/>
<path fill="#ffff00" d="M430.8 132.9l-2.9 2 2.4 3.3 2.8-2.2zM433.6 130.9l-2.8 2 2.3 3.1 2.9-2.2z"/>
<path fill="#ffef00" d="M436.5 129.1l-2.9 1.8 2.4 2.9 2.8-2.1z"/>
<path fill="#ffde00" d="M439.4 127.4l-2.9 1.7 2.3 2.6 2.9-1.9z"/>
<path fill="#ffce00" d="M442.4 126l-3 1.4 2.3 2.4 3-1.7z"/>
<path fill="#ffbe00" d="M445.4 124.7l-3 1.3 2.3 2.1 2.9-1.5z"/>
<path fill="#ffac00" d="M448.4 123.6l-3 1.1 2.2 1.9 3-1.2zM451.5 122.8l-3.1 .8 2.2 1.8 3.1-.9z"/>
<path fill="#ff9e00" d="M454.6 122.3l-3.1 .5 2.2 1.7 3-.7zM457.7 122l-3.1 .3 2.1 1.5 3.1-.4zM460.8 122l-3.1 0 2.1 1.4 3.2-.1z"/>
<path fill="#ff8f00" d="M464 122.3l-3.2-.3 2.2 1.3 3.1 .2zM467.2 122.8l-3.2-.5 2.1 1.2 3.2 .4zM470.4 123.6l-3.2-.8 2.1 1.1 3.2 .7zM473.6 124.6l-3.2-1 2.1 1 3.2 .9z"/>
<path fill="#ff9e00" d="M476.9 125.8l-3.3-1.2 2.1 .9 3.3 1.1zM480.2 127.2l-3.3-1.4 2.1 .8 3.2 1.3zM483.5 128.7l-3.3-1.5 2 .7 3.3 1.5z"/>
<path fill="#ffac00" d="M486.8 130.4l-3.3-1.7 2 .7 3.2 1.6zM490.1 132.3l-3.3-1.9 1.9 .6 3.3 1.7z"/>
<path fill="#ffbe00" d="M493.4 134.3l-3.3-2 1.9 .4 3.3 1.9zM496.7 136.4l-3.3-2.1 1.9 .3 3.3 1.9z"/>
<path fill="#ffce00" d="M500.1 138.5l-3.4-2.1 1.9 .1 3.4 2z"/>
<path fill="#ffde00" d="M503.4 140.8l-3.3-2.3 1.9 0 3.3 2zM506.8 143.1l-3.4-2.3 1.9-.3 3.3 2.1z"/>
<path fill="#ffef00" d="M510.1 145.5l-3.3-2.4 1.8-.5 3.4 2.1zM513.5 147.9l-3.4-2.4 1.9-.8 3.3 2.2z"/>
<path fill="#ffff00" d="M516.9 150.4l-3.4-2.5 1.8-1 3.4 2.2zM520.2 153l-3.3-2.6 1.8-1.3 3.3 2.3z"/>
<path fill="#f9fd00" d="M523.6 155.7l-3.4-2.7 1.8-1.6 3.4 2.3zM527 158.4l-3.4-2.7 1.8-2 3.4 2.5z"/>
<path fill="#e3f700" d="M530.4 161.4l-3.4-3 1.8-2.2 3.4 2.6z"/>
<path fill="#cdf000" d="M533.8 164.5l-3.4-3.1 1.8-2.6 3.3 2.7z"/>
<path fill="#b3ec00" d="M537.2 167.8l-3.4-3.3 1.7-3 3.4 3.1z"/>
<path fill="#98e700" d="M540.6 171.3l-3.4-3.5 1.7-3.2 3.4 3.3z"/>
<path fill="#7ee300" d="M544 175.2l-3.4-3.9 1.7-3.4 3.4 3.7z"/>
<path fill="#4bd800" d="M547.3 179.5l-3.3-4.3 1.7-3.6 3.3 4.2z"/>
<path fill="#32d000" d="M550.7 184.3l-3.4-4.8 1.7-3.7 3.4 4.7z"/>
<path fill="#00be00" d="M554 189.6l-3.3-5.3 1.7-3.8 3.3 5.4z"/>
<path fill="#009e3b" d="M557.4 195.6l-3.4-6 1.7-3.7 3.3 6.1z"/>
<path fill="#007c71" d="M560.7 202.4l-3.3-6.8 1.6-3.6 3.3 7z"/>
<path fill="#0045b6" d="M563.9 209.9l-3.2-7.5 1.6-3.4 3.2 8z"/>
<path fill="#0006f9" d="M567.1 218.5l-3.2-8.6 1.6-2.9 3.2 9.2z"/>
<path fill="#ffff00" d="M419.7 134l-2.8 1.6 2.6 4.9 2.8-1.7zM422.5 132.3l-2.8 1.7 2.6 4.8 2.8-2zM425.4 130.6l-2.9 1.7 2.6 4.5 2.8-1.9z"/>
<path fill="#ffef00" d="M428.3 128.9l-2.9 1.7 2.5 4.3 2.9-2z"/>
<path fill="#ffde00" d="M431.2 127.2l-2.9 1.7 2.5 4 2.8-2z"/>
<path fill="#ffce00" d="M434.1 125.7l-2.9 1.5 2.4 3.7 2.9-1.8z"/>
<path fill="#ffbe00" d="M437.1 124.2l-3 1.5 2.4 3.4 2.9-1.7z"/>
<path fill="#ffac00" d="M440.1 123l-3 1.2 2.3 3.2 3-1.4z"/>
<path fill="#ff9e00" d="M443.1 121.9l-3 1.1 2.3 3 3-1.3zM446.1 121.1l-3 .8 2.3 2.8 3-1.1z"/>
<path fill="#ff8f00" d="M449.2 120.5l-3.1 .6 2.3 2.5 3.1-.8zM452.3 120.1l-3.1 .4 2.3 2.3 3.1-.5zM455.5 120l-3.2 .1 2.3 2.2 3.1-.3z"/>
<path fill="#ff8100" d="M458.6 120.1l-3.1-.1 2.2 2 3.1 0zM461.8 120.5l-3.2-.4 2.2 1.9 3.2 .3zM465 121.1l-3.2-.6 2.2 1.8 3.2 .5zM468.3 122l-3.3-.9 2.2 1.7 3.2 .8z"/>
<path fill="#ff8f00" d="M471.5 123l-3.2-1 2.1 1.6 3.2 1zM474.8 124.3l-3.3-1.3 2.1 1.6 3.3 1.2zM478.1 125.8l-3.3-1.5 2.1 1.5 3.3 1.4zM481.4 127.5l-3.3-1.7 2.1 1.4 3.3 1.5z"/>
<path fill="#ff9e00" d="M484.7 129.4l-3.3-1.9 2.1 1.2 3.3 1.7zM488.1 131.4l-3.4-2 2.1 1 3.3 1.9z"/>
<path fill="#ffac00" d="M491.4 133.6l-3.3-2.2 2 .9 3.3 2z"/>
<path fill="#ffbe00" d="M494.8 135.9l-3.4-2.3 2 .7 3.3 2.1zM498.1 138.3l-3.3-2.4 1.9 .5 3.4 2.1z"/>
<path fill="#ffce00" d="M501.5 140.8l-3.4-2.5 2 .2 3.3 2.3z"/>
<path fill="#ffde00" d="M504.9 143.5l-3.4-2.7 1.9 0 3.4 2.3zM508.3 146.2l-3.4-2.7 1.9-.4 3.3 2.4z"/>
<path fill="#ffef00" d="M511.6 149l-3.3-2.8 1.8-.7 3.4 2.4z"/>
<path fill="#ffff00" d="M515 152l-3.4-3 1.9-1.1 3.4 2.5zM518.4 155l-3.4-3 1.9-1.6 3.3 2.6z"/>
<path fill="#f9fd00" d="M521.8 158.1l-3.4-3.1 1.8-2 3.4 2.7z"/>
<path fill="#e3f700" d="M525.2 161.4l-3.4-3.3 1.8-2.4 3.4 2.7z"/>
<path fill="#cdf000" d="M528.6 164.7l-3.4-3.3 1.8-3 3.4 3z"/>
<path fill="#b3ec00" d="M532 168.3l-3.4-3.6 1.8-3.3 3.4 3.1z"/>
<path fill="#98e700" d="M535.4 172l-3.4-3.7 1.8-3.8 3.4 3.3z"/>
<path fill="#7ee300" d="M538.8 175.9l-3.4-3.9 1.8-4.2 3.4 3.5z"/>
<path fill="#64df00" d="M542.2 180.1l-3.4-4.2 1.8-4.6 3.4 3.9z"/>
<path fill="#32d000" d="M545.6 184.6l-3.4-4.5 1.8-4.9 3.3 4.3z"/>
<path fill="#19c700" d="M549 189.5l-3.4-4.9 1.7-5.1 3.4 4.8z"/>
<path fill="#00ae1d" d="M552.3 194.7l-3.3-5.2 1.7-5.2 3.3 5.3z"/>
<path fill="#008e58" d="M555.7 200.4l-3.4-5.7 1.7-5.1 3.4 6z"/>
<path fill="#006a88" d="M559 206.7l-3.3-6.3 1.7-4.8 3.3 6.8z"/>
<path fill="#0032cd" d="M562.3 213.5l-3.3-6.8 1.7-4.3 3.2 7.5z"/>
<path fill="#0000ff" d="M565.5 221.1l-3.2-7.6 1.6-3.6 3.2 8.6z"/>
<path fill="#ffef00" d="M417 128.3l-2.8 1.6 2.7 5.7 2.8-1.6z"/>
<path fill="#ffde00" d="M419.9 126.7l-2.9 1.6 2.7 5.7 2.8-1.7z"/>
<path fill="#ffce00" d="M422.8 125.2l-2.9 1.5 2.6 5.6 2.9-1.7z"/>
<path fill="#ffbe00" d="M425.7 123.7l-2.9 1.5 2.6 5.4 2.9-1.7z"/>
<path fill="#ffac00" d="M428.6 122.3l-2.9 1.4 2.6 5.2 2.9-1.7zM431.6 121.1l-3 1.2 2.6 4.9 2.9-1.5z"/>
<path fill="#ff9e00" d="M434.6 119.9l-3 1.2 2.5 4.6 3-1.5z"/>
<path fill="#ff8f00" d="M437.6 119l-3 .9 2.5 4.3 3-1.2zM440.7 118.2l-3.1 .8 2.5 4 3-1.1z"/>
<path fill="#ff8100" d="M443.8 117.6l-3.1 .6 2.4 3.7 3-.8zM446.9 117.2l-3.1 .4 2.3 3.5 3.1-.6z"/>
<path fill="#ff7200" d="M450 117.1l-3.1 .1 2.3 3.3 3.1-.4zM453.2 117.1l-3.2 0 2.3 3 3.2-.1zM456.4 117.4l-3.2-.3 2.3 2.9 3.1 .1zM459.6 117.9l-3.2-.5 2.2 2.7 3.2 .4zM462.8 118.6l-3.2-.7 2.2 2.6 3.2 .6zM466.1 119.6l-3.3-1 2.2 2.5 3.3 .9zM469.4 120.7l-3.3-1.1 2.2 2.4 3.2 1z"/>
<path fill="#ff8100" d="M472.7 122.1l-3.3-1.4 2.1 2.3 3.3 1.3zM476 123.8l-3.3-1.7 2.1 2.2 3.3 1.5zM479.3 125.6l-3.3-1.8 2.1 2 3.3 1.7z"/>
<path fill="#ff8f00" d="M482.7 127.6l-3.4-2 2.1 1.9 3.3 1.9zM486 129.8l-3.3-2.2 2 1.8 3.4 2z"/>
<path fill="#ff9e00" d="M489.4 132.2l-3.4-2.4 2.1 1.6 3.3 2.2z"/>
<path fill="#ffac00" d="M492.8 134.8l-3.4-2.6 2 1.4 3.4 2.3z"/>
<path fill="#ffbe00" d="M496.2 137.6l-3.4-2.8 2 1.1 3.3 2.4zM499.6 140.5l-3.4-2.9 1.9 .7 3.4 2.5z"/>
<path fill="#ffce00" d="M503 143.6l-3.4-3.1 1.9 .3 3.4 2.7z"/>
<path fill="#ffde00" d="M506.4 146.8l-3.4-3.2 1.9-.1 3.4 2.7z"/>
<path fill="#ffef00" d="M509.8 150.2l-3.4-3.4 1.9-.6 3.3 2.8z"/>
<path fill="#ffff00" d="M513.2 153.7l-3.4-3.5 1.8-1.2 3.4 3zM516.6 157.3l-3.4-3.6 1.8-1.7 3.4 3z"/>
<path fill="#f9fd00" d="M520 161.1l-3.4-3.8 1.8-2.3 3.4 3.1z"/>
<path fill="#e3f700" d="M523.4 165l-3.4-3.9 1.8-3 3.4 3.3z"/>
<path fill="#b3ec00" d="M526.8 169l-3.4-4 1.8-3.6 3.4 3.3z"/>
<path fill="#98e700" d="M530.2 173.2l-3.4-4.2 1.8-4.3 3.4 3.6z"/>
<path fill="#7ee300" d="M533.6 177.5l-3.4-4.3 1.8-4.9 3.4 3.7z"/>
<path fill="#64df00" d="M537 181.9l-3.4-4.4 1.8-5.5 3.4 3.9z"/>
<path fill="#32d000" d="M540.4 186.5l-3.4-4.6 1.8-6 3.4 4.2z"/>
<path fill="#19c700" d="M543.8 191.3l-3.4-4.8 1.8-6.4 3.4 4.5z"/>
<path fill="#00ae1d" d="M547.2 196.2l-3.4-4.9 1.8-6.7 3.4 4.9z"/>
<path fill="#008e58" d="M550.6 201.3l-3.4-5.1 1.8-6.7 3.3 5.2z"/>
<path fill="#006a88" d="M553.9 206.6l-3.3-5.3 1.7-6.6 3.4 5.7z"/>
<path fill="#0045b6" d="M557.2 212.2l-3.3-5.6 1.8-6.2 3.3 6.3z"/>
<path fill="#001ce3" d="M560.6 218l-3.4-5.8 1.8-5.5 3.3 6.8z"/>
<path fill="#0000ff" d="M563.9 224l-3.3-6 1.7-4.5 3.2 7.6z"/>
<path fill="#ffbe00" d="M414.2 121.4l-2.9 1.8 2.9 6.7 2.8-1.6z"/>
<path fill="#ffac00" d="M417.1 119.8l-2.9 1.6 2.8 6.9 2.9-1.6z"/>
<path fill="#ff9e00" d="M420 118.3l-2.9 1.5 2.8 6.9 2.9-1.5z"/>
<path fill="#ff8f00" d="M422.9 117.1l-2.9 1.2 2.8 6.9 2.9-1.5zM425.9 115.9l-3 1.2 2.8 6.6 2.9-1.4z"/>
<path fill="#ff8100" d="M428.9 115l-3 .9 2.7 6.4 3-1.2z"/>
<path fill="#ff7200" d="M432 114.2l-3.1 .8 2.7 6.1 3-1.2zM435.1 113.6l-3.1 .6 2.6 5.7 3-.9z"/>
<path fill="#ff6100" d="M438.1 113.1l-3 .5 2.5 5.4 3.1-.8zM441.3 112.9l-3.2 .2 2.6 5.1 3.1-.6zM444.4 112.8l-3.1 .1 2.5 4.7 3.1-.4zM447.6 112.8l-3.2 0 2.5 4.4 3.1-.1z"/>
<path fill="#ff5100" d="M450.8 113.1l-3.2-.3 2.4 4.3 3.2 0zM454 113.6l-3.2-.5 2.4 4 3.2 .3zM457.3 114.2l-3.3-.6 2.4 3.8 3.2 .5zM460.5 115.1l-3.2-.9 2.3 3.7 3.2 .7zM463.8 116.2l-3.3-1.1 2.3 3.5 3.3 1z"/>
<path fill="#ff6100" d="M467.1 117.5l-3.3-1.3 2.3 3.4 3.3 1.1zM470.5 119l-3.4-1.5 2.3 3.2 3.3 1.4zM473.8 120.8l-3.3-1.8 2.2 3.1 3.3 1.7z"/>
<path fill="#ff7200" d="M477.2 122.8l-3.4-2 2.2 3 3.3 1.8z"/>
<path fill="#ff8100" d="M480.6 125l-3.4-2.2 2.1 2.8 3.4 2zM483.9 127.5l-3.3-2.5 2.1 2.6 3.3 2.2z"/>
<path fill="#ff8f00" d="M487.3 130.2l-3.4-2.7 2.1 2.3 3.4 2.4z"/>
<path fill="#ff9e00" d="M490.8 133.2l-3.5-3 2.1 2 3.4 2.6z"/>
<path fill="#ffac00" d="M494.2 136.4l-3.4-3.2 2 1.6 3.4 2.8z"/>
<path fill="#ffbe00" d="M497.6 139.8l-3.4-3.4 2 1.2 3.4 2.9z"/>
<path fill="#ffce00" d="M501 143.4l-3.4-3.6 2 .7 3.4 3.1z"/>
<path fill="#ffde00" d="M504.5 147.3l-3.5-3.9 2 .2 3.4 3.2z"/>
<path fill="#ffef00" d="M507.9 151.4l-3.4-4.1 1.9-.5 3.4 3.4z"/>
<path fill="#ffff00" d="M511.3 155.6l-3.4-4.2 1.9-1.2 3.4 3.5zM514.8 160.1l-3.5-4.5 1.9-1.9 3.4 3.6z"/>
<path fill="#e3f700" d="M518.2 164.7l-3.4-4.6 1.8-2.8 3.4 3.8z"/>
<path fill="#cdf000" d="M521.6 169.5l-3.4-4.8 1.8-3.6 3.4 3.9z"/>
<path fill="#98e700" d="M525 174.4l-3.4-4.9 1.8-4.5 3.4 4z"/>
<path fill="#7ee300" d="M528.4 179.3l-3.4-4.9 1.8-5.4 3.4 4.2z"/>
<path fill="#4bd800" d="M531.8 184.4l-3.4-5.1 1.8-6.1 3.4 4.3z"/>
<path fill="#32d000" d="M535.2 189.5l-3.4-5.1 1.8-6.9 3.4 4.4z"/>
<path fill="#00be00" d="M538.6 194.6l-3.4-5.1 1.8-7.6 3.4 4.6z"/>
<path fill="#009e3b" d="M542 199.7l-3.4-5.1 1.8-8.1 3.4 4.8z"/>
<path fill="#008e58" d="M545.4 204.7l-3.4-5 1.8-8.4 3.4 4.9z"/>
<path fill="#006a88" d="M548.8 209.6l-3.4-4.9 1.8-8.5 3.4 5.1z"/>
<path fill="#0045b6" d="M552.1 214.4l-3.3-4.8 1.8-8.3 3.3 5.3z"/>
<path fill="#001ce3" d="M555.5 219l-3.4-4.6 1.8-7.8 3.3 5.6z"/>
<path fill="#0006f9" d="M558.9 223.3l-3.4-4.3 1.7-6.8 3.4 5.8z"/>
<path fill="#0000ff" d="M562.2 227.4l-3.3-4.1 1.7-5.3 3.3 6z"/></g>
<g><path class="g" d="M194.5 490.9L247.3 431.1M177.6 487.1L232.8 428.5M161.1 483.4L218.5 425.9M145 479.8L204.4 423.4M129.2 476.3L190.7 420.9M113.7 472.8L177.1 418.5M98.6 469.4L163.8 416.1M83.7 466.1L150.7 413.7M221.5 482.9L85.1 453.6M230.6 471.9L97.5 444.3M239.2 461.5L109.1 435.5M247.3 451.7L120.1 427.2M254.9 442.5L130.5 419.3M85.1 453.6L77.1 337M97.5 444.3L90.8 330.6M109.1 435.5L103.7 324.5M120.1 427.2L115.7 318.8M130.5 419.3L127.1 313.4M69.8 435.5L139.8 387.4M67.5 406.4L139.2 362.1M65.1 375.9L138.6 335.7M247.3 431.1L253.7 321.2M232.8 428.5L237.8 319.4M218.5 425.9L222.3 317.7M204.4 423.4L207.1 316M190.7 420.9L192.1 314.4M177.1 418.5L177.5 312.7M163.8 416.1L163.1 311.1M150.7 413.7L149 309.6M263.9 407.7L139.8 387.4M265.8 380.7L139.2 362.1M267.8 352.4L138.6 335.7"/>
<path class="e" d="M72.1 463.4L211.7 494.8M211.7 494.8L262.1 433.8M72.1 463.4L140.4 411.9M140.4 411.9L262.1 433.8M72.1 463.4L62.5 343.9M140.4 411.9L137.9 308.3M262.1 433.8L269.8 323M62.5 343.9L137.9 308.3M137.9 308.3L269.8 323"/></g>
<g class="sc"><path fill="#320080" d="M183.4 420.4l-1.4 .1 2.1-.4zM185.8 420.1l-2.4 .3 .7-.3 .9-.2 1.8-.2z"/>
<path fill="#310085" d="M188.2 419.7l-2.4 .4 1-.4 2.5-.5zM190.6 419.1l-2.4 .6 1.1-.5 2.4-.6z"/>
<path fill="#31008a" d="M193.1 418.4l-2.5 .7 1.1-.5 2.4-.7zM195.5 417.6l-2.4 .8 1-.5 2.5-.9z"/>
<path fill="#300090" d="M198 416.6l-2.5 1 1.1-.6 2.4-1z"/>
<path fill="#2f0095" d="M200.5 415.4l-2.5 1.2 1-.6 2.5-1.2z"/>
<path fill="#2e009a" d="M203 414.1l-2.5 1.3 1-.6 2.5-1.4z"/>
<path fill="#2e009f" d="M205.5 412.6l-2.5 1.5 1-.7 2.5-1.6z"/>
<path fill="#2d00a5" d="M208.1 411l-2.6 1.6 1-.8 2.6-1.7z"/>
<path fill="#2b00ad" d="M210.6 409.2l-2.5 1.8 1-.9 2.5-1.9z"/>
<path fill="#2800b6" d="M213.2 407.2l-2.6 2 1-1 2.6-2.1z"/>
<path fill="#2600c0" d="M215.8 405.1l-2.6 2.1 1-1.1 2.6-2.2z"/>
<path fill="#2100d2" d="M218.5 402.8l-2.7 2.3 1-1.2 2.6-2.4z"/>
<path fill="#1e00db" d="M221.1 400.4l-2.6 2.4 .9-1.3 2.7-2.6z"/>
<path fill="#1500e7" d="M223.8 397.9l-2.7 2.5 1-1.5 2.7-2.7z"/>
<path fill="#1000ed" d="M226.5 395.2l-2.7 2.7 1-1.7 2.7-2.9z"/>
<path fill="#0600f8" d="M229.2 392.3l-2.7 2.9 1-1.9 2.7-3.1z"/>
<path fill="#000bf4" d="M232 389.4l-2.8 2.9 1-2.1 2.8-3.2z"/>
<path fill="#0019e8" d="M234.8 386.2l-2.8 3.2 1-2.4 2.8-3.4z"/>
<path fill="#0034cf" d="M237.6 383l-2.8 3.2 1-2.6 2.8-3.6z"/>
<path fill="#0052a9" d="M240.4 379.5l-2.8 3.5 1-3 2.9-3.7z"/>
<path fill="#00717c" d="M243.3 375.9l-2.9 3.6 1.1-3.2 2.9-3.9z"/>
<path fill="#07904c" d="M246.2 372.1l-2.9 3.8 1.1-3.5 2.9-4.1z"/>
<path fill="#16af19" d="M249.2 368.1l-3 4 1.1-3.8 3-4.3z"/>
<path fill="#41c900" d="M252.2 363.7l-3 4.4 1.1-4.1 3-4.5z"/>
<path fill="#a7e800" d="M255.3 359l-3.1 4.7 1.1-4.2 3.1-4.8z"/>
<path fill="#e5f800" d="M258.4 354l-3.1 5 1.1-4.3 3.1-5.2z"/>
<path fill="#ffdf00" d="M261.5 348.4l-3.1 5.6 1.1-4.5 3.2-5.5z"/>
<path fill="#ffc200" d="M264.8 342.3l-3.3 6.1 1.2-4.4 3.2-5.9z"/>
<path fill="#ff9600" d="M268.1 335.4l-3.3 6.9 1.1-4.2 3.3-6.4z"/>
<path fill="#320080" d="M179.9 421.1l-.8 0 1.3-.2zM182.3 420.9l-2.4 .2 .5-.2 1.6-.4 1.4-.1zM184.8 420.7l-2.5 .2 1.1-.5 2.4-.3z"/>
<path fill="#310085" d="M187.2 420.3l-2.4 .4 1-.6 2.4-.4zM189.6 419.8l-2.4 .5 1-.6 2.4-.6z"/>
<path fill="#31008a" d="M192.1 419.1l-2.5 .7 1-.7 2.5-.7z"/>
<path fill="#300090" d="M194.5 418.3l-2.4 .8 1-.7 2.4-.8zM197 417.4l-2.5 .9 1-.7 2.5-1z"/>
<path fill="#2f0095" d="M199.5 416.3l-2.5 1.1 1-.8 2.5-1.2z"/>
<path fill="#2e009a" d="M202 415l-2.5 1.3 1-.9 2.5-1.3z"/>
<path fill="#2e009f" d="M204.5 413.5l-2.5 1.5 1-.9 2.5-1.5z"/>
<path fill="#2d00a5" d="M207.1 412l-2.6 1.5 1-.9 2.6-1.6z"/>
<path fill="#2b00ad" d="M209.6 410.2l-2.5 1.8 1-1 2.5-1.8z"/>
<path fill="#2800b6" d="M212.2 408.3l-2.6 1.9 1-1 2.6-2z"/>
<path fill="#2600c0" d="M214.8 406.3l-2.6 2 1-1.1 2.6-2.1z"/>
<path fill="#2100d2" d="M217.5 404.1l-2.7 2.2 1-1.2 2.7-2.3z"/>
<path fill="#1e00db" d="M220.1 401.8l-2.6 2.3 1-1.3 2.6-2.4z"/>
<path fill="#1a00e1" d="M222.8 399.3l-2.7 2.5 1-1.4 2.7-2.5z"/>
<path fill="#1000ed" d="M225.5 396.8l-2.7 2.5 1-1.4 2.7-2.7z"/>
<path fill="#0b00f3" d="M228.2 394.1l-2.7 2.7 1-1.6 2.7-2.9z"/>
<path fill="#0100fe" d="M231 391.2l-2.8 2.9 1-1.8 2.8-2.9z"/>
<path fill="#0019e8" d="M233.8 388.3l-2.8 2.9 1-1.8 2.8-3.2z"/>
<path fill="#0026dc" d="M236.6 385.2l-2.8 3.1 1-2.1 2.8-3.2z"/>
<path fill="#0042bf" d="M239.4 381.9l-2.8 3.3 1-2.2 2.8-3.5z"/>
<path fill="#006292" d="M242.3 378.5l-2.9 3.4 1-2.4 2.9-3.6z"/>
<path fill="#008165" d="M245.2 374.9l-2.9 3.6 1-2.6 2.9-3.8z"/>
<path fill="#0fa033" d="M248.2 371l-3 3.9 1-2.8 3-4z"/>
<path fill="#1ebe00" d="M251.2 366.8l-3 4.2 1-2.9 3-4.4z"/>
<path fill="#64d400" d="M254.2 362.3l-3 4.5 1-3.1 3.1-4.7z"/>
<path fill="#c6f000" d="M257.3 357.3l-3.1 5 1.1-3.3 3.1-5z"/>
<path fill="#fffc00" d="M260.5 351.8l-3.2 5.5 1.1-3.3 3.1-5.6z"/>
<path fill="#ffd100" d="M263.7 345.7l-3.2 6.1 1-3.4 3.3-6.1z"/>
<path fill="#ffa400" d="M267 338.8l-3.3 6.9 1.1-3.4 3.3-6.9z"/>
<path fill="#320080" d="M176.5 421.7l-.2 0 .3 0zM178.9 421.7l-2.4 0 .1 0 2.5-.6 .8 0zM181.3 421.6l-2.4 .1 1-.6 2.4-.2z"/>
<path fill="#310085" d="M183.7 421.4l-2.4 .2 1-.7 2.5-.2zM186.1 421l-2.4 .4 1.1-.7 2.4-.4zM188.6 420.6l-2.5 .4 1.1-.7 2.4-.5z"/>
<path fill="#31008a" d="M191 420l-2.4 .6 1-.8 2.5-.7z"/>
<path fill="#300090" d="M193.5 419.2l-2.5 .8 1.1-.9 2.4-.8zM196 418.3l-2.5 .9 1-.9 2.5-.9z"/>
<path fill="#2f0095" d="M198.5 417.2l-2.5 1.1 1-.9 2.5-1.1z"/>
<path fill="#2e009a" d="M201 416l-2.5 1.2 1-.9 2.5-1.3z"/>
<path fill="#2e009f" d="M203.5 414.6l-2.5 1.4 1-1 2.5-1.5z"/>
<path fill="#2d00a5" d="M206 413l-2.5 1.6 1-1.1 2.6-1.5z"/>
<path fill="#2b00ad" d="M208.6 411.3l-2.6 1.7 1.1-1 2.5-1.8z"/>
<path fill="#2800b6" d="M211.2 409.5l-2.6 1.8 1-1.1 2.6-1.9z"/>
<path fill="#2600c0" d="M213.8 407.5l-2.6 2 1-1.2 2.6-2z"/>
<path fill="#2300c9" d="M216.5 405.3l-2.7 2.2 1-1.2 2.7-2.2z"/>
<path fill="#1e00db" d="M219.1 403l-2.6 2.3 1-1.2 2.6-2.3z"/>
<path fill="#1a00e1" d="M221.8 400.6l-2.7 2.4 1-1.2 2.7-2.5z"/>
<path fill="#1000ed" d="M224.5 398.1l-2.7 2.5 1-1.3 2.7-2.5z"/>
<path fill="#0b00f3" d="M227.2 395.5l-2.7 2.6 1-1.3 2.7-2.7z"/>
<path fill="#0100fe" d="M230 392.7l-2.8 2.8 1-1.4 2.8-2.9z"/>
<path fill="#000bf4" d="M232.8 389.8l-2.8 2.9 1-1.5 2.8-2.9z"/>
<path fill="#0026dc" d="M235.6 386.8l-2.8 3 1-1.5 2.8-3.1z"/>
<path fill="#0042bf" d="M238.4 383.7l-2.8 3.1 1-1.6 2.8-3.3z"/>
<path fill="#0052a9" d="M241.3 380.3l-2.9 3.4 1-1.8 2.9-3.4z"/>
<path fill="#00717c" d="M244.2 376.8l-2.9 3.5 1-1.8 2.9-3.6z"/>
<path fill="#07904c" d="M247.2 373.1l-3 3.7 1-1.9 3-3.9z"/>
<path fill="#16af19" d="M250.2 369l-3 4.1 1-2.1 3-4.2z"/>
<path fill="#41c900" d="M253.2 364.6l-3 4.4 1-2.2 3-4.5z"/>
<path fill="#a7e800" d="M256.3 359.8l-3.1 4.8 1-2.3 3.1-5z"/>
<path fill="#e5f800" d="M259.4 354.5l-3.1 5.3 1-2.5 3.2-5.5z"/>
<path fill="#ffdf00" d="M262.7 348.5l-3.3 6 1.1-2.7 3.2-6.1z"/>
<path fill="#ffb300" d="M266 341.7l-3.3 6.8 1-2.8 3.3-6.9z"/>
<path fill="#320080" d="M175.4 422.4l-2.2-.1 3.1-.6 .2 0zM177.8 422.4l-2.4 0 1.1-.7 2.4 0zM180.2 422.4l-2.4 0 1.1-.7 2.4-.1z"/>
<path fill="#310085" d="M182.6 422.2l-2.4 .2 1.1-.8 2.4-.2zM185.1 421.9l-2.5 .3 1.1-.8 2.4-.4z"/>
<path fill="#31008a" d="M187.5 421.5l-2.4 .4 1-.9 2.5-.4zM190 420.9l-2.5 .6 1.1-.9 2.4-.6z"/>
<path fill="#300090" d="M192.4 420.2l-2.4 .7 1-.9 2.5-.8zM194.9 419.3l-2.5 .9 1.1-1 2.5-.9z"/>
<path fill="#2f0095" d="M197.4 418.3l-2.5 1 1.1-1 2.5-1.1z"/>
<path fill="#2e009a" d="M199.9 417.1l-2.5 1.2 1.1-1.1 2.5-1.2z"/>
<path fill="#2e009f" d="M202.5 415.7l-2.6 1.4 1.1-1.1 2.5-1.4z"/>
<path fill="#2d00a5" d="M205 414.2l-2.5 1.5 1-1.1 2.5-1.6z"/>
<path fill="#2b00ad" d="M207.6 412.5l-2.6 1.7 1-1.2 2.6-1.7z"/>
<path fill="#2800b6" d="M210.2 410.7l-2.6 1.8 1-1.2 2.6-1.8z"/>
<path fill="#2600c0" d="M212.8 408.7l-2.6 2 1-1.2 2.6-2z"/>
<path fill="#2300c9" d="M215.5 406.5l-2.7 2.2 1-1.2 2.7-2.2z"/>
<path fill="#1e00db" d="M218.1 404.3l-2.6 2.2 1-1.2 2.6-2.3z"/>
<path fill="#1a00e1" d="M220.8 401.9l-2.7 2.4 1-1.3 2.7-2.4z"/>
<path fill="#1500e7" d="M223.5 399.3l-2.7 2.6 1-1.3 2.7-2.5z"/>
<path fill="#0b00f3" d="M226.3 396.7l-2.8 2.6 1-1.2 2.7-2.6z"/>
<path fill="#0600f8" d="M229 393.9l-2.7 2.8 .9-1.2 2.8-2.8z"/>
<path fill="#000bf4" d="M231.8 391l-2.8 2.9 1-1.2 2.8-2.9z"/>
<path fill="#0026dc" d="M234.6 388l-2.8 3 1-1.2 2.8-3z"/>
<path fill="#0034cf" d="M237.5 384.9l-2.9 3.1 1-1.2 2.8-3.1z"/>
<path fill="#0052a9" d="M240.3 381.6l-2.8 3.3 .9-1.2 2.9-3.4z"/>
<path fill="#00717c" d="M243.3 378.1l-3 3.5 1-1.3 2.9-3.5z"/>
<path fill="#07904c" d="M246.2 374.5l-2.9 3.6 .9-1.3 3-3.7z"/>
<path fill="#16af19" d="M249.2 370.5l-3 4 1-1.4 3-4.1z"/>
<path fill="#41c900" d="M252.2 366.3l-3 4.2 1-1.5 3-4.4z"/>
<path fill="#87df00" d="M255.3 361.6l-3.1 4.7 1-1.7 3.1-4.8z"/>
<path fill="#e5f800" d="M258.5 356.5l-3.2 5.1 1-1.8 3.1-5.3z"/>
<path fill="#ffee00" d="M261.7 350.8l-3.2 5.7 .9-2 3.3-6z"/>
<path fill="#ffc200" d="M265 344.4l-3.3 6.4 1-2.3 3.3-6.8z"/>
<path fill="#320080" d="M169.5 422.7l-.2 0 .3 0zM171.9 422.9l-2.4-.2 .1 0 3.3-.4zM174.3 423.1l-2.4-.2 1-.6 .3 0 2.2 .1zM176.7 423.2l-2.4-.1 1.1-.7 2.4 0z"/>
<path fill="#310085" d="M179.1 423.2l-2.4 0 1.1-.8 2.4 0zM181.6 423.1l-2.5 .1 1.1-.8 2.4-.2zM184 422.8l-2.4 .3 1-.9 2.5-.3z"/>
<path fill="#31008a" d="M186.4 422.5l-2.4 .3 1.1-.9 2.4-.4zM188.9 421.9l-2.5 .6 1.1-1 2.5-.6z"/>
<path fill="#300090" d="M191.4 421.3l-2.5 .6 1.1-1 2.4-.7zM193.9 420.4l-2.5 .9 1-1.1 2.5-.9z"/>
<path fill="#2f0095" d="M196.4 419.4l-2.5 1 1-1.1 2.5-1z"/>
<path fill="#2e009a" d="M198.9 418.3l-2.5 1.1 1-1.1 2.5-1.2z"/>
<path fill="#2e009f" d="M201.4 416.9l-2.5 1.4 1-1.2 2.6-1.4z"/>
<path fill="#2d00a5" d="M204 415.4l-2.6 1.5 1.1-1.2 2.5-1.5z"/>
<path fill="#2b00ad" d="M206.6 413.8l-2.6 1.6 1-1.2 2.6-1.7z"/>
<path fill="#2800b6" d="M209.2 411.9l-2.6 1.9 1-1.3 2.6-1.8z"/>
<path fill="#2600c0" d="M211.8 409.9l-2.6 2 1-1.2 2.6-2z"/>
<path fill="#2300c9" d="M214.4 407.8l-2.6 2.1 1-1.2 2.7-2.2z"/>
<path fill="#1e00db" d="M217.1 405.5l-2.7 2.3 1.1-1.3 2.6-2.2z"/>
<path fill="#1a00e1" d="M219.8 403l-2.7 2.5 1-1.2 2.7-2.4z"/>
<path fill="#1500e7" d="M222.5 400.5l-2.7 2.5 1-1.1 2.7-2.6z"/>
<path fill="#0b00f3" d="M225.3 397.8l-2.8 2.7 1-1.2 2.8-2.6z"/>
<path fill="#0600f8" d="M228 395l-2.7 2.8 1-1.1 2.7-2.8z"/>
<path fill="#000bf4" d="M230.8 392l-2.8 3 1-1.1 2.8-2.9z"/>
<path fill="#0026dc" d="M233.7 389l-2.9 3 1-1 2.8-3z"/>
<path fill="#0034cf" d="M236.5 385.8l-2.8 3.2 .9-1 2.9-3.1z"/>
<path fill="#0052a9" d="M239.4 382.5l-2.9 3.3 1-.9 2.8-3.3z"/>
<path fill="#00717c" d="M242.3 379l-2.9 3.5 .9-.9 3-3.5z"/>
<path fill="#07904c" d="M245.3 375.4l-3 3.6 1-.9 2.9-3.6z"/>
<path fill="#16af19" d="M248.3 371.5l-3 3.9 .9-.9 3-4z"/>
<path fill="#41c900" d="M251.3 367.4l-3 4.1 .9-1 3-4.2z"/>
<path fill="#87df00" d="M254.4 362.9l-3.1 4.5 .9-1.1 3.1-4.7z"/>
<path fill="#c6f000" d="M257.5 358.1l-3.1 4.8 .9-1.3 3.2-5.1z"/>
<path fill="#ffee00" d="M260.7 352.8l-3.2 5.3 1-1.6 3.2-5.7z"/>
<path fill="#ffc200" d="M264 346.9l-3.3 5.9 1-2 3.3-6.4z"/>
<path fill="#320080" d="M163.6 422.8l-.4-.1 .5 0zM166 423.1l-2.4-.3 .1-.1 2.8 .1zM168.4 423.4l-2.4-.3 .5-.3 2.8-.1 .2 0zM170.8 423.7l-2.4-.3 1.1-.7 2.4 .2zM173.2 423.9l-2.4-.2 1.1-.8 2.4 .2zM175.6 424l-2.4-.1 1.1-.8 2.4 .1z"/>
<path fill="#310085" d="M178 424l-2.4 0 1.1-.8 2.4 0zM180.5 424l-2.5 0 1.1-.8 2.5-.1zM182.9 423.8l-2.4 .2 1.1-.9 2.4-.3z"/>
<path fill="#31008a" d="M185.4 423.5l-2.5 .3 1.1-1 2.4-.3zM187.8 423l-2.4 .5 1-1 2.5-.6z"/>
<path fill="#300090" d="M190.3 422.4l-2.5 .6 1.1-1.1 2.5-.6zM192.8 421.6l-2.5 .8 1.1-1.1 2.5-.9z"/>
<path fill="#2f0095" d="M195.3 420.7l-2.5 .9 1.1-1.2 2.5-1z"/>
<path fill="#2e009a" d="M197.8 419.5l-2.5 1.2 1.1-1.3 2.5-1.1zM200.4 418.2l-2.6 1.3 1.1-1.2 2.5-1.4z"/>
<path fill="#2e009f" d="M203 416.8l-2.6 1.4 1-1.3 2.6-1.5z"/>
<path fill="#2d00a5" d="M205.5 415.1l-2.5 1.7 1-1.4 2.6-1.6z"/>
<path fill="#2800b6" d="M208.1 413.2l-2.6 1.9 1.1-1.3 2.6-1.9z"/>
<path fill="#2600c0" d="M210.8 411.2l-2.7 2 1.1-1.3 2.6-2z"/>
<path fill="#2300c9" d="M213.4 409.1l-2.6 2.1 1-1.3 2.6-2.1z"/>
<path fill="#2100d2" d="M216.1 406.7l-2.7 2.4 1-1.3 2.7-2.3z"/>
<path fill="#1a00e1" d="M218.8 404.2l-2.7 2.5 1-1.2 2.7-2.5z"/>
<path fill="#1500e7" d="M221.5 401.6l-2.7 2.6 1-1.2 2.7-2.5z"/>
<path fill="#0b00f3" d="M224.3 398.8l-2.8 2.8 1-1.1 2.8-2.7z"/>
<path fill="#0600f8" d="M227 395.9l-2.7 2.9 1-1 2.7-2.8z"/>
<path fill="#000bf4" d="M229.9 392.9l-2.9 3 1-.9 2.8-3z"/>
<path fill="#0026dc" d="M232.7 389.7l-2.8 3.2 .9-.9 2.9-3z"/>
<path fill="#0034cf" d="M235.6 386.5l-2.9 3.2 1-.7 2.8-3.2z"/>
<path fill="#0052a9" d="M238.4 383.1l-2.8 3.4 .9-.7 2.9-3.3z"/>
<path fill="#00717c" d="M241.4 379.6l-3 3.5 1-.6 2.9-3.5z"/>
<path fill="#07904c" d="M244.3 375.9l-2.9 3.7 .9-.6 3-3.6z"/>
<path fill="#16af19" d="M247.3 372.1l-3 3.8 1-.5 3-3.9z"/>
<path fill="#41c900" d="M250.4 368.1l-3.1 4 1-.6 3-4.1z"/>
<path fill="#87df00" d="M253.4 363.9l-3 4.2 .9-.7 3.1-4.5z"/>
<path fill="#c6f000" d="M256.5 359.4l-3.1 4.5 1-1 3.1-4.8z"/>
<path fill="#fffc00" d="M259.7 354.6l-3.2 4.8 1-1.3 3.2-5.3z"/>
<path fill="#ffd100" d="M262.9 349.3l-3.2 5.3 1-1.8 3.3-5.9z"/>
<path fill="#320080" d="M155.4 422.4l-.4-.1 .5 0zM157.8 422.7l-2.4-.3 .1-.1 2.7 .2zM160.1 423.1l-2.3-.4 .4-.2 2.8 .1zM162.5 423.4l-2.4-.3 .9-.5 2.2 .1 .4 .1zM164.9 423.8l-2.4-.4 1.1-.6 2.4 .3zM167.3 424.1l-2.4-.3 1.1-.7 2.4 .3zM169.7 424.4l-2.4-.3 1.1-.7 2.4 .3zM172.1 424.6l-2.4-.2 1.1-.7 2.4 .2zM174.5 424.8l-2.4-.2 1.1-.7 2.4 .1z"/>
<path fill="#310085" d="M177 424.9l-2.5-.1 1.1-.8 2.4 0zM179.4 424.9l-2.4 0 1-.9 2.5 0zM181.8 424.8l-2.4 .1 1.1-.9 2.4-.2z"/>
<path fill="#31008a" d="M184.3 424.5l-2.5 .3 1.1-1 2.5-.3zM186.8 424.1l-2.5 .4 1.1-1 2.4-.5zM189.3 423.6l-2.5 .5 1-1.1 2.5-.6z"/>
<path fill="#300090" d="M191.7 422.8l-2.4 .8 1-1.2 2.5-.8z"/>
<path fill="#2f0095" d="M194.3 421.9l-2.6 .9 1.1-1.2 2.5-.9zM196.8 420.9l-2.5 1 1-1.2 2.5-1.2z"/>
<path fill="#2e009a" d="M199.3 419.6l-2.5 1.3 1-1.4 2.6-1.3z"/>
<path fill="#2e009f" d="M201.9 418.1l-2.6 1.5 1.1-1.4 2.6-1.4z"/>
<path fill="#2d00a5" d="M204.5 416.5l-2.6 1.6 1.1-1.3 2.5-1.7z"/>
<path fill="#2b00ad" d="M207.1 414.6l-2.6 1.9 1-1.4 2.6-1.9z"/>
<path fill="#2600c0" d="M209.7 412.6l-2.6 2 1-1.4 2.7-2z"/>
<path fill="#2300c9" d="M212.4 410.4l-2.7 2.2 1.1-1.4 2.6-2.1z"/>
<path fill="#2100d2" d="M215.1 408l-2.7 2.4 1-1.3 2.7-2.4z"/>
<path fill="#1a00e1" d="M217.8 405.5l-2.7 2.5 1-1.3 2.7-2.5z"/>
<path fill="#1500e7" d="M220.5 402.7l-2.7 2.8 1-1.3 2.7-2.6z"/>
<path fill="#0b00f3" d="M223.3 399.9l-2.8 2.8 1-1.1 2.8-2.8z"/>
<path fill="#0600f8" d="M226.1 396.9l-2.8 3 1-1.1 2.7-2.9z"/>
<path fill="#000bf4" d="M228.9 393.7l-2.8 3.2 .9-1 2.9-3z"/>
<path fill="#0026dc" d="M231.7 390.4l-2.8 3.3 1-.8 2.8-3.2z"/>
<path fill="#0034cf" d="M234.6 387l-2.9 3.4 1-.7 2.9-3.2z"/>
<path fill="#0052a9" d="M237.5 383.6l-2.9 3.4 1-.5 2.8-3.4z"/>
<path fill="#00717c" d="M240.4 380l-2.9 3.6 .9-.5 3-3.5z"/>
<path fill="#07904c" d="M243.4 376.3l-3 3.7 1-.4 2.9-3.7z"/>
<path fill="#16af19" d="M246.4 372.5l-3 3.8 .9-.4 3-3.8z"/>
<path fill="#41c900" d="M249.4 368.6l-3 3.9 .9-.4 3.1-4z"/>
<path fill="#87df00" d="M252.5 364.6l-3.1 4 1-.5 3-4.2z"/>
<path fill="#c6f000" d="M255.6 360.4l-3.1 4.2 .9-.7 3.1-4.5z"/>
<path fill="#fffc00" d="M258.7 356.1l-3.1 4.3 .9-1 3.2-4.8z"/>
<path fill="#ffdf00" d="M261.9 351.7l-3.2 4.4 1-1.5 3.2-5.3z"/>
<path fill="#320080" d="M149.5 422.4l-1.1-.1 1.4 0zM151.9 422.7l-2.4-.3 .3-.1 2.9 0zM154.2 423l-2.3-.3 .8-.4 2.3 0 .4 .1zM156.6 423.4l-2.4-.4 1.2-.6 2.4 .3zM159 423.7l-2.4-.3 1.2-.7 2.3 .4zM161.4 424.1l-2.4-.4 1.1-.6 2.4 .3zM163.8 424.5l-2.4-.4 1.1-.7 2.4 .4zM166.2 424.8l-2.4-.3 1.1-.7 2.4 .3zM168.6 425.2l-2.4-.4 1.1-.7 2.4 .3zM171 425.4l-2.4-.2 1.1-.8 2.4 .2z"/>
<path fill="#310085" d="M173.4 425.7l-2.4-.3 1.1-.8 2.4 .2zM175.9 425.8l-2.5-.1 1.1-.9 2.5 .1zM178.3 425.8l-2.4 0 1.1-.9 2.4 0zM180.7 425.8l-2.4 0 1.1-.9 2.4-.1zM183.2 425.6l-2.5 .2 1.1-1 2.5-.3z"/>
<path fill="#31008a" d="M185.7 425.2l-2.5 .4 1.1-1.1 2.5-.4zM188.2 424.7l-2.5 .5 1.1-1.1 2.5-.5z"/>
<path fill="#300090" d="M190.7 424.1l-2.5 .6 1.1-1.1 2.4-.8z"/>
<path fill="#2f0095" d="M193.2 423.2l-2.5 .9 1-1.3 2.6-.9zM195.7 422.2l-2.5 1 1.1-1.3 2.5-1z"/>
<path fill="#2e009a" d="M198.3 421l-2.6 1.2 1.1-1.3 2.5-1.3z"/>
<path fill="#2e009f" d="M200.9 419.6l-2.6 1.4 1-1.4 2.6-1.5z"/>
<path fill="#2d00a5" d="M203.4 418l-2.5 1.6 1-1.5 2.6-1.6z"/>
<path fill="#2b00ad" d="M206.1 416.1l-2.7 1.9 1.1-1.5 2.6-1.9z"/>
<path fill="#2800b6" d="M208.7 414.1l-2.6 2 1-1.5 2.6-2z"/>
<path fill="#2300c9" d="M211.4 411.9l-2.7 2.2 1-1.5 2.7-2.2z"/>
<path fill="#2100d2" d="M214 409.4l-2.6 2.5 1-1.5 2.7-2.4z"/>
<path fill="#1e00db" d="M216.8 406.8l-2.8 2.6 1.1-1.4 2.7-2.5z"/>
<path fill="#1500e7" d="M219.5 404l-2.7 2.8 1-1.3 2.7-2.8z"/>
<path fill="#0b00f3" d="M222.3 401l-2.8 3 1-1.3 2.8-2.8z"/>
<path fill="#0600f8" d="M225.1 397.9l-2.8 3.1 1-1.1 2.8-3z"/>
<path fill="#000bf4" d="M227.9 394.6l-2.8 3.3 1-1 2.8-3.2z"/>
<path fill="#0026dc" d="M230.7 391.1l-2.8 3.5 1-.9 2.8-3.3z"/>
<path fill="#0042bf" d="M233.6 387.6l-2.9 3.5 1-.7 2.9-3.4z"/>
<path fill="#0052a9" d="M236.5 384l-2.9 3.6 1-.6 2.9-3.4z"/>
<path fill="#00717c" d="M239.5 380.3l-3 3.7 1-.4 2.9-3.6z"/>
<path fill="#07904c" d="M242.5 376.5l-3 3.8 .9-.3 3-3.7z"/>
<path fill="#16af19" d="M245.5 372.8l-3 3.7 .9-.2 3-3.8z"/>
<path fill="#41c900" d="M248.5 369l-3 3.8 .9-.3 3-3.9z"/>
<path fill="#87df00" d="M251.6 365.2l-3.1 3.8 .9-.4 3.1-4z"/>
<path fill="#c6f000" d="M254.7 361.4l-3.1 3.8 .9-.6 3.1-4.2z"/>
<path fill="#fffc00" d="M257.8 357.7l-3.1 3.7 .9-1 3.1-4.3z"/>
<path fill="#ffdf00" d="M260.9 354l-3.1 3.7 .9-1.6 3.2-4.4z"/>
<path fill="#320080" d="M143.6 422.5l-1.2-.2 1.5 0zM146 422.7l-2.4-.2 .3-.2 3 0zM148.3 423l-2.3-.3 .9-.4 1.5 0 1.1 .1zM150.7 423.4l-2.4-.4 1.2-.6 2.4 .3zM153.1 423.7l-2.4-.3 1.2-.7 2.3 .3zM155.4 424.1l-2.3-.4 1.1-.7 2.4 .4zM157.8 424.4l-2.4-.3 1.2-.7 2.4 .3zM160.2 424.8l-2.4-.4 1.2-.7 2.4 .4zM162.6 425.2l-2.4-.4 1.2-.7 2.4 .4zM165 425.6l-2.4-.4 1.2-.7 2.4 .3zM167.4 425.9l-2.4-.3 1.2-.8 2.4 .4z"/>
<path fill="#310085" d="M169.9 426.2l-2.5-.3 1.2-.7 2.4 .2zM172.3 426.5l-2.4-.3 1.1-.8 2.4 .3zM174.7 426.7l-2.4-.2 1.1-.8 2.5 .1zM177.2 426.8l-2.5-.1 1.2-.9 2.4 0zM179.7 426.8l-2.5 0 1.1-1 2.4 0zM182.1 426.6l-2.4 .2 1-1 2.5-.2z"/>
<path fill="#31008a" d="M184.6 426.4l-2.5 .2 1.1-1 2.5-.4zM187.1 425.9l-2.5 .5 1.1-1.2 2.5-.5z"/>
<path fill="#300090" d="M189.6 425.3l-2.5 .6 1.1-1.2 2.5-.6zM192.1 424.6l-2.5 .7 1.1-1.2 2.5-.9z"/>
<path fill="#2f0095" d="M194.7 423.6l-2.6 1 1.1-1.4 2.5-1z"/>
<path fill="#2e009a" d="M197.2 422.5l-2.5 1.1 1-1.4 2.6-1.2z"/>
<path fill="#2e009f" d="M199.8 421.1l-2.6 1.4 1.1-1.5 2.6-1.4z"/>
<path fill="#2d00a5" d="M202.4 419.5l-2.6 1.6 1.1-1.5 2.5-1.6z"/>
<path fill="#2b00ad" d="M205 417.7l-2.6 1.8 1-1.5 2.7-1.9z"/>
<path fill="#2800b6" d="M207.6 415.6l-2.6 2.1 1.1-1.6 2.6-2z"/>
<path fill="#2600c0" d="M210.3 413.4l-2.7 2.2 1.1-1.5 2.7-2.2z"/>
<path fill="#2100d2" d="M213 410.9l-2.7 2.5 1.1-1.5 2.6-2.5z"/>
<path fill="#1e00db" d="M215.7 408.2l-2.7 2.7 1-1.5 2.8-2.6z"/>
<path fill="#1500e7" d="M218.5 405.3l-2.8 2.9 1.1-1.4 2.7-2.8z"/>
<path fill="#1000ed" d="M221.2 402.2l-2.7 3.1 1-1.3 2.8-3z"/>
<path fill="#0600f8" d="M224.1 398.9l-2.9 3.3 1.1-1.2 2.8-3.1z"/>
<path fill="#000bf4" d="M226.9 395.5l-2.8 3.4 1-1 2.8-3.3z"/>
<path fill="#0026dc" d="M229.8 391.9l-2.9 3.6 1-.9 2.8-3.5z"/>
<path fill="#0042bf" d="M232.7 388.2l-2.9 3.7 .9-.8 2.9-3.5z"/>
<path fill="#006292" d="M235.6 384.5l-2.9 3.7 .9-.6 2.9-3.6z"/>
<path fill="#008165" d="M238.5 380.7l-2.9 3.8 .9-.5 3-3.7z"/>
<path fill="#07904c" d="M241.5 376.8l-3 3.9 1-.4 3-3.8z"/>
<path fill="#16af19" d="M244.5 373l-3 3.8 1-.3 3-3.7z"/>
<path fill="#41c900" d="M247.6 369.3l-3.1 3.7 1-.2 3-3.8z"/>
<path fill="#87df00" d="M250.6 365.7l-3 3.6 .9-.3 3.1-3.8z"/>
<path fill="#c6f000" d="M253.7 362.3l-3.1 3.4 1-.5 3.1-3.8z"/>
<path fill="#fffc00" d="M256.8 359.2l-3.1 3.1 1-.9 3.1-3.7z"/>
<path fill="#ffee00" d="M259.9 356.3l-3.1 2.9 1-1.5 3.1-3.7z"/>
<path fill="#320080" d="M130.8 421.2l-2.3-.6 .8-.3 1.8 .7zM133.1 421.7l-2.3-.5 .3-.2 2.2 .6zM135.4 422.1l-2.3-.4 .2-.1 2.4 .4zM137.8 422.4l-2.4-.3 .3-.1 2.6 .2zM140.1 422.8l-2.3-.4 .5-.2 2.8 .1zM142.4 423.1l-2.3-.3 1-.5 1.3 0 1.2 .2zM144.8 423.4l-2.4-.3 1.2-.6 2.4 .2zM147.2 423.7l-2.4-.3 1.2-.7 2.3 .3zM149.5 424l-2.3-.3 1.1-.7 2.4 .4zM151.9 424.4l-2.4-.4 1.2-.6 2.4 .3zM154.3 424.8l-2.4-.4 1.2-.7 2.3 .4zM156.7 425.1l-2.4-.3 1.1-.7 2.4 .3zM159.1 425.5l-2.4-.4 1.1-.7 2.4 .4z"/>
<path fill="#310085" d="M161.5 425.9l-2.4-.4 1.1-.7 2.4 .4zM163.9 426.3l-2.4-.4 1.1-.7 2.4 .4zM166.3 426.7l-2.4-.4 1.1-.7 2.4 .3zM168.7 427l-2.4-.3 1.1-.8 2.5 .3zM171.2 427.3l-2.5-.3 1.2-.8 2.4 .3zM173.6 427.6l-2.4-.3 1.1-.8 2.4 .2zM176.1 427.7l-2.5-.1 1.1-.9 2.5 .1zM178.5 427.7l-2.4 0 1.1-.9 2.5 0zM181 427.7l-2.5 0 1.2-.9 2.4-.2z"/>
<path fill="#31008a" d="M183.5 427.5l-2.5 .2 1.1-1.1 2.5-.2zM186 427.1l-2.5 .4 1.1-1.1 2.5-.5z"/>
<path fill="#300090" d="M188.5 426.6l-2.5 .5 1.1-1.2 2.5-.6zM191 425.9l-2.5 .7 1.1-1.3 2.5-.7z"/>
<path fill="#2f0095" d="M193.6 425l-2.6 .9 1.1-1.3 2.6-1z"/>
<path fill="#2e009a" d="M196.1 423.9l-2.5 1.1 1.1-1.4 2.5-1.1zM198.7 422.6l-2.6 1.3 1.1-1.4 2.6-1.4z"/>
<path fill="#2e009f" d="M201.3 421.1l-2.6 1.5 1.1-1.5 2.6-1.6z"/>
<path fill="#2b00ad" d="M203.9 419.3l-2.6 1.8 1.1-1.6 2.6-1.8z"/>
<path fill="#2800b6" d="M206.6 417.3l-2.7 2 1.1-1.6 2.6-2.1z"/>
<path fill="#2600c0" d="M209.3 415l-2.7 2.3 1-1.7 2.7-2.2z"/>
<path fill="#2300c9" d="M212 412.5l-2.7 2.5 1-1.6 2.7-2.5z"/>
<path fill="#1e00db" d="M214.7 409.8l-2.7 2.7 1-1.6 2.7-2.7z"/>
<path fill="#1500e7" d="M217.4 406.8l-2.7 3 1-1.6 2.8-2.9z"/>
<path fill="#1000ed" d="M220.2 403.6l-2.8 3.2 1.1-1.5 2.7-3.1z"/>
<path fill="#0600f8" d="M223 400.2l-2.8 3.4 1-1.4 2.9-3.3z"/>
<path fill="#000bf4" d="M225.9 396.6l-2.9 3.6 1.1-1.3 2.8-3.4z"/>
<path fill="#0026dc" d="M228.8 392.9l-2.9 3.7 1-1.1 2.9-3.6z"/>
<path fill="#0042bf" d="M231.7 389l-2.9 3.9 1-1 2.9-3.7z"/>
<path fill="#006292" d="M234.6 385.1l-2.9 3.9 1-.8 2.9-3.7z"/>
<path fill="#008165" d="M237.6 381.1l-3 4 1-.6 2.9-3.8z"/>
<path fill="#0fa033" d="M240.6 377.2l-3 3.9 .9-.4 3-3.9z"/>
<path fill="#1ebe00" d="M243.6 373.4l-3 3.8 .9-.4 3-3.8z"/>
<path fill="#64d400" d="M246.6 369.7l-3 3.7 .9-.4 3.1-3.7z"/>
<path fill="#87df00" d="M249.7 366.3l-3.1 3.4 1-.4 3-3.6z"/>
<path fill="#c6f000" d="M252.7 363.3l-3 3 .9-.6 3.1-3.4z"/>
<path fill="#fffc00" d="M255.8 360.7l-3.1 2.6 1-1 3.1-3.1z"/>
<path fill="#ffee00" d="M258.8 358.7l-3 2 1-1.5 3.1-2.9z"/>
<path fill="#320080" d="M129.6 421.6l-2.4-.6 1.3-.4 2.3 .6zM131.9 422.1l-2.3-.5 1.2-.4 2.3 .5zM134.2 422.6l-2.3-.5 1.2-.4 2.3 .4zM136.5 423l-2.3-.4 1.2-.5 2.4 .3zM138.9 423.3l-2.4-.3 1.3-.6 2.3 .4zM141.2 423.7l-2.3-.4 1.2-.5 2.3 .3zM143.6 424l-2.4-.3 1.2-.6 2.4 .3zM146 424.4l-2.4-.4 1.2-.6 2.4 .3zM148.3 424.7l-2.3-.3 1.2-.7 2.3 .3zM150.7 425.1l-2.4-.4 1.2-.7 2.4 .4z"/>
<path fill="#310085" d="M153.1 425.5l-2.4-.4 1.2-.7 2.4 .4zM155.5 425.9l-2.4-.4 1.2-.7 2.4 .3zM157.9 426.3l-2.4-.4 1.2-.8 2.4 .4zM160.3 426.7l-2.4-.4 1.2-.8 2.4 .4zM162.7 427.1l-2.4-.4 1.2-.8 2.4 .4zM165.2 427.5l-2.5-.4 1.2-.8 2.4 .4zM167.6 427.9l-2.4-.4 1.1-.8 2.4 .3zM170.1 428.2l-2.5-.3 1.1-.9 2.5 .3zM172.5 428.4l-2.4-.2 1.1-.9 2.4 .3zM175 428.6l-2.5-.2 1.1-.8 2.5 .1zM177.4 428.7l-2.4-.1 1.1-.9 2.4 0zM179.9 428.7l-2.5 0 1.1-1 2.5 0z"/>
<path fill="#31008a" d="M182.4 428.6l-2.5 .1 1.1-1 2.5-.2zM184.9 428.3l-2.5 .3 1.1-1.1 2.5-.4z"/>
<path fill="#300090" d="M187.4 427.9l-2.5 .4 1.1-1.2 2.5-.5zM190 427.3l-2.6 .6 1.1-1.3 2.5-.7z"/>
<path fill="#2f0095" d="M192.5 426.5l-2.5 .8 1-1.4 2.6-.9zM195.1 425.5l-2.6 1 1.1-1.5 2.5-1.1z"/>
<path fill="#2e009a" d="M197.6 424.2l-2.5 1.3 1-1.6 2.6-1.3z"/>
<path fill="#2e009f" d="M200.2 422.7l-2.6 1.5 1.1-1.6 2.6-1.5z"/>
<path fill="#2d00a5" d="M202.9 421l-2.7 1.7 1.1-1.6 2.6-1.8z"/>
<path fill="#2b00ad" d="M205.5 419l-2.6 2 1-1.7 2.7-2z"/>
<path fill="#2600c0" d="M208.2 416.7l-2.7 2.3 1.1-1.7 2.7-2.3z"/>
<path fill="#2300c9" d="M210.9 414.2l-2.7 2.5 1.1-1.7 2.7-2.5z"/>
<path fill="#1e00db" d="M213.6 411.4l-2.7 2.8 1.1-1.7 2.7-2.7z"/>
<path fill="#1a00e1" d="M216.4 408.4l-2.8 3 1.1-1.6 2.7-3z"/>
<path fill="#1000ed" d="M219.2 405.1l-2.8 3.3 1-1.6 2.8-3.2z"/>
<path fill="#0600f8" d="M222 401.6l-2.8 3.5 1-1.5 2.8-3.4z"/>
<path fill="#000bf4" d="M224.9 397.8l-2.9 3.8 1-1.4 2.9-3.6z"/>
<path fill="#0026dc" d="M227.7 394l-2.8 3.8 1-1.2 2.9-3.7z"/>
<path fill="#0042bf" d="M230.7 389.9l-3 4.1 1.1-1.1 2.9-3.9z"/>
<path fill="#006292" d="M233.6 385.9l-2.9 4 1-.9 2.9-3.9z"/>
<path fill="#008165" d="M236.6 381.8l-3 4.1 1-.8 3-4z"/>
<path fill="#0fa033" d="M239.6 377.7l-3 4.1 1-.7 3-3.9z"/>
<path fill="#1ebe00" d="M242.6 373.9l-3 3.8 1-.5 3-3.8z"/>
<path fill="#64d400" d="M245.7 370.3l-3.1 3.6 1-.5 3-3.7z"/>
<path fill="#87df00" d="M248.7 367.1l-3 3.2 .9-.6 3.1-3.4z"/>
<path fill="#c6f000" d="M251.8 364.4l-3.1 2.7 1-.8 3-3z"/>
<path fill="#e5f800" d="M254.8 362.4l-3 2 .9-1.1 3.1-2.6z"/>
<path fill="#fffc00" d="M257.8 361.2l-3 1.2 1-1.7 3-2z"/>
<path fill="#310085" d="M128.3 422l-2.3-.6 1.2-.4 2.4 .6z"/>
<path fill="#320080" d="M130.6 422.6l-2.3-.6 1.3-.4 2.3 .5zM133 423.1l-2.4-.5 1.3-.5 2.3 .5zM135.3 423.5l-2.3-.4 1.2-.5 2.3 .4zM137.7 423.9l-2.4-.4 1.2-.5 2.4 .3zM140 424.3l-2.3-.4 1.2-.6 2.3 .4zM142.4 424.7l-2.4-.4 1.2-.6 2.4 .3z"/>
<path fill="#310085" d="M144.8 425.1l-2.4-.4 1.2-.7 2.4 .4zM147.1 425.5l-2.3-.4 1.2-.7 2.3 .3zM149.5 425.9l-2.4-.4 1.2-.8 2.4 .4zM151.9 426.2l-2.4-.3 1.2-.8 2.4 .4zM154.3 426.7l-2.4-.5 1.2-.7 2.4 .4zM156.7 427.1l-2.4-.4 1.2-.8 2.4 .4zM159.2 427.5l-2.5-.4 1.2-.8 2.4 .4zM161.6 427.9l-2.4-.4 1.1-.8 2.4 .4zM164 428.3l-2.4-.4 1.1-.8 2.5 .4zM166.5 428.7l-2.5-.4 1.2-.8 2.4 .4zM168.9 429l-2.4-.3 1.1-.8 2.5 .3zM171.4 429.3l-2.5-.3 1.2-.8 2.4 .2zM173.8 429.5l-2.4-.2 1.1-.9 2.5 .2zM176.3 429.7l-2.5-.2 1.2-.9 2.4 .1zM178.8 429.8l-2.5-.1 1.1-1 2.5 0z"/>
<path fill="#31008a" d="M181.3 429.7l-2.5 .1 1.1-1.1 2.5-.1zM183.8 429.5l-2.5 .2 1.1-1.1 2.5-.3zM186.3 429.2l-2.5 .3 1.1-1.2 2.5-.4z"/>
<path fill="#300090" d="M188.9 428.7l-2.6 .5 1.1-1.3 2.6-.6zM191.4 427.9l-2.5 .8 1.1-1.4 2.5-.8z"/>
<path fill="#2f0095" d="M194 427l-2.6 .9 1.1-1.4 2.6-1z"/>
<path fill="#2e009a" d="M196.6 425.8l-2.6 1.2 1.1-1.5 2.5-1.3z"/>
<path fill="#2e009f" d="M199.2 424.4l-2.6 1.4 1-1.6 2.6-1.5z"/>
<path fill="#2d00a5" d="M201.8 422.8l-2.6 1.6 1-1.7 2.7-1.7z"/>
<path fill="#2b00ad" d="M204.4 420.8l-2.6 2 1.1-1.8 2.6-2z"/>
<path fill="#2800b6" d="M207.1 418.6l-2.7 2.2 1.1-1.8 2.7-2.3z"/>
<path fill="#2300c9" d="M209.8 416.1l-2.7 2.5 1.1-1.9 2.7-2.5z"/>
<path fill="#2100d2" d="M212.6 413.2l-2.8 2.9 1.1-1.9 2.7-2.8z"/>
<path fill="#1a00e1" d="M215.3 410.1l-2.7 3.1 1-1.8 2.8-3z"/>
<path fill="#1000ed" d="M218.1 406.8l-2.8 3.3 1.1-1.7 2.8-3.3z"/>
<path fill="#0600f8" d="M220.9 403.1l-2.8 3.7 1.1-1.7 2.8-3.5z"/>
<path fill="#0100fe" d="M223.8 399.3l-2.9 3.8 1.1-1.5 2.9-3.8z"/>
<path fill="#0026dc" d="M226.7 395.3l-2.9 4 1.1-1.5 2.8-3.8z"/>
<path fill="#0042bf" d="M229.7 391.1l-3 4.2 1-1.3 3-4.1z"/>
<path fill="#006292" d="M232.6 386.9l-2.9 4.2 1-1.2 2.9-4z"/>
<path fill="#008165" d="M235.6 382.6l-3 4.3 1-1 3-4.1z"/>
<path fill="#0fa033" d="M238.6 378.5l-3 4.1 1-.8 3-4.1z"/>
<path fill="#1ebe00" d="M241.7 374.6l-3.1 3.9 1-.8 3-3.8z"/>
<path fill="#64d400" d="M244.7 371l-3 3.6 .9-.7 3.1-3.6z"/>
<path fill="#a7e800" d="M247.8 368l-3.1 3 1-.7 3-3.2z"/>
<path fill="#c6f000" d="M250.8 365.6l-3 2.4 .9-.9 3.1-2.7z"/>
<path fill="#e5f800" d="M253.8 364.1l-3 1.5 1-1.2 3-2z"/>
<path fill="#fffc00" d="M256.7 363.7l-2.9 .4 1-1.7 3-1.2z"/>
<path fill="#310085" d="M127 422.5l-2.3-.6 1.3-.5 2.3 .6zM129.4 423l-2.4-.5 1.3-.5 2.3 .6zM131.7 423.6l-2.3-.6 1.2-.4 2.4 .5zM134.1 424l-2.4-.4 1.3-.5 2.3 .4zM136.4 424.5l-2.3-.5 1.2-.5 2.4 .4zM138.8 425l-2.4-.5 1.3-.6 2.3 .4zM141.2 425.4l-2.4-.4 1.2-.7 2.4 .4zM143.5 425.8l-2.3-.4 1.2-.7 2.4 .4zM145.9 426.2l-2.4-.4 1.3-.7 2.3 .4zM148.3 426.6l-2.4-.4 1.2-.7 2.4 .4zM150.7 427l-2.4-.4 1.2-.7 2.4 .3zM153.1 427.4l-2.4-.4 1.2-.8 2.4 .5zM155.6 427.8l-2.5-.4 1.2-.7 2.4 .4zM158 428.3l-2.4-.5 1.1-.7 2.5 .4zM160.4 428.7l-2.4-.4 1.2-.8 2.4 .4zM162.9 429.1l-2.5-.4 1.2-.8 2.4 .4zM165.3 429.5l-2.4-.4 1.1-.8 2.5 .4zM167.8 429.8l-2.5-.3 1.2-.8 2.4 .3zM170.2 430.2l-2.4-.4 1.1-.8 2.5 .3zM172.7 430.5l-2.5-.3 1.2-.9 2.4 .2zM175.2 430.7l-2.5-.2 1.1-1 2.5 .2zM177.7 430.8l-2.5-.1 1.1-1 2.5 .1z"/>
<path fill="#31008a" d="M180.2 430.8l-2.5 0 1.1-1 2.5-.1zM182.7 430.7l-2.5 .1 1.1-1.1 2.5-.2zM185.2 430.4l-2.5 .3 1.1-1.2 2.5-.3z"/>
<path fill="#300090" d="M187.8 430l-2.6 .4 1.1-1.2 2.6-.5zM190.3 429.4l-2.5 .6 1.1-1.3 2.5-.8z"/>
<path fill="#2f0095" d="M192.9 428.6l-2.6 .8 1.1-1.5 2.6-.9z"/>
<path fill="#2e009a" d="M195.5 427.5l-2.6 1.1 1.1-1.6 2.6-1.2zM198.1 426.2l-2.6 1.3 1.1-1.7 2.6-1.4z"/>
<path fill="#2e009f" d="M200.7 424.6l-2.6 1.6 1.1-1.8 2.6-1.6z"/>
<path fill="#2b00ad" d="M203.4 422.7l-2.7 1.9 1.1-1.8 2.6-2z"/>
<path fill="#2800b6" d="M206 420.5l-2.6 2.2 1-1.9 2.7-2.2z"/>
<path fill="#2600c0" d="M208.7 418l-2.7 2.5 1.1-1.9 2.7-2.5z"/>
<path fill="#2100d2" d="M211.5 415.2l-2.8 2.8 1.1-1.9 2.8-2.9z"/>
<path fill="#1e00db" d="M214.2 412l-2.7 3.2 1.1-2 2.7-3.1z"/>
<path fill="#1500e7" d="M217.1 408.6l-2.9 3.4 1.1-1.9 2.8-3.3z"/>
<path fill="#0b00f3" d="M219.9 404.9l-2.8 3.7 1-1.8 2.8-3.7z"/>
<path fill="#0100fe" d="M222.8 401l-2.9 3.9 1-1.8 2.9-3.8z"/>
<path fill="#0019e8" d="M225.7 396.8l-2.9 4.2 1-1.7 2.9-4z"/>
<path fill="#0034cf" d="M228.6 392.5l-2.9 4.3 1-1.5 3-4.2z"/>
<path fill="#006292" d="M231.6 388.1l-3 4.4 1.1-1.4 2.9-4.2z"/>
<path fill="#008165" d="M234.6 383.8l-3 4.3 1-1.2 3-4.3z"/>
<path fill="#0fa033" d="M237.6 379.5l-3 4.3 1-1.2 3-4.1z"/>
<path fill="#1ebe00" d="M240.7 375.6l-3.1 3.9 1-1 3.1-3.9z"/>
<path fill="#64d400" d="M243.7 372.1l-3 3.5 1-1 3-3.6z"/>
<path fill="#87df00" d="M246.8 369.1l-3.1 3 1-1.1 3.1-3z"/>
<path fill="#c6f000" d="M249.8 367.1l-3 2 1-1.1 3-2.4z"/>
<path fill="#e5f800" d="M252.8 366.1l-3 1 1-1.5 3-1.5zM255.7 366.4l-2.9-.3 1-2 2.9-.4z"/>
<path fill="#310085" d="M125.8 422.9l-2.4-.6 1.3-.4 2.3 .6zM128.1 423.5l-2.3-.6 1.2-.4 2.4 .5zM130.5 424l-2.4-.5 1.3-.5 2.3 .6zM132.8 424.6l-2.3-.6 1.2-.4 2.4 .4zM135.2 425.1l-2.4-.5 1.3-.6 2.3 .5zM137.6 425.6l-2.4-.5 1.2-.6 2.4 .5zM139.9 426.1l-2.3-.5 1.2-.6 2.4 .4zM142.3 426.5l-2.4-.4 1.3-.7 2.3 .4zM144.7 427l-2.4-.5 1.2-.7 2.4 .4zM147.1 427.4l-2.4-.4 1.2-.8 2.4 .4zM149.5 427.8l-2.4-.4 1.2-.8 2.4 .4zM152 428.2l-2.5-.4 1.2-.8 2.4 .4zM154.4 428.6l-2.4-.4 1.1-.8 2.5 .4zM156.8 429.1l-2.4-.5 1.2-.8 2.4 .5zM159.2 429.5l-2.4-.4 1.2-.8 2.4 .4zM161.7 429.9l-2.5-.4 1.2-.8 2.5 .4zM164.2 430.3l-2.5-.4 1.2-.8 2.4 .4zM166.6 430.7l-2.4-.4 1.1-.8 2.5 .3zM169.1 431l-2.5-.3 1.2-.9 2.4 .4zM171.6 431.4l-2.5-.4 1.1-.8 2.5 .3zM174.1 431.6l-2.5-.2 1.1-.9 2.5 .2zM176.6 431.8l-2.5-.2 1.1-.9 2.5 .1z"/>
<path fill="#31008a" d="M179.1 431.9l-2.5-.1 1.1-1 2.5 0zM181.6 431.9l-2.5 0 1.1-1.1 2.5-.1zM184.1 431.7l-2.5 .2 1.1-1.2 2.5-.3z"/>
<path fill="#300090" d="M186.7 431.4l-2.6 .3 1.1-1.3 2.6-.4zM189.2 430.9l-2.5 .5 1.1-1.4 2.5-.6z"/>
<path fill="#2f0095" d="M191.8 430.2l-2.6 .7 1.1-1.5 2.6-.8zM194.4 429.2l-2.6 1 1.1-1.6 2.6-1.1z"/>
<path fill="#2e009a" d="M197 428l-2.6 1.2 1.1-1.7 2.6-1.3z"/>
<path fill="#2e009f" d="M199.6 426.5l-2.6 1.5 1.1-1.8 2.6-1.6z"/>
<path fill="#2d00a5" d="M202.3 424.6l-2.7 1.9 1.1-1.9 2.7-1.9z"/>
<path fill="#2b00ad" d="M204.9 422.5l-2.6 2.1 1.1-1.9 2.6-2.2z"/>
<path fill="#2600c0" d="M207.7 420l-2.8 2.5 1.1-2 2.7-2.5z"/>
<path fill="#2300c9" d="M210.4 417.2l-2.7 2.8 1-2 2.8-2.8z"/>
<path fill="#1e00db" d="M213.2 414.1l-2.8 3.1 1.1-2 2.7-3.2z"/>
<path fill="#1500e7" d="M216 410.6l-2.8 3.5 1-2.1 2.9-3.4z"/>
<path fill="#0b00f3" d="M218.8 406.9l-2.8 3.7 1.1-2 2.8-3.7z"/>
<path fill="#0100fe" d="M221.7 402.8l-2.9 4.1 1.1-2 2.9-3.9z"/>
<path fill="#0019e8" d="M224.6 398.6l-2.9 4.2 1.1-1.8 2.9-4.2z"/>
<path fill="#0034cf" d="M227.6 394.2l-3 4.4 1.1-1.8 2.9-4.3z"/>
<path fill="#0052a9" d="M230.5 389.7l-2.9 4.5 1-1.7 3-4.4z"/>
<path fill="#008165" d="M233.6 385.2l-3.1 4.5 1.1-1.6 3-4.3z"/>
<path fill="#0fa033" d="M236.6 380.9l-3 4.3 1-1.4 3-4.3z"/>
<path fill="#1ebe00" d="M239.7 376.9l-3.1 4 1-1.4 3.1-3.9z"/>
<path fill="#64d400" d="M242.7 373.3l-3 3.6 1-1.3 3-3.5z"/>
<path fill="#87df00" d="M245.8 370.6l-3.1 2.7 1-1.2 3.1-3z"/>
<path fill="#c6f000" d="M248.8 368.7l-3 1.9 1-1.5 3-2zM251.7 368.1l-2.9 .6 1-1.6 3-1z"/>
<path fill="#e5f800" d="M254.6 369.1l-2.9-1 1.1-2 2.9 .3z"/>
<path fill="#310085" d="M124.5 423.3l-2.4-.5 1.3-.5 2.4 .6zM126.8 423.9l-2.3-.6 1.3-.4 2.3 .6zM129.2 424.5l-2.4-.6 1.3-.4 2.4 .5zM131.6 425.1l-2.4-.6 1.3-.5 2.3 .6zM133.9 425.7l-2.3-.6 1.2-.5 2.4 .5zM136.3 426.2l-2.4-.5 1.3-.6 2.4 .5zM138.7 426.7l-2.4-.5 1.3-.6 2.3 .5zM141.1 427.2l-2.4-.5 1.2-.6 2.4 .4zM143.5 427.7l-2.4-.5 1.2-.7 2.4 .5zM145.9 428.2l-2.4-.5 1.2-.7 2.4 .4zM148.3 428.6l-2.4-.4 1.2-.8 2.4 .4zM150.7 429l-2.4-.4 1.2-.8 2.5 .4zM153.2 429.5l-2.5-.5 1.3-.8 2.4 .4zM155.6 429.9l-2.4-.4 1.2-.9 2.4 .5zM158.1 430.3l-2.5-.4 1.2-.8 2.4 .4zM160.5 430.7l-2.4-.4 1.1-.8 2.5 .4zM163 431.1l-2.5-.4 1.2-.8 2.5 .4zM165.5 431.5l-2.5-.4 1.2-.8 2.4 .4zM167.9 431.9l-2.4-.4 1.1-.8 2.5 .3zM170.4 432.3l-2.5-.4 1.2-.9 2.5 .4zM172.9 432.6l-2.5-.3 1.2-.9 2.5 .2zM175.4 432.9l-2.5-.3 1.2-1 2.5 .2z"/>
<path fill="#31008a" d="M177.9 433l-2.5-.1 1.2-1.1 2.5 .1zM180.5 433.1l-2.6-.1 1.2-1.1 2.5 0zM183 433l-2.5 .1 1.1-1.2 2.5-.2zM185.5 432.8l-2.5 .2 1.1-1.3 2.6-.3z"/>
<path fill="#300090" d="M188.1 432.4l-2.6 .4 1.2-1.4 2.5-.5zM190.7 431.8l-2.6 .6 1.1-1.5 2.6-.7z"/>
<path fill="#2f0095" d="M193.3 430.9l-2.6 .9 1.1-1.6 2.6-1z"/>
<path fill="#2e009a" d="M195.9 429.8l-2.6 1.1 1.1-1.7 2.6-1.2z"/>
<path fill="#2e009f" d="M198.5 428.4l-2.6 1.4 1.1-1.8 2.6-1.5z"/>
<path fill="#2d00a5" d="M201.2 426.7l-2.7 1.7 1.1-1.9 2.7-1.9z"/>
<path fill="#2b00ad" d="M203.9 424.6l-2.7 2.1 1.1-2.1 2.6-2.1z"/>
<path fill="#2800b6" d="M206.6 422.2l-2.7 2.4 1-2.1 2.8-2.5z"/>
<path fill="#2300c9" d="M209.3 419.4l-2.7 2.8 1.1-2.2 2.7-2.8z"/>
<path fill="#2100d2" d="M212.1 416.3l-2.8 3.1 1.1-2.2 2.8-3.1z"/>
<path fill="#1a00e1" d="M214.9 412.8l-2.8 3.5 1.1-2.2 2.8-3.5z"/>
<path fill="#1000ed" d="M217.7 409.1l-2.8 3.7 1.1-2.2 2.8-3.7z"/>
<path fill="#0600f8" d="M220.6 405l-2.9 4.1 1.1-2.2 2.9-4.1z"/>
<path fill="#000bf4" d="M223.5 400.6l-2.9 4.4 1.1-2.2 2.9-4.2z"/>
<path fill="#0034cf" d="M226.5 396.1l-3 4.5 1.1-2 3-4.4z"/>
<path fill="#0052a9" d="M229.5 391.5l-3 4.6 1.1-1.9 2.9-4.5z"/>
<path fill="#00717c" d="M232.5 386.9l-3 4.6 1-1.8 3.1-4.5z"/>
<path fill="#0fa033" d="M235.6 382.5l-3.1 4.4 1.1-1.7 3-4.3z"/>
<path fill="#1ebe00" d="M238.6 378.4l-3 4.1 1-1.6 3.1-4z"/>
<path fill="#41c900" d="M241.7 374.9l-3.1 3.5 1.1-1.5 3-3.6z"/>
<path fill="#87df00" d="M244.7 372.2l-3 2.7 1-1.6 3.1-2.7z"/>
<path fill="#a7e800" d="M247.7 370.6l-3 1.6 1.1-1.6 3-1.9z"/>
<path fill="#c6f000" d="M250.7 370.4l-3 .2 1.1-1.9 2.9-.6zM253.5 372l-2.8-1.6 1-2.3 2.9 1z"/>
<path fill="#31008a" d="M123.2 423.7l-2.4-.5 1.3-.4 2.4 .5zM125.6 424.3l-2.4-.6 1.3-.4 2.3 .6z"/>
<path fill="#310085" d="M127.9 424.9l-2.3-.6 1.2-.4 2.4 .6zM130.3 425.6l-2.4-.7 1.3-.4 2.4 .6zM132.7 426.2l-2.4-.6 1.3-.5 2.3 .6zM135.1 426.8l-2.4-.6 1.2-.5 2.4 .5zM137.5 427.4l-2.4-.6 1.2-.6 2.4 .5zM139.9 428l-2.4-.6 1.2-.7 2.4 .5zM142.3 428.5l-2.4-.5 1.2-.8 2.4 .5zM144.7 428.9l-2.4-.4 1.2-.8 2.4 .5zM147.1 429.4l-2.4-.5 1.2-.7 2.4 .4zM149.5 429.9l-2.4-.5 1.2-.8 2.4 .4zM152 430.3l-2.5-.4 1.2-.9 2.5 .5zM154.4 430.7l-2.4-.4 1.2-.8 2.4 .4zM156.9 431.1l-2.5-.4 1.2-.8 2.5 .4zM159.3 431.6l-2.4-.5 1.2-.8 2.4 .4zM161.8 432l-2.5-.4 1.2-.9 2.5 .4zM164.3 432.4l-2.5-.4 1.2-.9 2.5 .4zM166.8 432.8l-2.5-.4 1.2-.9 2.4 .4zM169.3 433.2l-2.5-.4 1.1-.9 2.5 .4zM171.8 433.6l-2.5-.4 1.1-.9 2.5 .3zM174.3 433.9l-2.5-.3 1.1-1 2.5 .3z"/>
<path fill="#31008a" d="M176.8 434.1l-2.5-.2 1.1-1 2.5 .1zM179.3 434.3l-2.5-.2 1.1-1.1 2.6 .1zM181.9 434.3l-2.6 0 1.2-1.2 2.5-.1zM184.4 434.2l-2.5 .1 1.1-1.3 2.5-.2z"/>
<path fill="#300090" d="M187 433.9l-2.6 .3 1.1-1.4 2.6-.4zM189.6 433.4l-2.6 .5 1.1-1.5 2.6-.6z"/>
<path fill="#2f0095" d="M192.2 432.6l-2.6 .8 1.1-1.6 2.6-.9zM194.8 431.6l-2.6 1 1.1-1.7 2.6-1.1z"/>
<path fill="#2e009a" d="M197.4 430.3l-2.6 1.3 1.1-1.8 2.6-1.4z"/>
<path fill="#2e009f" d="M200.1 428.7l-2.7 1.6 1.1-1.9 2.7-1.7z"/>
<path fill="#2d00a5" d="M202.8 426.8l-2.7 1.9 1.1-2 2.7-2.1z"/>
<path fill="#2800b6" d="M205.5 424.4l-2.7 2.4 1.1-2.2 2.7-2.4z"/>
<path fill="#2600c0" d="M208.2 421.7l-2.7 2.7 1.1-2.2 2.7-2.8z"/>
<path fill="#2100d2" d="M211 418.7l-2.8 3 1.1-2.3 2.8-3.1z"/>
<path fill="#1a00e1" d="M213.8 415.2l-2.8 3.5 1.1-2.4 2.8-3.5z"/>
<path fill="#1000ed" d="M216.6 411.4l-2.8 3.8 1.1-2.4 2.8-3.7z"/>
<path fill="#0600f8" d="M219.5 407.3l-2.9 4.1 1.1-2.3 2.9-4.1z"/>
<path fill="#000bf4" d="M222.4 402.9l-2.9 4.4 1.1-2.3 2.9-4.4z"/>
<path fill="#0026dc" d="M225.4 398.3l-3 4.6 1.1-2.3 3-4.5z"/>
<path fill="#0052a9" d="M228.4 393.6l-3 4.7 1.1-2.2 3-4.6z"/>
<path fill="#00717c" d="M231.4 389l-3 4.6 1.1-2.1 3-4.6z"/>
<path fill="#07904c" d="M234.5 384.5l-3.1 4.5 1.1-2.1 3.1-4.4z"/>
<path fill="#16af19" d="M237.6 380.4l-3.1 4.1 1.1-2 3-4.1z"/>
<path fill="#41c900" d="M240.6 376.9l-3 3.5 1-2 3.1-3.5z"/>
<path fill="#87df00" d="M243.7 374.2l-3.1 2.7 1.1-2 3-2.7z"/>
<path fill="#a7e800" d="M246.7 372.8l-3 1.4 1-2 3-1.6zM249.6 372.9l-2.9-.1 1-2.2 3-.2zM252.4 375l-2.8-2.1 1.1-2.5 2.8 1.6z"/>
<path fill="#31008a" d="M121.9 424.1l-2.4-.5 1.3-.4 2.4 .5zM124.3 424.7l-2.4-.6 1.3-.4 2.4 .6zM126.6 425.3l-2.3-.6 1.3-.4 2.3 .6zM129 426l-2.4-.7 1.3-.4 2.4 .7zM131.4 426.7l-2.4-.7 1.3-.4 2.4 .6z"/>
<path fill="#310085" d="M133.8 427.4l-2.4-.7 1.3-.5 2.4 .6zM136.2 428.1l-2.4-.7 1.3-.6 2.4 .6zM138.6 428.7l-2.4-.6 1.3-.7 2.4 .6zM141 429.2l-2.4-.5 1.3-.7 2.4 .5zM143.5 429.7l-2.5-.5 1.3-.7 2.4 .4zM145.9 430.2l-2.4-.5 1.2-.8 2.4 .5zM148.3 430.7l-2.4-.5 1.2-.8 2.4 .5zM150.8 431.1l-2.5-.4 1.2-.8 2.5 .4zM153.2 431.6l-2.4-.5 1.2-.8 2.4 .4zM155.7 432l-2.5-.4 1.2-.9 2.5 .4zM158.1 432.4l-2.4-.4 1.2-.9 2.4 .5zM160.6 432.9l-2.5-.5 1.2-.8 2.5 .4zM163.1 433.3l-2.5-.4 1.2-.9 2.5 .4zM165.6 433.8l-2.5-.5 1.2-.9 2.5 .4zM168.1 434.2l-2.5-.4 1.2-1 2.5 .4zM170.6 434.6l-2.5-.4 1.2-1 2.5 .4zM173.1 434.9l-2.5-.3 1.2-1 2.5 .3z"/>
<path fill="#31008a" d="M175.7 435.2l-2.6-.3 1.2-1 2.5 .2zM178.2 435.5l-2.5-.3 1.1-1.1 2.5 .2zM180.7 435.6l-2.5-.1 1.1-1.2 2.6 0zM183.3 435.6l-2.6 0 1.2-1.3 2.5-.1zM185.9 435.4l-2.6 .2 1.1-1.4 2.6-.3z"/>
<path fill="#300090" d="M188.4 435l-2.5 .4 1.1-1.5 2.6-.5zM191 434.4l-2.6 .6 1.2-1.6 2.6-.8z"/>
<path fill="#2f0095" d="M193.7 433.5l-2.7 .9 1.2-1.8 2.6-1z"/>
<path fill="#2e009a" d="M196.3 432.3l-2.6 1.2 1.1-1.9 2.6-1.3z"/>
<path fill="#2e009f" d="M199 430.8l-2.7 1.5 1.1-2 2.7-1.6z"/>
<path fill="#2d00a5" d="M201.6 429l-2.6 1.8 1.1-2.1 2.7-1.9z"/>
<path fill="#2b00ad" d="M204.4 426.7l-2.8 2.3 1.2-2.2 2.7-2.4z"/>
<path fill="#2600c0" d="M207.1 424.1l-2.7 2.6 1.1-2.3 2.7-2.7z"/>
<path fill="#2300c9" d="M209.9 421.1l-2.8 3 1.1-2.4 2.8-3z"/>
<path fill="#1e00db" d="M212.7 417.7l-2.8 3.4 1.1-2.4 2.8-3.5z"/>
<path fill="#1500e7" d="M215.5 413.9l-2.8 3.8 1.1-2.5 2.8-3.8z"/>
<path fill="#0b00f3" d="M218.4 409.8l-2.9 4.1 1.1-2.5 2.9-4.1z"/>
<path fill="#0100fe" d="M221.3 405.4l-2.9 4.4 1.1-2.5 2.9-4.4z"/>
<path fill="#0026dc" d="M224.3 400.8l-3 4.6 1.1-2.5 3-4.6z"/>
<path fill="#0042bf" d="M227.3 396l-3 4.8 1.1-2.5 3-4.7z"/>
<path fill="#006292" d="M230.3 391.3l-3 4.7 1.1-2.4 3-4.6z"/>
<path fill="#07904c" d="M233.4 386.8l-3.1 4.5 1.1-2.3 3.1-4.5z"/>
<path fill="#16af19" d="M236.5 382.6l-3.1 4.2 1.1-2.3 3.1-4.1z"/>
<path fill="#41c900" d="M239.5 379.1l-3 3.5 1.1-2.2 3-3.5z"/>
<path fill="#64d400" d="M242.6 376.5l-3.1 2.6 1.1-2.2 3.1-2.7z"/>
<path fill="#87df00" d="M245.6 375.2l-3 1.3 1.1-2.3 3-1.4z"/>
<path fill="#a7e800" d="M248.5 375.6l-2.9-.4 1.1-2.4 2.9 .1z"/>
<path fill="#87df00" d="M251.3 378l-2.8-2.4 1.1-2.7 2.8 2.1z"/>
<path fill="#31008a" d="M120.6 424.5l-2.4-.4 1.3-.5 2.4 .5zM122.9 425l-2.3-.5 1.3-.4 2.4 .6zM125.3 425.7l-2.4-.7 1.4-.3 2.3 .6zM127.7 426.5l-2.4-.8 1.3-.4 2.4 .7zM130.1 427.2l-2.4-.7 1.3-.5 2.4 .7zM132.5 428l-2.4-.8 1.3-.5 2.4 .7zM134.9 428.7l-2.4-.7 1.3-.6 2.4 .7z"/>
<path fill="#310085" d="M137.4 429.3l-2.5-.6 1.3-.6 2.4 .6zM139.8 429.9l-2.4-.6 1.2-.6 2.4 .5zM142.2 430.5l-2.4-.6 1.2-.7 2.5 .5zM144.7 431l-2.5-.5 1.3-.8 2.4 .5zM147.1 431.5l-2.4-.5 1.2-.8 2.4 .5zM149.5 432l-2.4-.5 1.2-.8 2.5 .4zM152 432.4l-2.5-.4 1.3-.9 2.4 .5zM154.5 432.9l-2.5-.5 1.2-.8 2.5 .4zM156.9 433.3l-2.4-.4 1.2-.9 2.4 .4zM159.4 433.8l-2.5-.5 1.2-.9 2.5 .5zM161.9 434.2l-2.5-.4 1.2-.9 2.5 .4zM164.4 434.7l-2.5-.5 1.2-.9 2.5 .5zM166.9 435.1l-2.5-.4 1.2-.9 2.5 .4zM169.4 435.6l-2.5-.5 1.2-.9 2.5 .4zM172 436l-2.6-.4 1.2-1 2.5 .3zM174.5 436.4l-2.5-.4 1.1-1.1 2.6 .3z"/>
<path fill="#31008a" d="M177 436.7l-2.5-.3 1.2-1.2 2.5 .3zM179.6 436.9l-2.6-.2 1.2-1.2 2.5 .1zM182.2 437l-2.6-.1 1.1-1.3 2.6 0zM184.7 436.9l-2.5 .1 1.1-1.4 2.6-.2z"/>
<path fill="#300090" d="M187.3 436.6l-2.6 .3 1.2-1.5 2.5-.4zM189.9 436.1l-2.6 .5 1.1-1.6 2.6-.6z"/>
<path fill="#2f0095" d="M192.5 435.4l-2.6 .7 1.1-1.7 2.7-.9zM195.2 434.3l-2.7 1.1 1.2-1.9 2.6-1.2z"/>
<path fill="#2e009a" d="M197.8 433l-2.6 1.3 1.1-2 2.7-1.5z"/>
<path fill="#2e009f" d="M200.5 431.2l-2.7 1.8 1.2-2.2 2.6-1.8z"/>
<path fill="#2d00a5" d="M203.2 429.1l-2.7 2.1 1.1-2.2 2.8-2.3z"/>
<path fill="#2800b6" d="M206 426.6l-2.8 2.5 1.2-2.4 2.7-2.6z"/>
<path fill="#2600c0" d="M208.8 423.7l-2.8 2.9 1.1-2.5 2.8-3z"/>
<path fill="#2100d2" d="M211.6 420.3l-2.8 3.4 1.1-2.6 2.8-3.4z"/>
<path fill="#1a00e1" d="M214.4 416.6l-2.8 3.7 1.1-2.6 2.8-3.8z"/>
<path fill="#1000ed" d="M217.3 412.5l-2.9 4.1 1.1-2.7 2.9-4.1z"/>
<path fill="#0600f8" d="M220.2 408.1l-2.9 4.4 1.1-2.7 2.9-4.4z"/>
<path fill="#0019e8" d="M223.2 403.5l-3 4.6 1.1-2.7 3-4.6z"/>
<path fill="#0034cf" d="M226.2 398.7l-3 4.8 1.1-2.7 3-4.8z"/>
<path fill="#006292" d="M229.2 394l-3 4.7 1.1-2.7 3-4.7z"/>
<path fill="#008165" d="M232.3 389.4l-3.1 4.6 1.1-2.7 3.1-4.5z"/>
<path fill="#0fa033" d="M235.4 385.2l-3.1 4.2 1.1-2.6 3.1-4.2z"/>
<path fill="#1ebe00" d="M238.4 381.7l-3 3.5 1.1-2.6 3-3.5z"/>
<path fill="#41c900" d="M241.5 379.1l-3.1 2.6 1.1-2.6 3.1-2.6z"/>
<path fill="#87df00" d="M244.5 377.9l-3 1.2 1.1-2.6 3-1.3zM247.4 378.4l-2.9-.5 1.1-2.7 2.9 .4z"/>
<path fill="#64d400" d="M250.2 381.1l-2.8-2.7 1.1-2.8 2.8 2.4z"/>
<path fill="#31008a" d="M119.2 424.8l-2.3-.3 1.3-.4 2.4 .4zM121.6 425.4l-2.4-.6 1.4-.3 2.3 .5zM124 426.1l-2.4-.7 1.3-.4 2.4 .7zM126.4 426.8l-2.4-.7 1.3-.4 2.4 .8zM128.8 427.7l-2.4-.9 1.3-.3 2.4 .7zM131.3 428.5l-2.5-.8 1.3-.5 2.4 .8zM133.7 429.3l-2.4-.8 1.2-.5 2.4 .7zM136.1 430l-2.4-.7 1.2-.6 2.5 .6zM138.5 430.7l-2.4-.7 1.3-.7 2.4 .6z"/>
<path fill="#310085" d="M141 431.3l-2.5-.6 1.3-.8 2.4 .6zM143.4 431.8l-2.4-.5 1.2-.8 2.5 .5zM145.9 432.4l-2.5-.6 1.3-.8 2.4 .5zM148.3 432.9l-2.4-.5 1.2-.9 2.4 .5zM150.8 433.3l-2.5-.4 1.2-.9 2.5 .4zM153.3 433.8l-2.5-.5 1.2-.9 2.5 .5zM155.7 434.3l-2.4-.5 1.2-.9 2.4 .4zM158.2 434.7l-2.5-.4 1.2-1 2.5 .5zM160.7 435.2l-2.5-.5 1.2-.9 2.5 .4zM163.2 435.7l-2.5-.5 1.2-1 2.5 .5zM165.8 436.2l-2.6-.5 1.2-1 2.5 .4zM168.3 436.6l-2.5-.4 1.1-1.1 2.5 .5zM170.8 437.1l-2.5-.5 1.1-1 2.6 .4zM173.3 437.5l-2.5-.4 1.2-1.1 2.5 .4z"/>
<path fill="#31008a" d="M175.9 437.9l-2.6-.4 1.2-1.1 2.5 .3zM178.5 438.2l-2.6-.3 1.1-1.2 2.6 .2zM181 438.4l-2.5-.2 1.1-1.3 2.6 .1zM183.6 438.4l-2.6 0 1.2-1.4 2.5-.1zM186.2 438.3l-2.6 .1 1.1-1.5 2.6-.3z"/>
<path fill="#300090" d="M188.8 437.9l-2.6 .4 1.1-1.7 2.6-.5zM191.4 437.3l-2.6 .6 1.1-1.8 2.6-.7z"/>
<path fill="#2f0095" d="M194.1 436.4l-2.7 .9 1.1-1.9 2.7-1.1z"/>
<path fill="#2e009a" d="M196.7 435.1l-2.6 1.3 1.1-2.1 2.6-1.3z"/>
<path fill="#2e009f" d="M199.4 433.5l-2.7 1.6 1.1-2.1 2.7-1.8z"/>
<path fill="#2d00a5" d="M202.1 431.5l-2.7 2 1.1-2.3 2.7-2.1z"/>
<path fill="#2b00ad" d="M204.9 429.1l-2.8 2.4 1.1-2.4 2.8-2.5z"/>
<path fill="#2600c0" d="M207.6 426.3l-2.7 2.8 1.1-2.5 2.8-2.9z"/>
<path fill="#2300c9" d="M210.4 423.1l-2.8 3.2 1.2-2.6 2.8-3.4z"/>
<path fill="#1e00db" d="M213.3 419.4l-2.9 3.7 1.2-2.8 2.8-3.7z"/>
<path fill="#1500e7" d="M216.2 415.4l-2.9 4 1.1-2.8 2.9-4.1z"/>
<path fill="#0600f8" d="M219.1 411.1l-2.9 4.3 1.1-2.9 2.9-4.4z"/>
<path fill="#000bf4" d="M222.1 406.4l-3 4.7 1.1-3 3-4.6z"/>
<path fill="#0026dc" d="M225.1 401.7l-3 4.7 1.1-2.9 3-4.8z"/>
<path fill="#0052a9" d="M228.1 396.9l-3 4.8 1.1-3 3-4.7z"/>
<path fill="#00717c" d="M231.2 392.3l-3.1 4.6 1.1-2.9 3.1-4.6z"/>
<path fill="#07904c" d="M234.2 388.1l-3 4.2 1.1-2.9 3.1-4.2z"/>
<path fill="#16af19" d="M237.3 384.6l-3.1 3.5 1.2-2.9 3-3.5z"/>
<path fill="#41c900" d="M240.4 382l-3.1 2.6 1.1-2.9 3.1-2.6z"/>
<path fill="#64d400" d="M243.4 380.8l-3 1.2 1.1-2.9 3-1.2zM246.3 381.4l-2.9-.6 1.1-2.9 2.9 .5z"/>
<path fill="#41c900" d="M249.1 384.4l-2.8-3 1.1-3 2.8 2.7z"/>
<path fill="#300090" d="M117.9 425.1l-2.4-.2 1.4-.4 2.3 .3zM120.3 425.6l-2.4-.5 1.3-.3 2.4 .6zM122.7 426.3l-2.4-.7 1.3-.2 2.4 .7zM125.1 427.2l-2.4-.9 1.3-.2 2.4 .7z"/>
<path fill="#31008a" d="M127.5 428.1l-2.4-.9 1.3-.4 2.4 .9zM130 429l-2.5-.9 1.3-.4 2.5 .8zM132.4 429.8l-2.4-.8 1.3-.5 2.4 .8zM134.8 430.6l-2.4-.8 1.3-.5 2.4 .7zM137.3 431.4l-2.5-.8 1.3-.6 2.4 .7zM139.7 432l-2.4-.6 1.2-.7 2.5 .6z"/>
<path fill="#310085" d="M142.2 432.7l-2.5-.7 1.3-.7 2.4 .5zM144.6 433.2l-2.4-.5 1.2-.9 2.5 .6zM147.1 433.7l-2.5-.5 1.3-.8 2.4 .5zM149.6 434.2l-2.5-.5 1.2-.8 2.5 .4zM152 434.7l-2.4-.5 1.2-.9 2.5 .5zM154.5 435.2l-2.5-.5 1.3-.9 2.4 .5zM157 435.7l-2.5-.5 1.2-.9 2.5 .4zM159.5 436.2l-2.5-.5 1.2-1 2.5 .5zM162 436.7l-2.5-.5 1.2-1 2.5 .5zM164.6 437.2l-2.6-.5 1.2-1 2.6 .5zM167.1 437.7l-2.5-.5 1.2-1 2.5 .4zM169.6 438.2l-2.5-.5 1.2-1.1 2.5 .5zM172.2 438.7l-2.6-.5 1.2-1.1 2.5 .4zM174.7 439.1l-2.5-.4 1.1-1.2 2.6 .4z"/>
<path fill="#31008a" d="M177.3 439.5l-2.6-.4 1.2-1.2 2.6 .3zM179.9 439.8l-2.6-.3 1.2-1.3 2.5 .2zM182.5 439.9l-2.6-.1 1.1-1.4 2.6 0zM185.1 439.9l-2.6 0 1.1-1.5 2.6-.1zM187.7 439.6l-2.6 .3 1.1-1.6 2.6-.4z"/>
<path fill="#300090" d="M190.3 439.2l-2.6 .4 1.1-1.7 2.6-.6zM192.9 438.4l-2.6 .8 1.1-1.9 2.7-.9z"/>
<path fill="#2f0095" d="M195.6 437.3l-2.7 1.1 1.2-2 2.6-1.3z"/>
<path fill="#2e009a" d="M198.3 435.8l-2.7 1.5 1.1-2.2 2.7-1.6z"/>
<path fill="#2e009f" d="M201 434l-2.7 1.8 1.1-2.3 2.7-2z"/>
<path fill="#2d00a5" d="M203.7 431.7l-2.7 2.3 1.1-2.5 2.8-2.4z"/>
<path fill="#2800b6" d="M206.5 429.1l-2.8 2.6 1.2-2.6 2.7-2.8z"/>
<path fill="#2300c9" d="M209.3 425.9l-2.8 3.2 1.1-2.8 2.8-3.2z"/>
<path fill="#2100d2" d="M212.1 422.4l-2.8 3.5 1.1-2.8 2.9-3.7z"/>
<path fill="#1a00e1" d="M215 418.4l-2.9 4 1.2-3 2.9-4z"/>
<path fill="#0b00f3" d="M218 414.2l-3 4.2 1.2-3 2.9-4.3z"/>
<path fill="#0100fe" d="M220.9 409.6l-2.9 4.6 1.1-3.1 3-4.7z"/>
<path fill="#0019e8" d="M223.9 404.9l-3 4.7 1.2-3.2 3-4.7z"/>
<path fill="#0042bf" d="M227 400.1l-3.1 4.8 1.2-3.2 3-4.8z"/>
<path fill="#006292" d="M230 395.5l-3 4.6 1.1-3.2 3.1-4.6z"/>
<path fill="#008165" d="M233.1 391.3l-3.1 4.2 1.2-3.2 3-4.2z"/>
<path fill="#0fa033" d="M236.2 387.7l-3.1 3.6 1.1-3.2 3.1-3.5z"/>
<path fill="#1ebe00" d="M239.2 385.2l-3 2.5 1.1-3.1 3.1-2.6z"/>
<path fill="#41c900" d="M242.2 384l-3 1.2 1.2-3.2 3-1.2zM245.2 384.7l-3-.7 1.2-3.2 2.9 .6z"/>
<path fill="#1ebe00" d="M248 387.7l-2.8-3 1.1-3.3 2.8 3z"/>
<path fill="#300090" d="M116.6 425.4l-2.4-.1 1.3-.4 2.4 .2zM119 425.9l-2.4-.5 1.3-.3 2.4 .5zM121.4 426.6l-2.4-.7 1.3-.3 2.4 .7zM123.8 427.5l-2.4-.9 1.3-.3 2.4 .9zM126.2 428.4l-2.4-.9 1.3-.3 2.4 .9z"/>
<path fill="#31008a" d="M128.6 429.4l-2.4-1 1.3-.3 2.5 .9zM131.1 430.3l-2.5-.9 1.4-.4 2.4 .8zM133.5 431.2l-2.4-.9 1.3-.5 2.4 .8zM136 432l-2.5-.8 1.3-.6 2.5 .8zM138.4 432.8l-2.4-.8 1.3-.6 2.4 .6zM140.9 433.4l-2.5-.6 1.3-.8 2.5 .7zM143.4 434.1l-2.5-.7 1.3-.7 2.4 .5zM145.8 434.6l-2.4-.5 1.2-.9 2.5 .5z"/>
<path fill="#310085" d="M148.3 435.2l-2.5-.6 1.3-.9 2.5 .5zM150.8 435.7l-2.5-.5 1.3-1 2.4 .5zM153.3 436.2l-2.5-.5 1.2-1 2.5 .5zM155.8 436.7l-2.5-.5 1.2-1 2.5 .5zM158.3 437.2l-2.5-.5 1.2-1 2.5 .5zM160.8 437.7l-2.5-.5 1.2-1 2.5 .5zM163.4 438.2l-2.6-.5 1.2-1 2.6 .5zM165.9 438.8l-2.5-.6 1.2-1 2.5 .5zM168.4 439.3l-2.5-.5 1.2-1.1 2.5 .5zM171 439.9l-2.6-.6 1.2-1.1 2.6 .5zM173.6 440.4l-2.6-.5 1.2-1.2 2.5 .4zM176.1 440.8l-2.5-.4 1.1-1.3 2.6 .4zM178.7 441.2l-2.6-.4 1.2-1.3 2.6 .3z"/>
<path fill="#31008a" d="M181.3 441.4l-2.6-.2 1.2-1.4 2.6 .1zM183.9 441.5l-2.6-.1 1.2-1.5 2.6 0zM186.5 441.4l-2.6 .1 1.2-1.6 2.6-.3zM189.1 441l-2.6 .4 1.2-1.8 2.6-.4z"/>
<path fill="#300090" d="M191.8 440.4l-2.7 .6 1.2-1.8 2.6-.8z"/>
<path fill="#2f0095" d="M194.5 439.5l-2.7 .9 1.1-2 2.7-1.1z"/>
<path fill="#2e009a" d="M197.1 438.2l-2.6 1.3 1.1-2.2 2.7-1.5z"/>
<path fill="#2e009f" d="M199.9 436.5l-2.8 1.7 1.2-2.4 2.7-1.8z"/>
<path fill="#2d00a5" d="M202.6 434.4l-2.7 2.1 1.1-2.5 2.7-2.3z"/>
<path fill="#2b00ad" d="M205.4 431.8l-2.8 2.6 1.1-2.7 2.8-2.6z"/>
<path fill="#2600c0" d="M208.2 428.8l-2.8 3 1.1-2.7 2.8-3.2z"/>
<path fill="#2100d2" d="M211 425.4l-2.8 3.4 1.1-2.9 2.8-3.5z"/>
<path fill="#1a00e1" d="M213.9 421.6l-2.9 3.8 1.1-3 2.9-4z"/>
<path fill="#1000ed" d="M216.8 417.4l-2.9 4.2 1.1-3.2 3-4.2z"/>
<path fill="#0600f8" d="M219.8 412.9l-3 4.5 1.2-3.2 2.9-4.6z"/>
<path fill="#000bf4" d="M222.8 408.3l-3 4.6 1.1-3.3 3-4.7z"/>
<path fill="#0034cf" d="M225.8 403.6l-3 4.7 1.1-3.4 3.1-4.8z"/>
<path fill="#0052a9" d="M228.9 399l-3.1 4.6 1.2-3.5 3-4.6z"/>
<path fill="#00717c" d="M231.9 394.8l-3 4.2 1.1-3.5 3.1-4.2z"/>
<path fill="#07904c" d="M235 391.2l-3.1 3.6 1.2-3.5 3.1-3.6z"/>
<path fill="#16af19" d="M238.1 388.6l-3.1 2.6 1.2-3.5 3-2.5z"/>
<path fill="#1ebe00" d="M241.1 387.4l-3 1.2 1.1-3.4 3-1.2zM244 388l-2.9-.6 1.1-3.4 3 .7z"/>
<path fill="#16af19" d="M246.8 391l-2.8-3 1.2-3.3 2.8 3z"/>
<path fill="#300090" d="M115.2 425.6l-2.4 0 1.4-.3 2.4 .1z"/>
<path fill="#2f0095" d="M117.6 426.1l-2.4-.5 1.4-.2 2.4 .5z"/>
<path fill="#300090" d="M120 426.8l-2.4-.7 1.4-.2 2.4 .7zM122.4 427.7l-2.4-.9 1.4-.2 2.4 .9zM124.9 428.7l-2.5-1 1.4-.2 2.4 .9zM127.3 429.8l-2.4-1.1 1.3-.3 2.4 1zM129.8 430.8l-2.5-1 1.3-.4 2.5 .9z"/>
<path fill="#31008a" d="M132.2 431.8l-2.4-1 1.3-.5 2.4 .9zM134.7 432.7l-2.5-.9 1.3-.6 2.5 .8zM137.2 433.5l-2.5-.8 1.3-.7 2.4 .8zM139.6 434.2l-2.4-.7 1.2-.7 2.5 .6zM142.1 434.9l-2.5-.7 1.3-.8 2.5 .7zM144.6 435.5l-2.5-.6 1.3-.8 2.4 .5zM147.1 436.1l-2.5-.6 1.2-.9 2.5 .6zM149.6 436.6l-2.5-.5 1.2-.9 2.5 .5z"/>
<path fill="#310085" d="M152.1 437.2l-2.5-.6 1.2-.9 2.5 .5zM154.6 437.7l-2.5-.5 1.2-1 2.5 .5zM157.1 438.2l-2.5-.5 1.2-1 2.5 .5zM159.6 438.8l-2.5-.6 1.2-1 2.5 .5zM162.2 439.3l-2.6-.5 1.2-1.1 2.6 .5zM164.7 439.9l-2.5-.6 1.2-1.1 2.5 .6zM167.3 440.5l-2.6-.6 1.2-1.1 2.5 .5zM169.8 441.1l-2.5-.6 1.1-1.2 2.6 .6zM172.4 441.7l-2.6-.6 1.2-1.2 2.6 .5zM175 442.2l-2.6-.5 1.2-1.3 2.5 .4zM177.6 442.6l-2.6-.4 1.1-1.4 2.6 .4zM180.1 442.9l-2.5-.3 1.1-1.4 2.6 .2z"/>
<path fill="#31008a" d="M182.8 443.1l-2.7-.2 1.2-1.5 2.6 .1zM185.4 443.1l-2.6 0 1.1-1.6 2.6-.1zM188 442.9l-2.6 .2 1.1-1.7 2.6-.4z"/>
<path fill="#300090" d="M190.6 442.4l-2.6 .5 1.1-1.9 2.7-.6zM193.3 441.6l-2.7 .8 1.2-2 2.7-.9z"/>
<path fill="#2f0095" d="M196 440.5l-2.7 1.1 1.2-2.1 2.6-1.3z"/>
<path fill="#2e009a" d="M198.7 438.9l-2.7 1.6 1.1-2.3 2.8-1.7z"/>
<path fill="#2e009f" d="M201.4 437l-2.7 1.9 1.2-2.4 2.7-2.1z"/>
<path fill="#2d00a5" d="M204.2 434.6l-2.8 2.4 1.2-2.6 2.8-2.6z"/>
<path fill="#2800b6" d="M207 431.8l-2.8 2.8 1.2-2.8 2.8-3z"/>
<path fill="#2300c9" d="M209.9 428.5l-2.9 3.3 1.2-3 2.8-3.4z"/>
<path fill="#1e00db" d="M212.7 424.8l-2.8 3.7 1.1-3.1 2.9-3.8z"/>
<path fill="#1500e7" d="M215.6 420.8l-2.9 4 1.2-3.2 2.9-4.2z"/>
<path fill="#0b00f3" d="M218.6 416.4l-3 4.4 1.2-3.4 3-4.5z"/>
<path fill="#0100fe" d="M221.6 411.8l-3 4.6 1.2-3.5 3-4.6z"/>
<path fill="#0026dc" d="M224.6 407.2l-3 4.6 1.2-3.5 3-4.7z"/>
<path fill="#0042bf" d="M227.7 402.7l-3.1 4.5 1.2-3.6 3.1-4.6z"/>
<path fill="#006292" d="M230.8 398.5l-3.1 4.2 1.2-3.7 3-4.2z"/>
<path fill="#008165" d="M233.8 394.9l-3 3.6 1.1-3.7 3.1-3.6z"/>
<path fill="#0fa033" d="M236.9 392.3l-3.1 2.6 1.2-3.7 3.1-2.6z"/>
<path fill="#16af19" d="M239.9 391l-3 1.3 1.2-3.7 3-1.2zM242.9 391.5l-3-.5 1.2-3.6 2.9 .6z"/>
<path fill="#0fa033" d="M245.7 394.4l-2.8-2.9 1.1-3.5 2.8 3z"/>
<path fill="#2f0095" d="M113.8 425.8l-2.3 .2 1.3-.4 2.4 0zM116.2 426.2l-2.4-.4 1.4-.2 2.4 .5zM118.7 426.9l-2.5-.7 1.4-.1 2.4 .7zM121.1 427.9l-2.4-1 1.3-.1 2.4 .9z"/>
<path fill="#300090" d="M123.5 429l-2.4-1.1 1.3-.2 2.5 1zM126 430.1l-2.5-1.1 1.4-.3 2.4 1.1zM128.5 431.2l-2.5-1.1 1.3-.3 2.5 1zM130.9 432.3l-2.4-1.1 1.3-.4 2.4 1z"/>
<path fill="#31008a" d="M133.4 433.3l-2.5-1 1.3-.5 2.5 .9zM135.9 434.2l-2.5-.9 1.3-.6 2.5 .8zM138.4 435l-2.5-.8 1.3-.7 2.4 .7zM140.8 435.7l-2.4-.7 1.2-.8 2.5 .7zM143.3 436.4l-2.5-.7 1.3-.8 2.5 .6zM145.8 437l-2.5-.6 1.3-.9 2.5 .6zM148.3 437.6l-2.5-.6 1.3-.9 2.5 .5zM150.8 438.2l-2.5-.6 1.3-1 2.5 .6z"/>
<path fill="#310085" d="M153.4 438.7l-2.6-.5 1.3-1 2.5 .5zM155.9 439.3l-2.5-.6 1.2-1 2.5 .5zM158.4 439.9l-2.5-.6 1.2-1.1 2.5 .6zM161 440.5l-2.6-.6 1.2-1.1 2.6 .5zM163.5 441.1l-2.5-.6 1.2-1.2 2.5 .6zM166.1 441.7l-2.6-.6 1.2-1.2 2.6 .6zM168.6 442.3l-2.5-.6 1.2-1.2 2.5 .6zM171.2 443l-2.6-.7 1.2-1.2 2.6 .6zM173.8 443.5l-2.6-.5 1.2-1.3 2.6 .5zM176.4 444l-2.6-.5 1.2-1.3 2.6 .4zM179 444.5l-2.6-.5 1.2-1.4 2.5 .3zM181.6 444.7l-2.6-.2 1.1-1.6 2.7 .2zM184.2 444.9l-2.6-.2 1.2-1.6 2.6 0z"/>
<path fill="#31008a" d="M186.9 444.8l-2.7 .1 1.2-1.8 2.6-.2zM189.5 444.4l-2.6 .4 1.1-1.9 2.6-.5z"/>
<path fill="#300090" d="M192.2 443.7l-2.7 .7 1.1-2 2.7-.8zM194.9 442.8l-2.7 .9 1.1-2.1 2.7-1.1z"/>
<path fill="#2f0095" d="M197.6 441.4l-2.7 1.4 1.1-2.3 2.7-1.6z"/>
<path fill="#2e009a" d="M200.3 439.6l-2.7 1.8 1.1-2.5 2.7-1.9z"/>
<path fill="#2d00a5" d="M203.1 437.4l-2.8 2.2 1.1-2.6 2.8-2.4z"/>
<path fill="#2b00ad" d="M205.9 434.8l-2.8 2.6 1.1-2.8 2.8-2.8z"/>
<path fill="#2600c0" d="M208.7 431.7l-2.8 3.1 1.1-3 2.9-3.3z"/>
<path fill="#2100d2" d="M211.6 428.1l-2.9 3.6 1.2-3.2 2.8-3.7z"/>
<path fill="#1a00e1" d="M214.5 424.2l-2.9 3.9 1.1-3.3 2.9-4z"/>
<path fill="#1000ed" d="M217.4 420l-2.9 4.2 1.1-3.4 3-4.4z"/>
<path fill="#0600f8" d="M220.4 415.6l-3 4.4 1.2-3.6 3-4.6z"/>
<path fill="#000bf4" d="M223.4 411l-3 4.6 1.2-3.8 3-4.6z"/>
<path fill="#0034cf" d="M226.5 406.6l-3.1 4.4 1.2-3.8 3.1-4.5z"/>
<path fill="#0052a9" d="M229.6 402.4l-3.1 4.2 1.2-3.9 3.1-4.2z"/>
<path fill="#00717c" d="M232.7 398.8l-3.1 3.6 1.2-3.9 3-3.6z"/>
<path fill="#008165" d="M235.7 396.1l-3 2.7 1.1-3.9 3.1-2.6z"/>
<path fill="#07904c" d="M238.7 394.8l-3 1.3 1.2-3.8 3-1.3z"/>
<path fill="#0fa033" d="M241.7 395.2l-3-.4 1.2-3.8 3 .5z"/>
<path fill="#07904c" d="M244.5 397.9l-2.8-2.7 1.2-3.7 2.8 2.9z"/>
<path fill="#2f0095" d="M112.4 426l-2.3 .3 1.4-.3 2.3-.2zM114.8 426.3l-2.4-.3 1.4-.2 2.4 .4zM117.3 427l-2.5-.7 1.4-.1 2.5 .7zM119.7 428l-2.4-1 1.4-.1 2.4 1zM122.2 429.1l-2.5-1.1 1.4-.1 2.4 1.1zM124.7 430.3l-2.5-1.2 1.3-.1 2.5 1.1z"/>
<path fill="#300090" d="M127.1 431.6l-2.4-1.3 1.3-.2 2.5 1.1zM129.6 432.7l-2.5-1.1 1.4-.4 2.4 1.1zM132.1 433.8l-2.5-1.1 1.3-.4 2.5 1z"/>
<path fill="#31008a" d="M134.6 434.8l-2.5-1 1.3-.5 2.5 .9zM137.1 435.7l-2.5-.9 1.3-.6 2.5 .8zM139.6 436.6l-2.5-.9 1.3-.7 2.4 .7zM142.1 437.3l-2.5-.7 1.2-.9 2.5 .7zM144.6 438l-2.5-.7 1.2-.9 2.5 .6zM147.1 438.6l-2.5-.6 1.2-1 2.5 .6zM149.6 439.2l-2.5-.6 1.2-1 2.5 .6z"/>
<path fill="#310085" d="M152.1 439.8l-2.5-.6 1.2-1 2.6 .5zM154.6 440.4l-2.5-.6 1.3-1.1 2.5 .6zM157.2 441l-2.6-.6 1.3-1.1 2.5 .6zM159.7 441.6l-2.5-.6 1.2-1.1 2.6 .6zM162.3 442.3l-2.6-.7 1.3-1.1 2.5 .6zM164.9 442.9l-2.6-.6 1.2-1.2 2.6 .6zM167.4 443.6l-2.5-.7 1.2-1.2 2.5 .6zM170 444.3l-2.6-.7 1.2-1.3 2.6 .7zM172.6 444.9l-2.6-.6 1.2-1.3 2.6 .5zM175.2 445.5l-2.6-.6 1.2-1.4 2.6 .5zM177.8 446l-2.6-.5 1.2-1.5 2.6 .5zM180.4 446.3l-2.6-.3 1.2-1.5 2.6 .2zM183.1 446.6l-2.7-.3 1.2-1.6 2.6 .2zM185.7 446.6l-2.6 0 1.1-1.7 2.7-.1z"/>
<path fill="#31008a" d="M188.3 446.4l-2.6 .2 1.2-1.8 2.6-.4zM191 445.8l-2.7 .6 1.2-2 2.7-.7z"/>
<path fill="#300090" d="M193.7 445l-2.7 .8 1.2-2.1 2.7-.9z"/>
<path fill="#2f0095" d="M196.4 443.8l-2.7 1.2 1.2-2.2 2.7-1.4z"/>
<path fill="#2e009a" d="M199.2 442.2l-2.8 1.6 1.2-2.4 2.7-1.8z"/>
<path fill="#2e009f" d="M201.9 440.2l-2.7 2 1.1-2.6 2.8-2.2z"/>
<path fill="#2d00a5" d="M204.7 437.7l-2.8 2.5 1.2-2.8 2.8-2.6z"/>
<path fill="#2800b6" d="M207.5 434.8l-2.8 2.9 1.2-2.9 2.8-3.1z"/>
<path fill="#2300c9" d="M210.4 431.5l-2.9 3.3 1.2-3.1 2.9-3.6z"/>
<path fill="#2100d2" d="M213.3 427.8l-2.9 3.7 1.2-3.4 2.9-3.9z"/>
<path fill="#1500e7" d="M216.3 423.7l-3 4.1 1.2-3.6 2.9-4.2z"/>
<path fill="#0b00f3" d="M219.2 419.4l-2.9 4.3 1.1-3.7 3-4.4z"/>
<path fill="#0100fe" d="M222.3 415l-3.1 4.4 1.2-3.8 3-4.6z"/>
<path fill="#0019e8" d="M225.3 410.6l-3 4.4 1.1-4 3.1-4.4z"/>
<path fill="#0034cf" d="M228.4 406.5l-3.1 4.1 1.2-4 3.1-4.2z"/>
<path fill="#0052a9" d="M231.5 402.9l-3.1 3.6 1.2-4.1 3.1-3.6z"/>
<path fill="#00717c" d="M234.5 400.2l-3 2.7 1.2-4.1 3-2.7z"/>
<path fill="#008165" d="M237.6 398.7l-3.1 1.5 1.2-4.1 3-1.3z"/>
<path fill="#07904c" d="M240.5 398.9l-2.9-.2 1.1-3.9 3 .4z"/>
<path fill="#008165" d="M243.4 401.4l-2.9-2.5 1.2-3.7 2.8 2.7z"/>
<path fill="#2e009a" d="M111 426.1l-2.3 .4 1.4-.2 2.3-.3zM113.5 426.3l-2.5-.2 1.4-.1 2.4 .3zM115.9 427.1l-2.4-.8 1.3 0 2.5 .7zM118.4 428.1l-2.5-1 1.4-.1 2.4 1z"/>
<path fill="#2f0095" d="M120.8 429.3l-2.4-1.2 1.3-.1 2.5 1.1zM123.3 430.6l-2.5-1.3 1.4-.2 2.5 1.2zM125.8 431.9l-2.5-1.3 1.4-.3 2.4 1.3z"/>
<path fill="#300090" d="M128.3 433.1l-2.5-1.2 1.3-.3 2.5 1.1zM130.8 434.3l-2.5-1.2 1.3-.4 2.5 1.1zM133.3 435.4l-2.5-1.1 1.3-.5 2.5 1z"/>
<path fill="#31008a" d="M135.8 436.4l-2.5-1 1.3-.6 2.5 .9zM138.3 437.4l-2.5-1 1.3-.7 2.5 .9zM140.8 438.2l-2.5-.8 1.3-.8 2.5 .7zM143.3 438.9l-2.5-.7 1.3-.9 2.5 .7zM145.8 439.6l-2.5-.7 1.3-.9 2.5 .6zM148.3 440.3l-2.5-.7 1.3-1 2.5 .6z"/>
<path fill="#310085" d="M150.9 440.9l-2.6-.6 1.3-1.1 2.5 .6zM153.4 441.5l-2.5-.6 1.2-1.1 2.5 .6zM155.9 442.2l-2.5-.7 1.2-1.1 2.6 .6zM158.5 442.8l-2.6-.6 1.3-1.2 2.5 .6zM161.1 443.5l-2.6-.7 1.2-1.2 2.6 .7zM163.6 444.2l-2.5-.7 1.2-1.2 2.6 .6zM166.2 444.9l-2.6-.7 1.3-1.3 2.5 .7zM168.8 445.6l-2.6-.7 1.2-1.3 2.6 .7zM171.4 446.3l-2.6-.7 1.2-1.3 2.6 .6zM174 446.9l-2.6-.6 1.2-1.4 2.6 .6zM176.6 447.5l-2.6-.6 1.2-1.4 2.6 .5zM179.3 447.9l-2.7-.4 1.2-1.5 2.6 .3zM181.9 448.2l-2.6-.3 1.1-1.6 2.7 .3zM184.5 448.4l-2.6-.2 1.2-1.6 2.6 0zM187.2 448.3l-2.7 .1 1.2-1.8 2.6-.2z"/>
<path fill="#31008a" d="M189.9 447.9l-2.7 .4 1.1-1.9 2.7-.6zM192.6 447.2l-2.7 .7 1.1-2.1 2.7-.8z"/>
<path fill="#300090" d="M195.3 446.2l-2.7 1 1.1-2.2 2.7-1.2z"/>
<path fill="#2f0095" d="M198 444.8l-2.7 1.4 1.1-2.4 2.8-1.6z"/>
<path fill="#2e009a" d="M200.8 442.9l-2.8 1.9 1.2-2.6 2.7-2z"/>
<path fill="#2e009f" d="M203.6 440.7l-2.8 2.2 1.1-2.7 2.8-2.5z"/>
<path fill="#2b00ad" d="M206.4 438l-2.8 2.7 1.1-3 2.8-2.9z"/>
<path fill="#2600c0" d="M209.2 434.8l-2.8 3.2 1.1-3.2 2.9-3.3z"/>
<path fill="#2300c9" d="M212.1 431.3l-2.9 3.5 1.2-3.3 2.9-3.7z"/>
<path fill="#1e00db" d="M215.1 427.4l-3 3.9 1.2-3.5 3-4.1z"/>
<path fill="#1000ed" d="M218.1 423.3l-3 4.1 1.2-3.7 2.9-4.3z"/>
<path fill="#0600f8" d="M221.1 419l-3 4.3 1.1-3.9 3.1-4.4z"/>
<path fill="#000bf4" d="M224.1 414.8l-3 4.2 1.2-4 3-4.4z"/>
<path fill="#0026dc" d="M227.2 410.7l-3.1 4.1 1.2-4.2 3.1-4.1z"/>
<path fill="#0042bf" d="M230.2 407.2l-3 3.5 1.2-4.2 3.1-3.6z"/>
<path fill="#006292" d="M233.3 404.4l-3.1 2.8 1.3-4.3 3-2.7z"/>
<path fill="#00717c" d="M236.4 402.8l-3.1 1.6 1.2-4.2 3.1-1.5zM239.3 402.8l-2.9 0 1.2-4.1 2.9 .2zM242.2 404.9l-2.9-2.1 1.2-3.9 2.9 2.5z"/>
<path fill="#2e009a" d="M109.6 426.2l-2.3 .5 1.4-.2 2.3-.4zM112 426.3l-2.4-.1 1.4-.1 2.5 .2zM114.5 427l-2.5-.7 1.5 0 2.4 .8zM117 428.1l-2.5-1.1 1.4 .1 2.5 1zM119.4 429.3l-2.4-1.2 1.4 0 2.4 1.2z"/>
<path fill="#2f0095" d="M121.9 430.7l-2.5-1.4 1.4 0 2.5 1.3zM124.4 432.1l-2.5-1.4 1.4-.1 2.5 1.3zM126.9 433.5l-2.5-1.4 1.4-.2 2.5 1.2z"/>
<path fill="#300090" d="M129.4 434.8l-2.5-1.3 1.4-.4 2.5 1.2zM131.9 436l-2.5-1.2 1.4-.5 2.5 1.1z"/>
<path fill="#31008a" d="M134.5 437.1l-2.6-1.1 1.4-.6 2.5 1zM137 438.1l-2.5-1 1.3-.7 2.5 1zM139.5 439l-2.5-.9 1.3-.7 2.5 .8zM142 439.9l-2.5-.9 1.3-.8 2.5 .7zM144.5 440.6l-2.5-.7 1.3-1 2.5 .7zM147.1 441.3l-2.6-.7 1.3-1 2.5 .7z"/>
<path fill="#310085" d="M149.6 442l-2.5-.7 1.2-1 2.6 .6zM152.2 442.7l-2.6-.7 1.3-1.1 2.5 .6zM154.7 443.3l-2.5-.6 1.2-1.2 2.5 .7zM157.3 444l-2.6-.7 1.2-1.1 2.6 .6zM159.8 444.7l-2.5-.7 1.2-1.2 2.6 .7zM162.4 445.4l-2.6-.7 1.3-1.2 2.5 .7zM165 446.2l-2.6-.8 1.2-1.2 2.6 .7zM167.6 446.9l-2.6-.7 1.2-1.3 2.6 .7zM170.2 447.6l-2.6-.7 1.2-1.3 2.6 .7zM172.8 448.3l-2.6-.7 1.2-1.3 2.6 .6zM175.4 448.9l-2.6-.6 1.2-1.4 2.6 .6zM178.1 449.5l-2.7-.6 1.2-1.4 2.7 .4zM180.7 449.9l-2.6-.4 1.2-1.6 2.6 .3zM183.4 450.1l-2.7-.2 1.2-1.7 2.6 .2zM186 450.1l-2.6 0 1.1-1.7 2.7-.1zM188.7 449.9l-2.7 .2 1.2-1.8 2.7-.4z"/>
<path fill="#31008a" d="M191.4 449.4l-2.7 .5 1.2-2 2.7-.7z"/>
<path fill="#300090" d="M194.1 448.5l-2.7 .9 1.2-2.2 2.7-1zM196.8 447.3l-2.7 1.2 1.2-2.3 2.7-1.4z"/>
<path fill="#2f0095" d="M199.6 445.6l-2.8 1.7 1.2-2.5 2.8-1.9z"/>
<path fill="#2e009f" d="M202.4 443.6l-2.8 2 1.2-2.7 2.8-2.2z"/>
<path fill="#2d00a5" d="M205.2 441.1l-2.8 2.5 1.2-2.9 2.8-2.7z"/>
<path fill="#2b00ad" d="M208.1 438.2l-2.9 2.9 1.2-3.1 2.8-3.2z"/>
<path fill="#2600c0" d="M211 434.9l-2.9 3.3 1.1-3.4 2.9-3.5z"/>
<path fill="#2100d2" d="M213.9 431.2l-2.9 3.7 1.1-3.6 3-3.9z"/>
<path fill="#1a00e1" d="M216.9 427.3l-3 3.9 1.2-3.8 3-4.1z"/>
<path fill="#1000ed" d="M219.9 423.2l-3 4.1 1.2-4 3-4.3z"/>
<path fill="#0100fe" d="M222.9 419l-3 4.2 1.2-4.2 3-4.2z"/>
<path fill="#0019e8" d="M226 415.1l-3.1 3.9 1.2-4.2 3.1-4.1z"/>
<path fill="#0034cf" d="M229 411.5l-3 3.6 1.2-4.4 3-3.5z"/>
<path fill="#0042bf" d="M232.1 408.7l-3.1 2.8 1.2-4.3 3.1-2.8z"/>
<path fill="#0052a9" d="M235.1 407l-3 1.7 1.2-4.3 3.1-1.6z"/>
<path fill="#006292" d="M238.1 406.7l-3 .3 1.3-4.2 2.9 0zM241 408.5l-2.9-1.8 1.2-3.9 2.9 2.1z"/>
<path fill="#2e009a" d="M108.2 426.2l-2.4 .6 1.5-.1 2.3-.5z"/>
<path fill="#2e009f" d="M110.6 426.3l-2.4-.1 1.4 0 2.4 .1zM113.1 427l-2.5-.7 1.4 0 2.5 .7zM115.6 428l-2.5-1 1.4 0 2.5 1.1z"/>
<path fill="#2e009a" d="M118 429.4l-2.4-1.4 1.4 .1 2.4 1.2zM120.6 430.8l-2.6-1.4 1.4-.1 2.5 1.4z"/>
<path fill="#2f0095" d="M123.1 432.3l-2.5-1.5 1.3-.1 2.5 1.4zM125.6 433.8l-2.5-1.5 1.3-.2 2.5 1.4z"/>
<path fill="#300090" d="M128.1 435.2l-2.5-1.4 1.3-.3 2.5 1.3zM130.6 436.5l-2.5-1.3 1.3-.4 2.5 1.2zM133.1 437.7l-2.5-1.2 1.3-.5 2.6 1.1z"/>
<path fill="#31008a" d="M135.7 438.9l-2.6-1.2 1.4-.6 2.5 1zM138.2 439.9l-2.5-1 1.3-.8 2.5 .9zM140.7 440.8l-2.5-.9 1.3-.9 2.5 .9zM143.2 441.6l-2.5-.8 1.3-.9 2.5 .7zM145.8 442.4l-2.6-.8 1.3-1 2.6 .7zM148.3 443.1l-2.5-.7 1.3-1.1 2.5 .7z"/>
<path fill="#310085" d="M150.9 443.8l-2.6-.7 1.3-1.1 2.6 .7zM153.5 444.5l-2.6-.7 1.3-1.1 2.5 .6zM156 445.2l-2.5-.7 1.2-1.2 2.6 .7zM158.6 446l-2.6-.8 1.3-1.2 2.5 .7zM161.2 446.7l-2.6-.7 1.2-1.3 2.6 .7zM163.8 447.5l-2.6-.8 1.2-1.3 2.6 .8zM166.4 448.2l-2.6-.7 1.2-1.3 2.6 .7zM169 449l-2.6-.8 1.2-1.3 2.6 .7zM171.6 449.7l-2.6-.7 1.2-1.4 2.6 .7zM174.2 450.4l-2.6-.7 1.2-1.4 2.6 .6z"/>
<path fill="#320080" d="M176.9 451l-2.7-.6 1.2-1.5 2.7 .6zM179.5 451.5l-2.6-.5 1.2-1.5 2.6 .4z"/>
<path fill="#310085" d="M182.2 451.8l-2.7-.3 1.2-1.6 2.7 .2zM184.8 451.9l-2.6-.1 1.2-1.7 2.6 0zM187.5 451.8l-2.7 .1 1.2-1.8 2.7-.2zM190.2 451.5l-2.7 .3 1.2-1.9 2.7-.5z"/>
<path fill="#31008a" d="M192.9 450.8l-2.7 .7 1.2-2.1 2.7-.9z"/>
<path fill="#300090" d="M195.7 449.7l-2.8 1.1 1.2-2.3 2.7-1.2z"/>
<path fill="#2f0095" d="M198.4 448.3l-2.7 1.4 1.1-2.4 2.8-1.7z"/>
<path fill="#2e009a" d="M201.2 446.4l-2.8 1.9 1.2-2.7 2.8-2z"/>
<path fill="#2e009f" d="M204 444.1l-2.8 2.3 1.2-2.8 2.8-2.5z"/>
<path fill="#2b00ad" d="M206.9 441.5l-2.9 2.6 1.2-3 2.9-2.9z"/>
<path fill="#2800b6" d="M209.8 438.4l-2.9 3.1 1.2-3.3 2.9-3.3z"/>
<path fill="#2300c9" d="M212.7 434.9l-2.9 3.5 1.2-3.5 2.9-3.7z"/>
<path fill="#1e00db" d="M215.7 431.2l-3 3.7 1.2-3.7 3-3.9z"/>
<path fill="#1500e7" d="M218.7 427.3l-3 3.9 1.2-3.9 3-4.1z"/>
<path fill="#0b00f3" d="M221.7 423.3l-3 4 1.2-4.1 3-4.2z"/>
<path fill="#0100fe" d="M224.7 419.5l-3 3.8 1.2-4.3 3.1-3.9z"/>
<path fill="#0019e8" d="M227.8 416l-3.1 3.5 1.3-4.4 3-3.6z"/>
<path fill="#0034cf" d="M230.9 413.1l-3.1 2.9 1.2-4.5 3.1-2.8z"/>
<path fill="#0042bf" d="M233.9 411.2l-3 1.9 1.2-4.4 3-1.7z"/>
<path fill="#0052a9" d="M236.9 410.7l-3 .5 1.2-4.2 3-.3zM239.9 412l-3-1.3 1.2-4 2.9 1.8z"/>
<path fill="#2e009f" d="M106.8 426.1l-2.4 .8 1.4-.1 2.4-.6zM109.2 426.2l-2.4-.1 1.4 .1 2.4 .1zM111.6 426.8l-2.4-.6 1.4 .1 2.5 .7zM114.1 427.9l-2.5-1.1 1.5 .2 2.5 1zM116.6 429.3l-2.5-1.4 1.5 .1 2.4 1.4z"/>
<path fill="#2e009a" d="M119.2 430.9l-2.6-1.6 1.4 .1 2.6 1.4zM121.7 432.5l-2.5-1.6 1.4-.1 2.5 1.5z"/>
<path fill="#2f0095" d="M124.2 434l-2.5-1.5 1.4-.2 2.5 1.5zM126.7 435.6l-2.5-1.6 1.4-.2 2.5 1.4z"/>
<path fill="#300090" d="M129.3 437l-2.6-1.4 1.4-.4 2.5 1.3zM131.8 438.3l-2.5-1.3 1.3-.5 2.5 1.2zM134.3 439.5l-2.5-1.2 1.3-.6 2.6 1.2z"/>
<path fill="#31008a" d="M136.9 440.6l-2.6-1.1 1.4-.6 2.5 1zM139.4 441.6l-2.5-1 1.3-.7 2.5 .9zM142 442.6l-2.6-1 1.3-.8 2.5 .8zM144.5 443.4l-2.5-.8 1.2-1 2.6 .8zM147.1 444.2l-2.6-.8 1.3-1 2.5 .7z"/>
<path fill="#310085" d="M149.6 445l-2.5-.8 1.2-1.1 2.6 .7zM152.2 445.7l-2.6-.7 1.3-1.2 2.6 .7zM154.8 446.5l-2.6-.8 1.3-1.2 2.5 .7zM157.4 447.2l-2.6-.7 1.2-1.3 2.6 .8zM160 448l-2.6-.8 1.2-1.2 2.6 .7zM162.6 448.8l-2.6-.8 1.2-1.3 2.6 .8zM165.2 449.6l-2.6-.8 1.2-1.3 2.6 .7zM167.8 450.3l-2.6-.7 1.2-1.4 2.6 .8z"/>
<path fill="#320080" d="M170.4 451.1l-2.6-.8 1.2-1.3 2.6 .7zM173 451.8l-2.6-.7 1.2-1.4 2.6 .7zM175.7 452.5l-2.7-.7 1.2-1.4 2.7 .6zM178.3 453.1l-2.6-.6 1.2-1.5 2.6 .5zM181 453.5l-2.7-.4 1.2-1.6 2.7 .3zM183.7 453.7l-2.7-.2 1.2-1.7 2.6 .1z"/>
<path fill="#310085" d="M186.4 453.7l-2.7 0 1.1-1.8 2.7-.1zM189.1 453.5l-2.7 .2 1.1-1.9 2.7-.3z"/>
<path fill="#31008a" d="M191.8 452.9l-2.7 .6 1.1-2 2.7-.7zM194.5 452.1l-2.7 .8 1.1-2.1 2.8-1.1z"/>
<path fill="#300090" d="M197.3 450.8l-2.8 1.3 1.2-2.4 2.7-1.4z"/>
<path fill="#2f0095" d="M200.1 449.2l-2.8 1.6 1.1-2.5 2.8-1.9z"/>
<path fill="#2e009a" d="M202.9 447.1l-2.8 2.1 1.1-2.8 2.8-2.3z"/>
<path fill="#2d00a5" d="M205.7 444.7l-2.8 2.4 1.1-3 2.9-2.6z"/>
<path fill="#2b00ad" d="M208.6 441.9l-2.9 2.8 1.2-3.2 2.9-3.1z"/>
<path fill="#2600c0" d="M211.5 438.7l-2.9 3.2 1.2-3.5 2.9-3.5z"/>
<path fill="#2100d2" d="M214.5 435.2l-3 3.5 1.2-3.8 3-3.7z"/>
<path fill="#1a00e1" d="M217.5 431.4l-3 3.8 1.2-4 3-3.9z"/>
<path fill="#1000ed" d="M220.5 427.6l-3 3.8 1.2-4.1 3-4z"/>
<path fill="#0600f8" d="M223.5 423.9l-3 3.7 1.2-4.3 3-3.8z"/>
<path fill="#000bf4" d="M226.6 420.5l-3.1 3.4 1.2-4.4 3.1-3.5z"/>
<path fill="#0019e8" d="M229.7 417.6l-3.1 2.9 1.2-4.5 3.1-2.9z"/>
<path fill="#0026dc" d="M232.7 415.5l-3 2.1 1.2-4.5 3-1.9z"/>
<path fill="#0034cf" d="M235.7 414.8l-3 .7 1.2-4.3 3-.5zM238.7 415.6l-3-.8 1.2-4.1 3 1.3z"/>
<path fill="#2d00a5" d="M105.3 426l-2.4 .8 1.5 .1 2.4-.8zM107.7 426l-2.4 0 1.5 .1 2.4 .1zM110.2 426.7l-2.5-.7 1.5 .2 2.4 .6zM112.7 427.8l-2.5-1.1 1.4 .1 2.5 1.1z"/>
<path fill="#2e009f" d="M115.2 429.2l-2.5-1.4 1.4 .1 2.5 1.4zM117.7 430.9l-2.5-1.7 1.4 .1 2.6 1.6z"/>
<path fill="#2e009a" d="M120.3 432.5l-2.6-1.6 1.5 0 2.5 1.6zM122.8 434.2l-2.5-1.7 1.4 0 2.5 1.5z"/>
<path fill="#2f0095" d="M125.4 435.9l-2.6-1.7 1.4-.2 2.5 1.6zM127.9 437.4l-2.5-1.5 1.3-.3 2.6 1.4z"/>
<path fill="#300090" d="M130.5 438.9l-2.6-1.5 1.4-.4 2.5 1.3zM133 440.2l-2.5-1.3 1.3-.6 2.5 1.2z"/>
<path fill="#31008a" d="M135.5 441.4l-2.5-1.2 1.3-.7 2.6 1.1zM138.1 442.5l-2.6-1.1 1.4-.8 2.5 1zM140.6 443.5l-2.5-1 1.3-.9 2.6 1zM143.2 444.4l-2.6-.9 1.4-.9 2.5 .8zM145.8 445.2l-2.6-.8 1.3-1 2.6 .8z"/>
<path fill="#310085" d="M148.3 446.1l-2.5-.9 1.3-1 2.5 .8zM150.9 446.9l-2.6-.8 1.3-1.1 2.6 .7zM153.5 447.7l-2.6-.8 1.3-1.2 2.6 .8zM156.1 448.4l-2.6-.7 1.3-1.2 2.6 .7zM158.7 449.2l-2.6-.8 1.3-1.2 2.6 .8zM161.3 450.1l-2.6-.9 1.3-1.2 2.6 .8zM163.9 450.9l-2.6-.8 1.3-1.3 2.6 .8z"/>
<path fill="#320080" d="M166.6 451.7l-2.7-.8 1.3-1.3 2.6 .7zM169.2 452.5l-2.6-.8 1.2-1.4 2.6 .8zM171.8 453.3l-2.6-.8 1.2-1.4 2.6 .7zM174.5 454l-2.7-.7 1.2-1.5 2.7 .7zM177.1 454.6l-2.6-.6 1.2-1.5 2.6 .6zM179.8 455.1l-2.7-.5 1.2-1.5 2.7 .4zM182.5 455.4l-2.7-.3 1.2-1.6 2.7 .2zM185.2 455.5l-2.7-.1 1.2-1.7 2.7 0z"/>
<path fill="#310085" d="M187.9 455.4l-2.7 .1 1.2-1.8 2.7-.2zM190.6 455l-2.7 .4 1.2-1.9 2.7-.6z"/>
<path fill="#31008a" d="M193.3 454.3l-2.7 .7 1.2-2.1 2.7-.8zM196.1 453.3l-2.8 1 1.2-2.2 2.8-1.3z"/>
<path fill="#300090" d="M198.9 451.8l-2.8 1.5 1.2-2.5 2.8-1.6z"/>
<path fill="#2f0095" d="M201.7 450l-2.8 1.8 1.2-2.6 2.8-2.1z"/>
<path fill="#2e009f" d="M204.5 447.8l-2.8 2.2 1.2-2.9 2.8-2.4z"/>
<path fill="#2d00a5" d="M207.4 445.2l-2.9 2.6 1.2-3.1 2.9-2.8z"/>
<path fill="#2800b6" d="M210.3 442.3l-2.9 2.9 1.2-3.3 2.9-3.2z"/>
<path fill="#2600c0" d="M213.3 439l-3 3.3 1.2-3.6 3-3.5z"/>
<path fill="#2100d2" d="M216.2 435.5l-2.9 3.5 1.2-3.8 3-3.8z"/>
<path fill="#1a00e1" d="M219.3 431.9l-3.1 3.6 1.3-4.1 3-3.8z"/>
<path fill="#1000ed" d="M222.3 428.4l-3 3.5 1.2-4.3 3-3.7z"/>
<path fill="#0600f8" d="M225.4 425l-3.1 3.4 1.2-4.5 3.1-3.4z"/>
<path fill="#000bf4" d="M228.4 422.1l-3 2.9 1.2-4.5 3.1-2.9z"/>
<path fill="#0019e8" d="M231.5 419.9l-3.1 2.2 1.3-4.5 3-2.1z"/>
<path fill="#0026dc" d="M234.5 418.8l-3 1.1 1.2-4.4 3-.7zM237.5 419.2l-3-.4 1.2-4 3 .8z"/>
<path fill="#2d00a5" d="M103.8 425.8l-2.4 .9 1.5 .1 2.4-.8z"/>
<path fill="#2b00ad" d="M106.3 425.8l-2.5 0 1.5 .2 2.4 0zM108.7 426.4l-2.4-.6 1.4 .2 2.5 .7z"/>
<path fill="#2d00a5" d="M111.2 427.6l-2.5-1.2 1.5 .3 2.5 1.1zM113.8 429.1l-2.6-1.5 1.5 .2 2.5 1.4z"/>
<path fill="#2e009f" d="M116.3 430.8l-2.5-1.7 1.4 .1 2.5 1.7zM118.9 432.6l-2.6-1.8 1.4 .1 2.6 1.6z"/>
<path fill="#2e009a" d="M121.4 434.4l-2.5-1.8 1.4-.1 2.5 1.7zM124 436.1l-2.6-1.7 1.4-.2 2.6 1.7z"/>
<path fill="#2f0095" d="M126.5 437.8l-2.5-1.7 1.4-.2 2.5 1.5zM129.1 439.3l-2.6-1.5 1.4-.4 2.6 1.5z"/>
<path fill="#300090" d="M131.7 440.8l-2.6-1.5 1.4-.4 2.5 1.3zM134.2 442.1l-2.5-1.3 1.3-.6 2.5 1.2z"/>
<path fill="#31008a" d="M136.8 443.2l-2.6-1.1 1.3-.7 2.6 1.1zM139.3 444.3l-2.5-1.1 1.3-.7 2.5 1zM141.9 445.3l-2.6-1 1.3-.8 2.6 .9zM144.5 446.3l-2.6-1 1.3-.9 2.6 .8z"/>
<path fill="#310085" d="M147.1 447.1l-2.6-.8 1.3-1.1 2.5 .9zM149.6 448l-2.5-.9 1.2-1 2.6 .8zM152.2 448.8l-2.6-.8 1.3-1.1 2.6 .8zM154.8 449.6l-2.6-.8 1.3-1.1 2.6 .7zM157.4 450.5l-2.6-.9 1.3-1.2 2.6 .8zM160.1 451.3l-2.7-.8 1.3-1.3 2.6 .9zM162.7 452.2l-2.6-.9 1.2-1.2 2.6 .8z"/>
<path fill="#320080" d="M165.3 453l-2.6-.8 1.2-1.3 2.7 .8zM168 453.8l-2.7-.8 1.3-1.3 2.6 .8zM170.6 454.6l-2.6-.8 1.2-1.3 2.6 .8zM171 454.7l-.4-.1 1.2-1.3 2.7 .7-.4 .4zM174.1 454.4l.4-.4 2.6 .6 0 0zM177.1 454.6l0 0 2.7 .5-.2 .2zM179.6 455.3l.2-.2 2.7 .3-.8 1zM184 457.2l-1.3-.1-1-.7 .8-1 2.7 .1zM186.7 457.3l-2.7-.1 1.2-1.7 2.7-.1z"/>
<path fill="#310085" d="M189.4 457l-2.7 .3 1.2-1.9 2.7-.4zM192.2 456.5l-2.8 .5 1.2-2 2.7-.7z"/>
<path fill="#31008a" d="M194.9 455.6l-2.7 .9 1.1-2.2 2.8-1z"/>
<path fill="#300090" d="M197.7 454.4l-2.8 1.2 1.2-2.3 2.8-1.5z"/>
<path fill="#2f0095" d="M200.5 452.8l-2.8 1.6 1.2-2.6 2.8-1.8z"/>
<path fill="#2e009a" d="M203.4 450.9l-2.9 1.9 1.2-2.8 2.8-2.2z"/>
<path fill="#2e009f" d="M206.2 448.5l-2.8 2.4 1.1-3.1 2.9-2.6z"/>
<path fill="#2b00ad" d="M209.1 445.8l-2.9 2.7 1.2-3.3 2.9-2.9z"/>
<path fill="#2800b6" d="M212.1 442.8l-3 3 1.2-3.5 3-3.3z"/>
<path fill="#2300c9" d="M215 439.6l-2.9 3.2 1.2-3.8 2.9-3.5z"/>
<path fill="#1e00db" d="M218 436.2l-3 3.4 1.2-4.1 3.1-3.6z"/>
<path fill="#1500e7" d="M221.1 432.8l-3.1 3.4 1.3-4.3 3-3.5z"/>
<path fill="#0b00f3" d="M224.1 429.5l-3 3.3 1.2-4.4 3.1-3.4z"/>
<path fill="#0600f8" d="M227.2 426.6l-3.1 2.9 1.3-4.5 3-2.9z"/>
<path fill="#000bf4" d="M230.3 424.3l-3.1 2.3 1.2-4.5 3.1-2.2z"/>
<path fill="#0019e8" d="M233.3 422.9l-3 1.4 1.2-4.4 3-1.1zM236.3 422.9l-3 0 1.2-4.1 3 .4z"/>
<path fill="#2b00ad" d="M102.3 425.5l-2.4 1 1.5 .2 2.4-.9zM104.8 425.5l-2.5 0 1.5 .3 2.5 0zM107.3 426.2l-2.5-.7 1.5 .3 2.4 .6zM109.8 427.4l-2.5-1.2 1.4 .2 2.5 1.2zM112.3 428.9l-2.5-1.5 1.4 .2 2.6 1.5z"/>
<path fill="#2d00a5" d="M114.9 430.7l-2.6-1.8 1.5 .2 2.5 1.7z"/>
<path fill="#2e009f" d="M117.4 432.6l-2.5-1.9 1.4 .1 2.6 1.8zM120 434.5l-2.6-1.9 1.5 0 2.5 1.8z"/>
<path fill="#2e009a" d="M122.6 436.3l-2.6-1.8 1.4-.1 2.6 1.7z"/>
<path fill="#2f0095" d="M125.2 438.1l-2.6-1.8 1.4-.2 2.5 1.7zM127.7 439.7l-2.5-1.6 1.3-.3 2.6 1.5z"/>
<path fill="#300090" d="M130.3 441.3l-2.6-1.6 1.4-.4 2.6 1.5zM132.9 442.7l-2.6-1.4 1.4-.5 2.5 1.3zM135.4 444l-2.5-1.3 1.3-.6 2.6 1.1z"/>
<path fill="#31008a" d="M138 445.1l-2.6-1.1 1.4-.8 2.5 1.1zM140.6 446.2l-2.6-1.1 1.3-.8 2.6 1zM143.2 447.2l-2.6-1 1.3-.9 2.6 1z"/>
<path fill="#310085" d="M145.8 448.2l-2.6-1 1.3-.9 2.6 .8zM148.4 449.1l-2.6-.9 1.3-1.1 2.5 .9zM151 450l-2.6-.9 1.2-1.1 2.6 .8zM153.6 450.8l-2.6-.8 1.2-1.2 2.6 .8zM156.2 451.7l-2.6-.9 1.2-1.2 2.6 .9zM158.8 452.5l-2.6-.8 1.2-1.2 2.7 .8z"/>
<path fill="#320080" d="M161.4 453.4l-2.6-.9 1.3-1.2 2.6 .9zM164.1 454.3l-2.7-.9 1.3-1.2 2.6 .8zM166.7 455.1l-2.6-.8 1.2-1.3 2.7 .8zM168.1 455.6l-1.4-.5 1.3-1.3 2.6 .8-.2 .3zM170.4 454.9l.2-.3 .4 .1zM182.7 457.1l1.3 .1-.4 .6zM185.5 459l-.8 0-1.1-1.2 .4-.6 2.7 .1zM188.2 458.9l-2.7 .1 1.2-1.7 2.7-.3z"/>
<path fill="#310085" d="M191 458.5l-2.8 .4 1.2-1.9 2.8-.5zM193.7 457.8l-2.7 .7 1.2-2 2.7-.9z"/>
<path fill="#31008a" d="M196.5 456.8l-2.8 1 1.2-2.2 2.8-1.2z"/>
<path fill="#300090" d="M199.3 455.5l-2.8 1.3 1.2-2.4 2.8-1.6z"/>
<path fill="#2f0095" d="M202.2 453.8l-2.9 1.7 1.2-2.7 2.9-1.9z"/>
<path fill="#2e009a" d="M205 451.7l-2.8 2.1 1.2-2.9 2.8-2.4z"/>
<path fill="#2d00a5" d="M207.9 449.3l-2.9 2.4 1.2-3.2 2.9-2.7z"/>
<path fill="#2b00ad" d="M210.9 446.5l-3 2.8 1.2-3.5 3-3z"/>
<path fill="#2600c0" d="M213.8 443.5l-2.9 3 1.2-3.7 2.9-3.2z"/>
<path fill="#2100d2" d="M216.8 440.3l-3 3.2 1.2-3.9 3-3.4z"/>
<path fill="#1e00db" d="M219.8 437.1l-3 3.2 1.2-4.1 3.1-3.4z"/>
<path fill="#1500e7" d="M222.9 433.9l-3.1 3.2 1.3-4.3 3-3.3z"/>
<path fill="#0b00f3" d="M226 431l-3.1 2.9 1.2-4.4 3.1-2.9z"/>
<path fill="#0600f8" d="M229 428.6l-3 2.4 1.2-4.4 3.1-2.3z"/>
<path fill="#0100fe" d="M232.1 427l-3.1 1.6 1.3-4.3 3-1.4z"/>
<path fill="#000bf4" d="M235.1 426.5l-3 .5 1.2-4.1 3 0z"/>
<path fill="#2b00ad" d="M100.8 425.2l-2.4 .9 1.5 .4 2.4-1z"/>
<path fill="#2800b6" d="M103.3 425.2l-2.5 0 1.5 .3 2.5 0zM105.8 425.9l-2.5-.7 1.5 .3 2.5 .7zM108.3 427.1l-2.5-1.2 1.5 .3 2.5 1.2z"/>
<path fill="#2b00ad" d="M110.9 428.7l-2.6-1.6 1.5 .3 2.5 1.5zM113.4 430.6l-2.5-1.9 1.4 .2 2.6 1.8z"/>
<path fill="#2d00a5" d="M116 432.5l-2.6-1.9 1.5 .1 2.5 1.9z"/>
<path fill="#2e009f" d="M118.6 434.5l-2.6-2 1.4 .1 2.6 1.9zM121.2 436.4l-2.6-1.9 1.4 0 2.6 1.8z"/>
<path fill="#2e009a" d="M123.8 438.3l-2.6-1.9 1.4-.1 2.6 1.8z"/>
<path fill="#2f0095" d="M126.3 440l-2.5-1.7 1.4-.2 2.5 1.6zM128.9 441.7l-2.6-1.7 1.4-.3 2.6 1.6z"/>
<path fill="#300090" d="M131.5 443.2l-2.6-1.5 1.4-.4 2.6 1.4zM134.1 444.6l-2.6-1.4 1.4-.5 2.5 1.3z"/>
<path fill="#31008a" d="M136.7 445.9l-2.6-1.3 1.3-.6 2.6 1.1zM139.3 447l-2.6-1.1 1.3-.8 2.6 1.1zM141.9 448.1l-2.6-1.1 1.3-.8 2.6 1zM144.4 449.1l-2.5-1 1.3-.9 2.6 1z"/>
<path fill="#310085" d="M147.1 450.1l-2.7-1 1.4-.9 2.6 .9zM149.7 451l-2.6-.9 1.3-1 2.6 .9zM152.3 451.9l-2.6-.9 1.3-1 2.6 .8zM154.9 452.8l-2.6-.9 1.3-1.1 2.6 .9zM157.5 453.7l-2.6-.9 1.3-1.1 2.6 .8z"/>
<path fill="#320080" d="M160.2 454.6l-2.7-.9 1.3-1.2 2.6 .9zM162.8 455.5l-2.6-.9 1.2-1.2 2.7 .9zM165.5 456.4l-2.7-.9 1.3-1.2 2.6 .8zM166 456.6l-.5-.2 1.2-1.3 1.4 .5zM184.7 459l.8 0-.3 .4zM187 460.7l-1 0-.8-1.3 .3-.4 2.7-.1zM189.8 460.5l-2.8 .2 1.2-1.8 2.8-.4z"/>
<path fill="#310085" d="M192.6 459.9l-2.8 .6 1.2-2 2.7-.7z"/>
<path fill="#31008a" d="M195.3 459.1l-2.7 .8 1.1-2.1 2.8-1zM198.1 458l-2.8 1.1 1.2-2.3 2.8-1.3z"/>
<path fill="#300090" d="M201 456.5l-2.9 1.5 1.2-2.5 2.9-1.7z"/>
<path fill="#2f0095" d="M203.8 454.7l-2.8 1.8 1.2-2.7 2.8-2.1z"/>
<path fill="#2e009f" d="M206.7 452.5l-2.9 2.2 1.2-3 2.9-2.4z"/>
<path fill="#2d00a5" d="M209.7 450.1l-3 2.4 1.2-3.2 3-2.8z"/>
<path fill="#2800b6" d="M212.6 447.3l-2.9 2.8 1.2-3.6 2.9-3z"/>
<path fill="#2600c0" d="M215.6 444.4l-3 2.9 1.2-3.8 3-3.2z"/>
<path fill="#2100d2" d="M218.6 441.3l-3 3.1 1.2-4.1 3-3.2z"/>
<path fill="#1a00e1" d="M221.7 438.3l-3.1 3 1.2-4.2 3.1-3.2z"/>
<path fill="#1500e7" d="M224.7 435.4l-3 2.9 1.2-4.4 3.1-2.9z"/>
<path fill="#0b00f3" d="M227.8 432.9l-3.1 2.5 1.3-4.4 3-2.4z"/>
<path fill="#0600f8" d="M230.9 431.1l-3.1 1.8 1.2-4.3 3.1-1.6z"/>
<path fill="#0100fe" d="M233.9 430.2l-3 .9 1.2-4.1 3-.5z"/>
<path fill="#2800b6" d="M99.3 424.8l-2.4 .9 1.5 .4 2.4-.9zM101.8 424.8l-2.5 0 1.5 .4 2.5 0z"/>
<path fill="#2600c0" d="M104.3 425.5l-2.5-.7 1.5 .4 2.5 .7z"/>
<path fill="#2800b6" d="M106.8 426.8l-2.5-1.3 1.5 .4 2.5 1.2zM109.4 428.5l-2.6-1.7 1.5 .3 2.6 1.6z"/>
<path fill="#2b00ad" d="M112 430.4l-2.6-1.9 1.5 .2 2.5 1.9zM114.5 432.4l-2.5-2 1.4 .2 2.6 1.9z"/>
<path fill="#2d00a5" d="M117.1 434.4l-2.6-2 1.5 .1 2.6 2z"/>
<path fill="#2e009f" d="M119.7 436.5l-2.6-2.1 1.5 .1 2.6 1.9z"/>
<path fill="#2e009a" d="M122.3 438.4l-2.6-1.9 1.5-.1 2.6 1.9zM124.9 440.3l-2.6-1.9 1.5-.1 2.5 1.7z"/>
<path fill="#2f0095" d="M127.5 442l-2.6-1.7 1.4-.3 2.6 1.7zM130.1 443.6l-2.6-1.6 1.4-.3 2.6 1.5z"/>
<path fill="#300090" d="M132.7 445.1l-2.6-1.5 1.4-.4 2.6 1.4zM135.3 446.5l-2.6-1.4 1.4-.5 2.6 1.3z"/>
<path fill="#31008a" d="M137.9 447.8l-2.6-1.3 1.4-.6 2.6 1.1zM140.5 448.9l-2.6-1.1 1.4-.8 2.6 1.1zM143.1 450l-2.6-1.1 1.4-.8 2.5 1z"/>
<path fill="#310085" d="M145.7 451l-2.6-1 1.3-.9 2.7 1zM148.4 452l-2.7-1 1.4-.9 2.6 .9zM151 453l-2.6-1 1.3-1 2.6 .9zM153.6 453.9l-2.6-.9 1.3-1.1 2.6 .9zM156.3 454.9l-2.7-1 1.3-1.1 2.6 .9z"/>
<path fill="#320080" d="M158.9 455.8l-2.6-.9 1.2-1.2 2.7 .9zM161.6 456.7l-2.7-.9 1.3-1.2 2.6 .9zM164.2 457.6l-2.6-.9 1.2-1.2 2.7 .9zM164.6 457.7l-.4-.1 1.3-1.2 .5 .2zM186 460.7l1 0-.5 .7zM188.6 462.3l-1.7 0-.4-.9 .5-.7 2.8-.2z"/>
<path fill="#310085" d="M191.4 461.9l-2.8 .4 1.2-1.8 2.8-.6zM194.2 461.3l-2.8 .6 1.2-2 2.7-.8z"/>
<path fill="#31008a" d="M197 460.4l-2.8 .9 1.1-2.2 2.8-1.1z"/>
<path fill="#300090" d="M199.8 459.1l-2.8 1.3 1.1-2.4 2.9-1.5z"/>
<path fill="#2f0095" d="M202.7 457.6l-2.9 1.5 1.2-2.6 2.8-1.8z"/>
<path fill="#2e009a" d="M205.5 455.7l-2.8 1.9 1.1-2.9 2.9-2.2z"/>
<path fill="#2e009f" d="M208.5 453.5l-3 2.2 1.2-3.2 3-2.4z"/>
<path fill="#2d00a5" d="M211.4 451l-2.9 2.5 1.2-3.4 2.9-2.8z"/>
<path fill="#2800b6" d="M214.4 448.3l-3 2.7 1.2-3.7 3-2.9z"/>
<path fill="#2300c9" d="M217.4 445.4l-3 2.9 1.2-3.9 3-3.1z"/>
<path fill="#2100d2" d="M220.4 442.6l-3 2.8 1.2-4.1 3.1-3z"/>
<path fill="#1a00e1" d="M223.5 439.8l-3.1 2.8 1.3-4.3 3-2.9z"/>
<path fill="#1500e7" d="M226.6 437.2l-3.1 2.6 1.2-4.4 3.1-2.5z"/>
<path fill="#1000ed" d="M229.7 435.2l-3.1 2 1.2-4.3 3.1-1.8z"/>
<path fill="#0b00f3" d="M232.7 433.8l-3 1.4 1.2-4.1 3-.9z"/>
<path fill="#2600c0" d="M97.7 424.3l-2.4 .8 1.6 .6 2.4-.9zM100.2 424.4l-2.5-.1 1.6 .5 2.5 0zM102.7 425.2l-2.5-.8 1.6 .4 2.5 .7zM105.3 426.5l-2.6-1.3 1.6 .3 2.5 1.3z"/>
<path fill="#2800b6" d="M107.9 428.2l-2.6-1.7 1.5 .3 2.6 1.7zM110.5 430.1l-2.6-1.9 1.5 .3 2.6 1.9z"/>
<path fill="#2b00ad" d="M113.1 432.2l-2.6-2.1 1.5 .3 2.5 2z"/>
<path fill="#2d00a5" d="M115.7 434.3l-2.6-2.1 1.4 .2 2.6 2zM118.3 436.5l-2.6-2.2 1.4 .1 2.6 2.1z"/>
<path fill="#2e009f" d="M120.9 438.5l-2.6-2 1.4 0 2.6 1.9z"/>
<path fill="#2e009a" d="M123.5 440.4l-2.6-1.9 1.4-.1 2.6 1.9z"/>
<path fill="#2f0095" d="M126.1 442.3l-2.6-1.9 1.4-.1 2.6 1.7zM128.7 444l-2.6-1.7 1.4-.3 2.6 1.6z"/>
<path fill="#300090" d="M131.3 445.6l-2.6-1.6 1.4-.4 2.6 1.5zM134 447l-2.7-1.4 1.4-.5 2.6 1.4z"/>
<path fill="#31008a" d="M136.6 448.4l-2.6-1.4 1.3-.5 2.6 1.3zM139.2 449.6l-2.6-1.2 1.3-.6 2.6 1.1zM141.8 450.8l-2.6-1.2 1.3-.7 2.6 1.1zM144.4 451.9l-2.6-1.1 1.3-.8 2.6 1z"/>
<path fill="#310085" d="M147 452.9l-2.6-1 1.3-.9 2.7 1zM149.7 454l-2.7-1.1 1.4-.9 2.6 1zM152.3 454.9l-2.6-.9 1.3-1 2.6 .9zM155 455.9l-2.7-1 1.3-1 2.7 1z"/>
<path fill="#320080" d="M157.6 456.9l-2.6-1 1.3-1 2.6 .9zM160.3 457.8l-2.7-.9 1.3-1.1 2.7 .9zM163 458.7l-2.7-.9 1.3-1.1 2.6 .9zM163.7 459l-.7-.3 1.2-1.1 .4 .1zM186.9 462.3l1.7 0-1 1.4zM190.2 463.8l-2.5 .1-.1-.2 1-1.4 2.8-.4z"/>
<path fill="#310085" d="M193 463.3l-2.8 .5 1.2-1.9 2.8-.6zM195.8 462.6l-2.8 .7 1.2-2 2.8-.9z"/>
<path fill="#31008a" d="M198.6 461.6l-2.8 1 1.2-2.2 2.8-1.3z"/>
<path fill="#300090" d="M201.5 460.3l-2.9 1.3 1.2-2.5 2.9-1.5z"/>
<path fill="#2f0095" d="M204.3 458.6l-2.8 1.7 1.2-2.7 2.8-1.9z"/>
<path fill="#2e009a" d="M207.3 456.7l-3 1.9 1.2-2.9 3-2.2z"/>
<path fill="#2e009f" d="M210.2 454.5l-2.9 2.2 1.2-3.2 2.9-2.5z"/>
<path fill="#2b00ad" d="M213.2 452l-3 2.5 1.2-3.5 3-2.7z"/>
<path fill="#2800b6" d="M216.2 449.4l-3 2.6 1.2-3.7 3-2.9z"/>
<path fill="#2300c9" d="M219.2 446.7l-3 2.7 1.2-4 3-2.8z"/>
<path fill="#2100d2" d="M222.3 444l-3.1 2.7 1.2-4.1 3.1-2.8z"/>
<path fill="#1a00e1" d="M225.3 441.4l-3 2.6 1.2-4.2 3.1-2.6z"/>
<path fill="#1500e7" d="M228.4 439.2l-3.1 2.2 1.3-4.2 3.1-2z"/>
<path fill="#1000ed" d="M231.5 437.5l-3.1 1.7 1.3-4 3-1.4z"/>
<path fill="#2300c9" d="M96.2 423.7l-2.4 .8 1.5 .6 2.4-.8zM98.7 423.9l-2.5-.2 1.5 .6 2.5 .1zM101.2 424.8l-2.5-.9 1.5 .5 2.5 .8zM103.8 426.1l-2.6-1.3 1.5 .4 2.6 1.3z"/>
<path fill="#2600c0" d="M106.4 427.9l-2.6-1.8 1.5 .4 2.6 1.7z"/>
<path fill="#2800b6" d="M109 429.9l-2.6-2 1.5 .3 2.6 1.9zM111.6 432l-2.6-2.1 1.5 .2 2.6 2.1z"/>
<path fill="#2b00ad" d="M114.2 434.2l-2.6-2.2 1.5 .2 2.6 2.1z"/>
<path fill="#2d00a5" d="M116.8 436.4l-2.6-2.2 1.5 .1 2.6 2.2z"/>
<path fill="#2e009f" d="M119.5 438.5l-2.7-2.1 1.5 .1 2.6 2zM122.1 440.5l-2.6-2 1.4 0 2.6 1.9z"/>
<path fill="#2e009a" d="M124.7 442.4l-2.6-1.9 1.4-.1 2.6 1.9z"/>
<path fill="#2f0095" d="M127.3 444.2l-2.6-1.8 1.4-.1 2.6 1.7zM130 445.9l-2.7-1.7 1.4-.2 2.6 1.6z"/>
<path fill="#300090" d="M132.6 447.4l-2.6-1.5 1.3-.3 2.7 1.4zM135.2 448.9l-2.6-1.5 1.4-.4 2.6 1.4z"/>
<path fill="#31008a" d="M137.8 450.2l-2.6-1.3 1.4-.5 2.6 1.2zM140.4 451.5l-2.6-1.3 1.4-.6 2.6 1.2zM143.1 452.6l-2.7-1.1 1.4-.7 2.6 1.1z"/>
<path fill="#310085" d="M145.7 453.7l-2.6-1.1 1.3-.7 2.6 1zM148.4 454.8l-2.7-1.1 1.3-.8 2.7 1.1zM151 455.9l-2.6-1.1 1.3-.8 2.6 .9zM153.7 456.9l-2.7-1 1.3-1 2.7 1zM156.3 457.8l-2.6-.9 1.3-1 2.6 1z"/>
<path fill="#320080" d="M159 458.8l-2.7-1 1.3-.9 2.7 .9zM161.7 459.8l-2.7-1 1.3-1 2.7 .9zM163.4 460.4l-1.7-.6 1.3-1.1 .7 .3zM189 465.5l-1 0-.3-1.6 2.5-.1zM191.8 465.2l-2.8 .3 1.2-1.7 2.8-.5z"/>
<path fill="#310085" d="M194.6 464.7l-2.8 .5 1.2-1.9 2.8-.7z"/>
<path fill="#31008a" d="M197.4 463.9l-2.8 .8 1.2-2.1 2.8-1zM200.3 462.8l-2.9 1.1 1.2-2.3 2.9-1.3z"/>
<path fill="#300090" d="M203.1 461.4l-2.8 1.4 1.2-2.5 2.8-1.7z"/>
<path fill="#2f0095" d="M206.1 459.7l-3 1.7 1.2-2.8 3-1.9z"/>
<path fill="#2e009a" d="M209 457.8l-2.9 1.9 1.2-3 2.9-2.2z"/>
<path fill="#2d00a5" d="M212 455.6l-3 2.2 1.2-3.3 3-2.5z"/>
<path fill="#2b00ad" d="M215 453.2l-3 2.4 1.2-3.6 3-2.6z"/>
<path fill="#2600c0" d="M218 450.7l-3 2.5 1.2-3.8 3-2.7z"/>
<path fill="#2300c9" d="M221 448.1l-3 2.6 1.2-4 3.1-2.7z"/>
<path fill="#2100d2" d="M224.1 445.5l-3.1 2.6 1.3-4.1 3-2.6z"/>
<path fill="#1a00e1" d="M227.2 443.2l-3.1 2.3 1.2-4.1 3.1-2.2z"/>
<path fill="#1500e7" d="M230.3 441.2l-3.1 2 1.2-4 3.1-1.7z"/>
<path fill="#2300c9" d="M94.6 423.1l-2.4 .5 1.6 .9 2.4-.8z"/>
<path fill="#2100d2" d="M97.1 423.4l-2.5-.3 1.6 .6 2.5 .2zM99.6 424.3l-2.5-.9 1.6 .5 2.5 .9z"/>
<path fill="#2300c9" d="M102.2 425.8l-2.6-1.5 1.6 .5 2.6 1.3zM104.8 427.6l-2.6-1.8 1.6 .3 2.6 1.8z"/>
<path fill="#2600c0" d="M107.5 429.6l-2.7-2 1.6 .3 2.6 2z"/>
<path fill="#2800b6" d="M110.1 431.8l-2.6-2.2 1.5 .3 2.6 2.1zM112.7 434l-2.6-2.2 1.5 .2 2.6 2.2z"/>
<path fill="#2b00ad" d="M115.4 436.2l-2.7-2.2 1.5 .2 2.6 2.2z"/>
<path fill="#2d00a5" d="M118 438.4l-2.6-2.2 1.4 .2 2.7 2.1z"/>
<path fill="#2e009f" d="M120.6 440.5l-2.6-2.1 1.5 .1 2.6 2z"/>
<path fill="#2e009a" d="M123.3 442.5l-2.7-2 1.5 0 2.6 1.9zM125.9 444.3l-2.6-1.8 1.4-.1 2.6 1.8z"/>
<path fill="#2f0095" d="M128.5 446.1l-2.6-1.8 1.4-.1 2.7 1.7zM131.2 447.7l-2.7-1.6 1.5-.2 2.6 1.5z"/>
<path fill="#300090" d="M133.8 449.2l-2.6-1.5 1.4-.3 2.6 1.5zM136.4 450.7l-2.6-1.5 1.4-.3 2.6 1.3z"/>
<path fill="#31008a" d="M139.1 452l-2.7-1.3 1.4-.5 2.6 1.3zM141.7 453.2l-2.6-1.2 1.3-.5 2.7 1.1zM144.4 454.4l-2.7-1.2 1.4-.6 2.6 1.1z"/>
<path fill="#310085" d="M147 455.6l-2.6-1.2 1.3-.7 2.7 1.1zM149.7 456.7l-2.7-1.1 1.4-.8 2.6 1.1zM152.4 457.7l-2.7-1 1.3-.8 2.7 1zM155 458.7l-2.6-1 1.3-.8 2.6 .9z"/>
<path fill="#320080" d="M157.7 459.7l-2.7-1 1.3-.9 2.7 1zM160.4 460.7l-2.7-1 1.3-.9 2.7 1zM163.1 461.7l-2.7-1 1.3-.9 1.7 .6 .2 .9zM163.7 461.9l-.6-.2 .5-.4zM188 465.5l1 0-.8 1zM190.6 467l-2.3 .1-.1-.6 .8-1 2.8-.3z"/>
<path fill="#310085" d="M193.4 466.6l-2.8 .4 1.2-1.8 2.8-.5zM196.2 466l-2.8 .6 1.2-1.9 2.8-.8z"/>
<path fill="#31008a" d="M199.1 465.1l-2.9 .9 1.2-2.1 2.9-1.1z"/>
<path fill="#300090" d="M201.9 464l-2.8 1.1 1.2-2.3 2.8-1.4z"/>
<path fill="#2f0095" d="M204.9 462.6l-3 1.4 1.2-2.6 3-1.7z"/>
<path fill="#2e009a" d="M207.8 460.9l-2.9 1.7 1.2-2.9 2.9-1.9z"/>
<path fill="#2e009f" d="M210.7 459l-2.9 1.9 1.2-3.1 3-2.2z"/>
<path fill="#2d00a5" d="M213.7 456.8l-3 2.2 1.3-3.4 3-2.4z"/>
<path fill="#2b00ad" d="M216.8 454.5l-3.1 2.3 1.3-3.6 3-2.5z"/>
<path fill="#2600c0" d="M219.8 452.1l-3 2.4 1.2-3.8 3-2.6z"/>
<path fill="#2300c9" d="M222.9 449.6l-3.1 2.5 1.2-4 3.1-2.6z"/>
<path fill="#1e00db" d="M226 447.2l-3.1 2.4 1.2-4.1 3.1-2.3z"/>
<path fill="#1a00e1" d="M229.1 444.9l-3.1 2.3 1.2-4 3.1-2z"/>
<path fill="#2100d2" d="M93 422.4l-2.5 .3 1.7 .9 2.4-.5zM95.5 422.8l-2.5-.4 1.6 .7 2.5 .3zM98.1 423.9l-2.6-1.1 1.6 .6 2.5 .9zM100.7 425.4l-2.6-1.5 1.5 .4 2.6 1.5z"/>
<path fill="#2300c9" d="M103.3 427.2l-2.6-1.8 1.5 .4 2.6 1.8zM105.9 429.3l-2.6-2.1 1.5 .4 2.7 2z"/>
<path fill="#2600c0" d="M108.6 431.5l-2.7-2.2 1.6 .3 2.6 2.2z"/>
<path fill="#2800b6" d="M111.2 433.7l-2.6-2.2 1.5 .3 2.6 2.2z"/>
<path fill="#2b00ad" d="M113.9 436l-2.7-2.3 1.5 .3 2.7 2.2zM116.5 438.2l-2.6-2.2 1.5 .2 2.6 2.2z"/>
<path fill="#2d00a5" d="M119.2 440.3l-2.7-2.1 1.5 .2 2.6 2.1z"/>
<path fill="#2e009f" d="M121.8 442.4l-2.6-2.1 1.4 .2 2.7 2z"/>
<path fill="#2e009a" d="M124.5 444.3l-2.7-1.9 1.5 .1 2.6 1.8zM127.1 446.1l-2.6-1.8 1.4 0 2.6 1.8z"/>
<path fill="#2f0095" d="M129.8 447.8l-2.7-1.7 1.4 0 2.7 1.6zM132.4 449.5l-2.6-1.7 1.4-.1 2.6 1.5z"/>
<path fill="#300090" d="M135.1 451l-2.7-1.5 1.4-.3 2.6 1.5zM137.7 452.4l-2.6-1.4 1.3-.3 2.7 1.3z"/>
<path fill="#31008a" d="M140.4 453.7l-2.7-1.3 1.4-.4 2.6 1.2zM143 455l-2.6-1.3 1.3-.5 2.7 1.2zM145.7 456.2l-2.7-1.2 1.4-.6 2.6 1.2z"/>
<path fill="#310085" d="M148.4 457.3l-2.7-1.1 1.3-.6 2.7 1.1zM151 458.4l-2.6-1.1 1.3-.6 2.7 1zM153.7 459.5l-2.7-1.1 1.4-.7 2.6 1zM156.4 460.6l-2.7-1.1 1.3-.8 2.7 1z"/>
<path fill="#320080" d="M159.1 461.6l-2.7-1 1.3-.9 2.7 1zM161.8 462.6l-2.7-1 1.3-.9 2.7 1zM164.5 463.5l-2.7-.9 1.3-.9 .6 .2 .9 1.6zM164.6 463.6l-.1-.1 .1 0zM189.4 468.6l-1.2-.1 .1-1.4 2.3-.1zM192.2 468.4l-2.8 .2 1.2-1.6 2.8-.4z"/>
<path fill="#310085" d="M195 468l-2.8 .4 1.2-1.8 2.8-.6zM197.9 467.3l-2.9 .7 1.2-2 2.9-.9z"/>
<path fill="#31008a" d="M200.7 466.4l-2.8 .9 1.2-2.2 2.8-1.1z"/>
<path fill="#300090" d="M203.7 465.3l-3 1.1 1.2-2.4 3-1.4z"/>
<path fill="#2f0095" d="M206.6 463.9l-2.9 1.4 1.2-2.7 2.9-1.7z"/>
<path fill="#2e009a" d="M209.5 462.2l-2.9 1.7 1.2-3 2.9-1.9z"/>
<path fill="#2e009f" d="M212.5 460.3l-3 1.9 1.2-3.2 3-2.2z"/>
<path fill="#2d00a5" d="M215.5 458.2l-3 2.1 1.2-3.5 3.1-2.3z"/>
<path fill="#2800b6" d="M218.6 455.9l-3.1 2.3 1.3-3.7 3-2.4z"/>
<path fill="#2600c0" d="M221.7 453.5l-3.1 2.4 1.2-3.8 3.1-2.5z"/>
<path fill="#2300c9" d="M224.8 451.1l-3.1 2.4 1.2-3.9 3.1-2.4z"/>
<path fill="#1e00db" d="M227.9 448.7l-3.1 2.4 1.2-3.9 3.1-2.3zM91.4 421.6l-2.5 0 1.6 1.1 2.5-.3zM93.9 422.2l-2.5-.6 1.6 .8 2.5 .4zM96.5 423.4l-2.6-1.2 1.6 .6 2.6 1.1zM99.1 425l-2.6-1.6 1.6 .5 2.6 1.5z"/>
<path fill="#2100d2" d="M101.7 426.8l-2.6-1.8 1.6 .4 2.6 1.8z"/>
<path fill="#2300c9" d="M104.4 428.9l-2.7-2.1 1.6 .4 2.6 2.1zM107 431.1l-2.6-2.2 1.5 .4 2.7 2.2z"/>
<path fill="#2600c0" d="M109.7 433.4l-2.7-2.3 1.6 .4 2.6 2.2z"/>
<path fill="#2800b6" d="M112.4 435.7l-2.7-2.3 1.5 .3 2.7 2.3z"/>
<path fill="#2b00ad" d="M115 437.9l-2.6-2.2 1.5 .3 2.6 2.2z"/>
<path fill="#2d00a5" d="M117.7 440.1l-2.7-2.2 1.5 .3 2.7 2.1zM120.3 442.2l-2.6-2.1 1.5 .2 2.6 2.1z"/>
<path fill="#2e009f" d="M123 444.1l-2.7-1.9 1.5 .2 2.7 1.9z"/>
<path fill="#2e009a" d="M125.7 446l-2.7-1.9 1.5 .2 2.6 1.8zM128.3 447.8l-2.6-1.8 1.4 .1 2.7 1.7z"/>
<path fill="#2f0095" d="M131 449.5l-2.7-1.7 1.5 0 2.6 1.7zM133.7 451.1l-2.7-1.6 1.4 0 2.7 1.5z"/>
<path fill="#300090" d="M136.3 452.6l-2.6-1.5 1.4-.1 2.6 1.4zM139 454l-2.7-1.4 1.4-.2 2.7 1.3z"/>
<path fill="#31008a" d="M141.7 455.4l-2.7-1.4 1.4-.3 2.6 1.3zM144.3 456.6l-2.6-1.2 1.3-.4 2.7 1.2zM147 457.9l-2.7-1.3 1.4-.4 2.7 1.1z"/>
<path fill="#310085" d="M149.7 459l-2.7-1.1 1.4-.6 2.6 1.1zM152.4 460.2l-2.7-1.2 1.3-.6 2.7 1.1zM155.1 461.3l-2.7-1.1 1.3-.7 2.7 1.1zM157.8 462.4l-2.7-1.1 1.3-.7 2.7 1z"/>
<path fill="#320080" d="M160.5 463.4l-2.7-1 1.3-.8 2.7 1zM163.2 464.4l-2.7-1 1.3-.8 2.7 .9zM166 465.3l-2.8-.9 1.3-.9 .1 .1 1.4 1.7zM166.2 465.4l-.2-.1 0 0zM188.1 470l-.1 0 .2-1.5 1.2 .1zM191 470l-2.9 0 1.3-1.4 2.8-.2z"/>
<path fill="#310085" d="M193.8 469.8l-2.8 .2 1.2-1.6 2.8-.4zM196.7 469.3l-2.9 .5 1.2-1.8 2.9-.7z"/>
<path fill="#31008a" d="M199.5 468.7l-2.8 .6 1.2-2 2.8-.9zM202.4 467.8l-2.9 .9 1.2-2.3 3-1.1z"/>
<path fill="#300090" d="M205.4 466.6l-3 1.2 1.3-2.5 2.9-1.4z"/>
<path fill="#2f0095" d="M208.3 465.2l-2.9 1.4 1.2-2.7 2.9-1.7z"/>
<path fill="#2e009a" d="M211.3 463.5l-3 1.7 1.2-3 3-1.9z"/>
<path fill="#2e009f" d="M214.3 461.6l-3 1.9 1.2-3.2 3-2.1z"/>
<path fill="#2b00ad" d="M217.4 459.6l-3.1 2 1.2-3.4 3.1-2.3z"/>
<path fill="#2800b6" d="M220.4 457.3l-3 2.3 1.2-3.7 3.1-2.4z"/>
<path fill="#2600c0" d="M223.5 454.9l-3.1 2.4 1.3-3.8 3.1-2.4z"/>
<path fill="#2100d2" d="M226.6 452.5l-3.1 2.4 1.3-3.8 3.1-2.4z"/>
<path fill="#1a00e1" d="M89.7 420.7l-2.5-.3 1.7 1.2 2.5 0zM92.3 421.6l-2.6-.9 1.7 .9 2.5 .6zM94.9 422.9l-2.6-1.3 1.6 .6 2.6 1.2z"/>
<path fill="#1e00db" d="M97.5 424.5l-2.6-1.6 1.6 .5 2.6 1.6zM100.2 426.5l-2.7-2 1.6 .5 2.6 1.8z"/>
<path fill="#2100d2" d="M102.8 428.5l-2.6-2 1.5 .3 2.7 2.1z"/>
<path fill="#2300c9" d="M105.5 430.7l-2.7-2.2 1.6 .4 2.6 2.2zM108.2 433l-2.7-2.3 1.5 .4 2.7 2.3z"/>
<path fill="#2600c0" d="M110.8 435.3l-2.6-2.3 1.5 .4 2.7 2.3z"/>
<path fill="#2800b6" d="M113.5 437.5l-2.7-2.2 1.6 .4 2.6 2.2z"/>
<path fill="#2b00ad" d="M116.2 439.7l-2.7-2.2 1.5 .4 2.7 2.2z"/>
<path fill="#2d00a5" d="M118.9 441.8l-2.7-2.1 1.5 .4 2.6 2.1zM121.5 443.8l-2.6-2 1.4 .4 2.7 1.9z"/>
<path fill="#2e009f" d="M124.2 445.8l-2.7-2 1.5 .3 2.7 1.9z"/>
<path fill="#2e009a" d="M126.9 447.6l-2.7-1.8 1.5 .2 2.6 1.8zM129.6 449.4l-2.7-1.8 1.4 .2 2.7 1.7z"/>
<path fill="#2f0095" d="M132.2 451.1l-2.6-1.7 1.4 .1 2.7 1.6zM134.9 452.6l-2.7-1.5 1.5 0 2.6 1.5z"/>
<path fill="#300090" d="M137.6 454.1l-2.7-1.5 1.4 0 2.7 1.4zM140.3 455.6l-2.7-1.5 1.4-.1 2.7 1.4z"/>
<path fill="#31008a" d="M143 456.9l-2.7-1.3 1.4-.2 2.6 1.2zM145.7 458.2l-2.7-1.3 1.3-.3 2.7 1.3zM148.4 459.5l-2.7-1.3 1.3-.3 2.7 1.1z"/>
<path fill="#310085" d="M151.1 460.7l-2.7-1.2 1.3-.5 2.7 1.2zM153.8 461.9l-2.7-1.2 1.3-.5 2.7 1.1zM156.5 463l-2.7-1.1 1.3-.6 2.7 1.1zM159.2 464.1l-2.7-1.1 1.3-.6 2.7 1z"/>
<path fill="#320080" d="M161.9 465.1l-2.7-1 1.3-.7 2.7 1zM164.7 466.1l-2.8-1 1.3-.7 2.8 .9zM167.4 467.1l-2.7-1 1.3-.8 .2 .1 1.6 1.4zM168.6 467.4l-1.2-.3 .4-.3zM188 470l.1 0-.4 .6zM189.7 471.5l-2.5-.1 .5-.8 .4-.6 2.9 0zM192.6 471.4l-2.9 .1 1.3-1.5 2.8-.2z"/>
<path fill="#310085" d="M195.5 471.2l-2.9 .2 1.2-1.6 2.9-.5zM198.3 470.7l-2.8 .5 1.2-1.9 2.8-.6z"/>
<path fill="#31008a" d="M201.2 470l-2.9 .7 1.2-2 2.9-.9z"/>
<path fill="#300090" d="M204.2 469.1l-3 .9 1.2-2.2 3-1.2zM207.1 468l-2.9 1.1 1.2-2.5 2.9-1.4z"/>
<path fill="#2f0095" d="M210.1 466.6l-3 1.4 1.2-2.8 3-1.7z"/>
<path fill="#2e009a" d="M213.1 464.9l-3 1.7 1.2-3.1 3-1.9z"/>
<path fill="#2d00a5" d="M216.1 463.1l-3 1.8 1.2-3.3 3.1-2z"/>
<path fill="#2b00ad" d="M219.2 461l-3.1 2.1 1.3-3.5 3-2.3z"/>
<path fill="#2800b6" d="M222.3 458.7l-3.1 2.3 1.2-3.7 3.1-2.4z"/>
<path fill="#2600c0" d="M225.4 456.2l-3.1 2.5 1.2-3.8 3.1-2.4z"/>
<path fill="#1500e7" d="M88.1 419.8l-2.6-.7 1.7 1.3 2.5 .3zM90.7 420.9l-2.6-1.1 1.6 .9 2.6 .9zM93.3 422.3l-2.6-1.4 1.6 .7 2.6 1.3z"/>
<path fill="#1a00e1" d="M95.9 424.1l-2.6-1.8 1.6 .6 2.6 1.6zM98.6 426l-2.7-1.9 1.6 .4 2.7 2z"/>
<path fill="#1e00db" d="M101.2 428.1l-2.6-2.1 1.6 .5 2.6 2z"/>
<path fill="#2100d2" d="M103.9 430.3l-2.7-2.2 1.6 .4 2.7 2.2z"/>
<path fill="#2300c9" d="M106.6 432.5l-2.7-2.2 1.6 .4 2.7 2.3z"/>
<path fill="#2600c0" d="M109.3 434.8l-2.7-2.3 1.6 .5 2.6 2.3zM112 437l-2.7-2.2 1.5 .5 2.7 2.2z"/>
<path fill="#2800b6" d="M114.7 439.2l-2.7-2.2 1.5 .5 2.7 2.2z"/>
<path fill="#2b00ad" d="M117.3 441.3l-2.6-2.1 1.5 .5 2.7 2.1z"/>
<path fill="#2d00a5" d="M120 443.4l-2.7-2.1 1.6 .5 2.6 2zM122.7 445.4l-2.7-2 1.5 .4 2.7 2z"/>
<path fill="#2e009f" d="M125.4 447.3l-2.7-1.9 1.5 .4 2.7 1.8z"/>
<path fill="#2e009a" d="M128.1 449.1l-2.7-1.8 1.5 .3 2.7 1.8zM130.8 450.9l-2.7-1.8 1.5 .3 2.6 1.7z"/>
<path fill="#2f0095" d="M133.5 452.5l-2.7-1.6 1.4 .2 2.7 1.5zM136.2 454.1l-2.7-1.6 1.4 .1 2.7 1.5z"/>
<path fill="#300090" d="M138.9 455.6l-2.7-1.5 1.4 0 2.7 1.5zM141.6 457.1l-2.7-1.5 1.4 0 2.7 1.3z"/>
<path fill="#31008a" d="M144.3 458.5l-2.7-1.4 1.4-.2 2.7 1.3zM147 459.8l-2.7-1.3 1.4-.3 2.7 1.3zM149.7 461.1l-2.7-1.3 1.4-.3 2.7 1.2z"/>
<path fill="#310085" d="M152.4 462.3l-2.7-1.2 1.4-.4 2.7 1.2zM155.2 463.5l-2.8-1.2 1.4-.4 2.7 1.1zM157.9 464.7l-2.7-1.2 1.3-.5 2.7 1.1zM160.6 465.7l-2.7-1 1.3-.6 2.7 1z"/>
<path fill="#320080" d="M163.4 466.8l-2.8-1.1 1.3-.6 2.8 1zM166.1 467.8l-2.7-1 1.3-.7 2.7 1zM168.9 468.7l-2.8-.9 1.3-.7 1.2 .3 1.1 .8zM171.7 469.6l-2.8-.9 .8-.5 2.1 1.3zM172.1 469.7l-.4-.1 .1-.1zM185.7 472.6l-.2 0 .4-.2zM188.5 472.9l-2.8-.3 .2-.2 1.3-1 2.5 .1zM191.4 472.9l-2.9 0 1.2-1.4 2.9-.1z"/>
<path fill="#310085" d="M194.2 472.9l-2.8 0 1.2-1.5 2.9-.2zM197.1 472.6l-2.9 .3 1.3-1.7 2.8-.5z"/>
<path fill="#31008a" d="M200 472.2l-2.9 .4 1.2-1.9 2.9-.7zM203 471.5l-3 .7 1.2-2.2 3-.9z"/>
<path fill="#300090" d="M205.9 470.6l-2.9 .9 1.2-2.4 2.9-1.1z"/>
<path fill="#2f0095" d="M208.9 469.4l-3 1.2 1.2-2.6 3-1.4z"/>
<path fill="#2e009a" d="M211.9 468.1l-3 1.3 1.2-2.8 3-1.7z"/>
<path fill="#2e009f" d="M214.9 466.4l-3 1.7 1.2-3.2 3-1.8z"/>
<path fill="#2d00a5" d="M218 464.5l-3.1 1.9 1.2-3.3 3.1-2.1z"/>
<path fill="#2b00ad" d="M221.1 462.4l-3.1 2.1 1.2-3.5 3.1-2.3z"/>
<path fill="#2800b6" d="M224.2 460l-3.1 2.4 1.2-3.7 3.1-2.5z"/>
<path fill="#1000ed" d="M86.4 418.8l-2.6-1 1.7 1.3 2.6 .7zM89 420.1l-2.6-1.3 1.7 1 2.6 1.1z"/>
<path fill="#1500e7" d="M91.6 421.7l-2.6-1.6 1.7 .8 2.6 1.4zM94.3 423.6l-2.7-1.9 1.7 .6 2.6 1.8z"/>
<path fill="#1a00e1" d="M97 425.6l-2.7-2 1.6 .5 2.7 1.9zM99.6 427.7l-2.6-2.1 1.6 .4 2.6 2.1z"/>
<path fill="#1e00db" d="M102.3 429.8l-2.7-2.1 1.6 .4 2.7 2.2z"/>
<path fill="#2100d2" d="M105 432l-2.7-2.2 1.6 .5 2.7 2.2z"/>
<path fill="#2300c9" d="M107.7 434.2l-2.7-2.2 1.6 .5 2.7 2.3z"/>
<path fill="#2600c0" d="M110.4 436.4l-2.7-2.2 1.6 .6 2.7 2.2zM113.1 438.6l-2.7-2.2 1.6 .6 2.7 2.2z"/>
<path fill="#2800b6" d="M115.8 440.7l-2.7-2.1 1.6 .6 2.6 2.1z"/>
<path fill="#2b00ad" d="M118.5 442.8l-2.7-2.1 1.5 .6 2.7 2.1z"/>
<path fill="#2d00a5" d="M121.2 444.8l-2.7-2 1.5 .6 2.7 2zM123.9 446.8l-2.7-2 1.5 .6 2.7 1.9z"/>
<path fill="#2e009f" d="M126.6 448.7l-2.7-1.9 1.5 .5 2.7 1.8z"/>
<path fill="#2e009a" d="M129.3 450.5l-2.7-1.8 1.5 .4 2.7 1.8zM132 452.2l-2.7-1.7 1.5 .4 2.7 1.6z"/>
<path fill="#2f0095" d="M134.7 453.9l-2.7-1.7 1.5 .3 2.7 1.6zM137.4 455.5l-2.7-1.6 1.5 .2 2.7 1.5z"/>
<path fill="#300090" d="M140.2 457l-2.8-1.5 1.5 .1 2.7 1.5zM142.9 458.5l-2.7-1.5 1.4 .1 2.7 1.4zM145.6 459.9l-2.7-1.4 1.4 0 2.7 1.3z"/>
<path fill="#31008a" d="M148.3 461.3l-2.7-1.4 1.4-.1 2.7 1.3zM151.1 462.6l-2.8-1.3 1.4-.2 2.7 1.2zM153.8 463.9l-2.7-1.3 1.3-.3 2.8 1.2z"/>
<path fill="#310085" d="M156.6 465.1l-2.8-1.2 1.4-.4 2.7 1.2zM159.3 466.3l-2.7-1.2 1.3-.4 2.7 1zM162.1 467.4l-2.8-1.1 1.3-.6 2.8 1.1zM164.8 468.4l-2.7-1 1.3-.6 2.7 1z"/>
<path fill="#320080" d="M167.6 469.4l-2.8-1 1.3-.6 2.8 .9zM170.4 470.3l-2.8-.9 1.3-.7 2.8 .9zM173.2 471.2l-2.8-.9 1.3-.7 .4 .1 1.9 1zM176 472l-2.8-.8 .8-.5 2.4 1zM178.8 472.7l-2.8-.7 .4-.3 2.5 .8zM181.6 473.3l-2.8-.6 .1-.2 3 .5zM184.4 473.7l-2.8-.4 .3-.3 3.6-.4 .2 0zM187.3 474.1l-2.9-.4 1.3-1.1 2.8 .3zM190.1 474.3l-2.8-.2 1.2-1.2 2.9 0z"/>
<path fill="#310085" d="M193 474.4l-2.9-.1 1.3-1.4 2.8 0zM195.9 474.3l-2.9 .1 1.2-1.5 2.9-.3zM198.8 474.1l-2.9 .2 1.2-1.7 2.9-.4z"/>
<path fill="#31008a" d="M201.7 473.6l-2.9 .5 1.2-1.9 3-.7zM204.7 473l-3 .6 1.3-2.1 2.9-.9z"/>
<path fill="#300090" d="M207.7 472.1l-3 .9 1.2-2.4 3-1.2z"/>
<path fill="#2f0095" d="M210.7 471l-3 1.1 1.2-2.7 3-1.3z"/>
<path fill="#2e009a" d="M213.7 469.6l-3 1.4 1.2-2.9 3-1.7z"/>
<path fill="#2e009f" d="M216.7 468l-3 1.6 1.2-3.2 3.1-1.9z"/>
<path fill="#2d00a5" d="M219.8 466.1l-3.1 1.9 1.3-3.5 3.1-2.1z"/>
<path fill="#2b00ad" d="M222.9 463.8l-3.1 2.3 1.3-3.7 3.1-2.4z"/>
<path fill="#0b00f3" d="M84.7 417.7l-2.7-1.4 1.8 1.5 2.6 1zM87.3 419.3l-2.6-1.6 1.7 1.1 2.6 1.3z"/>
<path fill="#1000ed" d="M90 421.1l-2.7-1.8 1.7 .8 2.6 1.6zM92.7 423l-2.7-1.9 1.6 .6 2.7 1.9z"/>
<path fill="#1500e7" d="M95.3 425l-2.6-2 1.6 .6 2.7 2z"/>
<path fill="#1a00e1" d="M98 427.1l-2.7-2.1 1.7 .6 2.6 2.1zM100.7 429.3l-2.7-2.2 1.6 .6 2.7 2.1z"/>
<path fill="#1e00db" d="M103.4 431.4l-2.7-2.1 1.6 .5 2.7 2.2z"/>
<path fill="#2100d2" d="M106.1 433.6l-2.7-2.2 1.6 .6 2.7 2.2z"/>
<path fill="#2300c9" d="M108.8 435.8l-2.7-2.2 1.6 .6 2.7 2.2z"/>
<path fill="#2600c0" d="M111.6 437.9l-2.8-2.1 1.6 .6 2.7 2.2zM114.3 440l-2.7-2.1 1.5 .7 2.7 2.1z"/>
<path fill="#2800b6" d="M117 442.1l-2.7-2.1 1.5 .7 2.7 2.1z"/>
<path fill="#2b00ad" d="M119.7 444.1l-2.7-2 1.5 .7 2.7 2zM122.4 446.1l-2.7-2 1.5 .7 2.7 2z"/>
<path fill="#2d00a5" d="M125.1 448l-2.7-1.9 1.5 .7 2.7 1.9z"/>
<path fill="#2e009f" d="M127.8 449.9l-2.7-1.9 1.5 .7 2.7 1.8zM130.6 451.7l-2.8-1.8 1.5 .6 2.7 1.7z"/>
<path fill="#2e009a" d="M133.3 453.5l-2.7-1.8 1.4 .5 2.7 1.7zM136 455.2l-2.7-1.7 1.4 .4 2.7 1.6z"/>
<path fill="#2f0095" d="M138.7 456.8l-2.7-1.6 1.4 .3 2.8 1.5zM141.5 458.4l-2.8-1.6 1.5 .2 2.7 1.5z"/>
<path fill="#300090" d="M144.2 459.9l-2.7-1.5 1.4 .1 2.7 1.4zM146.9 461.4l-2.7-1.5 1.4 0 2.7 1.4z"/>
<path fill="#31008a" d="M149.7 462.8l-2.8-1.4 1.4-.1 2.8 1.3zM152.4 464.1l-2.7-1.3 1.4-.2 2.7 1.3zM155.2 465.4l-2.8-1.3 1.4-.2 2.8 1.2z"/>
<path fill="#310085" d="M158 466.7l-2.8-1.3 1.4-.3 2.7 1.2zM160.7 467.8l-2.7-1.1 1.3-.4 2.8 1.1zM163.5 469l-2.8-1.2 1.4-.4 2.7 1zM166.3 470l-2.8-1 1.3-.6 2.8 1z"/>
<path fill="#320080" d="M169.1 471l-2.8-1 1.3-.6 2.8 .9zM171.9 471.9l-2.8-.9 1.3-.7 2.8 .9zM174.7 472.8l-2.8-.9 1.3-.7 2.8 .8zM177.5 473.5l-2.8-.7 1.3-.8 2.8 .7zM180.4 474.2l-2.9-.7 1.3-.8 2.8 .6zM183.2 474.8l-2.8-.6 1.2-.9 2.8 .4zM186 475.3l-2.8-.5 1.2-1.1 2.9 .4zM188.9 475.6l-2.9-.3 1.3-1.2 2.8 .2zM191.8 475.9l-2.9-.3 1.2-1.3 2.9 .1z"/>
<path fill="#310085" d="M194.7 476l-2.9-.1 1.2-1.5 2.9-.1zM197.6 475.9l-2.9 .1 1.2-1.7 2.9-.2zM200.5 475.7l-2.9 .2 1.2-1.8 2.9-.5z"/>
<path fill="#31008a" d="M203.5 475.2l-3 .5 1.2-2.1 3-.6z"/>
<path fill="#300090" d="M206.4 474.6l-2.9 .6 1.2-2.2 3-.9zM209.4 473.8l-3 .8 1.3-2.5 3-1.1z"/>
<path fill="#2f0095" d="M212.5 472.7l-3.1 1.1 1.3-2.8 3-1.4z"/>
<path fill="#2e009a" d="M215.5 471.3l-3 1.4 1.2-3.1 3-1.6z"/>
<path fill="#2e009f" d="M218.6 469.6l-3.1 1.7 1.2-3.3 3.1-1.9z"/>
<path fill="#2d00a5" d="M221.7 467.6l-3.1 2 1.2-3.5 3.1-2.3z"/>
<path fill="#0600f8" d="M82.9 416.6l-2.6-1.8 1.7 1.5 2.7 1.4zM85.6 418.5l-2.7-1.9 1.8 1.1 2.6 1.6z"/>
<path fill="#0b00f3" d="M88.3 420.4l-2.7-1.9 1.7 .8 2.7 1.8z"/>
<path fill="#1000ed" d="M91 422.4l-2.7-2 1.7 .7 2.7 1.9zM93.7 424.5l-2.7-2.1 1.7 .6 2.6 2z"/>
<path fill="#1500e7" d="M96.4 426.5l-2.7-2 1.6 .5 2.7 2.1z"/>
<path fill="#1a00e1" d="M99.1 428.6l-2.7-2.1 1.6 .6 2.7 2.2zM101.8 430.7l-2.7-2.1 1.6 .7 2.7 2.1z"/>
<path fill="#1e00db" d="M104.5 432.9l-2.7-2.2 1.6 .7 2.7 2.2z"/>
<path fill="#2100d2" d="M107.2 435l-2.7-2.1 1.6 .7 2.7 2.2z"/>
<path fill="#2300c9" d="M110 437.1l-2.8-2.1 1.6 .8 2.8 2.1zM112.7 439.2l-2.7-2.1 1.6 .8 2.7 2.1z"/>
<path fill="#2600c0" d="M115.4 441.2l-2.7-2 1.6 .8 2.7 2.1z"/>
<path fill="#2800b6" d="M118.1 443.3l-2.7-2.1 1.6 .9 2.7 2z"/>
<path fill="#2b00ad" d="M120.9 445.3l-2.8-2 1.6 .8 2.7 2zM123.6 447.3l-2.7-2 1.5 .8 2.7 1.9z"/>
<path fill="#2d00a5" d="M126.3 449.2l-2.7-1.9 1.5 .7 2.7 1.9zM129.1 451.1l-2.8-1.9 1.5 .7 2.8 1.8z"/>
<path fill="#2e009f" d="M131.8 452.9l-2.7-1.8 1.5 .6 2.7 1.8z"/>
<path fill="#2e009a" d="M134.6 454.7l-2.8-1.8 1.5 .6 2.7 1.7zM137.3 456.4l-2.7-1.7 1.4 .5 2.7 1.6z"/>
<path fill="#2f0095" d="M140 458.1l-2.7-1.7 1.4 .4 2.8 1.6zM142.8 459.7l-2.8-1.6 1.5 .3 2.7 1.5z"/>
<path fill="#300090" d="M145.5 461.3l-2.7-1.6 1.4 .2 2.7 1.5zM148.3 462.8l-2.8-1.5 1.4 .1 2.8 1.4zM151.1 464.2l-2.8-1.4 1.4 0 2.7 1.3z"/>
<path fill="#31008a" d="M153.8 465.6l-2.7-1.4 1.3-.1 2.8 1.3zM156.6 466.9l-2.8-1.3 1.4-.2 2.8 1.3zM159.4 468.2l-2.8-1.3 1.4-.2 2.7 1.1z"/>
<path fill="#310085" d="M162.2 469.4l-2.8-1.2 1.3-.4 2.8 1.2zM165 470.5l-2.8-1.1 1.3-.4 2.8 1zM167.8 471.6l-2.8-1.1 1.3-.5 2.8 1zM170.6 472.6l-2.8-1 1.3-.6 2.8 .9z"/>
<path fill="#320080" d="M173.4 473.5l-2.8-.9 1.3-.7 2.8 .9zM176.2 474.3l-2.8-.8 1.3-.7 2.8 .7zM179.1 475.1l-2.9-.8 1.3-.8 2.9 .7zM181.9 475.7l-2.8-.6 1.3-.9 2.8 .6zM184.8 476.3l-2.9-.6 1.3-.9 2.8 .5zM187.7 476.8l-2.9-.5 1.2-1 2.9 .3zM190.6 477.2l-2.9-.4 1.2-1.2 2.9 .3z"/>
<path fill="#310085" d="M193.5 477.4l-2.9-.2 1.2-1.3 2.9 .1zM196.4 477.6l-2.9-.2 1.2-1.4 2.9-.1zM199.3 477.5l-2.9 .1 1.2-1.7 2.9-.2z"/>
<path fill="#31008a" d="M202.3 477.3l-3 .2 1.2-1.8 3-.5zM205.2 477l-2.9 .3 1.2-2.1 2.9-.6z"/>
<path fill="#300090" d="M208.2 476.4l-3 .6 1.2-2.4 3-.8zM211.2 475.6l-3 .8 1.2-2.6 3.1-1.1z"/>
<path fill="#2f0095" d="M214.3 474.5l-3.1 1.1 1.3-2.9 3-1.4z"/>
<path fill="#2e009a" d="M217.3 473.1l-3 1.4 1.2-3.2 3.1-1.7z"/>
<path fill="#2e009f" d="M220.5 471.4l-3.2 1.7 1.3-3.5 3.1-2z"/>
<path fill="#0100fe" d="M81.2 415.4l-2.7-2.1 1.8 1.5 2.6 1.8zM83.9 417.6l-2.7-2.2 1.7 1.2 2.7 1.9z"/>
<path fill="#0600f8" d="M86.6 419.7l-2.7-2.1 1.7 .9 2.7 1.9z"/>
<path fill="#0b00f3" d="M89.3 421.7l-2.7-2 1.7 .7 2.7 2zM92 423.8l-2.7-2.1 1.7 .7 2.7 2.1z"/>
<path fill="#1000ed" d="M94.7 425.9l-2.7-2.1 1.7 .7 2.7 2z"/>
<path fill="#1500e7" d="M97.5 427.9l-2.8-2 1.7 .6 2.7 2.1z"/>
<path fill="#1a00e1" d="M100.2 430l-2.7-2.1 1.6 .7 2.7 2.1zM102.9 432l-2.7-2 1.6 .7 2.7 2.2z"/>
<path fill="#1e00db" d="M105.6 434.1l-2.7-2.1 1.6 .9 2.7 2.1z"/>
<path fill="#2100d2" d="M108.4 436.1l-2.8-2 1.6 .9 2.8 2.1zM111.1 438.2l-2.7-2.1 1.6 1 2.7 2.1z"/>
<path fill="#2300c9" d="M113.8 440.3l-2.7-2.1 1.6 1 2.7 2z"/>
<path fill="#2600c0" d="M116.6 442.3l-2.8-2 1.6 .9 2.7 2.1z"/>
<path fill="#2800b6" d="M119.3 444.3l-2.7-2 1.5 1 2.8 2zM122.1 446.3l-2.8-2 1.6 1 2.7 2z"/>
<path fill="#2b00ad" d="M124.8 448.3l-2.7-2 1.5 1 2.7 1.9z"/>
<path fill="#2d00a5" d="M127.6 450.3l-2.8-2 1.5 .9 2.8 1.9zM130.3 452.2l-2.7-1.9 1.5 .8 2.7 1.8z"/>
<path fill="#2e009f" d="M133.1 454l-2.8-1.8 1.5 .7 2.8 1.8zM135.8 455.9l-2.7-1.9 1.5 .7 2.7 1.7z"/>
<path fill="#2e009a" d="M138.6 457.7l-2.8-1.8 1.5 .5 2.7 1.7zM141.4 459.4l-2.8-1.7 1.4 .4 2.8 1.6z"/>
<path fill="#2f0095" d="M144.1 461l-2.7-1.6 1.4 .3 2.7 1.6zM146.9 462.6l-2.8-1.6 1.4 .3 2.8 1.5z"/>
<path fill="#300090" d="M149.7 464.2l-2.8-1.6 1.4 .2 2.8 1.4zM152.5 465.7l-2.8-1.5 1.4 0 2.7 1.4z"/>
<path fill="#31008a" d="M155.3 467.1l-2.8-1.4 1.3-.1 2.8 1.3zM158 468.4l-2.7-1.3 1.3-.2 2.8 1.3zM160.8 469.7l-2.8-1.3 1.4-.2 2.8 1.2z"/>
<path fill="#310085" d="M163.7 470.9l-2.9-1.2 1.4-.3 2.8 1.1zM166.5 472.1l-2.8-1.2 1.3-.4 2.8 1.1zM169.3 473.1l-2.8-1 1.3-.5 2.8 1zM172.1 474.1l-2.8-1 1.3-.5 2.8 .9zM175 475l-2.9-.9 1.3-.6 2.8 .8zM177.8 475.9l-2.8-.9 1.2-.7 2.9 .8z"/>
<path fill="#320080" d="M180.7 476.7l-2.9-.8 1.3-.8 2.8 .6zM183.5 477.3l-2.8-.6 1.2-1 2.9 .6zM186.4 477.9l-2.9-.6 1.3-1 2.9 .5z"/>
<path fill="#310085" d="M189.3 478.4l-2.9-.5 1.3-1.1 2.9 .4zM192.2 478.8l-2.9-.4 1.3-1.2 2.9 .2zM195.1 479.1l-2.9-.3 1.3-1.4 2.9 .2zM198.1 479.3l-3-.2 1.3-1.5 2.9-.1zM201 479.3l-2.9 0 1.2-1.8 3-.2z"/>
<path fill="#31008a" d="M204 479.2l-3 .1 1.3-2 2.9-.3zM207 478.9l-3 .3 1.2-2.2 3-.6z"/>
<path fill="#300090" d="M210 478.3l-3 .6 1.2-2.5 3-.8zM213 477.6l-3 .7 1.2-2.7 3.1-1.1z"/>
<path fill="#2f0095" d="M216.1 476.5l-3.1 1.1 1.3-3.1 3-1.4z"/>
<path fill="#2e009a" d="M219.2 475.1l-3.1 1.4 1.2-3.4 3.2-1.7z"/>
<path fill="#000bf4" d="M79.4 414.3l-2.7-2.6 1.8 1.6 2.7 2.1zM82.2 416.6l-2.8-2.3 1.8 1.1 2.7 2.2z"/>
<path fill="#0100fe" d="M84.9 418.8l-2.7-2.2 1.7 1 2.7 2.1z"/>
<path fill="#0600f8" d="M87.6 421l-2.7-2.2 1.7 .9 2.7 2z"/>
<path fill="#0b00f3" d="M90.3 423l-2.7-2 1.7 .7 2.7 2.1zM93.1 425.1l-2.8-2.1 1.7 .8 2.7 2.1z"/>
<path fill="#1000ed" d="M95.8 427.1l-2.7-2 1.6 .8 2.8 2z"/>
<path fill="#1500e7" d="M98.5 429.1l-2.7-2 1.7 .8 2.7 2.1zM101.3 431.1l-2.8-2 1.7 .9 2.7 2z"/>
<path fill="#1a00e1" d="M104 433.1l-2.7-2 1.6 .9 2.7 2.1z"/>
<path fill="#1e00db" d="M106.7 435.1l-2.7-2 1.6 1 2.8 2zM109.5 437.1l-2.8-2 1.7 1 2.7 2.1z"/>
<path fill="#2100d2" d="M112.2 439.2l-2.7-2.1 1.6 1.1 2.7 2.1z"/>
<path fill="#2300c9" d="M115 441.2l-2.8-2 1.6 1.1 2.8 2z"/>
<path fill="#2600c0" d="M117.7 443.2l-2.7-2 1.6 1.1 2.7 2zM120.5 445.3l-2.8-2.1 1.6 1.1 2.8 2z"/>
<path fill="#2800b6" d="M123.3 447.3l-2.8-2 1.6 1 2.7 2z"/>
<path fill="#2b00ad" d="M126 449.3l-2.7-2 1.5 1 2.8 2zM128.8 451.3l-2.8-2 1.6 1 2.7 1.9z"/>
<path fill="#2d00a5" d="M131.6 453.3l-2.8-2 1.5 .9 2.8 1.8zM134.3 455.2l-2.7-1.9 1.5 .7 2.7 1.9z"/>
<path fill="#2e009f" d="M137.1 457.1l-2.8-1.9 1.5 .7 2.8 1.8z"/>
<path fill="#2e009a" d="M139.9 458.9l-2.8-1.8 1.5 .6 2.8 1.7zM142.7 460.6l-2.8-1.7 1.5 .5 2.7 1.6z"/>
<path fill="#2f0095" d="M145.5 462.4l-2.8-1.8 1.4 .4 2.8 1.6zM148.3 464l-2.8-1.6 1.4 .2 2.8 1.6z"/>
<path fill="#300090" d="M151.1 465.6l-2.8-1.6 1.4 .2 2.8 1.5zM153.9 467.1l-2.8-1.5 1.4 .1 2.8 1.4zM156.7 468.6l-2.8-1.5 1.4 0 2.7 1.3z"/>
<path fill="#31008a" d="M159.5 469.9l-2.8-1.3 1.3-.2 2.8 1.3zM162.3 471.2l-2.8-1.3 1.3-.2 2.9 1.2zM165.1 472.5l-2.8-1.3 1.4-.3 2.8 1.2z"/>
<path fill="#310085" d="M168 473.6l-2.9-1.1 1.4-.4 2.8 1zM170.8 474.7l-2.8-1.1 1.3-.5 2.8 1zM173.7 475.7l-2.9-1 1.3-.6 2.9 .9zM176.5 476.7l-2.8-1 1.3-.7 2.8 .9zM179.4 477.5l-2.9-.8 1.3-.8 2.9 .8zM182.3 478.3l-2.9-.8 1.3-.8 2.8 .6zM185.2 479l-2.9-.7 1.2-1 2.9 .6zM188.1 479.6l-2.9-.6 1.2-1.1 2.9 .5zM191 480.2l-2.9-.6 1.2-1.2 2.9 .4zM193.9 480.6l-2.9-.4 1.2-1.4 2.9 .3zM196.8 481l-2.9-.4 1.2-1.5 3 .2zM199.8 481.2l-3-.2 1.3-1.7 2.9 0zM202.8 481.3l-3-.1 1.2-1.9 3-.1z"/>
<path fill="#31008a" d="M205.8 481.2l-3 .1 1.2-2.1 3-.3zM208.8 481l-3 .2 1.2-2.3 3-.6z"/>
<path fill="#300090" d="M211.8 480.5l-3 .5 1.2-2.7 3-.7zM214.9 479.8l-3.1 .7 1.2-2.9 3.1-1.1z"/>
<path fill="#2f0095" d="M218 478.8l-3.1 1 1.2-3.3 3.1-1.4z"/>
<path fill="#0026dc" d="M77.6 413l-2.8-2.7 1.9 1.4 2.7 2.6z"/>
<path fill="#0019e8" d="M80.4 415.6l-2.8-2.6 1.8 1.3 2.8 2.3z"/>
<path fill="#000bf4" d="M83.1 417.9l-2.7-2.3 1.8 1 2.7 2.2z"/>
<path fill="#0100fe" d="M85.9 420l-2.8-2.1 1.8 .9 2.7 2.2z"/>
<path fill="#0600f8" d="M88.6 422.1l-2.7-2.1 1.7 1 2.7 2zM91.4 424.1l-2.8-2 1.7 .9 2.8 2.1z"/>
<path fill="#0b00f3" d="M94.1 426.1l-2.7-2 1.7 1 2.7 2z"/>
<path fill="#1000ed" d="M96.8 428.1l-2.7-2 1.7 1 2.7 2zM99.6 430l-2.8-1.9 1.7 1 2.8 2z"/>
<path fill="#1500e7" d="M102.3 432l-2.7-2 1.7 1.1 2.7 2z"/>
<path fill="#1a00e1" d="M105.1 434l-2.8-2 1.7 1.1 2.7 2zM107.8 436l-2.7-2 1.6 1.1 2.8 2z"/>
<path fill="#1e00db" d="M110.6 438l-2.8-2 1.7 1.1 2.7 2.1z"/>
<path fill="#2100d2" d="M113.4 440l-2.8-2 1.6 1.2 2.8 2zM116.1 442.1l-2.7-2.1 1.6 1.2 2.7 2z"/>
<path fill="#2300c9" d="M118.9 444.1l-2.8-2 1.6 1.1 2.8 2.1z"/>
<path fill="#2600c0" d="M121.7 446.2l-2.8-2.1 1.6 1.2 2.8 2z"/>
<path fill="#2800b6" d="M124.5 448.3l-2.8-2.1 1.6 1.1 2.7 2zM127.3 450.3l-2.8-2 1.5 1 2.8 2z"/>
<path fill="#2b00ad" d="M130.1 452.4l-2.8-2.1 1.5 1 2.8 2z"/>
<path fill="#2d00a5" d="M132.8 454.4l-2.7-2 1.5 .9 2.7 1.9zM135.6 456.3l-2.8-1.9 1.5 .8 2.8 1.9z"/>
<path fill="#2e009f" d="M138.4 458.2l-2.8-1.9 1.5 .8 2.8 1.8zM141.2 460.1l-2.8-1.9 1.5 .7 2.8 1.7z"/>
<path fill="#2e009a" d="M144 461.9l-2.8-1.8 1.5 .5 2.8 1.8zM146.9 463.7l-2.9-1.8 1.5 .5 2.8 1.6z"/>
<path fill="#2f0095" d="M149.7 465.4l-2.8-1.7 1.4 .3 2.8 1.6zM152.5 467l-2.8-1.6 1.4 .2 2.8 1.5z"/>
<path fill="#300090" d="M155.3 468.6l-2.8-1.6 1.4 .1 2.8 1.5zM158.1 470l-2.8-1.4 1.4 0 2.8 1.3z"/>
<path fill="#31008a" d="M161 471.5l-2.9-1.5 1.4-.1 2.8 1.3zM163.8 472.8l-2.8-1.3 1.3-.3 2.8 1.3zM166.6 474l-2.8-1.2 1.3-.3 2.9 1.1zM169.5 475.2l-2.9-1.2 1.4-.4 2.8 1.1z"/>
<path fill="#310085" d="M172.4 476.3l-2.9-1.1 1.3-.5 2.9 1zM175.2 477.4l-2.8-1.1 1.3-.6 2.8 1zM178.1 478.4l-2.9-1 1.3-.7 2.9 .8zM181 479.3l-2.9-.9 1.3-.9 2.9 .8zM183.9 480.1l-2.9-.8 1.3-1 2.9 .7zM186.8 480.8l-2.9-.7 1.3-1.1 2.9 .6zM189.7 481.5l-2.9-.7 1.3-1.2 2.9 .6zM192.7 482.1l-3-.6 1.3-1.3 2.9 .4zM195.6 482.6l-2.9-.5 1.2-1.5 2.9 .4zM198.6 483l-3-.4 1.2-1.6 3 .2zM201.5 483.3l-2.9-.3 1.2-1.8 3 .1zM204.5 483.5l-3-.2 1.3-2 3-.1z"/>
<path fill="#31008a" d="M207.5 483.5l-3 0 1.3-2.3 3-.2zM210.6 483.3l-3.1 .2 1.3-2.5 3-.5z"/>
<path fill="#300090" d="M213.6 483l-3 .3 1.2-2.8 3.1-.7zM216.7 482.3l-3.1 .7 1.3-3.2 3.1-1z"/>
<path fill="#0034cf" d="M75.8 411.8l-2.8-2.8 1.8 1.3 2.8 2.7z"/>
<path fill="#0026dc" d="M78.6 414.4l-2.8-2.6 1.8 1.2 2.8 2.6z"/>
<path fill="#0019e8" d="M81.4 416.8l-2.8-2.4 1.8 1.2 2.7 2.3z"/>
<path fill="#000bf4" d="M84.1 419l-2.7-2.2 1.7 1.1 2.8 2.1z"/>
<path fill="#0100fe" d="M86.9 421l-2.8-2 1.8 1 2.7 2.1zM89.6 423l-2.7-2 1.7 1.1 2.8 2z"/>
<path fill="#0600f8" d="M92.4 425l-2.8-2 1.8 1.1 2.7 2z"/>
<path fill="#0b00f3" d="M95.1 426.9l-2.7-1.9 1.7 1.1 2.7 2zM97.9 428.9l-2.8-2 1.7 1.2 2.8 1.9z"/>
<path fill="#1000ed" d="M100.6 430.8l-2.7-1.9 1.7 1.1 2.7 2z"/>
<path fill="#1500e7" d="M103.4 432.8l-2.8-2 1.7 1.2 2.8 2zM106.2 434.8l-2.8-2 1.7 1.2 2.7 2z"/>
<path fill="#1a00e1" d="M109 436.8l-2.8-2 1.6 1.2 2.8 2z"/>
<path fill="#1e00db" d="M111.7 438.8l-2.7-2 1.6 1.2 2.8 2zM114.5 440.9l-2.8-2.1 1.7 1.2 2.7 2.1z"/>
<path fill="#2100d2" d="M117.3 443l-2.8-2.1 1.6 1.2 2.8 2z"/>
<path fill="#2300c9" d="M120.1 445.1l-2.8-2.1 1.6 1.1 2.8 2.1zM122.9 447.2l-2.8-2.1 1.6 1.1 2.8 2.1z"/>
<path fill="#2600c0" d="M125.7 449.3l-2.8-2.1 1.6 1.1 2.8 2z"/>
<path fill="#2800b6" d="M128.5 451.4l-2.8-2.1 1.6 1 2.8 2.1z"/>
<path fill="#2b00ad" d="M131.3 453.5l-2.8-2.1 1.6 1 2.7 2zM134.1 455.5l-2.8-2 1.5 .9 2.8 1.9z"/>
<path fill="#2d00a5" d="M137 457.5l-2.9-2 1.5 .8 2.8 1.9zM139.8 459.5l-2.8-2 1.4 .7 2.8 1.9z"/>
<path fill="#2e009f" d="M142.6 461.4l-2.8-1.9 1.4 .6 2.8 1.8z"/>
<path fill="#2e009a" d="M145.4 463.3l-2.8-1.9 1.4 .5 2.9 1.8zM148.2 465.1l-2.8-1.8 1.5 .4 2.8 1.7z"/>
<path fill="#2f0095" d="M151.1 466.8l-2.9-1.7 1.5 .3 2.8 1.6zM153.9 468.5l-2.8-1.7 1.4 .2 2.8 1.6z"/>
<path fill="#300090" d="M156.7 470.1l-2.8-1.6 1.4 .1 2.8 1.4zM159.6 471.6l-2.9-1.5 1.4-.1 2.9 1.5zM162.4 473l-2.8-1.4 1.4-.1 2.8 1.3z"/>
<path fill="#31008a" d="M165.3 474.4l-2.9-1.4 1.4-.2 2.8 1.2zM168.2 475.7l-2.9-1.3 1.3-.4 2.9 1.2zM171 476.9l-2.8-1.2 1.3-.5 2.9 1.1z"/>
<path fill="#310085" d="M173.9 478.1l-2.9-1.2 1.4-.6 2.8 1.1zM176.8 479.2l-2.9-1.1 1.3-.7 2.9 1zM179.7 480.2l-2.9-1 1.3-.8 2.9 .9zM182.6 481.2l-2.9-1 1.3-.9 2.9 .8zM185.5 482l-2.9-.8 1.3-1.1 2.9 .7zM188.5 482.9l-3-.9 1.3-1.2 2.9 .7zM191.4 483.6l-2.9-.7 1.2-1.4 3 .6zM194.3 484.3l-2.9-.7 1.3-1.5 2.9 .5zM197.3 484.8l-3-.5 1.3-1.7 3 .4zM200.3 485.3l-3-.5 1.3-1.8 2.9 .3zM203.3 485.7l-3-.4 1.2-2 3 .2zM206.3 486l-3-.3 1.2-2.2 3 0z"/>
<path fill="#31008a" d="M209.3 486.1l-3-.1 1.2-2.5 3.1-.2zM212.4 486l-3.1 .1 1.3-2.8 3-.3zM215.4 485.7l-3 .3 1.2-3 3.1-.7z"/>
<path fill="#0042bf" d="M74 410.6l-2.8-2.7 1.8 1.1 2.8 2.8z"/>
<path fill="#0034cf" d="M76.8 413.2l-2.8-2.6 1.8 1.2 2.8 2.6z"/>
<path fill="#0026dc" d="M79.6 415.5l-2.8-2.3 1.8 1.2 2.8 2.4z"/>
<path fill="#0019e8" d="M82.3 417.6l-2.7-2.1 1.8 1.3 2.7 2.2z"/>
<path fill="#000bf4" d="M85.1 419.7l-2.8-2.1 1.8 1.4 2.8 2zM87.9 421.7l-2.8-2 1.8 1.3 2.7 2z"/>
<path fill="#0100fe" d="M90.6 423.7l-2.7-2 1.7 1.3 2.8 2z"/>
<path fill="#0600f8" d="M93.4 425.6l-2.8-1.9 1.8 1.3 2.7 1.9zM96.2 427.6l-2.8-2 1.7 1.3 2.8 2z"/>
<path fill="#0b00f3" d="M98.9 429.5l-2.7-1.9 1.7 1.3 2.7 1.9z"/>
<path fill="#1000ed" d="M101.7 431.5l-2.8-2 1.7 1.3 2.8 2zM104.5 433.5l-2.8-2 1.7 1.3 2.8 2z"/>
<path fill="#1500e7" d="M107.3 435.5l-2.8-2 1.7 1.3 2.8 2z"/>
<path fill="#1a00e1" d="M110.1 437.6l-2.8-2.1 1.7 1.3 2.7 2zM112.9 439.7l-2.8-2.1 1.6 1.2 2.8 2.1z"/>
<path fill="#1e00db" d="M115.7 441.8l-2.8-2.1 1.6 1.2 2.8 2.1z"/>
<path fill="#2100d2" d="M118.5 443.9l-2.8-2.1 1.6 1.2 2.8 2.1zM121.3 446.1l-2.8-2.2 1.6 1.2 2.8 2.1z"/>
<path fill="#2300c9" d="M124.1 448.2l-2.8-2.1 1.6 1.1 2.8 2.1z"/>
<path fill="#2600c0" d="M127 450.4l-2.9-2.2 1.6 1.1 2.8 2.1z"/>
<path fill="#2800b6" d="M129.8 452.5l-2.8-2.1 1.5 1 2.8 2.1zM132.6 454.6l-2.8-2.1 1.5 1 2.8 2z"/>
<path fill="#2b00ad" d="M135.4 456.7l-2.8-2.1 1.5 .9 2.9 2z"/>
<path fill="#2d00a5" d="M138.3 458.7l-2.9-2 1.6 .8 2.8 2zM141.1 460.8l-2.8-2.1 1.5 .8 2.8 1.9z"/>
<path fill="#2e009f" d="M144 462.7l-2.9-1.9 1.5 .6 2.8 1.9zM146.8 464.6l-2.8-1.9 1.4 .6 2.8 1.8z"/>
<path fill="#2e009a" d="M149.6 466.5l-2.8-1.9 1.4 .5 2.9 1.7zM152.5 468.2l-2.9-1.7 1.5 .3 2.8 1.7z"/>
<path fill="#2f0095" d="M155.3 469.9l-2.8-1.7 1.4 .3 2.8 1.6zM158.2 471.6l-2.9-1.7 1.4 .2 2.9 1.5z"/>
<path fill="#300090" d="M161.1 473.2l-2.9-1.6 1.4 0 2.8 1.4zM163.9 474.7l-2.8-1.5 1.3-.2 2.9 1.4z"/>
<path fill="#31008a" d="M166.8 476.1l-2.9-1.4 1.4-.3 2.9 1.3zM169.7 477.5l-2.9-1.4 1.4-.4 2.8 1.2zM172.6 478.8l-2.9-1.3 1.3-.6 2.9 1.2z"/>
<path fill="#310085" d="M175.5 480l-2.9-1.2 1.3-.7 2.9 1.1zM178.4 481.2l-2.9-1.2 1.3-.8 2.9 1zM181.3 482.3l-2.9-1.1 1.3-1 2.9 1zM184.2 483.3l-2.9-1 1.3-1.1 2.9 .8zM187.2 484.2l-3-.9 1.3-1.3 3 .9zM190.1 485.1l-2.9-.9 1.3-1.3 2.9 .7zM193.1 485.9l-3-.8 1.3-1.5 2.9 .7zM196.1 486.7l-3-.8 1.2-1.6 3 .5zM199 487.3l-2.9-.6 1.2-1.9 3 .5zM202 487.9l-3-.6 1.3-2 3 .4zM205.1 488.3l-3.1-.4 1.3-2.2 3 .3zM208.1 488.7l-3-.4 1.2-2.3 3 .1zM211.1 488.9l-3-.2 1.2-2.6 3.1-.1z"/>
<path fill="#31008a" d="M214.2 488.9l-3.1 0 1.3-2.9 3-.3z"/>
<path fill="#0052a9" d="M72.1 409.5l-2.8-2.5 1.9 .9 2.8 2.7z"/>
<path fill="#0042bf" d="M74.9 411.8l-2.8-2.3 1.9 1.1 2.8 2.6z"/>
<path fill="#0034cf" d="M77.7 414l-2.8-2.2 1.9 1.4 2.8 2.3z"/>
<path fill="#0026dc" d="M80.5 416.1l-2.8-2.1 1.9 1.5 2.7 2.1z"/>
<path fill="#0019e8" d="M83.3 418.1l-2.8-2 1.8 1.5 2.8 2.1zM86 420.1l-2.7-2 1.8 1.6 2.8 2z"/>
<path fill="#000bf4" d="M88.8 422.1l-2.8-2 1.9 1.6 2.7 2z"/>
<path fill="#0100fe" d="M91.6 424.1l-2.8-2 1.8 1.6 2.8 1.9zM94.4 426.1l-2.8-2 1.8 1.5 2.8 2z"/>
<path fill="#0600f8" d="M97.2 428.2l-2.8-2.1 1.8 1.5 2.7 1.9z"/>
<path fill="#0b00f3" d="M100 430.2l-2.8-2 1.7 1.3 2.8 2zM102.8 432.3l-2.8-2.1 1.7 1.3 2.8 2z"/>
<path fill="#1000ed" d="M105.6 434.3l-2.8-2 1.7 1.2 2.8 2z"/>
<path fill="#1500e7" d="M108.4 436.5l-2.8-2.2 1.7 1.2 2.8 2.1zM111.2 438.6l-2.8-2.1 1.7 1.1 2.8 2.1z"/>
<path fill="#1a00e1" d="M114.1 440.7l-2.9-2.1 1.7 1.1 2.8 2.1z"/>
<path fill="#1e00db" d="M116.9 442.9l-2.8-2.2 1.6 1.1 2.8 2.1zM119.7 445.1l-2.8-2.2 1.6 1 2.8 2.2z"/>
<path fill="#2100d2" d="M122.6 447.2l-2.9-2.1 1.6 1 2.8 2.1z"/>
<path fill="#2300c9" d="M125.4 449.4l-2.8-2.2 1.5 1 2.9 2.2z"/>
<path fill="#2600c0" d="M128.2 451.6l-2.8-2.2 1.6 1 2.8 2.1zM131.1 453.7l-2.9-2.1 1.6 .9 2.8 2.1z"/>
<path fill="#2800b6" d="M133.9 455.9l-2.8-2.2 1.5 .9 2.8 2.1z"/>
<path fill="#2b00ad" d="M136.8 458l-2.9-2.1 1.5 .8 2.9 2zM139.6 460l-2.8-2 1.5 .7 2.8 2.1z"/>
<path fill="#2d00a5" d="M142.5 462.1l-2.9-2.1 1.5 .8 2.9 1.9z"/>
<path fill="#2e009f" d="M145.3 464.1l-2.8-2 1.5 .6 2.8 1.9zM148.2 466l-2.9-1.9 1.5 .5 2.8 1.9z"/>
<path fill="#2e009a" d="M151.1 467.9l-2.9-1.9 1.4 .5 2.9 1.7zM153.9 469.7l-2.8-1.8 1.4 .3 2.8 1.7z"/>
<path fill="#2f0095" d="M156.8 471.5l-2.9-1.8 1.4 .2 2.9 1.7zM159.7 473.2l-2.9-1.7 1.4 .1 2.9 1.6z"/>
<path fill="#300090" d="M162.6 474.9l-2.9-1.7 1.4 0 2.8 1.5zM165.5 476.5l-2.9-1.6 1.3-.2 2.9 1.4z"/>
<path fill="#31008a" d="M168.4 478l-2.9-1.5 1.3-.4 2.9 1.4zM171.3 479.5l-2.9-1.5 1.3-.5 2.9 1.3zM174.2 480.9l-2.9-1.4 1.3-.7 2.9 1.2z"/>
<path fill="#310085" d="M177.1 482.2l-2.9-1.3 1.3-.9 2.9 1.2zM180 483.4l-2.9-1.2 1.3-1 2.9 1.1zM182.9 484.6l-2.9-1.2 1.3-1.1 2.9 1zM185.9 485.7l-3-1.1 1.3-1.3 3 .9zM188.8 486.8l-2.9-1.1 1.3-1.5 2.9 .9zM191.8 487.7l-3-.9 1.3-1.7 3 .8z"/>
<path fill="#320080" d="M194.8 488.6l-3-.9 1.3-1.8 3 .8zM197.8 489.4l-3-.8 1.3-1.9 2.9 .6zM200.8 490.1l-3-.7 1.2-2.1 3 .6zM203.8 490.7l-3-.6 1.2-2.2 3.1 .4z"/>
<path fill="#310085" d="M206.8 491.2l-3-.5 1.3-2.4 3 .4zM209.9 491.6l-3.1-.4 1.3-2.5 3 .2zM212.9 491.8l-3-.2 1.2-2.7 3.1 0z"/>
<path fill="#0052a9" d="M70.3 408.3l-2.8-1.8 1.8 .5 2.8 2.5zM73.1 410.2l-2.8-1.9 1.8 1.2 2.8 2.3z"/>
<path fill="#0042bf" d="M75.8 412.2l-2.7-2 1.8 1.6 2.8 2.2z"/>
<path fill="#0034cf" d="M78.6 414.2l-2.8-2 1.9 1.8 2.8 2.1zM81.4 416.2l-2.8-2 1.9 1.9 2.8 2z"/>
<path fill="#0026dc" d="M84.2 418.2l-2.8-2 1.9 1.9 2.7 2z"/>
<path fill="#0019e8" d="M87 420.3l-2.8-2.1 1.8 1.9 2.8 2zM89.8 422.4l-2.8-2.1 1.8 1.8 2.8 2z"/>
<path fill="#000bf4" d="M92.6 424.6l-2.8-2.2 1.8 1.7 2.8 2z"/>
<path fill="#0100fe" d="M95.4 426.7l-2.8-2.1 1.8 1.5 2.8 2.1zM98.3 428.9l-2.9-2.2 1.8 1.5 2.8 2z"/>
<path fill="#0600f8" d="M101.1 431.1l-2.8-2.2 1.7 1.3 2.8 2.1z"/>
<path fill="#0b00f3" d="M103.9 433.2l-2.8-2.1 1.7 1.2 2.8 2z"/>
<path fill="#1000ed" d="M106.7 435.4l-2.8-2.2 1.7 1.1 2.8 2.2zM109.6 437.6l-2.9-2.2 1.7 1.1 2.8 2.1z"/>
<path fill="#1500e7" d="M112.4 439.8l-2.8-2.2 1.6 1 2.9 2.1z"/>
<path fill="#1a00e1" d="M115.3 442l-2.9-2.2 1.7 .9 2.8 2.2zM118.1 444.2l-2.8-2.2 1.6 .9 2.8 2.2z"/>
<path fill="#1e00db" d="M121 446.4l-2.9-2.2 1.6 .9 2.9 2.1z"/>
<path fill="#2100d2" d="M123.8 448.6l-2.8-2.2 1.6 .8 2.8 2.2z"/>
<path fill="#2300c9" d="M126.7 450.8l-2.9-2.2 1.6 .8 2.8 2.2zM129.5 452.9l-2.8-2.1 1.5 .8 2.9 2.1z"/>
<path fill="#2600c0" d="M132.4 455.1l-2.9-2.2 1.6 .8 2.8 2.2z"/>
<path fill="#2800b6" d="M135.2 457.2l-2.8-2.1 1.5 .8 2.9 2.1zM138.1 459.3l-2.9-2.1 1.6 .8 2.8 2z"/>
<path fill="#2b00ad" d="M141 461.4l-2.9-2.1 1.5 .7 2.9 2.1z"/>
<path fill="#2d00a5" d="M143.9 463.4l-2.9-2 1.5 .7 2.8 2zM146.7 465.4l-2.8-2 1.4 .7 2.9 1.9z"/>
<path fill="#2e009f" d="M149.6 467.4l-2.9-2 1.5 .6 2.9 1.9z"/>
<path fill="#2e009a" d="M152.5 469.4l-2.9-2 1.5 .5 2.8 1.8zM155.4 471.3l-2.9-1.9 1.4 .3 2.9 1.8z"/>
<path fill="#2f0095" d="M158.3 473.2l-2.9-1.9 1.4 .2 2.9 1.7zM161.2 475l-2.9-1.8 1.4 0 2.9 1.7z"/>
<path fill="#300090" d="M164.1 476.8l-2.9-1.8 1.4-.1 2.9 1.6zM167 478.5l-2.9-1.7 1.4-.3 2.9 1.5z"/>
<path fill="#31008a" d="M169.9 480.1l-2.9-1.6 1.4-.5 2.9 1.5zM172.8 481.7l-2.9-1.6 1.4-.6 2.9 1.4zM175.8 483.2l-3-1.5 1.4-.8 2.9 1.3z"/>
<path fill="#310085" d="M178.7 484.7l-2.9-1.5 1.3-1 2.9 1.2zM181.6 486.1l-2.9-1.4 1.3-1.3 2.9 1.2zM184.6 487.3l-3-1.2 1.3-1.5 3 1.1zM187.6 488.5l-3-1.2 1.3-1.6 2.9 1.1z"/>
<path fill="#320080" d="M190.5 489.6l-2.9-1.1 1.2-1.7 3 .9zM193.5 490.6l-3-1 1.3-1.9 3 .9zM194.1 490.8l-.6-.2 1.3-2 3 .8-1 1.6zM196.8 491l1-1.6 3 .7-.8 1.4zM200 491.5l.8-1.4 3 .6-.8 1.5zM203 492.2l.8-1.5 3 .5-1 1.9zM208.6 494l-.6-.1-2.2-.8 1-1.9 3.1 .4zM211.7 494.4l-3.1-.4 1.3-2.4 3 .2z"/></g>
<text x="57.8" y="225.6" text-anchor="end">0</text>
<text x="56.4" y="206.7" text-anchor="end">10</text>
<text x="54.9" y="187.2" text-anchor="end">20</text>
<text x="53.3" y="167.1" text-anchor="end">30</text>
<text x="51.7" y="146.3" text-anchor="end">40</text>
<text x="50.1" y="124.9" text-anchor="end">50</text>
<text x="48.4" y="102.7" text-anchor="end">60</text>
<text x="196.8" y="262.2" text-anchor="end">0</text>
<text x="179.7" y="258.2" text-anchor="end">2</text>
<text x="163" y="254.2" text-anchor="end">4</text>
<text x="146.6" y="250.4" text-anchor="end">6</text>
<text x="130.6" y="246.6" text-anchor="end">8</text>
<text x="114.9" y="242.9" text-anchor="end">10</text>
<text x="99.5" y="239.3" text-anchor="end">12</text>
<text x="84.5" y="235.7" text-anchor="end">14</text>
<text x="69.7" y="232.3" text-anchor="end">16</text>
<text x="202.9" y="257.4">0</text>
<text x="212.6" y="245.2">1</text>
<text x="221.7" y="233.7">2</text>
<text x="230.2" y="223">3</text>
<text x="238.2" y="212.9">4</text>
<text x="245.7" y="203.3">5</text>
<text x="252.8" y="194.4">6</text>
<text class="t" text-anchor="middle" transform="translate(38.4,163.2) rotate(-93)">Laccase activity (U·L<tspan dy="-3.2" font-size="5">-1</tspan><tspan dy="3.2">)</tspan></text>
<text class="t" text-anchor="middle" transform="translate(125,261.4) rotate(12.5) skewX(-14)">Mn (mg/kg)</text>
<text class="t" text-anchor="middle" transform="translate(245.9,224.2) rotate(-50) skewX(-10)">Cu (mg/kg)</text>
<text x="416.1" y="224.9" text-anchor="end">5</text>
<text x="414.9" y="208.8" text-anchor="end">10</text>
<text x="413.6" y="192.3" text-anchor="end">15</text>
<text x="412.3" y="175.4" text-anchor="end">20</text>
<text x="411" y="158" text-anchor="end">25</text>
<text x="409.6" y="140.3" text-anchor="end">30</text>
<text x="408.2" y="122" text-anchor="end">35</text>
<text x="406.8" y="103.3" text-anchor="end">40</text>
<text x="559.1" y="261.2" text-anchor="end">0</text>
<text x="541.5" y="257.2" text-anchor="end">2</text>
<text x="524.3" y="253.3" text-anchor="end">4</text>
<text x="507.4" y="249.4" text-anchor="end">6</text>
<text x="490.9" y="245.7" text-anchor="end">8</text>
<text x="474.8" y="242.1" text-anchor="end">10</text>
<text x="459" y="238.5" text-anchor="end">12</text>
<text x="443.5" y="235" text-anchor="end">14</text>
<text x="428.3" y="231.5" text-anchor="end">16</text>
<text x="565.2" y="256.4">0</text>
<text x="575.4" y="244.3">1</text>
<text x="584.9" y="233">2</text>
<text x="593.9" y="222.4">3</text>
<text x="602.5" y="212.3">4</text>
<text x="610.5" y="202.8">5</text>
<text x="618.1" y="193.9">6</text>
<text class="t" text-anchor="middle" transform="translate(396.5,162.7) rotate(-93)">MnP activity (U·L<tspan dy="-3.2" font-size="5">-1</tspan><tspan dy="3.2">)</tspan></text>
<text class="t" text-anchor="middle" transform="translate(485.4,260.6) rotate(12.5) skewX(-14)">Mn (mg/kg)</text>
<text class="t" text-anchor="middle" transform="translate(610.2,223.6) rotate(-50) skewX(-10)">Cu (mg/kg)</text>
<text x="69.4" y="468" text-anchor="end">0</text>
<text x="67.1" y="440.1" text-anchor="end">5</text>
<text x="64.8" y="411" text-anchor="end">10</text>
<text x="62.4" y="380.5" text-anchor="end">15</text>
<text x="59.8" y="348.5" text-anchor="end">20</text>
<text x="209.3" y="503.3" text-anchor="end">0</text>
<text x="192.1" y="499.4" text-anchor="end">2</text>
<text x="175.2" y="495.6" text-anchor="end">4</text>
<text x="158.7" y="491.9" text-anchor="end">6</text>
<text x="142.6" y="488.3" text-anchor="end">8</text>
<text x="126.8" y="484.8" text-anchor="end">10</text>
<text x="111.3" y="481.3" text-anchor="end">12</text>
<text x="96.2" y="477.9" text-anchor="end">14</text>
<text x="81.3" y="474.6" text-anchor="end">16</text>
<text x="215.4" y="498.5">0</text>
<text x="225.2" y="486.6">1</text>
<text x="234.3" y="475.6">2</text>
<text x="242.9" y="465.2">3</text>
<text x="251" y="455.4">4</text>
<text x="258.6" y="446.2">5</text>
<text x="265.8" y="437.5">6</text>
<text class="t" text-anchor="middle" transform="translate(50.6,407.4) rotate(-93)">MniP activity (U·L<tspan dy="-3.2" font-size="5">-1</tspan><tspan dy="3.2">)</tspan></text>
<text class="t" text-anchor="middle" transform="translate(137.1,503.1) rotate(12.5) skewX(-14)">Mn (mg/kg)</text>
<text class="t" text-anchor="middle" transform="translate(259.1,466.5) rotate(-50) skewX(-10)">Cu (mg/kg)</text>
<rect x="286.2" y="90.2" width="38.5" height="66" fill="#fff" stroke="#444" stroke-width=".8"/>
<rect x="291.1" y="96.1" width="15.7" height="4.7" fill="#160a78" stroke="#222" stroke-width=".6"/>
<text x="310.7" y="100.8">0</text>
<rect x="291.1" y="104.2" width="15.7" height="4.7" fill="#0000c8" stroke="#222" stroke-width=".6"/>
<text x="310.7" y="109">10</text>
<rect x="291.1" y="112.4" width="15.7" height="4.7" fill="#0037c8" stroke="#222" stroke-width=".6"/>
<text x="310.7" y="117.1">20</text>
<rect x="291.1" y="120.5" width="15.7" height="4.7" fill="#00be00" stroke="#222" stroke-width=".6"/>
<text x="310.7" y="125.3">30</text>
<rect x="291.1" y="128.7" width="15.7" height="4.7" fill="#c8f000" stroke="#222" stroke-width=".6"/>
<text x="310.7" y="133.4">40</text>
<rect x="291.1" y="136.8" width="15.7" height="4.7" fill="#ffc300" stroke="#222" stroke-width=".6"/>
<text x="310.7" y="141.6">50</text>
<rect x="291.1" y="145" width="15.7" height="4.7" fill="#ff6400" stroke="#222" stroke-width=".6"/>
<text x="310.7" y="149.7">60</text>
<rect x="645.1" y="137.4" width="39" height="74.2" fill="#fff" stroke="#444" stroke-width=".8"/>
<rect x="650.1" y="143.2" width="15.9" height="4.8" fill="#1a0a7a" stroke="#222" stroke-width=".6"/>
<text x="669.9" y="148">5</text>
<rect x="650.1" y="151.4" width="15.9" height="4.8" fill="#0000aa" stroke="#222" stroke-width=".6"/>
<text x="669.9" y="156.2">10</text>
<rect x="650.1" y="159.7" width="15.9" height="4.8" fill="#0000ff" stroke="#222" stroke-width=".6"/>
<text x="669.9" y="164.5">15</text>
<rect x="650.1" y="167.9" width="15.9" height="4.8" fill="#008866" stroke="#222" stroke-width=".6"/>
<text x="669.9" y="172.8">20</text>
<rect x="650.1" y="176.2" width="15.9" height="4.8" fill="#55dd00" stroke="#222" stroke-width=".6"/>
<text x="669.9" y="181">25</text>
<rect x="650.1" y="184.4" width="15.9" height="4.8" fill="#ffff00" stroke="#222" stroke-width=".6"/>
<text x="669.9" y="189.2">30</text>
<rect x="650.1" y="192.7" width="15.9" height="4.8" fill="#ffaa00" stroke="#222" stroke-width=".6"/>
<text x="669.9" y="197.5">35</text>
<rect x="650.1" y="200.9" width="15.9" height="4.8" fill="#ff5500" stroke="#222" stroke-width=".6"/>
<text x="669.9" y="205.8">40</text>
<rect x="298.3" y="335.8" width="38.6" height="48.2" fill="#fff" stroke="#444" stroke-width=".8"/>
<rect x="303.4" y="341.4" width="15.6" height="5" fill="#0a0a7a" stroke="#222" stroke-width=".6"/>
<text x="322.7" y="346.3">0</text>
<rect x="303.4" y="349.4" width="15.6" height="5" fill="#0000ff" stroke="#222" stroke-width=".6"/>
<text x="322.7" y="354.3">5</text>
<rect x="303.4" y="357.4" width="15.6" height="5" fill="#00bb00" stroke="#222" stroke-width=".6"/>
<text x="322.7" y="362.3">10</text>
<rect x="303.4" y="365.4" width="15.6" height="5" fill="#ffff00" stroke="#222" stroke-width=".6"/>
<text x="322.7" y="370.3">15</text>
<rect x="303.4" y="373.4" width="15.6" height="5" fill="#ff8800" stroke="#222" stroke-width=".6"/>
<text x="322.7" y="378.3">20</text>
<text class="h" x="-0.3" y="12.8">A)</text><text class="h" x="389" y="12.4">B)</text><text class="h" x="0" y="288">C)</text>
</svg></body></html>
